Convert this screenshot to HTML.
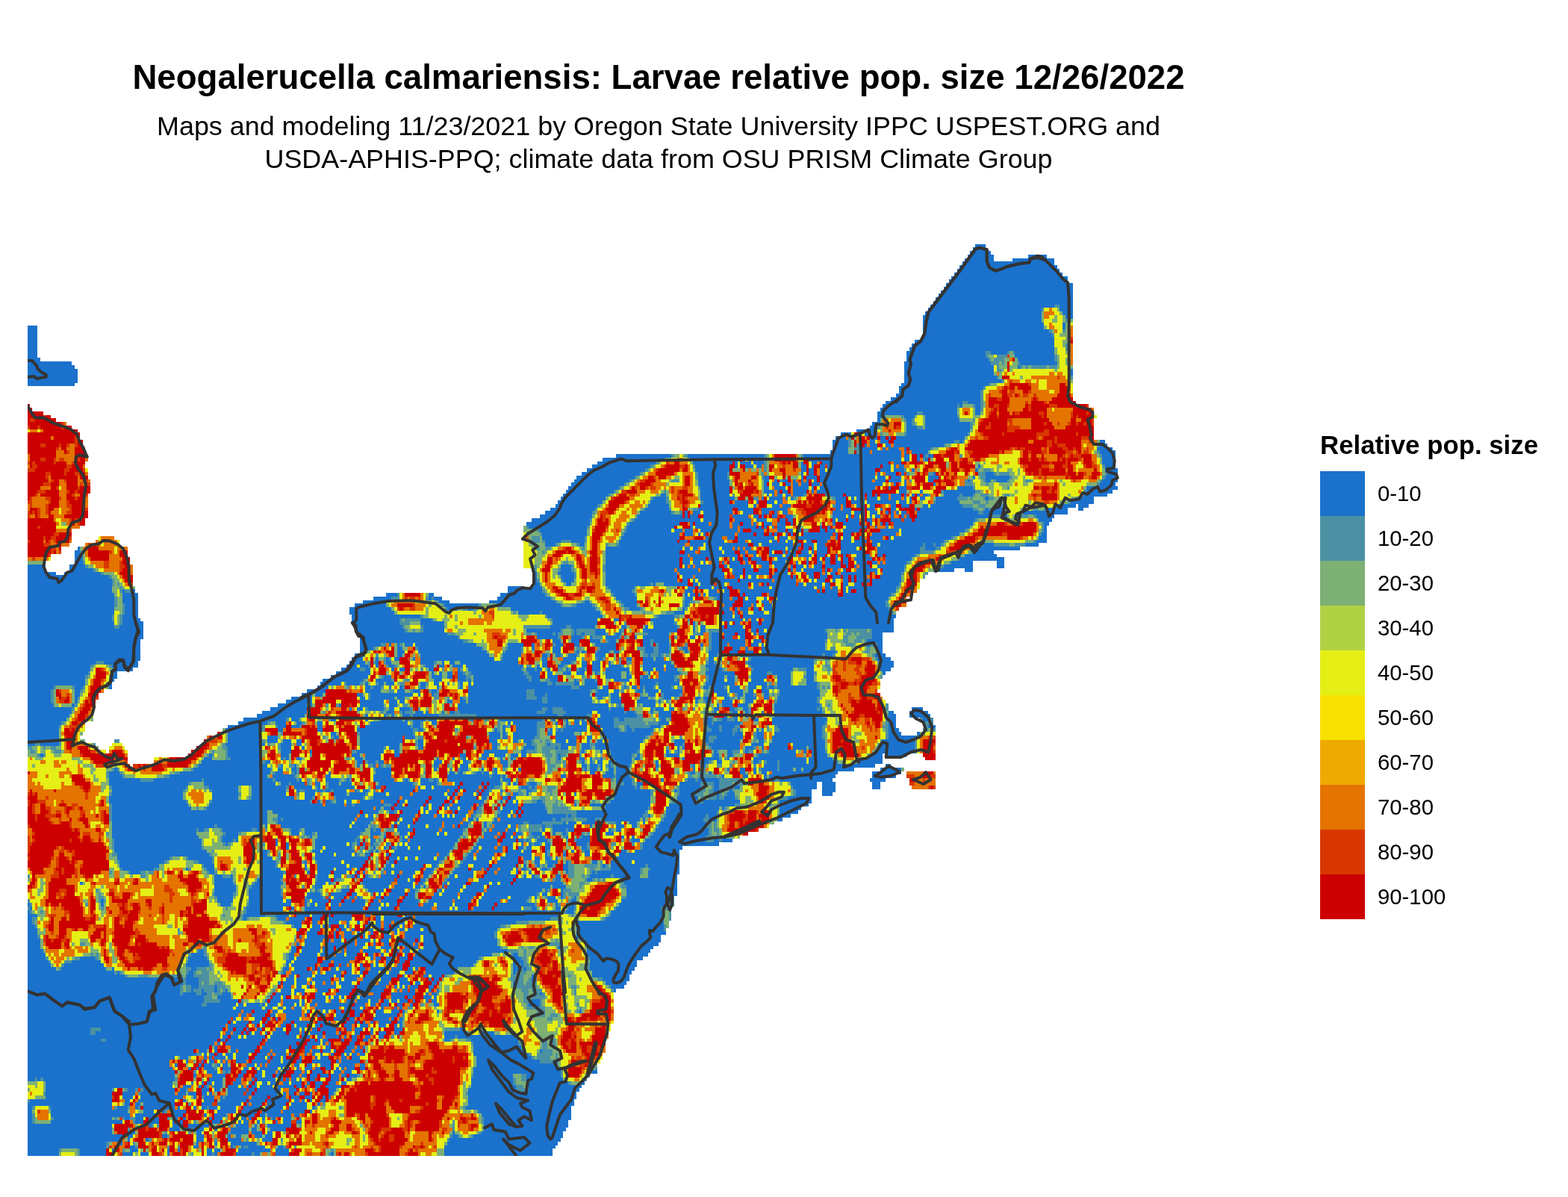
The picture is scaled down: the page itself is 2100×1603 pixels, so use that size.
<!DOCTYPE html>
<html lang="en">
<head>
<meta charset="utf-8">
<title>Neogalerucella calmariensis: Larvae relative pop. size 12/26/2022</title>
<style>
html,body{margin:0;padding:0;background:#fff;}
body{width:2100px;height:1603px;position:relative;overflow:hidden;font-family:"Liberation Sans",Arial,Helvetica,sans-serif;color:#000;}
.map{position:absolute;left:0;top:0;}
.t{position:absolute;white-space:nowrap;line-height:1;}
#title{left:0;width:1764px;text-align:center;top:81px;font-size:45.6px;font-weight:bold;}
#sub1{left:0;width:1764px;text-align:center;top:152px;font-size:35.9px;}
#sub2{left:0;width:1764px;text-align:center;top:196px;font-size:35.9px;}
#lt{left:1768px;top:579px;font-size:34.8px;font-weight:bold;}
.sw{position:absolute;left:1768px;width:60px;height:60px;}
.ll{position:absolute;left:1845px;font-size:29.3px;line-height:60px;height:60px;white-space:nowrap;}
</style>
</head>
<body>
<svg class="map" width="2100" height="1603" viewBox="0 0 2100 1603" shape-rendering="crispEdges">
<path fill="#1a72cc" d="M1306 327h14v4h-14zM1303 331h17v5h-17zM1299 336h28v5h-28zM1296 341h35v5h-35zM1377 341h25v5h-25zM1292 346h39v4h-39zM1356 346h56v4h-56zM1289 350h123v5h-123zM1285 355h131v5h-131zM1282 360h137v5h-137zM1278 365h145v5h-145zM1274 370h156v4h-156zM1271 374h159v5h-159zM1267 379h170v5h-170zM1264 384h173v5h-173zM1260 389h177v4h-177zM1257 393h180v5h-180zM1253 398h184v5h-184zM1250 403h187v5h-187zM1246 408h166v4h-166zM1419 408h18v9h-18zM1243 412h152v5h-152zM1239 417h156v5h-156zM1423 417h14v5h-14zM1427 422h10v5h-10zM1236 422h159v10h-159zM1236 432h162v9h-162zM1423 432h4v9h-4zM1236 441h169v5h-169zM1236 446h173v5h-173zM1236 451h176v4h-176zM1225 455h187v5h-187zM1221 460h191v5h-191zM1218 465h194v5h-194zM1327 470h22v5h-22zM37 436h13v43h-13zM1359 470h53v9h-53zM1214 470h106v9h-106zM1363 479h49v5h-49zM1214 479h110v5h-110zM37 479h17v5h-17zM1211 484h116v5h-116zM1366 484h50v5h-50zM37 484h59v5h-59zM37 489h63v5h-63zM1363 489h3v5h-3zM1211 489h120v14h-120zM1434 494h3v9h-3zM1211 503h124v5h-124zM37 494h67v19h-67zM1211 508h131v5h-131zM1207 513h117v4h-117zM37 513h63v4h-63zM1204 517h113v5h-113zM1204 522h109v5h-109zM1200 527h113v5h-113zM1193 532h120v5h-120zM1296 537h17v4h-17zM1186 537h103v4h-103zM1285 541h4v5h-4zM1182 541h100v5h-100zM1179 546h103v5h-103zM1306 541h7v15h-7zM1175 551h53v5h-53zM1236 551h46v5h-46zM1175 556h7v4h-7zM1239 556h43v4h-43zM1211 556h14v4h-14zM1175 560h4v5h-4zM1239 560h46v5h-46zM1214 560h7v10h-7zM1168 565h11v5h-11zM1239 565h60v10h-60zM1214 570h14v5h-14zM1165 570h10v9h-10zM1214 575h85v4h-85zM1147 575h14v4h-14zM1214 579h82v5h-82zM1126 579h14v5h-14zM1151 579h3v5h-3zM1158 579h17v5h-17zM1165 584h10v5h-10zM1179 584h7v5h-7zM1119 584h14v5h-14zM1190 584h3v5h-3zM1200 584h92v5h-92zM1285 589h4v5h-4zM1165 589h7v5h-7zM1473 589h7v5h-7zM1197 589h81v5h-81zM1179 589h11v5h-11zM1165 594h10v5h-10zM1473 594h10v5h-10zM1197 594h67v5h-67zM1186 594h7v5h-7zM1158 594h3v5h-3zM1115 589h21v14h-21zM1154 599h21v4h-21zM1190 599h14v4h-14zM1469 599h21v4h-21zM1218 599h28v4h-28zM1182 599h4v4h-4zM1211 599h3v9h-3zM1221 603h22v5h-22zM1168 603h39v5h-39zM1473 603h21v5h-21zM1151 603h14v5h-14zM1112 603h24v5h-24zM1243 608h7v5h-7zM921 608h102v5h-102zM1236 608h3v5h-3zM825 608h74v5h-74zM1076 608h131v5h-131zM1211 608h7v10h-7zM1228 608h4v10h-4zM1083 613h124v5h-124zM995 613h3v5h-3zM807 613h82v5h-82zM1239 613h4v5h-4zM1002 613h4v5h-4zM924 613h67v5h-67zM1476 608h18v14h-18zM1009 613h14v9h-14zM928 618h53v4h-53zM1087 618h7v4h-7zM1073 618h3v4h-3zM1197 618h10v4h-10zM1101 618h89v4h-89zM800 618h78v4h-78zM991 618h15v4h-15zM984 618h4v9h-4zM1108 622h71v5h-71zM1310 622h3v5h-3zM1087 622h3v5h-3zM1204 622h7v5h-7zM1197 622h3v5h-3zM793 622h78v5h-78zM1480 622h14v5h-14zM998 622h11v5h-11zM1182 622h11v5h-11zM1013 622h7v5h-7zM1073 622h7v10h-7zM931 622h46v10h-46zM1098 622h7v10h-7zM1221 627h4v5h-4zM1108 627h64v5h-64zM1179 627h14v5h-14zM786 627h78v5h-78zM1480 627h17v5h-17zM1197 627h14v5h-14zM1306 627h4v5h-4zM1083 627h7v10h-7zM779 632h78v5h-78zM1483 632h14v5h-14zM1320 632h11v5h-11zM1250 632h3v5h-3zM1186 632h14v5h-14zM1207 632h4v5h-4zM1175 632h4v5h-4zM935 632h39v10h-39zM1098 632h74v10h-74zM772 637h78v5h-78zM1080 637h14v5h-14zM1320 637h32v5h-32zM1243 637h14v5h-14zM1303 637h3v5h-3zM1480 637h17v5h-17zM1193 637h14v5h-14zM1175 637h11v5h-11zM1073 632h3v14h-3zM1023 637h7v9h-7zM1037 642h4v4h-4zM1172 642h14v4h-14zM1048 642h7v4h-7zM1062 642h4v4h-4zM1098 642h70v4h-70zM1320 642h7v4h-7zM1296 642h3v4h-3zM1243 642h7v4h-7zM1335 642h14v4h-14zM1190 642h17v4h-17zM1080 642h3v4h-3zM1476 642h21v4h-21zM1090 642h4v4h-4zM769 642h74v4h-74zM935 642h42v9h-42zM1211 642h3v9h-3zM1034 646h10v5h-10zM1052 646h7v5h-7zM1101 646h81v5h-81zM1250 646h3v5h-3zM1073 646h10v5h-10zM1023 646h4v5h-4zM1197 646h3v5h-3zM1062 646h7v5h-7zM1087 646h11v5h-11zM1473 646h21v5h-21zM765 646h71v5h-71zM761 651h68v5h-68zM1023 651h7v5h-7zM1037 651h15v5h-15zM1098 651h74v5h-74zM1190 651h3v5h-3zM1282 651h21v5h-21zM1062 651h21v5h-21zM1455 651h42v5h-42zM1204 651h10v10h-10zM1087 651h3v10h-3zM1062 656h18v5h-18zM1048 656h7v5h-7zM1023 656h14v5h-14zM1232 656h4v5h-4zM1094 656h74v5h-74zM1455 656h35v5h-35zM758 656h64v5h-64zM1264 656h42v5h-42zM1041 656h3v5h-3zM938 651h39v14h-39zM1041 661h7v4h-7zM1221 661h4v4h-4zM1112 661h17v4h-17zM1236 661h7v4h-7zM1451 661h32v4h-32zM1133 661h25v4h-25zM1027 661h3v4h-3zM1052 661h7v4h-7zM1034 661h3v4h-3zM1228 661h4v4h-4zM1062 661h14v4h-14zM1172 661h3v4h-3zM1161 661h7v4h-7zM1289 661h14v4h-14zM754 661h61v4h-61zM1264 661h21v4h-21zM885 661h7v4h-7zM1211 661h3v9h-3zM1193 661h14v9h-14zM1179 661h11v9h-11zM1444 665h21v5h-21zM1059 665h3v5h-3zM751 665h60v5h-60zM875 665h17v5h-17zM1232 665h7v5h-7zM1020 665h3v5h-3zM1253 665h29v5h-29zM1140 665h4v5h-4zM1147 665h11v5h-11zM938 665h46v5h-46zM1320 665h4v5h-4zM1030 665h18v5h-18zM1161 665h14v5h-14zM1052 665h3v5h-3zM1119 665h14v10h-14zM1218 665h3v10h-3zM1338 665h4v10h-4zM1041 670h7v5h-7zM1253 670h32v5h-32zM871 670h21v5h-21zM747 670h60v5h-60zM1204 670h10v5h-10zM1434 670h31v5h-31zM1027 670h10v5h-10zM984 670h18v5h-18zM942 670h35v5h-35zM1140 670h18v5h-18zM1013 670h3v5h-3zM1161 670h39v5h-39zM1009 675h4v5h-4zM1165 675h7v5h-7zM868 675h28v5h-28zM1444 675h14v5h-14zM1236 675h7v5h-7zM1416 675h25v5h-25zM1129 675h4v5h-4zM1034 675h10v5h-10zM1147 675h11v5h-11zM938 675h64v5h-64zM1048 675h11v5h-11zM1207 675h11v5h-11zM744 675h56v5h-56zM1246 675h43v5h-43zM1119 675h7v9h-7zM1193 675h7v9h-7zM1020 680h35v4h-35zM864 680h32v4h-32zM1179 680h3v4h-3zM1232 680h71v4h-71zM1154 680h4v4h-4zM1444 680h7v4h-7zM1129 680h11v4h-11zM1161 680h11v4h-11zM1331 680h14v4h-14zM935 680h46v4h-46zM1320 680h4v4h-4zM1402 680h28v4h-28zM737 680h60v4h-60zM1225 680h3v4h-3zM988 680h21v4h-21zM1037 684h4v5h-4zM1020 684h10v5h-10zM1048 684h7v5h-7zM730 684h63v5h-63zM1228 684h82v5h-82zM1144 684h14v5h-14zM1115 684h25v5h-25zM995 684h14v5h-14zM942 684h39v5h-39zM1165 684h10v5h-10zM1207 684h7v5h-7zM1317 684h28v5h-28zM1370 684h60v5h-60zM857 684h42v5h-42zM1200 684h4v5h-4zM928 684h10v5h-10zM1186 684h4v5h-4zM1193 684h4v10h-4zM917 684h4v10h-4zM723 689h70v5h-70zM1359 689h7v5h-7zM1172 689h7v5h-7zM1020 689h3v5h-3zM853 689h61v5h-61zM1144 689h7v5h-7zM1115 689h18v5h-18zM1136 689h4v5h-4zM1388 689h24v5h-24zM924 689h11v5h-11zM1034 689h7v5h-7zM1165 689h3v5h-3zM1009 689h7v5h-7zM1207 689h4v5h-4zM981 689h21v5h-21zM1052 689h10v5h-10zM1228 689h99v5h-99zM1342 689h7v5h-7zM1214 689h4v5h-4zM942 689h35v10h-35zM1136 694h15v5h-15zM1211 694h10v5h-10zM1161 694h7v5h-7zM1122 694h11v5h-11zM1055 694h7v5h-7zM1044 694h8v5h-8zM1013 694h14v5h-14zM712 694h78v5h-78zM984 694h22v5h-22zM1391 694h18v5h-18zM1193 694h14v5h-14zM850 694h88v5h-88zM1225 694h81v5h-81zM1154 689h4v15h-4zM1115 694h4v10h-4zM1009 699h4v5h-4zM1059 699h3v5h-3zM843 699h67v5h-67zM1179 699h3v5h-3zM1398 699h7v5h-7zM1023 699h11v5h-11zM1129 699h22v5h-22zM1165 699h3v5h-3zM1197 699h106v5h-106zM931 699h18v5h-18zM995 699h11v5h-11zM981 699h10v5h-10zM705 699h85v5h-85zM953 699h24v5h-24zM924 699h4v9h-4zM1186 699h4v9h-4zM1023 704h4v4h-4zM708 704h78v4h-78zM1133 704h28v4h-28zM991 704h22v4h-22zM839 704h64v4h-64zM931 704h46v4h-46zM1016 704h4v4h-4zM1108 704h4v4h-4zM1034 704h3v4h-3zM1098 704h3v4h-3zM1197 704h102v4h-102zM1172 704h3v4h-3zM981 704h7v4h-7zM1041 699h11v14h-11zM1398 704h4v9h-4zM1069 708h4v5h-4zM991 708h4v5h-4zM1006 708h17v5h-17zM1129 708h22v5h-22zM1179 708h25v5h-25zM1098 708h7v5h-7zM723 708h63v5h-63zM1055 708h7v5h-7zM1108 708h11v5h-11zM938 708h50v5h-50zM1207 708h85v5h-85zM839 708h60v5h-60zM903 708h11v5h-11zM917 708h11v10h-11zM1154 708h4v10h-4zM953 713h31v5h-31zM1076 713h39v5h-39zM1059 713h3v5h-3zM1037 713h4v5h-4zM1395 713h7v5h-7zM935 713h3v5h-3zM836 713h74v5h-74zM1168 713h32v5h-32zM1030 713h4v5h-4zM1052 713h3v5h-3zM942 713h3v5h-3zM1013 713h10v5h-10zM988 713h21v5h-21zM1207 713h78v5h-78zM726 713h60v5h-60zM1119 713h3v10h-3zM1129 713h11v10h-11zM832 718h78v5h-78zM945 718h4v5h-4zM1044 718h11v5h-11zM974 718h10v5h-10zM953 718h14v5h-14zM988 718h49v5h-49zM1197 718h77v5h-77zM1066 718h46v5h-46zM1165 718h17v5h-17zM1190 718h3v5h-3zM1391 718h11v5h-11zM726 718h57v5h-57zM1151 718h7v5h-7zM1388 723h14v4h-14zM765 723h18v4h-18zM1168 723h96v4h-96zM1080 723h7v4h-7zM924 723h46v4h-46zM1006 723h24v4h-24zM1055 723h7v4h-7zM1066 723h3v4h-3zM1126 723h14v4h-14zM1094 723h14v4h-14zM1034 723h7v4h-7zM1044 723h8v4h-8zM730 723h21v4h-21zM910 723h11v4h-11zM1144 723h17v4h-17zM988 723h10v4h-10zM829 723h78v4h-78zM924 727h18v5h-18zM1009 727h7v5h-7zM776 727h7v5h-7zM829 727h88v5h-88zM1126 727h32v5h-32zM1253 727h7v5h-7zM1076 727h14v5h-14zM1094 727h11v5h-11zM1066 727h7v5h-7zM1373 727h18v5h-18zM1168 727h7v5h-7zM945 727h57v5h-57zM1239 727h11v5h-11zM1179 727h57v5h-57zM1317 727h14v5h-14zM1020 727h42v5h-42zM730 727h14v5h-14zM104 732h3v5h-3zM998 732h8v5h-8zM1310 732h56v5h-56zM945 732h18v5h-18zM1055 732h14v5h-14zM1154 732h4v5h-4zM1239 732h14v5h-14zM984 732h4v5h-4zM928 732h7v5h-7zM967 732h14v5h-14zM1126 732h21v5h-21zM811 732h103v5h-103zM917 732h7v5h-7zM991 732h4v5h-4zM1076 732h7v5h-7zM1030 732h22v5h-22zM1087 732h3v10h-3zM1175 732h57v10h-57zM1094 732h14v10h-14zM811 737h99v5h-99zM100 737h7v5h-7zM1303 737h28v5h-28zM1055 737h4v5h-4zM1073 737h10v5h-10zM991 737h7v5h-7zM1126 737h32v5h-32zM1048 737h4v5h-4zM1030 737h4v5h-4zM917 737h14v5h-14zM1002 737h11v5h-11zM970 737h14v5h-14zM938 737h29v5h-29zM1062 737h4v9h-4zM1009 742h4v4h-4zM1030 742h18v4h-18zM1129 742h4v4h-4zM811 742h110v4h-110zM1186 742h39v4h-39zM1175 742h7v4h-7zM1094 742h11v4h-11zM995 742h3v4h-3zM1052 742h7v4h-7zM1147 742h18v4h-18zM1069 742h18v4h-18zM1292 742h43v4h-43zM924 742h64v4h-64zM1119 742h3v9h-3zM977 746h4v5h-4zM984 746h4v5h-4zM1186 746h35v5h-35zM995 746h7v5h-7zM1006 746h14v5h-14zM1285 746h60v5h-60zM1144 746h24v5h-24zM928 746h17v5h-17zM1094 746h4v5h-4zM949 746h14v5h-14zM1041 746h14v5h-14zM100 742h11v14h-11zM1129 746h7v10h-7zM914 746h10v10h-10zM1105 746h7v10h-7zM967 751h3v5h-3zM1179 751h3v5h-3zM942 751h3v5h-3zM1147 751h14v5h-14zM1066 751h3v5h-3zM1186 751h28v5h-28zM1119 751h7v5h-7zM1013 751h17v5h-17zM1094 751h7v5h-7zM1034 751h18v5h-18zM928 751h10v5h-10zM998 751h4v5h-4zM1274 751h29v5h-29zM1168 751h7v5h-7zM977 751h14v5h-14zM953 751h10v5h-10zM811 746h99v15h-99zM1080 746h3v15h-3zM1335 751h10v10h-10zM1020 756h10v5h-10zM970 756h4v5h-4zM1037 756h18v5h-18zM977 756h29v5h-29zM1264 756h39v5h-39zM924 756h4v5h-4zM1151 756h14v5h-14zM931 756h32v5h-32zM1066 756h10v5h-10zM1175 756h36v5h-36zM1105 756h21v5h-21zM1090 756h11v5h-11zM1133 756h3v5h-3zM1144 756h3v5h-3zM917 756h4v5h-4zM93 756h21v5h-21zM1059 756h3v10h-3zM751 756h14v10h-14zM37 756h24v10h-24zM811 761h92v5h-92zM907 761h28v5h-28zM1129 761h4v5h-4zM712 761h4v5h-4zM1147 761h28v5h-28zM93 761h32v5h-32zM1292 761h11v5h-11zM998 761h11v5h-11zM938 761h29v5h-29zM1016 761h14v5h-14zM1253 761h25v5h-25zM1066 761h7v5h-7zM1182 761h29v5h-29zM1076 761h25v5h-25zM1041 761h14v5h-14zM1115 761h7v5h-7zM1105 761h3v9h-3zM981 761h14v9h-14zM1126 766h39v4h-39zM747 766h22v4h-22zM37 766h38v4h-38zM86 766h49v4h-49zM910 766h60v4h-60zM1037 766h7v4h-7zM998 766h32v4h-32zM1048 766h7v4h-7zM1080 766h10v4h-10zM1112 766h7v4h-7zM1098 766h3v4h-3zM1172 766h3v4h-3zM1182 766h25v4h-25zM914 770h14v5h-14zM751 770h18v5h-18zM1083 770h7v5h-7zM1179 770h28v5h-28zM1098 770h10v5h-10zM1006 770h7v5h-7zM984 770h7v5h-7zM1034 770h25v5h-25zM931 770h39v5h-39zM998 770h4v5h-4zM1062 770h4v5h-4zM1147 770h14v5h-14zM37 770h109v5h-109zM1115 770h11v5h-11zM716 766h3v14h-3zM811 766h96v14h-96zM1140 770h4v10h-4zM1037 775h29v5h-29zM1115 775h4v5h-4zM1168 775h39v5h-39zM1094 775h11v5h-11zM991 775h43v5h-43zM914 775h7v5h-7zM1147 775h18v5h-18zM1087 775h3v5h-3zM754 775h15v5h-15zM928 775h3v5h-3zM935 775h53v5h-53zM1129 770h7v15h-7zM1009 780h7v5h-7zM1069 780h7v5h-7zM875 780h3v5h-3zM1023 780h4v5h-4zM716 780h7v5h-7zM977 780h25v5h-25zM1030 780h36v5h-36zM758 780h7v5h-7zM960 780h10v5h-10zM1168 780h36v5h-36zM1144 780h10v5h-10zM928 780h7v5h-7zM811 780h60v5h-60zM889 780h32v5h-32zM1158 780h3v5h-3zM938 780h18v5h-18zM1080 780h21v5h-21zM1105 780h7v9h-7zM1136 785h64v4h-64zM1115 785h7v4h-7zM1034 785h56v4h-56zM981 785h21v4h-21zM935 785h18v4h-18zM1009 785h21v4h-21zM1094 785h7v4h-7zM815 785h35v4h-35zM680 785h21v4h-21zM956 785h18v4h-18zM921 785h10v4h-10zM712 785h14v4h-14zM37 775h113v19h-113zM1129 785h4v9h-4zM1147 789h53v5h-53zM178 789h3v5h-3zM164 789h3v5h-3zM818 789h28v5h-28zM970 789h7v5h-7zM680 789h46v5h-46zM917 789h11v5h-11zM1105 789h17v5h-17zM949 789h11v5h-11zM1136 789h4v5h-4zM991 789h103v5h-103zM1098 789h3v5h-3zM949 794h28v5h-28zM991 794h4v5h-4zM574 794h7v5h-7zM517 794h15v5h-15zM935 794h3v5h-3zM822 794h28v5h-28zM1129 794h64v5h-64zM924 794h7v5h-7zM1030 794h7v5h-7zM998 794h22v5h-22zM942 794h3v5h-3zM1041 794h81v5h-81zM670 794h60v5h-60zM917 794h4v5h-4zM960 799h17v5h-17zM1023 799h4v5h-4zM574 799h4v5h-4zM1002 799h11v5h-11zM666 799h71v5h-71zM995 799h3v5h-3zM581 799h11v5h-11zM1041 799h149v5h-149zM500 799h24v5h-24zM917 799h11v5h-11zM981 799h7v5h-7zM825 799h28v5h-28zM164 794h21v14h-21zM486 804h31v4h-31zM995 804h18v4h-18zM1020 804h10v4h-10zM967 804h17v4h-17zM783 804h7v4h-7zM1034 804h152v4h-152zM832 804h21v4h-21zM917 804h7v4h-7zM655 804h89v4h-89zM588 804h14v4h-14zM1009 808h4v5h-4zM595 808h46v5h-46zM836 808h17v5h-17zM475 808h42v5h-42zM970 808h11v5h-11zM666 808h85v5h-85zM1037 808h149v5h-149zM995 808h11v5h-11zM1023 808h11v5h-11zM772 808h21v5h-21zM917 808h4v5h-4zM1009 813h7v5h-7zM468 813h56v5h-56zM684 813h113v5h-113zM843 813h14v5h-14zM914 813h3v5h-3zM599 813h10v5h-10zM1023 813h167v5h-167zM967 813h10v5h-10zM991 813h11v5h-11zM627 813h7v5h-7zM37 794h116v29h-116zM167 808h18v15h-18zM984 813h4v10h-4zM726 818h78v5h-78zM995 818h7v5h-7zM970 818h11v5h-11zM694 818h29v5h-29zM1030 818h163v5h-163zM903 818h14v5h-14zM1009 818h14v5h-14zM468 818h60v5h-60zM995 823h205v5h-205zM164 823h21v5h-21zM984 823h7v5h-7zM967 823h14v5h-14zM882 823h21v5h-21zM733 823h74v5h-74zM471 823h92v5h-92zM37 823h113v9h-113zM563 828h15v4h-15zM822 828h7v4h-7zM1023 828h174v4h-174zM1006 828h7v4h-7zM164 828h24v4h-24zM998 828h4v4h-4zM871 828h32v4h-32zM967 828h28v4h-28zM740 828h60v9h-60zM471 828h64v9h-64zM164 832h28v5h-28zM1006 832h10v5h-10zM984 832h7v5h-7zM1020 832h177v5h-177zM563 832h32v5h-32zM974 832h3v5h-3zM875 832h28v5h-28zM37 832h116v10h-116zM967 837h3v5h-3zM737 837h21v5h-21zM1006 837h191v5h-191zM864 837h4v5h-4zM832 837h7v5h-7zM875 837h32v5h-32zM765 837h32v5h-32zM974 837h21v5h-21zM160 837h32v5h-32zM475 837h64v5h-64zM928 832h3v15h-3zM938 837h7v10h-7zM567 837h28v10h-28zM829 842h3v5h-3zM1006 842h7v5h-7zM1168 842h29v5h-29zM861 842h46v5h-46zM1027 842h78v5h-78zM1016 842h7v5h-7zM963 842h35v5h-35zM705 842h46v5h-46zM475 842h67v5h-67zM769 842h3v9h-3zM797 842h14v9h-14zM1009 847h4v4h-4zM719 847h21v4h-21zM970 847h14v4h-14zM868 847h28v4h-28zM988 847h10v4h-10zM938 847h4v4h-4zM744 847h3v4h-3zM1016 847h92v4h-92zM825 847h7v4h-7zM779 847h4v4h-4zM478 847h121v4h-121zM37 842h155v14h-155zM1168 847h14v9h-14zM953 847h14v9h-14zM991 851h7v5h-7zM970 851h11v5h-11zM811 851h18v5h-18zM482 851h131v5h-131zM1023 851h85v5h-85zM924 851h7v5h-7zM861 851h35v5h-35zM790 851h3v5h-3zM765 851h14v5h-14zM850 851h3v5h-3zM719 851h28v5h-28zM790 856h14v5h-14zM740 856h11v5h-11zM482 856h138v5h-138zM875 856h21v5h-21zM953 856h45v5h-45zM1161 856h21v5h-21zM765 856h11v5h-11zM1009 856h11v5h-11zM815 856h10v5h-10zM1027 856h78v10h-78zM861 856h10v10h-10zM953 861h21v5h-21zM744 861h10v5h-10zM769 861h7v5h-7zM1020 861h3v5h-3zM556 861h82v5h-82zM1161 861h4v5h-4zM482 861h28v5h-28zM1006 861h10v5h-10zM521 861h3v5h-3zM938 861h4v5h-4zM797 861h28v5h-28zM542 861h11v5h-11zM532 861h3v5h-3zM977 861h21v5h-21zM680 861h21v5h-21zM712 861h4v10h-4zM560 866h85v5h-85zM680 866h18v5h-18zM1020 866h85v5h-85zM532 866h7v5h-7zM914 866h7v5h-7zM482 866h18v5h-18zM981 866h10v5h-10zM953 866h17v5h-17zM998 866h4v5h-4zM804 866h21v5h-21zM1175 861h7v14h-7zM882 861h14v14h-14zM864 866h11v9h-11zM740 866h11v9h-11zM532 871h10v4h-10zM677 871h21v4h-21zM1020 871h99v4h-99zM560 871h92v4h-92zM977 871h11v4h-11zM949 871h18v4h-18zM772 871h4v4h-4zM779 871h4v4h-4zM800 871h15v4h-15zM482 871h7v4h-7zM998 871h11v4h-11zM822 871h7v4h-7zM917 871h4v4h-4zM563 875h92v5h-92zM1172 875h14v5h-14zM868 875h3v5h-3zM761 875h11v5h-11zM532 875h7v5h-7zM744 875h7v5h-7zM949 875h11v5h-11zM998 875h103v5h-103zM475 875h11v5h-11zM882 875h3v5h-3zM1105 875h10v5h-10zM991 875h4v5h-4zM797 875h14v5h-14zM673 875h25v5h-25zM37 856h151v29h-151zM963 875h4v10h-4zM878 880h11v5h-11zM1006 880h84v5h-84zM528 880h7v5h-7zM861 880h14v5h-14zM517 880h4v5h-4zM839 880h7v5h-7zM1175 880h18v5h-18zM754 880h18v5h-18zM553 880h3v5h-3zM471 880h15v5h-15zM673 880h21v5h-21zM800 880h7v5h-7zM563 880h99v5h-99zM949 880h7v10h-7zM468 885h21v5h-21zM1002 885h88v5h-88zM815 885h3v5h-3zM563 885h18v5h-18zM751 885h14v5h-14zM37 885h91v5h-91zM602 885h7v5h-7zM861 885h38v5h-38zM139 885h46v5h-46zM517 885h7v5h-7zM616 885h78v5h-78zM592 885h3v5h-3zM726 875h7v19h-7zM503 880h4v14h-4zM779 885h7v9h-7zM1179 885h18v9h-18zM464 890h14v4h-14zM1006 890h84v4h-84zM588 890h7v4h-7zM815 890h17v4h-17zM945 890h18v4h-18zM747 890h7v4h-7zM892 890h11v4h-11zM624 890h77v4h-77zM150 890h35v4h-35zM482 890h11v4h-11zM570 890h11v4h-11zM606 890h14v4h-14zM521 890h7v4h-7zM719 890h4v4h-4zM861 890h28v4h-28zM793 885h11v14h-11zM37 890h84v9h-84zM878 894h11v5h-11zM861 894h14v5h-14zM153 894h25v5h-25zM758 894h3v5h-3zM733 894h4v5h-4zM776 894h7v5h-7zM524 894h4v5h-4zM949 894h18v5h-18zM705 894h11v5h-11zM892 894h15v5h-15zM719 894h7v5h-7zM535 894h7v5h-7zM1009 894h53v5h-53zM1179 894h14v5h-14zM627 894h71v5h-71zM613 894h3v5h-3zM574 894h7v5h-7zM811 894h32v5h-32zM457 894h25v5h-25zM489 894h7v5h-7zM631 899h70v5h-70zM153 899h4v5h-4zM868 899h3v5h-3zM772 899h11v5h-11zM588 899h4v5h-4zM578 899h3v5h-3zM450 899h46v5h-46zM708 899h15v5h-15zM882 899h28v5h-28zM733 899h7v5h-7zM37 899h81v5h-81zM839 899h4v5h-4zM754 899h11v5h-11zM797 899h3v5h-3zM1034 899h25v5h-25zM945 899h39v5h-39zM1182 899h4v5h-4zM613 899h7v5h-7zM599 899h7v10h-7zM811 899h21v10h-21zM1006 899h21v10h-21zM861 904h7v5h-7zM839 904h7v5h-7zM514 904h10v5h-10zM578 904h14v5h-14zM634 904h71v5h-71zM733 904h14v5h-14zM443 904h50v5h-50zM882 904h21v5h-21zM150 904h7v5h-7zM1080 894h10v19h-10zM949 904h21v9h-21zM613 904h11v9h-11zM712 904h11v9h-11zM974 904h10v9h-10zM769 909h3v4h-3zM503 909h21v4h-21zM581 909h11v4h-11zM1006 909h17v4h-17zM907 909h3v4h-3zM634 909h74v4h-74zM783 909h14v4h-14zM737 909h10v4h-10zM432 909h54v4h-54zM150 909h3v4h-3zM822 909h21v4h-21zM857 909h46v4h-46zM1041 904h18v14h-18zM37 904h77v14h-77zM627 909h4v9h-4zM1080 913h14v5h-14zM783 913h17v5h-17zM517 913h11v5h-11zM769 913h7v5h-7zM464 913h18v5h-18zM507 913h7v5h-7zM489 913h4v5h-4zM634 913h99v5h-99zM740 913h4v5h-4zM882 913h28v5h-28zM1002 913h25v5h-25zM429 913h28v5h-28zM857 913h21v5h-21zM945 913h39v5h-39zM581 913h7v5h-7zM616 913h4v10h-4zM563 913h7v10h-7zM146 913h4v10h-4zM37 918h35v5h-35zM857 918h4v5h-4zM425 918h15v5h-15zM864 918h11v5h-11zM1020 918h7v5h-7zM942 918h7v5h-7zM846 918h7v5h-7zM1030 918h7v5h-7zM100 918h11v5h-11zM521 918h3v5h-3zM882 918h17v5h-17zM535 918h4v5h-4zM585 918h3v5h-3zM500 918h10v5h-10zM1002 918h11v5h-11zM953 918h17v5h-17zM776 918h24v5h-24zM836 918h3v5h-3zM489 918h7v5h-7zM977 918h14v5h-14zM807 918h8v5h-8zM1041 918h53v5h-53zM627 918h138v5h-138zM532 923h10v5h-10zM977 923h18v5h-18zM1020 923h10v5h-10zM885 923h29v5h-29zM864 923h18v5h-18zM411 923h25v5h-25zM853 923h8v5h-8zM956 923h18v5h-18zM800 923h15v5h-15zM578 923h7v5h-7zM1002 923h7v5h-7zM553 923h10v5h-10zM489 923h21v5h-21zM716 923h74v5h-74zM822 923h7v5h-7zM100 923h7v10h-7zM1044 923h54v10h-54zM478 928h8v5h-8zM797 928h18v5h-18zM868 928h10v5h-10zM988 928h7v5h-7zM560 928h3v5h-3zM496 928h57v5h-57zM716 928h14v5h-14zM960 928h14v5h-14zM578 928h3v5h-3zM422 928h10v5h-10zM889 928h21v5h-21zM998 928h11v5h-11zM733 928h57v5h-57zM404 928h14v5h-14zM627 923h78v14h-78zM818 928h11v9h-11zM1023 928h7v9h-7zM998 933h15v4h-15zM532 933h10v4h-10zM616 933h4v4h-4zM857 933h11v4h-11zM496 933h32v4h-32zM931 933h7v4h-7zM390 933h28v4h-28zM942 933h7v4h-7zM719 933h7v4h-7zM482 933h7v4h-7zM988 933h3v4h-3zM889 933h10v4h-10zM800 933h7v4h-7zM970 933h7v4h-7zM37 923h31v19h-31zM1041 933h53v9h-53zM100 933h4v9h-4zM733 933h60v9h-60zM853 937h25v5h-25zM383 937h35v5h-35zM599 937h7v5h-7zM627 937h99v5h-99zM945 937h4v5h-4zM535 937h7v5h-7zM931 937h4v5h-4zM616 937h8v5h-8zM818 937h14v5h-14zM882 937h3v5h-3zM998 937h11v5h-11zM521 937h11v10h-11zM967 937h14v10h-14zM482 937h32v10h-32zM37 942h35v5h-35zM988 942h14v5h-14zM1037 942h61v5h-61zM372 942h39v5h-39zM613 942h202v5h-202zM96 942h4v5h-4zM829 942h3v5h-3zM454 942h3v5h-3zM861 942h17v5h-17zM960 942h3v5h-3zM415 942h3v5h-3zM478 947h8v5h-8zM977 947h7v5h-7zM493 947h21v5h-21zM878 947h11v5h-11zM896 947h7v5h-7zM956 947h7v5h-7zM468 947h3v5h-3zM1221 947h15v5h-15zM362 947h49v5h-49zM535 947h14v5h-14zM995 947h7v5h-7zM613 947h113v5h-113zM1098 947h3v5h-3zM733 947h7v5h-7zM754 947h61v5h-61zM521 947h7v5h-7zM818 947h18v5h-18zM1037 947h57v5h-57zM871 947h4v9h-4zM37 947h59v9h-59zM517 952h11v4h-11zM1020 952h3v4h-3zM800 952h36v4h-36zM556 952h11v4h-11zM758 952h35v4h-35zM730 952h10v4h-10zM351 952h60v4h-60zM539 952h3v4h-3zM602 952h7v4h-7zM956 952h4v4h-4zM1218 952h25v4h-25zM839 952h11v4h-11zM570 952h4v4h-4zM1190 952h7v4h-7zM592 952h3v4h-3zM616 952h103v4h-103zM882 952h17v9h-17zM1037 952h64v9h-64zM998 952h4v9h-4zM981 952h7v9h-7zM344 956h64v5h-64zM970 956h4v5h-4zM638 956h109v5h-109zM524 956h4v5h-4zM514 956h3v5h-3zM539 956h10v5h-10zM1218 956h28v5h-28zM754 956h32v5h-32zM553 956h35v5h-35zM804 956h49v5h-49zM37 956h56v5h-56zM489 956h4v10h-4zM510 961h29v5h-29zM670 961h56v5h-56zM1034 961h74v5h-74zM984 961h4v5h-4zM443 961h7v5h-7zM967 961h7v5h-7zM779 961h4v5h-4zM631 961h3v5h-3zM553 961h17v5h-17zM740 961h4v5h-4zM37 961h52v5h-52zM574 961h11v5h-11zM1009 961h7v5h-7zM542 961h4v5h-4zM1236 961h10v5h-10zM390 961h11v5h-11zM829 961h7v5h-7zM326 961h57v5h-57zM885 961h7v5h-7zM758 961h3v10h-3zM769 961h7v10h-7zM800 961h22v10h-22zM945 961h8v10h-8zM956 966h35v5h-35zM369 966h14v5h-14zM687 966h32v5h-32zM744 966h3v5h-3zM779 966h7v5h-7zM319 966h39v5h-39zM496 966h50v5h-50zM680 966h4v5h-4zM578 966h7v5h-7zM1034 966h71v5h-71zM37 966h45v5h-45zM882 966h14v5h-14zM397 966h7v5h-7zM1190 956h10v19h-10zM553 966h10v9h-10zM1243 971h10v4h-10zM804 971h18v4h-18zM871 971h14v4h-14zM758 971h28v4h-28zM372 971h11v4h-11zM305 971h46v4h-46zM839 971h4v4h-4zM489 971h60v4h-60zM967 971h17v4h-17zM949 971h14v4h-14zM1041 971h60v4h-60zM390 971h11v4h-11zM425 966h7v14h-7zM691 971h28v9h-28zM372 975h7v5h-7zM1044 975h57v5h-57zM1020 975h3v5h-3zM839 975h7v5h-7zM560 975h7v5h-7zM967 975h14v5h-14zM737 975h3v5h-3zM478 975h75v5h-75zM754 975h32v5h-32zM302 975h49v5h-49zM850 975h25v5h-25zM988 975h3v5h-3zM747 975h4v5h-4zM1013 975h3v5h-3zM1190 975h14v5h-14zM807 975h22v5h-22zM662 975h4v5h-4zM953 975h10v5h-10zM673 971h4v14h-4zM687 980h32v5h-32zM945 980h36v5h-36zM984 980h11v5h-11zM744 980h25v5h-25zM807 980h64v5h-64zM1228 980h4v5h-4zM443 980h7v5h-7zM482 980h71v5h-71zM1190 980h17v5h-17zM733 980h7v5h-7zM1037 980h64v5h-64zM305 980h43v10h-43zM1013 980h10v10h-10zM655 980h15v10h-15zM960 985h35v5h-35zM744 985h28v5h-28zM1190 985h38v5h-38zM447 985h7v5h-7zM1034 985h67v5h-67zM807 985h57v5h-57zM542 985h14v5h-14zM786 985h7v5h-7zM687 985h29v5h-29zM673 985h7v5h-7zM37 971h42v24h-42zM945 985h4v10h-4zM358 985h14v10h-14zM482 985h57v10h-57zM956 990h35v5h-35zM1016 990h7v5h-7zM761 990h11v5h-11zM687 990h7v5h-7zM744 990h14v5h-14zM379 990h11v5h-11zM903 990h14v5h-14zM815 990h46v5h-46zM1034 990h71v5h-71zM655 990h11v5h-11zM305 990h46v5h-46zM1182 990h43v5h-43zM786 990h4v5h-4zM800 990h7v5h-7zM701 990h11v5h-11zM397 990h7v9h-7zM733 995h4v4h-4zM1006 995h17v4h-17zM751 995h21v4h-21zM1179 995h46v4h-46zM482 995h53v4h-53zM903 995h11v4h-11zM351 995h4v4h-4zM54 995h25v4h-25zM37 995h10v4h-10zM302 995h46v4h-46zM949 995h42v4h-42zM705 995h7v4h-7zM1062 995h43v4h-43zM560 990h7v14h-7zM779 995h11v9h-11zM1030 995h25v9h-25zM659 995h7v9h-7zM797 995h60v9h-60zM1062 999h18v5h-18zM744 999h3v5h-3zM1020 999h3v5h-3zM751 999h10v5h-10zM701 999h15v5h-15zM914 999h3v5h-3zM404 999h4v5h-4zM1175 999h50v5h-50zM953 999h38v5h-38zM482 999h32v5h-32zM1083 999h22v5h-22zM998 999h11v5h-11zM521 999h14v5h-14zM376 995h14v14h-14zM907 999h3v10h-3zM648 1004h32v5h-32zM818 1004h35v5h-35zM892 1004h4v5h-4zM1076 1004h4v5h-4zM779 1004h4v5h-4zM956 1004h4v5h-4zM1087 1004h18v5h-18zM478 1004h36v5h-36zM1030 1004h36v5h-36zM1172 1004h53v5h-53zM804 1004h3v5h-3zM998 1004h4v5h-4zM415 1004h3v5h-3zM305 999h43v15h-43zM528 1004h7v10h-7zM698 1004h7v10h-7zM974 1004h7v10h-7zM54 1009h4v5h-4zM956 1009h7v5h-7zM892 1009h18v5h-18zM853 1009h4v5h-4zM818 1009h28v5h-28zM471 1009h11v5h-11zM1016 1009h50v5h-50zM1087 1009h21v5h-21zM645 1009h10v5h-10zM1186 1009h28v5h-28zM376 1009h11v5h-11zM616 1009h8v5h-8zM280 1009h4v5h-4zM684 1009h10v5h-10zM1168 1009h14v5h-14zM662 1009h15v5h-15zM747 1009h4v9h-4zM489 1009h21v9h-21zM309 1014h39v4h-39zM822 1014h24v4h-24zM1158 1014h24v4h-24zM776 1014h7v4h-7zM620 1014h4v4h-4zM670 1014h3v4h-3zM606 1014h3v4h-3zM914 1014h3v4h-3zM942 1014h21v4h-21zM1083 1014h32v4h-32zM475 1014h11v4h-11zM850 1014h7v4h-7zM383 1014h4v4h-4zM974 1014h3v4h-3zM585 1014h3v4h-3zM1009 1014h71v4h-71zM273 1014h11v4h-11zM376 1014h3v4h-3zM684 1014h3v4h-3zM804 1014h3v4h-3zM397 1014h7v4h-7zM645 1014h7v4h-7zM790 1014h3v9h-3zM478 1018h8v5h-8zM620 1018h7v5h-7zM581 1018h11v5h-11zM670 1018h10v5h-10zM1044 1018h36v5h-36zM960 1018h7v5h-7zM355 1018h7v5h-7zM1027 1018h14v5h-14zM507 1018h7v5h-7zM1083 1018h39v5h-39zM779 1018h4v5h-4zM938 1018h11v5h-11zM825 1018h21v5h-21zM493 1018h10v5h-10zM270 1018h78v5h-78zM1009 1018h7v5h-7zM1151 1018h31v5h-31zM800 1018h7v5h-7zM878 1018h4v10h-4zM815 1018h3v10h-3zM1044 1023h89v5h-89zM779 1023h7v5h-7zM266 1023h92v5h-92zM1023 1023h18v5h-18zM938 1023h7v5h-7zM1136 1023h36v5h-36zM478 1023h4v5h-4zM1186 1023h7v5h-7zM500 1023h3v5h-3zM394 1023h3v5h-3zM376 1023h3v5h-3zM581 1023h7v5h-7zM673 1023h7v5h-7zM507 1023h3v5h-3zM616 1023h11v10h-11zM825 1023h18v10h-18zM790 1023h10v10h-10zM804 1023h3v10h-3zM928 1023h3v10h-3zM372 1028h7v5h-7zM153 1028h4v5h-4zM581 1028h4v5h-4zM1020 1028h21v5h-21zM783 1028h3v5h-3zM1044 1028h18v5h-18zM1179 1028h28v5h-28zM1076 1028h68v5h-68zM645 1028h3v5h-3zM390 1028h7v5h-7zM259 1028h103v5h-103zM974 1028h3v5h-3zM815 1028h7v5h-7zM694 1028h4v5h-4zM1066 1028h7v5h-7zM1009 1028h4v9h-4zM503 1028h21v9h-21zM991 1028h7v9h-7zM662 1028h4v9h-4zM1168 1033h39v4h-39zM440 1033h3v4h-3zM924 1033h7v4h-7zM1034 1033h88v4h-88zM648 1033h7v4h-7zM1020 1033h7v4h-7zM949 1033h4v4h-4zM602 1033h7v4h-7zM825 1033h14v4h-14zM146 1033h14v4h-14zM369 1033h10v4h-10zM638 1033h7v4h-7zM790 1033h7v4h-7zM241 1033h121v4h-121zM394 1033h3v4h-3zM811 1033h11v4h-11zM613 1033h7v4h-7zM967 1037h3v5h-3zM436 1037h7v5h-7zM825 1037h18v5h-18zM146 1037h18v5h-18zM365 1037h29v5h-29zM1168 1037h32v5h-32zM673 1037h4v5h-4zM227 1037h131v5h-131zM1030 1037h89v5h-89zM751 1037h7v5h-7zM995 1037h7v5h-7zM1023 1037h4v5h-4zM659 1037h11v5h-11zM938 1037h4v5h-4zM500 1037h24v5h-24zM807 1037h15v5h-15zM599 1037h56v5h-56zM500 1042h28v5h-28zM436 1042h18v5h-18zM673 1042h11v5h-11zM599 1042h71v5h-71zM581 1042h4v5h-4zM885 1042h4v5h-4zM935 1042h28v5h-28zM1023 1042h7v5h-7zM464 1042h4v5h-4zM146 1042h42v5h-42zM563 1042h11v5h-11zM1034 1042h3v5h-3zM273 1042h92v5h-92zM921 1042h10v5h-10zM825 1042h21v5h-21zM401 1042h3v5h-3zM542 1042h4v5h-4zM206 1042h64v5h-64zM1165 1042h21v5h-21zM1044 1042h71v5h-71zM369 1042h28v5h-28zM708 1047h11v5h-11zM620 1047h25v5h-25zM1059 1047h35v5h-35zM507 1047h46v5h-46zM440 1047h14v5h-14zM680 1047h4v5h-4zM146 1047h106v5h-106zM853 1047h8v5h-8zM687 1047h4v5h-4zM376 1047h11v5h-11zM648 1047h4v5h-4zM457 1047h14v5h-14zM609 1047h7v5h-7zM563 1047h22v5h-22zM422 1047h7v5h-7zM655 1047h15v5h-15zM836 1047h10v5h-10zM273 1047h96v5h-96zM390 1047h18v5h-18zM825 1047h4v5h-4zM1168 1047h11v10h-11zM825 1052h25v5h-25zM652 1052h10v5h-10zM616 1052h25v5h-25zM560 1052h3v5h-3zM581 1052h32v5h-32zM503 1052h7v5h-7zM425 1052h4v5h-4zM280 1052h39v5h-39zM440 1052h35v5h-35zM853 1052h4v5h-4zM712 1052h4v5h-4zM645 1052h3v5h-3zM698 1052h10v5h-10zM394 1052h24v5h-24zM150 1052h99v5h-99zM517 1052h39v5h-39zM1062 1052h32v5h-32zM984 1052h7v5h-7zM570 1052h8v5h-8zM956 1047h7v14h-7zM910 1047h28v14h-28zM1101 1047h18v14h-18zM436 1057h7v4h-7zM641 1057h4v4h-4zM624 1057h14v4h-14zM475 1057h3v4h-3zM977 1057h4v4h-4zM648 1057h7v4h-7zM670 1057h3v4h-3zM397 1057h4v4h-4zM560 1057h39v4h-39zM486 1057h7v4h-7zM613 1057h3v4h-3zM602 1057h7v4h-7zM425 1057h7v4h-7zM514 1057h39v4h-39zM903 1057h4v4h-4zM705 1057h7v4h-7zM337 1052h46v14h-46zM447 1057h17v9h-17zM408 1057h14v9h-14zM150 1057h95v9h-95zM1066 1057h21v9h-21zM825 1057h46v9h-46zM620 1061h14v5h-14zM769 1061h3v5h-3zM468 1061h21v5h-21zM599 1061h7v5h-7zM687 1061h7v5h-7zM638 1061h3v5h-3zM645 1061h10v5h-10zM910 1061h21v5h-21zM553 1061h42v5h-42zM974 1061h10v5h-10zM1101 1061h14v5h-14zM500 1061h17v5h-17zM521 1061h28v5h-28zM705 1061h3v5h-3zM609 1061h4v5h-4zM284 1057h35v14h-35zM960 1061h3v10h-3zM337 1066h57v5h-57zM684 1066h7v5h-7zM539 1066h35v5h-35zM616 1066h22v5h-22zM578 1066h21v5h-21zM822 1066h49v5h-49zM606 1066h3v5h-3zM146 1066h99v5h-99zM1055 1066h32v5h-32zM907 1066h28v5h-28zM408 1066h10v5h-10zM970 1066h14v5h-14zM645 1066h7v5h-7zM450 1066h36v5h-36zM673 1066h7v5h-7zM500 1066h35v5h-35zM691 1071h3v5h-3zM436 1071h7v5h-7zM907 1071h24v5h-24zM680 1071h7v5h-7zM602 1071h4v5h-4zM942 1071h49v5h-49zM425 1071h4v5h-4zM1044 1071h43v5h-43zM482 1071h28v5h-28zM670 1071h3v5h-3zM546 1071h24v5h-24zM574 1071h21v5h-21zM719 1071h7v5h-7zM535 1071h7v5h-7zM818 1071h53v5h-53zM613 1071h35v5h-35zM450 1071h11v5h-11zM284 1071h131v5h-131zM146 1071h103v5h-103zM514 1071h18v5h-18zM464 1071h7v9h-7zM769 1076h3v4h-3zM436 1076h25v4h-25zM1044 1076h39v4h-39zM150 1076h102v4h-102zM641 1076h4v4h-4zM701 1076h29v4h-29zM595 1076h7v4h-7zM532 1076h7v4h-7zM524 1076h4v4h-4zM811 1076h60v4h-60zM578 1076h14v4h-14zM790 1076h17v4h-17zM475 1076h39v4h-39zM606 1076h28v4h-28zM546 1076h21v4h-21zM677 1076h17v4h-17zM280 1076h152v4h-152zM896 1076h88v4h-88zM570 1076h4v4h-4zM698 1080h32v5h-32zM967 1080h3v5h-3zM602 1080h11v5h-11zM892 1080h71v5h-71zM503 1080h7v5h-7zM578 1080h10v5h-10zM514 1080h10v5h-10zM638 1080h3v5h-3zM1044 1080h29v5h-29zM567 1080h7v5h-7zM595 1080h4v5h-4zM616 1080h15v5h-15zM150 1080h106v5h-106zM811 1080h57v5h-57zM277 1080h223v5h-223zM528 1080h35v5h-35zM666 1080h4v5h-4zM673 1080h21v5h-21zM634 1085h4v5h-4zM1044 1085h25v5h-25zM567 1085h3v5h-3zM892 1085h68v5h-68zM606 1085h3v5h-3zM687 1085h4v5h-4zM670 1085h14v5h-14zM539 1085h21v5h-21zM486 1085h21v5h-21zM365 1085h117v5h-117zM574 1085h11v5h-11zM694 1085h4v5h-4zM613 1085h14v5h-14zM772 1085h92v5h-92zM521 1085h7v5h-7zM701 1085h32v5h-32zM691 1090h3v5h-3zM602 1090h4v5h-4zM772 1090h89v5h-89zM868 1090h3v5h-3zM493 1090h7v5h-7zM585 1090h7v5h-7zM761 1090h4v5h-4zM535 1090h21v5h-21zM609 1090h15v5h-15zM563 1090h18v5h-18zM595 1090h4v5h-4zM666 1090h14v5h-14zM631 1090h3v5h-3zM482 1090h7v5h-7zM1044 1090h15v5h-15zM372 1090h106v5h-106zM698 1090h60v5h-60zM892 1090h53v5h-53zM684 1090h3v5h-3zM949 1090h11v10h-11zM1041 1095h7v5h-7zM807 1095h50v5h-50zM786 1095h11v5h-11zM372 1095h4v5h-4zM532 1095h3v5h-3zM539 1095h14v5h-14zM662 1095h4v5h-4zM744 1095h7v5h-7zM478 1095h22v5h-22zM638 1095h3v5h-3zM670 1095h70v5h-70zM379 1095h96v5h-96zM889 1095h53v5h-53zM560 1095h60v5h-60zM627 1095h7v5h-7zM150 1085h208v19h-208zM861 1095h3v9h-3zM595 1100h21v4h-21zM659 1100h42v4h-42zM620 1100h7v4h-7zM761 1100h11v4h-11zM475 1100h21v4h-21zM528 1100h4v4h-4zM779 1100h18v4h-18zM556 1100h36v4h-36zM535 1100h18v4h-18zM885 1100h60v4h-60zM825 1100h7v4h-7zM372 1100h99v4h-99zM754 1100h4v4h-4zM708 1100h18v4h-18zM843 1100h10v4h-10zM648 1100h4v9h-4zM616 1104h11v5h-11zM684 1104h7v5h-7zM150 1104h137v5h-137zM376 1104h92v5h-92zM532 1104h14v5h-14zM355 1104h3v5h-3zM882 1104h63v5h-63zM524 1104h4v5h-4zM595 1104h11v5h-11zM846 1104h7v5h-7zM740 1104h29v5h-29zM549 1104h21v5h-21zM291 1104h57v5h-57zM574 1104h18v5h-18zM790 1104h3v5h-3zM662 1104h18v5h-18zM471 1104h22v5h-22zM825 1104h11v5h-11zM609 1104h4v5h-4zM726 1104h4v10h-4zM556 1109h32v5h-32zM592 1109h28v5h-28zM532 1109h21v5h-21zM652 1109h3v5h-3zM503 1109h7v5h-7zM680 1109h11v5h-11zM344 1109h4v5h-4zM815 1109h3v5h-3zM761 1109h8v5h-8zM740 1109h18v5h-18zM266 1109h7v5h-7zM659 1109h18v5h-18zM496 1109h4v5h-4zM298 1109h39v5h-39zM408 1109h81v5h-81zM825 1109h7v5h-7zM878 1109h71v5h-71zM150 1109h113v10h-113zM390 1109h11v10h-11zM588 1114h7v5h-7zM691 1114h7v5h-7zM875 1114h74v5h-74zM599 1114h21v5h-21zM670 1114h3v5h-3zM648 1114h18v5h-18zM556 1114h29v5h-29zM740 1114h4v5h-4zM535 1114h11v5h-11zM302 1114h17v5h-17zM677 1114h10v5h-10zM408 1114h10v5h-10zM425 1114h57v5h-57zM754 1114h4v5h-4zM811 1114h11v5h-11zM712 1114h14v5h-14zM496 1114h14v5h-14zM758 1119h3v4h-3zM687 1119h7v4h-7zM648 1119h14v4h-14zM150 1119h116v4h-116zM553 1119h63v4h-63zM514 1119h3v4h-3zM779 1119h11v4h-11zM539 1119h3v4h-3zM496 1119h4v4h-4zM546 1119h3v4h-3zM832 1119h4v4h-4zM425 1119h53v4h-53zM298 1119h21v4h-21zM723 1119h7v4h-7zM871 1119h74v4h-74zM666 1119h4v4h-4zM716 1119h3v4h-3zM846 1119h4v4h-4zM677 1119h7v4h-7zM415 1119h3v4h-3zM496 1123h7v5h-7zM673 1123h18v5h-18zM316 1123h3v5h-3zM956 1123h7v5h-7zM772 1123h18v5h-18zM719 1123h14v5h-14zM967 1123h14v5h-14zM422 1123h53v5h-53zM694 1123h7v5h-7zM539 1123h7v5h-7zM298 1123h14v5h-14zM705 1123h3v5h-3zM549 1123h64v5h-64zM846 1123h11v5h-11zM864 1123h81v5h-81zM641 1123h25v5h-25zM478 1123h4v10h-4zM369 1123h3v10h-3zM772 1128h14v5h-14zM708 1128h4v5h-4zM468 1128h3v5h-3zM546 1128h63v5h-63zM517 1128h4v5h-4zM670 1128h17v5h-17zM716 1128h7v5h-7zM486 1128h3v5h-3zM422 1128h42v5h-42zM539 1128h3v5h-3zM496 1128h4v5h-4zM638 1128h28v5h-28zM698 1128h3v5h-3zM861 1128h102v5h-102zM302 1128h3v5h-3zM153 1123h117v15h-117zM348 1128h3v10h-3zM383 1128h4v10h-4zM730 1128h7v10h-7zM680 1133h7v5h-7zM532 1133h14v5h-14zM861 1133h53v5h-53zM779 1133h7v5h-7zM524 1133h4v5h-4zM514 1133h3v5h-3zM563 1133h43v5h-43zM422 1133h10v5h-10zM634 1133h7v5h-7zM666 1133h7v5h-7zM645 1133h17v5h-17zM694 1133h7v5h-7zM436 1133h35v5h-35zM500 1133h3v5h-3zM549 1133h11v5h-11zM705 1133h7v5h-7zM348 1138h10v4h-10zM432 1138h43v4h-43zM832 1138h7v4h-7zM680 1138h18v4h-18zM765 1138h4v4h-4zM850 1138h60v4h-60zM503 1138h4v4h-4zM496 1138h4v4h-4zM528 1138h74v4h-74zM631 1138h7v4h-7zM153 1138h124v4h-124zM641 1138h32v4h-32zM701 1138h11v4h-11zM418 1138h11v4h-11zM730 1138h3v9h-3zM783 1138h7v9h-7zM524 1142h61v5h-61zM517 1142h4v5h-4zM475 1142h3v5h-3zM588 1142h11v5h-11zM157 1142h123v5h-123zM829 1142h81v5h-81zM638 1142h24v5h-24zM450 1142h21v5h-21zM351 1142h7v5h-7zM627 1142h7v5h-7zM422 1142h25v5h-25zM754 1142h4v5h-4zM677 1142h35v5h-35zM489 1142h7v5h-7zM521 1147h11v5h-11zM670 1147h24v5h-24zM560 1147h21v5h-21zM744 1147h3v5h-3zM351 1147h14v5h-14zM157 1147h70v5h-70zM535 1147h7v5h-7zM252 1147h32v5h-32zM546 1147h10v5h-10zM825 1147h85v5h-85zM638 1147h21v5h-21zM585 1147h10v5h-10zM624 1147h10v5h-10zM422 1147h71v5h-71zM730 1147h7v5h-7zM701 1147h11v5h-11zM716 1147h7v10h-7zM758 1152h3v5h-3zM160 1152h60v5h-60zM850 1152h60v5h-60zM666 1152h28v5h-28zM818 1152h28v5h-28zM733 1152h14v5h-14zM461 1152h28v5h-28zM532 1152h56v5h-56zM793 1152h7v5h-7zM620 1152h35v5h-35zM266 1152h18v5h-18zM425 1152h32v5h-32zM521 1152h7v5h-7zM351 1152h18v10h-18zM616 1157h11v5h-11zM160 1157h53v5h-53zM659 1157h32v5h-32zM578 1157h7v5h-7zM807 1157h4v5h-4zM273 1157h14v5h-14zM468 1157h18v5h-18zM818 1157h46v5h-46zM634 1157h21v5h-21zM733 1157h7v5h-7zM517 1157h7v5h-7zM425 1157h39v5h-39zM528 1157h39v5h-39zM868 1157h42v5h-42zM719 1157h4v5h-4zM701 1157h4v5h-4zM408 1152h3v14h-3zM754 1157h7v9h-7zM609 1162h18v4h-18zM871 1162h39v4h-39zM164 1162h42v4h-42zM425 1162h22v4h-22zM670 1162h17v4h-17zM514 1162h49v4h-49zM450 1162h21v4h-21zM351 1162h25v4h-25zM478 1162h4v4h-4zM726 1162h7v4h-7zM648 1162h4v4h-4zM631 1162h14v4h-14zM655 1162h11v4h-11zM277 1162h10v4h-10zM249 1162h3v4h-3zM818 1162h39v4h-39zM570 1162h11v4h-11zM698 1162h7v4h-7zM691 1162h3v9h-3zM793 1166h4v5h-4zM800 1166h57v5h-57zM425 1166h18v5h-18zM280 1166h7v5h-7zM528 1166h7v5h-7zM652 1166h10v5h-10zM447 1166h17v5h-17zM708 1166h4v5h-4zM758 1166h3v5h-3zM351 1166h28v5h-28zM475 1166h3v5h-3zM486 1166h3v5h-3zM539 1166h17v5h-17zM174 1166h14v5h-14zM567 1166h11v5h-11zM606 1166h28v5h-28zM666 1166h18v5h-18zM411 1166h4v5h-4zM517 1166h7v5h-7zM868 1166h42v5h-42zM510 1171h22v5h-22zM447 1171h10v5h-10zM868 1171h39v5h-39zM425 1171h15v5h-15zM712 1171h4v5h-4zM648 1171h43v5h-43zM567 1171h7v5h-7zM489 1171h4v5h-4zM471 1171h4v5h-4zM822 1171h35v5h-35zM535 1171h18v5h-18zM478 1171h4v5h-4zM602 1171h7v5h-7zM287 1171h11v5h-11zM790 1171h28v5h-28zM613 1171h21v5h-21zM348 1171h31v5h-31zM309 1171h3v5h-3zM701 1171h4v5h-4zM744 1171h7v10h-7zM425 1176h18v5h-18zM532 1176h14v5h-14zM599 1176h28v5h-28zM563 1176h7v5h-7zM447 1176h3v5h-3zM486 1176h42v5h-42zM832 1176h75v5h-75zM786 1176h7v5h-7zM549 1176h7v5h-7zM641 1176h46v5h-46zM691 1176h35v5h-35zM344 1176h32v5h-32zM287 1176h25v9h-25zM687 1181h67v4h-67zM532 1181h21v4h-21zM602 1181h22v4h-22zM440 1181h3v4h-3zM631 1181h24v4h-24zM560 1181h7v4h-7zM341 1181h38v4h-38zM836 1181h71v4h-71zM595 1181h4v4h-4zM659 1181h7v4h-7zM670 1181h14v4h-14zM107 1181h4v4h-4zM422 1181h14v4h-14zM486 1181h38v4h-38zM528 1185h25v5h-25zM556 1185h7v5h-7zM489 1185h32v5h-32zM567 1185h3v5h-3zM599 1185h21v5h-21zM740 1185h18v5h-18zM422 1185h10v5h-10zM655 1185h82v5h-82zM624 1185h24v5h-24zM337 1185h39v5h-39zM592 1185h3v5h-3zM287 1185h29v10h-29zM493 1190h21v5h-21zM595 1190h21v5h-21zM652 1190h74v5h-74zM524 1190h18v5h-18zM588 1190h4v5h-4zM730 1190h3v5h-3zM422 1190h3v5h-3zM549 1190h7v5h-7zM457 1190h11v5h-11zM620 1190h28v5h-28zM839 1185h68v15h-68zM333 1190h43v10h-43zM592 1195h21v5h-21zM471 1195h7v5h-7zM443 1195h21v5h-21zM648 1195h71v5h-71zM616 1195h22v5h-22zM287 1195h25v5h-25zM411 1195h18v5h-18zM546 1195h10v5h-10zM726 1195h7v5h-7zM521 1195h21v5h-21zM581 1195h7v5h-7zM507 1195h3v5h-3zM751 1190h3v14h-3zM411 1200h21v4h-21zM769 1200h3v4h-3zM440 1200h3v4h-3zM733 1200h11v4h-11zM839 1200h60v4h-60zM503 1200h7v4h-7zM616 1200h18v4h-18zM468 1200h7v4h-7zM447 1200h14v4h-14zM578 1200h35v4h-35zM542 1200h14v4h-14zM478 1200h4v4h-4zM645 1200h35v4h-35zM514 1200h21v4h-21zM684 1200h24v4h-24zM716 1200h3v4h-3zM291 1200h21v9h-21zM333 1200h46v9h-46zM418 1204h22v5h-22zM510 1204h22v5h-22zM680 1204h25v5h-25zM641 1204h29v5h-29zM383 1204h7v5h-7zM832 1204h64v5h-64zM609 1204h22v5h-22zM500 1204h7v5h-7zM475 1204h14v5h-14zM443 1204h14v5h-14zM574 1204h32v5h-32zM539 1204h21v5h-21zM733 1204h14v5h-14zM461 1204h10v5h-10zM765 1204h7v5h-7zM135 1204h4v10h-4zM408 1204h3v10h-3zM585 1209h21v5h-21zM609 1209h18v5h-18zM521 1209h11v5h-11zM425 1209h11v5h-11zM744 1209h3v5h-3zM765 1209h4v5h-4zM567 1209h14v5h-14zM829 1209h63v5h-63zM514 1209h3v5h-3zM415 1209h7v5h-7zM535 1209h25v5h-25zM295 1209h14v5h-14zM641 1209h21v5h-21zM443 1209h11v5h-11zM457 1209h32v5h-32zM666 1209h50v5h-50zM333 1209h57v5h-57zM37 1209h3v5h-3zM496 1209h14v5h-14zM408 1214h28v5h-28zM712 1214h7v5h-7zM493 1214h14v5h-14zM744 1214h7v5h-7zM606 1214h3v5h-3zM761 1214h8v5h-8zM585 1214h17v5h-17zM825 1214h60v5h-60zM662 1214h36v5h-36zM390 1214h4v5h-4zM443 1214h43v5h-43zM535 1214h43v5h-43zM40 1214h3v5h-3zM634 1214h25v5h-25zM613 1214h14v5h-14zM510 1214h18v5h-18zM330 1214h49v10h-49zM758 1219h11v5h-11zM737 1219h14v5h-14zM37 1219h3v5h-3zM387 1219h3v5h-3zM408 1219h325v5h-325zM818 1219h71v9h-71zM447 1224h24v4h-24zM440 1224h3v4h-3zM397 1224h18v4h-18zM369 1224h18v4h-18zM556 1224h191v4h-191zM37 1224h13v4h-13zM418 1224h14v4h-14zM542 1224h11v4h-11zM514 1224h18v4h-18zM489 1224h7v4h-7zM326 1224h29v4h-29zM326 1228h4v5h-4zM811 1228h74v5h-74zM387 1228h21v5h-21zM372 1228h11v5h-11zM514 1228h32v5h-32zM440 1228h31v5h-31zM556 1228h181v5h-181zM418 1228h11v5h-11zM503 1224h7v14h-7zM37 1228h6v10h-6zM493 1233h3v5h-3zM383 1233h21v5h-21zM514 1233h10v5h-10zM418 1233h7v5h-7zM478 1233h4v5h-4zM556 1233h135v5h-135zM440 1233h14v5h-14zM528 1233h14v5h-14zM464 1233h4v10h-4zM440 1238h3v5h-3zM524 1238h11v5h-11zM432 1238h4v5h-4zM539 1238h3v5h-3zM553 1238h117v5h-117zM454 1238h7v5h-7zM500 1238h10v5h-10zM394 1238h10v5h-10zM37 1238h10v5h-10zM514 1238h7v5h-7zM489 1238h7v5h-7zM418 1238h11v5h-11zM772 1233h117v14h-117zM567 1243h99v4h-99zM415 1243h14v4h-14zM489 1243h11v4h-11zM397 1243h4v4h-4zM471 1243h4v4h-4zM546 1243h17v4h-17zM535 1243h7v4h-7zM457 1243h7v4h-7zM450 1243h4v4h-4zM514 1243h18v4h-18zM507 1243h3v4h-3zM542 1247h120v5h-120zM411 1247h14v5h-14zM528 1247h4v5h-4zM496 1247h4v5h-4zM478 1247h4v5h-4zM772 1247h120v5h-120zM461 1247h10v5h-10zM514 1247h7v5h-7zM37 1243h13v14h-13zM447 1247h3v10h-3zM486 1247h3v10h-3zM514 1252h10v5h-10zM411 1252h25v5h-25zM542 1252h21v5h-21zM454 1252h3v5h-3zM772 1252h113v5h-113zM401 1252h3v5h-3zM461 1252h21v5h-21zM493 1252h3v5h-3zM567 1252h95v5h-95zM510 1257h11v5h-11zM440 1257h3v5h-3zM560 1257h3v5h-3zM447 1257h10v5h-10zM539 1257h17v5h-17zM478 1257h18v5h-18zM408 1257h24v5h-24zM783 1257h102v5h-102zM567 1257h99v10h-99zM464 1257h11v10h-11zM500 1257h3v10h-3zM436 1262h25v5h-25zM532 1262h21v5h-21zM408 1262h21v5h-21zM556 1262h4v5h-4zM397 1262h4v5h-4zM478 1262h11v5h-11zM786 1262h96v5h-96zM514 1262h7v5h-7zM37 1257h17v14h-17zM747 1267h7v4h-7zM528 1267h4v4h-4zM567 1267h103v4h-103zM510 1267h14v4h-14zM464 1267h22v4h-22zM493 1267h10v4h-10zM786 1267h89v4h-89zM542 1267h18v4h-18zM450 1267h11v4h-11zM404 1267h25v9h-25zM432 1267h15v9h-15zM390 1267h7v9h-7zM486 1271h24v5h-24zM37 1271h21v5h-21zM464 1271h18v5h-18zM517 1271h4v5h-4zM539 1271h10v5h-10zM786 1271h85v5h-85zM266 1271h7v5h-7zM553 1271h3v5h-3zM560 1271h120v5h-120zM532 1271h3v5h-3zM457 1271h4v5h-4zM429 1276h18v5h-18zM464 1276h14v5h-14zM510 1276h4v5h-4zM493 1276h7v5h-7zM687 1276h7v5h-7zM528 1276h4v5h-4zM450 1276h11v5h-11zM786 1276h82v5h-82zM401 1276h24v5h-24zM542 1276h4v5h-4zM256 1276h17v5h-17zM556 1276h103v5h-103zM387 1276h7v10h-7zM37 1276h24v10h-24zM503 1281h7v5h-7zM107 1281h21v5h-21zM687 1281h11v5h-11zM553 1281h88v5h-88zM496 1281h4v5h-4zM252 1281h25v5h-25zM535 1281h11v5h-11zM790 1281h71v5h-71zM436 1281h39v5h-39zM397 1281h28v5h-28zM517 1281h11v9h-11zM252 1286h28v4h-28zM37 1286h28v4h-28zM687 1286h14v4h-14zM96 1286h39v4h-39zM383 1286h7v4h-7zM432 1286h11v4h-11zM447 1286h21v4h-21zM535 1286h7v4h-7zM394 1286h31v4h-31zM549 1286h89v4h-89zM503 1286h4v9h-4zM790 1286h63v9h-63zM429 1290h11v5h-11zM468 1290h3v5h-3zM532 1290h7v5h-7zM249 1290h31v5h-31zM447 1290h7v5h-7zM86 1290h53v5h-53zM687 1290h4v5h-4zM496 1290h4v5h-4zM549 1290h85v5h-85zM37 1290h31v5h-31zM698 1290h3v5h-3zM383 1290h4v5h-4zM457 1290h7v5h-7zM517 1290h7v5h-7zM390 1290h32v5h-32zM482 1290h4v5h-4zM418 1295h4v5h-4zM687 1295h7v5h-7zM496 1295h25v5h-25zM556 1295h4v5h-4zM82 1295h60v5h-60zM524 1295h15v5h-15zM454 1295h17v5h-17zM443 1295h7v5h-7zM256 1295h7v5h-7zM482 1295h7v5h-7zM150 1295h3v5h-3zM570 1295h43v5h-43zM394 1295h17v5h-17zM790 1295h60v5h-60zM37 1295h38v5h-38zM546 1295h7v5h-7zM379 1295h8v5h-8zM701 1295h4v5h-4zM425 1295h4v10h-4zM464 1300h7v5h-7zM493 1300h14v5h-14zM390 1300h28v5h-28zM252 1300h7v5h-7zM379 1300h4v5h-4zM570 1300h39v5h-39zM687 1300h4v5h-4zM510 1300h7v5h-7zM37 1300h116v5h-116zM157 1300h3v5h-3zM793 1300h53v5h-53zM542 1300h11v5h-11zM482 1300h4v5h-4zM521 1300h14v5h-14zM436 1300h21v5h-21zM489 1305h43v4h-43zM567 1305h7v4h-7zM578 1305h14v4h-14zM37 1305h130v4h-130zM539 1305h3v4h-3zM450 1305h7v4h-7zM238 1305h3v4h-3zM249 1305h10v4h-10zM387 1305h7v4h-7zM461 1305h21v4h-21zM422 1305h25v4h-25zM401 1305h17v4h-17zM793 1305h50v4h-50zM712 1305h4v9h-4zM486 1309h17v5h-17zM510 1309h14v5h-14zM461 1309h17v5h-17zM454 1309h3v5h-3zM383 1309h11v5h-11zM535 1309h11v5h-11zM807 1309h36v5h-36zM574 1309h4v5h-4zM418 1309h25v5h-25zM581 1309h7v5h-7zM37 1309h208v10h-208zM249 1309h17v10h-17zM397 1309h14v10h-14zM447 1314h3v5h-3zM811 1314h28v5h-28zM578 1314h7v5h-7zM436 1314h7v5h-7zM379 1314h15v5h-15zM422 1314h10v5h-10zM372 1314h4v5h-4zM507 1314h14v5h-14zM556 1314h7v5h-7zM535 1314h14v5h-14zM454 1314h17v5h-17zM482 1314h14v5h-14zM415 1314h3v5h-3zM687 1314h4v10h-4zM256 1319h10v5h-10zM478 1319h39v5h-39zM528 1319h4v5h-4zM379 1319h11v5h-11zM574 1319h7v5h-7zM422 1319h28v5h-28zM411 1319h4v5h-4zM535 1319h4v5h-4zM457 1319h18v5h-18zM542 1319h4v5h-4zM549 1319h11v5h-11zM397 1319h7v5h-7zM818 1319h18v5h-18zM287 1319h4v10h-4zM256 1324h3v5h-3zM376 1324h14v5h-14zM425 1324h15v5h-15zM270 1324h3v5h-3zM822 1324h3v5h-3zM454 1324h17v5h-17zM539 1324h7v5h-7zM549 1324h7v5h-7zM478 1324h36v5h-36zM585 1324h3v5h-3zM574 1324h4v5h-4zM532 1324h3v5h-3zM302 1324h3v5h-3zM394 1324h14v5h-14zM37 1319h204v14h-204zM524 1329h32v4h-32zM369 1329h21v4h-21zM723 1329h3v4h-3zM475 1329h7v4h-7zM486 1329h7v4h-7zM578 1329h7v4h-7zM404 1329h4v4h-4zM422 1329h10v4h-10zM450 1329h18v4h-18zM270 1329h7v4h-7zM500 1329h10v4h-10zM570 1329h4v4h-4zM394 1329h3v4h-3zM245 1329h18v4h-18zM298 1329h11v4h-11zM440 1333h3v5h-3zM524 1333h18v5h-18zM581 1333h4v5h-4zM471 1333h7v5h-7zM482 1333h28v5h-28zM447 1333h7v5h-7zM379 1333h4v5h-4zM291 1333h18v5h-18zM567 1333h11v5h-11zM422 1333h14v5h-14zM546 1333h7v5h-7zM365 1333h11v5h-11zM457 1333h4v5h-4zM37 1333h236v10h-236zM295 1338h24v5h-24zM712 1338h11v5h-11zM355 1338h3v5h-3zM464 1338h11v5h-11zM362 1338h14v5h-14zM496 1338h11v5h-11zM524 1338h8v5h-8zM578 1338h7v5h-7zM443 1338h11v5h-11zM535 1338h11v5h-11zM379 1338h22v5h-22zM553 1338h3v5h-3zM570 1338h4v5h-4zM514 1338h7v5h-7zM418 1338h18v5h-18zM478 1338h15v5h-15zM404 1338h4v10h-4zM510 1343h11v5h-11zM277 1343h39v5h-39zM496 1343h7v5h-7zM319 1343h7v5h-7zM532 1343h7v5h-7zM37 1343h233v5h-233zM475 1343h14v5h-14zM415 1343h7v5h-7zM397 1343h4v5h-4zM708 1343h15v5h-15zM358 1343h14v5h-14zM351 1343h4v5h-4zM425 1343h46v5h-46zM379 1343h15v5h-15zM330 1343h18v5h-18zM549 1343h4v5h-4zM581 1343h7v5h-7zM394 1348h10v4h-10zM528 1348h4v4h-4zM372 1348h7v4h-7zM486 1348h3v4h-3zM37 1348h275v4h-275zM510 1348h4v4h-4zM461 1348h7v4h-7zM471 1348h11v4h-11zM355 1348h10v4h-10zM383 1348h7v4h-7zM316 1348h35v4h-35zM535 1348h4v4h-4zM422 1348h32v4h-32zM776 1352h3v5h-3zM37 1352h286v5h-286zM524 1352h11v5h-11zM436 1352h4v5h-4zM379 1352h25v5h-25zM539 1352h3v5h-3zM341 1352h17v5h-17zM450 1352h7v5h-7zM475 1352h11v5h-11zM503 1352h11v5h-11zM422 1352h3v5h-3zM411 1352h4v5h-4zM365 1352h7v5h-7zM461 1352h3v5h-3zM429 1352h3v5h-3zM585 1352h3v5h-3zM326 1352h11v5h-11zM362 1357h7v5h-7zM37 1357h282v5h-282zM383 1357h21v5h-21zM432 1357h4v5h-4zM408 1357h3v5h-3zM503 1357h29v5h-29zM475 1357h7v5h-7zM323 1357h7v5h-7zM450 1357h18v5h-18zM425 1357h4v5h-4zM337 1357h18v5h-18zM369 1362h3v5h-3zM383 1362h18v5h-18zM468 1362h7v5h-7zM358 1362h4v5h-4zM312 1362h4v5h-4zM524 1362h4v5h-4zM37 1362h272v5h-272zM447 1362h17v5h-17zM341 1362h10v5h-10zM500 1362h21v5h-21zM535 1362h4v5h-4zM323 1362h3v5h-3zM337 1367h11v4h-11zM425 1367h11v4h-11zM440 1367h3v4h-3zM355 1367h3v4h-3zM532 1367h7v4h-7zM464 1367h11v4h-11zM486 1367h3v4h-3zM379 1367h11v4h-11zM496 1367h4v4h-4zM478 1367h4v4h-4zM507 1367h17v4h-17zM394 1367h21v4h-21zM37 1367h268v4h-268zM316 1367h17v4h-17zM309 1367h3v4h-3zM528 1371h4v5h-4zM376 1371h7v5h-7zM432 1371h15v5h-15zM37 1371h265v5h-265zM461 1371h10v5h-10zM351 1371h4v5h-4zM482 1371h11v5h-11zM341 1371h3v5h-3zM535 1371h4v5h-4zM390 1371h4v5h-4zM422 1371h7v5h-7zM450 1371h4v5h-4zM397 1371h14v5h-14zM507 1371h10v5h-10zM305 1371h25v5h-25zM316 1376h10v5h-10zM344 1376h7v5h-7zM616 1376h4v5h-4zM464 1376h7v5h-7zM135 1376h163v5h-163zM528 1376h11v5h-11zM475 1376h11v5h-11zM330 1376h3v5h-3zM369 1376h10v5h-10zM429 1376h21v5h-21zM418 1376h7v5h-7zM390 1376h11v5h-11zM305 1376h7v5h-7zM37 1376h84v10h-84zM404 1376h4v10h-4zM496 1376h4v10h-4zM302 1381h7v5h-7zM365 1381h18v5h-18zM326 1381h4v5h-4zM387 1381h14v5h-14zM415 1381h17v5h-17zM528 1381h7v5h-7zM454 1381h3v5h-3zM645 1381h17v5h-17zM341 1381h7v5h-7zM595 1381h32v5h-32zM128 1381h167v5h-167zM475 1381h7v5h-7zM507 1381h10v5h-10zM333 1381h4v5h-4zM436 1381h14v5h-14zM312 1381h11v5h-11zM355 1381h3v5h-3zM330 1386h25v5h-25zM298 1386h7v5h-7zM595 1386h14v5h-14zM436 1386h18v5h-18zM309 1386h10v5h-10zM613 1386h78v5h-78zM507 1386h7v5h-7zM37 1386h258v5h-258zM425 1386h7v5h-7zM489 1386h7v5h-7zM461 1386h3v5h-3zM404 1386h11v5h-11zM362 1386h35v5h-35zM323 1386h3v5h-3zM471 1386h7v9h-7zM358 1391h50v4h-50zM631 1391h63v4h-63zM37 1391h98v4h-98zM295 1391h7v4h-7zM415 1391h7v4h-7zM142 1391h149v4h-149zM457 1391h4v4h-4zM425 1391h4v4h-4zM595 1391h7v4h-7zM432 1391h8v4h-8zM305 1391h46v4h-46zM486 1391h7v4h-7zM411 1395h18v5h-18zM468 1395h7v5h-7zM355 1395h42v5h-42zM302 1395h46v5h-46zM432 1395h4v5h-4zM440 1395h3v5h-3zM37 1395h250v5h-250zM291 1395h4v5h-4zM401 1395h3v5h-3zM634 1395h60v5h-60zM408 1400h10v5h-10zM464 1400h11v5h-11zM436 1400h7v5h-7zM351 1400h36v5h-36zM478 1400h4v5h-4zM486 1400h3v5h-3zM309 1400h35v5h-35zM634 1400h64v5h-64zM390 1400h11v5h-11zM37 1400h243v5h-243zM287 1400h4v10h-4zM447 1405h3v5h-3zM365 1405h18v5h-18zM723 1405h3v5h-3zM408 1405h7v5h-7zM475 1405h11v5h-11zM309 1405h7v5h-7zM461 1405h10v5h-10zM634 1405h67v5h-67zM319 1405h22v5h-22zM418 1405h11v5h-11zM37 1405h222v5h-222zM266 1405h11v5h-11zM348 1405h14v5h-14zM432 1405h11v5h-11zM429 1410h3v4h-3zM302 1410h10v4h-10zM482 1410h7v4h-7zM280 1410h7v4h-7zM418 1410h4v4h-4zM634 1410h74v4h-74zM464 1410h4v4h-4zM408 1410h3v4h-3zM362 1410h3v4h-3zM37 1410h226v4h-226zM369 1410h14v4h-14zM291 1410h7v4h-7zM457 1410h4v4h-4zM387 1410h3v4h-3zM443 1410h4v4h-4zM344 1410h14v4h-14zM471 1410h7v4h-7zM273 1410h4v9h-4zM316 1410h17v9h-17zM429 1414h11v5h-11zM471 1414h11v5h-11zM379 1414h4v5h-4zM638 1414h74v5h-74zM280 1414h4v5h-4zM422 1414h3v5h-3zM457 1414h7v5h-7zM401 1414h3v5h-3zM287 1414h15v5h-15zM358 1414h4v5h-4zM341 1414h14v5h-14zM365 1414h11v5h-11zM241 1414h11v5h-11zM305 1414h7v5h-7zM37 1414h197v5h-197zM337 1419h21v5h-21zM280 1419h7v5h-7zM450 1419h4v5h-4zM270 1419h3v5h-3zM302 1419h3v5h-3zM418 1419h25v5h-25zM379 1419h11v5h-11zM638 1419h85v5h-85zM397 1419h7v5h-7zM295 1419h3v5h-3zM744 1419h3v5h-3zM316 1419h14v5h-14zM249 1419h3v5h-3zM362 1419h14v5h-14zM457 1419h25v5h-25zM37 1419h190v10h-190zM344 1424h4v5h-4zM266 1424h4v5h-4zM394 1424h7v5h-7zM234 1424h4v5h-4zM273 1424h11v5h-11zM298 1424h7v5h-7zM429 1424h14v5h-14zM454 1424h21v5h-21zM291 1424h4v5h-4zM411 1424h7v5h-7zM351 1424h4v5h-4zM638 1424h109v5h-109zM330 1424h11v5h-11zM358 1424h29v5h-29zM482 1424h7v9h-7zM464 1429h11v4h-11zM408 1429h10v4h-10zM436 1429h7v4h-7zM252 1429h4v4h-4zM422 1429h7v4h-7zM326 1429h7v4h-7zM450 1429h4v4h-4zM273 1429h14v4h-14zM298 1429h11v4h-11zM376 1429h3v4h-3zM348 1429h24v4h-24zM397 1429h4v4h-4zM383 1429h4v4h-4zM457 1429h4v4h-4zM341 1429h3v4h-3zM263 1429h3v4h-3zM37 1429h194v4h-194zM634 1429h117v9h-117zM418 1433h14v5h-14zM793 1433h7v5h-7zM344 1433h7v5h-7zM394 1433h10v5h-10zM372 1433h4v5h-4zM355 1433h14v5h-14zM408 1433h3v5h-3zM302 1433h3v5h-3zM277 1433h14v5h-14zM461 1433h10v5h-10zM323 1433h7v5h-7zM447 1433h10v5h-10zM379 1433h4v5h-4zM37 1433h197v10h-197zM404 1438h7v5h-7zM468 1438h10v5h-10zM634 1438h53v5h-53zM429 1438h11v5h-11zM341 1438h10v5h-10zM284 1438h18v5h-18zM319 1438h7v5h-7zM415 1438h10v5h-10zM259 1438h4v5h-4zM355 1438h10v5h-10zM705 1438h46v5h-46zM369 1438h10v5h-10zM390 1438h11v5h-11zM457 1438h7v5h-7zM443 1438h11v10h-11zM316 1443h7v5h-7zM390 1443h7v5h-7zM50 1443h4v5h-4zM344 1443h25v5h-25zM37 1443h10v5h-10zM372 1443h7v5h-7zM464 1443h7v5h-7zM58 1443h176v5h-176zM337 1443h4v5h-4zM415 1443h7v5h-7zM280 1443h18v5h-18zM383 1443h4v5h-4zM401 1443h3v5h-3zM705 1443h49v5h-49zM631 1443h56v10h-56zM362 1448h7v5h-7zM422 1448h10v5h-10zM440 1448h10v5h-10zM270 1448h3v5h-3zM256 1448h3v5h-3zM708 1448h53v5h-53zM379 1448h8v5h-8zM411 1448h4v5h-4zM333 1448h4v5h-4zM277 1448h7v5h-7zM351 1448h7v5h-7zM390 1448h14v5h-14zM457 1448h7v5h-7zM341 1448h3v5h-3zM779 1448h4v5h-4zM312 1448h11v5h-11zM61 1448h170v9h-170zM287 1448h11v9h-11zM266 1453h4v4h-4zM245 1453h11v4h-11zM422 1453h7v4h-7zM631 1453h60v4h-60zM408 1453h3v4h-3zM372 1453h22v4h-22zM330 1453h3v4h-3zM305 1453h14v4h-14zM708 1453h71v4h-71zM273 1453h4v4h-4zM436 1453h21v4h-21zM337 1453h7v4h-7zM397 1453h7v4h-7zM348 1453h17v4h-17zM323 1453h3v4h-3zM270 1457h10v5h-10zM440 1457h10v5h-10zM627 1457h64v5h-64zM333 1457h8v5h-8zM287 1457h8v5h-8zM708 1457h68v5h-68zM241 1457h8v5h-8zM171 1457h10v5h-10zM387 1457h10v5h-10zM422 1457h3v5h-3zM192 1457h42v5h-42zM305 1457h25v5h-25zM344 1457h32v5h-32zM270 1462h7v5h-7zM330 1462h7v5h-7zM305 1462h21v5h-21zM440 1462h7v5h-7zM280 1462h4v5h-4zM188 1462h46v5h-46zM387 1462h7v5h-7zM401 1462h7v5h-7zM341 1462h31v5h-31zM238 1462h11v5h-11zM164 1462h17v5h-17zM379 1462h4v5h-4zM415 1462h3v5h-3zM252 1462h11v5h-11zM61 1457h89v15h-89zM627 1462h145v10h-145zM337 1467h21v5h-21zM408 1467h10v5h-10zM302 1467h31v5h-31zM432 1467h4v5h-4zM362 1467h21v5h-21zM440 1467h3v5h-3zM259 1467h4v5h-4zM295 1467h3v5h-3zM164 1467h14v5h-14zM390 1467h11v5h-11zM188 1467h57v5h-57zM273 1467h14v9h-14zM394 1472h7v4h-7zM404 1472h4v4h-4zM40 1472h110v4h-110zM295 1472h35v4h-35zM245 1472h4v4h-4zM429 1472h7v4h-7zM333 1472h22v4h-22zM185 1472h49v4h-49zM415 1472h3v4h-3zM358 1472h29v4h-29zM167 1472h7v9h-7zM627 1472h142v9h-142zM358 1476h25v5h-25zM337 1476h14v5h-14zM291 1476h32v5h-32zM330 1476h3v5h-3zM390 1476h21v5h-21zM37 1476h113v5h-113zM181 1476h7v5h-7zM425 1476h4v5h-4zM270 1476h14v5h-14zM192 1476h42v10h-42zM355 1481h24v5h-24zM270 1481h7v5h-7zM157 1481h14v5h-14zM624 1481h141v5h-141zM326 1481h22v5h-22zM418 1481h4v5h-4zM238 1481h3v5h-3zM68 1481h82v5h-82zM259 1481h4v5h-4zM181 1481h4v5h-4zM295 1481h21v5h-21zM387 1481h24v5h-24zM280 1481h11v5h-11zM323 1486h21v5h-21zM641 1486h124v5h-124zM379 1486h29v5h-29zM68 1486h103v5h-103zM291 1486h25v5h-25zM217 1486h3v5h-3zM351 1486h25v5h-25zM192 1486h14v5h-14zM415 1486h3v5h-3zM231 1486h18v5h-18zM323 1491h18v5h-18zM287 1491h15v5h-15zM394 1491h7v5h-7zM348 1491h7v5h-7zM181 1491h29v5h-29zM273 1491h4v5h-4zM645 1491h120v5h-120zM68 1491h106v5h-106zM234 1491h11v5h-11zM358 1491h32v5h-32zM648 1496h117v4h-117zM245 1496h4v4h-4zM333 1496h4v4h-4zM167 1496h7v4h-7zM72 1496h78v4h-78zM280 1496h4v4h-4zM287 1496h11v4h-11zM231 1496h7v4h-7zM323 1496h7v4h-7zM351 1496h4v4h-4zM365 1496h4v4h-4zM37 1481h6v24h-6zM199 1496h14v9h-14zM181 1496h11v9h-11zM379 1496h11v9h-11zM68 1500h96v5h-96zM344 1500h4v5h-4zM284 1500h11v5h-11zM231 1500h3v5h-3zM319 1500h4v5h-4zM369 1500h3v5h-3zM326 1500h7v5h-7zM397 1500h7v5h-7zM241 1500h4v5h-4zM648 1500h113v10h-113zM252 1505h28v5h-28zM358 1505h32v5h-32zM231 1505h14v5h-14zM199 1505h4v5h-4zM341 1505h3v5h-3zM316 1505h17v5h-17zM259 1510h14v5h-14zM249 1510h7v5h-7zM227 1510h14v5h-14zM362 1510h21v5h-21zM337 1510h7v5h-7zM648 1510h110v5h-110zM287 1510h4v5h-4zM37 1505h113v14h-113zM309 1510h24v9h-24zM358 1515h7v4h-7zM645 1515h109v4h-109zM337 1515h14v4h-14zM171 1515h10v4h-10zM263 1515h7v4h-7zM606 1515h3v4h-3zM316 1519h7v5h-7zM634 1519h120v5h-120zM606 1519h7v5h-7zM217 1519h7v5h-7zM171 1519h7v5h-7zM341 1519h10v5h-10zM355 1519h10v5h-10zM305 1519h4v5h-4zM263 1519h10v10h-10zM37 1519h127v10h-127zM305 1524h18v5h-18zM351 1524h14v5h-14zM195 1524h4v5h-4zM171 1524h3v5h-3zM602 1524h149v5h-149zM309 1529h35v5h-35zM157 1529h7v5h-7zM599 1529h148v5h-148zM287 1529h4v5h-4zM263 1529h3v5h-3zM37 1529h105v9h-105zM595 1534h149v4h-149zM372 1534h7v4h-7zM333 1534h22v4h-22zM259 1534h7v4h-7zM323 1534h3v4h-3zM174 1534h7v4h-7zM309 1534h3v4h-3zM150 1538h3v5h-3zM238 1538h3v5h-3zM287 1538h8v5h-8zM174 1538h11v5h-11zM319 1538h43v5h-43zM369 1538h18v10h-18zM224 1538h3v10h-3zM107 1538h35v10h-35zM595 1538h145v10h-145zM277 1538h7v10h-7zM37 1538h42v10h-42zM316 1543h21v5h-21zM341 1543h7v5h-7zM164 1543h14v5h-14zM287 1543h4v5h-4zM443 1543h4v5h-4zM188 1543h11v5h-11z"/>
<path fill="#4b91a3" d="M1412 408h7v4h-7zM1395 412h3v5h-3zM1427 427h3v5h-3zM1423 441h4v5h-4zM1405 441h4v5h-4zM1409 446h3v5h-3zM1427 460h3v10h-3zM1356 470h3v5h-3zM1349 470h3v5h-3zM1320 470h7v5h-7zM1320 475h4v4h-4zM1335 475h14v4h-14zM1412 475h4v9h-4zM1324 479h3v5h-3zM1331 479h14v5h-14zM1363 484h3v5h-3zM1327 484h11v5h-11zM1342 484h3v5h-3zM1381 489h21v5h-21zM1405 489h11v5h-11zM1373 489h4v5h-4zM1335 489h3v5h-3zM1366 489h4v5h-4zM1335 494h7v4h-7zM1434 503h3v5h-3zM1335 503h3v5h-3zM1342 508h3v5h-3zM1324 513h3v4h-3zM1317 517h3v5h-3zM1289 537h7v4h-7zM1303 541h3v5h-3zM1282 541h3v5h-3zM1313 522h4v29h-4zM1228 551h8v5h-8zM1207 556h4v4h-4zM1182 556h4v4h-4zM1282 556h3v4h-3zM1211 560h3v5h-3zM1303 560h3v5h-3zM1221 560h4v10h-4zM1299 565h4v10h-4zM1175 570h4v5h-4zM1228 570h8v5h-8zM1296 579h3v5h-3zM1211 579h3v5h-3zM1179 579h3v5h-3zM1289 589h3v5h-3zM1278 589h7v5h-7zM1136 584h4v15h-4zM1264 594h3v5h-3zM1147 594h4v5h-4zM1469 594h4v5h-4zM1144 599h10v4h-10zM1246 599h4v4h-4zM1147 603h4v5h-4zM1469 603h4v5h-4zM917 608h4v5h-4zM1239 608h4v5h-4zM899 608h4v5h-4zM1285 608h4v5h-4zM1073 608h3v5h-3zM1473 608h3v5h-3zM889 613h3v5h-3zM1236 613h3v5h-3zM878 618h4v4h-4zM871 622h4v5h-4zM1476 622h4v5h-4zM928 622h3v5h-3zM1023 608h4v24h-4zM1317 627h10v5h-10zM1211 627h3v5h-3zM864 627h4v5h-4zM1243 632h7v5h-7zM1338 632h14v5h-14zM1214 632h4v5h-4zM1331 632h4v5h-4zM857 632h4v5h-4zM1480 632h3v5h-3zM1310 632h10v5h-10zM974 632h3v10h-3zM931 632h4v10h-4zM1020 632h3v10h-3zM1476 637h4v5h-4zM1313 637h7v5h-7zM850 637h3v5h-3zM1352 637h4v5h-4zM1299 642h4v4h-4zM1473 642h3v4h-3zM1349 642h3v4h-3zM899 642h11v4h-11zM1331 642h4v4h-4zM1317 642h3v4h-3zM1373 642h8v4h-8zM843 642h3v4h-3zM1044 642h4v4h-4zM1292 642h4v4h-4zM1218 642h3v4h-3zM836 646h3v5h-3zM1469 646h4v5h-4zM1292 646h11v5h-11zM1320 646h4v5h-4zM1349 651h3v5h-3zM829 651h3v5h-3zM935 651h3v5h-3zM1303 651h3v5h-3zM822 656h3v5h-3zM1306 656h7v5h-7zM889 656h3v5h-3zM1451 656h4v5h-4zM1260 656h4v5h-4zM815 661h3v4h-3zM981 661h3v4h-3zM1345 661h7v4h-7zM1105 661h7v4h-7zM1285 661h4v4h-4zM1243 661h3v4h-3zM1313 661h11v4h-11zM1303 661h3v4h-3zM1076 661h4v4h-4zM871 665h4v5h-4zM1299 665h4v5h-4zM1009 665h7v5h-7zM1115 665h4v5h-4zM1282 665h14v5h-14zM1441 665h3v5h-3zM1317 665h3v5h-3zM1062 665h4v5h-4zM1324 665h7v5h-7zM892 665h4v10h-4zM1250 670h3v5h-3zM938 670h4v5h-4zM1430 670h4v5h-4zM1303 670h10v5h-10zM1320 670h4v5h-4zM1115 675h4v5h-4zM1289 675h14v5h-14zM1335 675h10v5h-10zM800 675h4v5h-4zM1310 675h10v5h-10zM1412 675h4v5h-4zM1303 680h7v4h-7zM797 680h3v4h-3zM861 680h3v4h-3zM1317 680h3v4h-3zM896 680h3v4h-3zM1398 680h4v4h-4zM1324 680h7v4h-7zM928 680h7v4h-7zM1384 680h7v4h-7zM1310 684h7v5h-7zM899 684h4v5h-4zM910 684h4v5h-4zM793 684h4v5h-4zM1345 684h4v5h-4zM1327 689h15v5h-15zM1384 689h4v5h-4zM1366 689h11v5h-11zM846 694h4v5h-4zM1306 694h4v5h-4zM790 694h3v5h-3zM839 699h4v5h-4zM1069 704h4v4h-4zM705 704h3v4h-3zM786 704h4v4h-4zM1395 699h3v14h-3zM719 708h4v5h-4zM1076 708h7v5h-7zM836 708h3v5h-3zM1292 708h4v5h-4zM723 713h3v5h-3zM1391 713h4v5h-4zM832 713h4v5h-4zM1274 718h4v5h-4zM712 718h11v9h-11zM783 718h3v9h-3zM1384 723h4v4h-4zM726 723h4v4h-4zM1264 723h3v4h-3zM751 723h14v4h-14zM1250 727h3v5h-3zM811 727h4v5h-4zM1359 727h14v5h-14zM1313 727h4v5h-4zM772 727h4v5h-4zM1331 727h21v5h-21zM744 727h3v5h-3zM1260 727h4v5h-4zM1236 727h3v5h-3zM825 727h4v5h-4zM719 732h4v5h-4zM730 732h7v5h-7zM1306 732h4v5h-4zM1253 732h7v5h-7zM1232 732h7v5h-7zM779 732h4v5h-4zM1232 737h18v5h-18zM1299 737h4v5h-4zM107 737h4v5h-4zM726 737h4v5h-4zM1225 742h3v4h-3zM1282 746h3v5h-3zM754 751h7v5h-7zM1214 751h4v5h-4zM111 751h3v5h-3zM1271 751h3v5h-3zM114 756h4v5h-4zM1211 756h3v5h-3zM1260 756h4v5h-4zM765 756h4v10h-4zM807 756h4v10h-4zM716 756h3v10h-3zM1250 761h3v5h-3zM125 761h3v5h-3zM747 761h4v5h-4zM1239 766h4v4h-4zM1207 766h4v4h-4zM135 766h4v4h-4zM769 766h3v9h-3zM146 770h4v5h-4zM1236 770h3v5h-3zM719 775h4v5h-4zM751 775h3v5h-3zM150 775h3v10h-3zM871 780h4v5h-4zM157 780h3v5h-3zM1204 780h3v5h-3zM811 785h4v4h-4zM1200 785h4v4h-4zM160 785h4v9h-4zM167 789h11v5h-11zM726 789h4v5h-4zM846 789h4v5h-4zM1193 794h4v5h-4zM818 794h4v5h-4zM730 794h3v5h-3zM532 794h3v5h-3zM850 794h3v5h-3zM524 799h11v5h-11zM737 799h3v5h-3zM570 799h4v5h-4zM956 799h4v5h-4zM578 799h3v5h-3zM585 804h3v4h-3zM829 804h3v4h-3zM924 804h7v4h-7zM744 804h3v4h-3zM779 804h4v4h-4zM153 799h4v14h-4zM1186 804h4v9h-4zM914 804h3v9h-3zM765 808h7v5h-7zM793 808h4v5h-4zM751 808h3v5h-3zM921 808h3v5h-3zM832 808h4v5h-4zM592 808h3v5h-3zM641 808h4v5h-4zM917 813h4v5h-4zM857 813h4v5h-4zM797 813h3v5h-3zM634 813h4v5h-4zM836 813h7v5h-7zM620 813h7v5h-7zM609 813h4v5h-4zM1190 813h3v5h-3zM595 813h4v5h-4zM164 808h3v15h-3zM723 818h3v5h-3zM1193 818h4v5h-4zM861 818h3v5h-3zM892 818h11v5h-11zM687 818h4v5h-4zM963 813h4v15h-4zM563 823h4v5h-4zM903 823h7v5h-7zM730 823h3v5h-3zM878 823h4v5h-4zM150 823h3v9h-3zM921 828h3v4h-3zM737 828h3v4h-3zM578 828h3v4h-3zM542 828h21v4h-21zM535 828h4v4h-4zM160 823h4v14h-4zM903 832h4v5h-4zM535 832h14v5h-14zM836 832h3v5h-3zM963 837h4v5h-4zM539 837h3v5h-3zM907 837h3v5h-3zM758 837h7v5h-7zM701 837h36v5h-36zM153 837h7v5h-7zM563 837h4v10h-4zM751 842h3v5h-3zM553 842h3v5h-3zM542 842h4v5h-4zM1105 842h3v5h-3zM1129 842h4v5h-4zM1119 842h3v5h-3zM1165 842h3v5h-3zM832 842h4v5h-4zM772 842h25v5h-25zM949 842h14v5h-14zM1136 842h25v5h-25zM765 842h4v9h-4zM747 847h7v4h-7zM861 847h7v4h-7zM811 847h4v4h-4zM1133 847h7v4h-7zM772 847h7v4h-7zM928 847h10v4h-10zM740 847h4v4h-4zM783 847h14v4h-14zM716 847h3v4h-3zM822 847h3v4h-3zM1151 847h17v4h-17zM1144 847h3v4h-3zM599 847h10v4h-10zM705 847h7v4h-7zM903 851h4v5h-4zM829 851h3v5h-3zM613 851h3v5h-3zM1147 851h21v5h-21zM793 851h14v5h-14zM836 851h3v5h-3zM779 851h4v5h-4zM747 851h4v5h-4zM1129 851h7v10h-7zM811 856h4v5h-4zM1105 856h3v5h-3zM620 856h7v5h-7zM1144 856h10v5h-10zM871 856h4v10h-4zM1158 856h3v10h-3zM535 861h4v5h-4zM1165 861h10v5h-10zM510 861h7v5h-7zM878 861h4v5h-4zM917 861h4v5h-4zM740 861h4v5h-4zM1133 861h11v5h-11zM949 847h4v24h-4zM556 866h4v5h-4zM677 866h3v5h-3zM645 866h3v5h-3zM772 866h7v5h-7zM500 866h3v5h-3zM910 866h4v5h-4zM853 866h11v5h-11zM1161 866h4v5h-4zM800 866h4v5h-4zM1112 866h7v5h-7zM896 861h3v14h-3zM698 866h3v9h-3zM875 866h7v9h-7zM921 871h3v4h-3zM815 871h3v4h-3zM797 871h3v4h-3zM769 871h3v4h-3zM861 871h3v4h-3zM1158 871h7v4h-7zM783 871h3v4h-3zM1119 871h3v4h-3zM489 871h4v4h-4zM673 871h4v4h-4zM772 875h4v5h-4zM1115 875h4v5h-4zM486 875h3v5h-3zM503 875h4v5h-4zM733 875h4v5h-4zM1101 875h4v5h-4zM885 875h4v5h-4zM892 875h4v5h-4zM960 875h3v5h-3zM861 875h7v5h-7zM967 875h3v5h-3zM751 875h3v5h-3zM995 875h3v5h-3zM1168 875h4v5h-4zM871 875h11v5h-11zM797 880h3v5h-3zM521 880h3v5h-3zM807 880h4v5h-4zM670 880h3v5h-3zM1090 880h4v5h-4zM1172 880h3v5h-3zM1105 880h7v5h-7zM1002 880h4v5h-4zM779 880h4v5h-4zM514 880h3v10h-3zM829 880h3v10h-3zM765 885h4v5h-4zM839 885h7v5h-7zM1105 885h3v5h-3zM1175 885h4v5h-4zM998 885h4v5h-4zM500 885h3v5h-3zM945 885h4v5h-4zM956 885h4v5h-4zM128 885h11v5h-11zM581 885h4v5h-4zM493 885h3v9h-3zM963 890h4v4h-4zM832 890h4v4h-4zM528 890h4v4h-4zM754 890h4v4h-4zM705 890h7v4h-7zM1105 890h7v4h-7zM146 890h4v4h-4zM1002 890h4v4h-4zM517 890h4v4h-4zM567 890h3v4h-3zM121 890h4v4h-4zM747 894h7v5h-7zM772 894h4v5h-4zM698 894h3v5h-3zM1108 894h4v5h-4zM563 894h4v5h-4zM482 894h7v5h-7zM783 894h3v5h-3zM592 894h3v5h-3zM1069 894h11v5h-11zM761 894h4v5h-4zM967 894h3v5h-3zM945 894h4v5h-4zM616 894h4v5h-4zM716 894h3v5h-3zM1006 894h3v5h-3zM150 894h3v10h-3zM1027 899h7v5h-7zM118 899h3v5h-3zM620 899h4v5h-4zM627 899h4v5h-4zM701 899h7v5h-7zM1090 899h4v5h-4zM910 899h4v5h-4zM800 899h4v5h-4zM624 904h7v5h-7zM705 904h7v5h-7zM510 904h4v5h-4zM857 904h4v5h-4zM114 904h4v5h-4zM1179 904h3v5h-3zM1076 904h4v5h-4zM779 904h4v5h-4zM903 904h4v9h-4zM945 904h4v9h-4zM797 909h3v4h-3zM542 909h7v4h-7zM524 909h4v4h-4zM772 909h4v4h-4zM730 909h7v4h-7zM486 909h3v4h-3zM146 909h4v4h-4zM624 909h3v4h-3zM708 909h4v4h-4zM599 913h3v5h-3zM570 913h4v5h-4zM744 913h25v5h-25zM733 913h7v5h-7zM1030 913h4v5h-4zM503 913h4v5h-4zM461 913h3v5h-3zM482 913h4v5h-4zM878 913h4v5h-4zM836 913h3v5h-3zM535 913h7v5h-7zM613 913h3v10h-3zM1094 913h4v10h-4zM464 918h4v5h-4zM1108 918h4v5h-4zM907 918h7v5h-7zM839 918h4v5h-4zM899 918h4v5h-4zM861 918h3v5h-3zM560 918h3v5h-3zM970 918h4v5h-4zM1101 918h4v5h-4zM875 918h3v5h-3zM510 918h4v5h-4zM1027 918h3v5h-3zM111 918h3v5h-3zM539 918h3v5h-3zM949 918h4v5h-4zM96 918h4v5h-4zM72 918h3v5h-3zM1037 918h4v5h-4zM496 918h4v5h-4zM765 918h11v5h-11zM832 918h4v10h-4zM549 923h4v5h-4zM797 923h3v5h-3zM107 923h4v5h-4zM521 923h7v5h-7zM585 923h3v5h-3zM945 923h4v5h-4zM574 923h4v5h-4zM850 923h3v5h-3zM790 923h3v5h-3zM705 923h11v10h-11zM942 928h7v5h-7zM730 928h3v5h-3zM974 928h3v5h-3zM1041 928h3v5h-3zM910 928h4v5h-4zM984 928h4v5h-4zM1034 928h3v5h-3zM857 928h4v5h-4zM1009 928h4v5h-4zM493 928h3v9h-3zM885 928h4v9h-4zM581 928h7v9h-7zM871 933h4v4h-4zM599 933h3v4h-3zM620 933h4v4h-4zM829 933h3v4h-3zM977 933h7v4h-7zM705 933h14v4h-14zM903 933h4v4h-4zM104 933h3v4h-3zM68 923h4v19h-4zM726 933h7v9h-7zM1094 933h4v9h-4zM949 933h4v9h-4zM892 937h4v5h-4zM1037 937h4v5h-4zM942 937h3v5h-3zM1108 942h4v5h-4zM539 942h7v5h-7zM100 942h4v5h-4zM436 942h4v5h-4zM896 942h3v5h-3zM450 942h4v5h-4zM825 942h4v5h-4zM853 942h4v5h-4zM945 942h4v5h-4zM1098 942h3v5h-3zM1186 942h4v10h-4zM549 947h4v5h-4zM815 947h3v5h-3zM726 947h7v5h-7zM514 947h3v5h-3zM1094 947h4v5h-4zM560 947h3v5h-3zM875 947h3v5h-3zM740 947h14v5h-14zM984 947h4v5h-4zM928 947h3v5h-3zM489 947h4v5h-4zM96 947h4v5h-4zM914 947h3v5h-3zM1002 947h4v9h-4zM432 952h4v4h-4zM719 952h11v4h-11zM535 952h4v4h-4zM542 952h11v4h-11zM609 952h7v4h-7zM977 952h4v4h-4zM953 952h3v4h-3zM510 952h4v4h-4zM836 952h3v4h-3zM740 952h18v4h-18zM850 952h3v4h-3zM942 952h3v4h-3zM1101 952h4v9h-4zM747 956h7v5h-7zM549 956h4v5h-4zM786 956h7v5h-7zM517 956h4v5h-4zM945 956h11v5h-11zM588 956h50v5h-50zM853 956h8v5h-8zM507 961h3v5h-3zM974 961h10v5h-10zM1232 961h4v5h-4zM383 961h4v5h-4zM882 961h3v5h-3zM627 961h4v5h-4zM546 961h7v5h-7zM822 961h7v5h-7zM754 961h4v5h-4zM726 961h4v5h-4zM896 961h3v5h-3zM737 961h3v5h-3zM875 961h3v5h-3zM440 961h3v5h-3zM648 961h7v5h-7zM1246 961h4v5h-4zM960 961h7v5h-7zM836 961h25v5h-25zM1186 956h4v15h-4zM953 961h3v10h-3zM942 961h3v10h-3zM1105 966h3v5h-3zM82 966h4v5h-4zM991 966h4v5h-4zM358 966h4v5h-4zM868 966h14v5h-14zM404 966h4v5h-4zM1236 966h14v5h-14zM822 966h42v5h-42zM719 966h11v9h-11zM563 966h4v9h-4zM549 971h4v4h-4zM1239 971h4v4h-4zM822 971h7v4h-7zM754 971h4v4h-4zM984 971h7v4h-7zM401 971h3v4h-3zM369 971h3v4h-3zM1182 971h8v4h-8zM478 971h4v4h-4zM677 971h7v4h-7zM843 971h28v4h-28zM945 971h4v4h-4zM1037 971h4v4h-4zM79 971h3v4h-3zM666 961h4v19h-4zM963 971h4v9h-4zM351 971h4v9h-4zM1027 971h3v9h-3zM836 971h3v9h-3zM1250 975h3v5h-3zM829 975h3v5h-3zM846 975h4v5h-4zM733 975h4v5h-4zM981 975h7v5h-7zM1037 975h7v5h-7zM744 975h3v5h-3zM609 975h4v5h-4zM553 975h7v5h-7zM751 975h3v5h-3zM1236 975h7v5h-7zM945 975h8v5h-8zM719 975h4v10h-4zM871 980h4v5h-4zM804 980h3v5h-3zM677 980h3v5h-3zM553 980h3v5h-3zM981 980h3v5h-3zM776 980h3v5h-3zM478 980h4v5h-4zM376 980h3v5h-3zM1101 971h4v19h-4zM1186 975h4v15h-4zM716 985h7v5h-7zM432 985h4v5h-4zM443 985h4v5h-4zM910 985h4v5h-4zM624 985h3v5h-3zM949 985h11v5h-11zM560 985h7v5h-7zM864 985h4v5h-4zM1009 980h4v15h-4zM723 990h3v5h-3zM730 990h7v5h-7zM153 990h7v5h-7zM351 990h4v5h-4zM949 990h7v5h-7zM712 990h4v5h-4zM1179 990h3v5h-3zM556 990h4v9h-4zM79 990h3v9h-3zM47 995h7v4h-7zM730 995h3v4h-3zM125 995h3v4h-3zM1175 995h4v4h-4zM790 995h7v4h-7zM358 995h4v4h-4zM298 995h4v4h-4zM712 995h7v4h-7zM737 995h14v4h-14zM945 995h4v4h-4zM666 995h4v4h-4zM348 995h3v4h-3zM914 995h3v4h-3zM372 995h4v9h-4zM58 999h3v5h-3zM514 999h3v5h-3zM37 999h6v5h-6zM726 999h18v5h-18zM747 999h4v5h-4zM298 999h7v5h-7zM634 999h4v5h-4zM892 999h4v5h-4zM1009 999h4v5h-4zM949 999h4v5h-4zM68 999h7v5h-7zM716 999h3v5h-3zM790 999h3v5h-3zM1225 990h3v19h-3zM815 1004h3v5h-3zM1105 1004h3v5h-3zM1002 1004h7v5h-7zM981 1004h10v5h-10zM726 1004h11v5h-11zM705 1004h14v5h-14zM903 1004h4v5h-4zM744 1004h17v5h-17zM1027 1004h3v5h-3zM960 1004h3v5h-3zM471 1004h7v5h-7zM1020 1004h3v5h-3zM40 1004h7v5h-7zM72 1004h10v5h-10zM853 1004h4v5h-4zM995 1004h3v5h-3zM302 1004h3v10h-3zM776 1004h3v10h-3zM284 1004h3v10h-3zM415 1009h3v5h-3zM1013 1009h3v5h-3zM58 1009h3v5h-3zM730 1009h10v5h-10zM981 1009h3v5h-3zM846 1009h4v5h-4zM277 1009h3v5h-3zM50 1009h4v5h-4zM953 1009h3v5h-3zM751 1009h7v5h-7zM744 1009h3v9h-3zM963 1014h4v4h-4zM464 1014h4v4h-4zM379 1014h4v4h-4zM687 1014h4v4h-4zM970 1014h4v4h-4zM641 1014h4v4h-4zM797 1014h7v4h-7zM302 1014h7v4h-7zM818 1014h4v4h-4zM1154 1014h4v4h-4zM616 1014h4v4h-4zM733 1014h4v9h-4zM1016 1018h4v5h-4zM627 1018h4v5h-4zM1147 1018h4v5h-4zM1023 1018h4v5h-4zM981 1018h3v5h-3zM818 1018h7v5h-7zM776 1018h3v5h-3zM351 1018h4v5h-4zM503 1018h4v5h-4zM489 1018h4v5h-4zM793 1018h4v5h-4zM949 1018h4v5h-4zM744 1018h7v5h-7zM754 1018h4v10h-4zM599 1023h3v5h-3zM372 1023h4v5h-4zM387 1023h7v5h-7zM924 1023h4v5h-4zM811 1023h4v5h-4zM1133 1023h3v5h-3zM733 1023h11v5h-11zM517 1023h7v5h-7zM977 1023h4v5h-4zM510 1023h4v5h-4zM818 1023h4v5h-4zM493 1023h7v5h-7zM1009 1023h4v5h-4zM843 1023h3v5h-3zM960 1023h7v5h-7zM800 1023h4v5h-4zM263 1023h3v5h-3zM1041 1018h3v15h-3zM1016 1028h4v5h-4zM733 1028h7v5h-7zM613 1028h3v5h-3zM150 1028h3v5h-3zM157 1028h3v5h-3zM602 1028h4v5h-4zM500 1028h3v5h-3zM878 1028h4v5h-4zM362 1028h3v5h-3zM256 1028h3v5h-3zM942 1028h3v5h-3zM779 1028h4v5h-4zM673 1028h4v5h-4zM397 1028h4v9h-4zM659 1028h3v9h-3zM921 1033h3v4h-3zM160 1033h4v4h-4zM907 1033h3v4h-3zM234 1033h7v4h-7zM839 1033h4v4h-4zM634 1033h4v4h-4zM733 1033h4v4h-4zM645 1033h3v4h-3zM390 1033h4v4h-4zM567 1033h3v4h-3zM935 1033h10v4h-10zM365 1033h4v4h-4zM142 1033h4v9h-4zM655 1037h4v5h-4zM963 1037h4v5h-4zM822 1037h3v5h-3zM942 1037h18v5h-18zM394 1037h3v5h-3zM670 1037h3v5h-3zM921 1037h7v5h-7zM220 1037h7v5h-7zM843 1037h3v5h-3zM164 1037h3v5h-3zM935 1037h3v5h-3zM468 1037h3v10h-3zM270 1042h3v5h-3zM422 1042h3v5h-3zM931 1042h4v5h-4zM1030 1042h4v5h-4zM461 1042h3v5h-3zM963 1042h28v5h-28zM1037 1042h7v5h-7zM574 1042h7v5h-7zM818 1042h4v5h-4zM397 1042h4v5h-4zM917 1042h4v5h-4zM539 1042h3v5h-3zM454 1042h3v5h-3zM546 1042h3v5h-3zM188 1042h18v5h-18zM365 1042h4v5h-4zM691 1042h3v10h-3zM411 1042h4v10h-4zM846 1042h4v10h-4zM585 1042h3v10h-3zM938 1047h18v5h-18zM252 1047h4v5h-4zM553 1047h3v5h-3zM705 1047h3v5h-3zM670 1047h3v5h-3zM829 1047h7v5h-7zM984 1047h11v5h-11zM963 1047h18v5h-18zM387 1047h3v5h-3zM436 1047h4v10h-4zM383 1052h4v5h-4zM249 1052h3v5h-3zM733 1052h11v5h-11zM146 1052h4v5h-4zM662 1052h8v5h-8zM953 1052h3v5h-3zM963 1052h21v5h-21zM273 1052h7v5h-7zM1059 1052h3v5h-3zM708 1052h4v5h-4zM716 1052h3v5h-3zM850 1052h3v5h-3zM422 1052h3v9h-3zM694 1052h4v9h-4zM938 1052h7v9h-7zM655 1057h4v4h-4zM280 1057h4v4h-4zM432 1057h4v4h-4zM974 1057h3v4h-3zM733 1057h7v4h-7zM981 1057h3v4h-3zM443 1057h4v4h-4zM493 1057h3v4h-3zM949 1057h7v4h-7zM712 1057h7v4h-7zM500 1057h3v4h-3zM478 1057h4v4h-4zM401 1057h7v4h-7zM245 1057h4v4h-4zM963 1057h7v4h-7zM907 1052h3v14h-3zM871 1057h4v9h-4zM1062 1057h4v9h-4zM963 1061h4v5h-4zM680 1061h4v5h-4zM931 1061h11v5h-11zM694 1061h7v5h-7zM670 1061h3v5h-3zM970 1061h4v5h-4zM319 1061h4v5h-4zM146 1061h4v5h-4zM737 1061h3v5h-3zM397 1061h4v5h-4zM489 1061h4v5h-4zM949 1061h11v10h-11zM723 1066h7v5h-7zM418 1066h4v5h-4zM486 1066h3v5h-3zM333 1066h4v5h-4zM984 1066h4v5h-4zM1048 1066h7v5h-7zM447 1066h3v5h-3zM963 1066h7v5h-7zM496 1066h4v5h-4zM938 1066h7v5h-7zM815 1066h3v10h-3zM415 1071h3v5h-3zM280 1071h4v5h-4zM249 1071h3v5h-3zM931 1071h11v5h-11zM769 1071h3v5h-3zM726 1071h4v5h-4zM1041 1071h3v5h-3zM443 1071h4v5h-4zM899 1071h8v5h-8zM712 1071h7v5h-7zM744 1071h3v5h-3zM793 1071h4v5h-4zM1027 1076h7v4h-7zM514 1076h10v4h-10zM471 1076h4v4h-4zM984 1076h7v4h-7zM645 1076h3v4h-3zM740 1076h7v4h-7zM751 1076h3v4h-3zM730 1080h3v5h-3zM263 1080h3v5h-3zM807 1080h4v5h-4zM970 1080h4v5h-4zM868 1080h3v5h-3zM641 1080h4v5h-4zM740 1080h21v5h-21zM273 1080h4v5h-4zM638 1085h7v5h-7zM528 1085h4v5h-4zM666 1085h4v5h-4zM740 1085h32v5h-32zM864 1085h4v5h-4zM960 1085h3v10h-3zM889 1090h3v5h-3zM634 1090h4v5h-4zM1041 1090h3v5h-3zM765 1090h7v5h-7zM861 1090h7v5h-7zM945 1090h4v5h-4zM758 1090h3v5h-3zM146 1076h4v24h-4zM797 1095h10v5h-10zM885 1095h4v5h-4zM772 1095h14v5h-14zM751 1095h18v5h-18zM942 1095h7v5h-7zM376 1095h3v5h-3zM740 1095h4v5h-4zM365 1095h7v5h-7zM882 1100h3v4h-3zM627 1100h4v4h-4zM701 1100h7v4h-7zM369 1100h3v4h-3zM726 1100h28v4h-28zM815 1100h10v4h-10zM956 1100h4v9h-4zM945 1100h8v9h-8zM655 1104h4v5h-4zM730 1104h10v5h-10zM287 1104h4v5h-4zM496 1104h7v5h-7zM878 1104h4v5h-4zM708 1104h18v5h-18zM694 1104h4v10h-4zM355 1109h3v5h-3zM620 1109h4v5h-4zM337 1109h7v5h-7zM401 1109h3v5h-3zM645 1109h3v5h-3zM818 1109h4v5h-4zM500 1109h3v5h-3zM517 1109h11v5h-11zM956 1109h7v5h-7zM273 1109h7v5h-7zM295 1109h3v5h-3zM387 1109h3v5h-3zM708 1109h15v5h-15zM263 1109h3v5h-3zM949 1109h4v10h-4zM758 1109h3v10h-3zM871 1114h4v5h-4zM514 1114h3v5h-3zM698 1114h3v5h-3zM418 1114h4v5h-4zM319 1114h4v5h-4zM779 1114h4v5h-4zM142 1114h4v5h-4zM298 1114h4v5h-4zM482 1114h4v5h-4zM786 1114h4v5h-4zM960 1114h3v5h-3zM751 1114h3v5h-3zM708 1114h4v5h-4zM708 1119h8v4h-8zM620 1119h4v4h-4zM411 1119h4v4h-4zM719 1119h4v4h-4zM754 1119h4v4h-4zM776 1119h3v4h-3zM868 1119h3v4h-3zM478 1119h4v4h-4zM945 1119h18v4h-18zM404 1119h4v4h-4zM535 1119h4v9h-4zM295 1119h3v9h-3zM963 1123h4v5h-4zM507 1123h3v5h-3zM769 1123h3v5h-3zM733 1123h4v5h-4zM475 1123h3v5h-3zM945 1123h11v5h-11zM701 1123h4v5h-4zM312 1123h4v5h-4zM843 1123h3v5h-3zM708 1123h4v5h-4zM758 1123h3v5h-3zM723 1128h3v5h-3zM521 1128h3v5h-3zM818 1128h7v5h-7zM846 1128h4v5h-4zM351 1128h4v5h-4zM298 1128h4v5h-4zM532 1128h3v5h-3zM305 1128h4v5h-4zM500 1128h7v5h-7zM712 1128h4v5h-4zM150 1123h3v15h-3zM471 1128h4v10h-4zM786 1128h4v10h-4zM857 1128h4v10h-4zM270 1133h3v5h-3zM606 1133h3v5h-3zM528 1133h4v5h-4zM482 1133h7v5h-7zM517 1133h4v5h-4zM496 1133h4v5h-4zM754 1138h4v4h-4zM493 1138h3v4h-3zM358 1138h4v4h-4zM482 1138h4v4h-4zM284 1138h3v4h-3zM779 1138h4v4h-4zM733 1138h4v9h-4zM599 1142h3v5h-3zM280 1142h4v5h-4zM150 1142h7v5h-7zM478 1142h4v5h-4zM624 1142h3v5h-3zM372 1142h4v10h-4zM620 1147h4v5h-4zM249 1147h3v5h-3zM227 1147h4v5h-4zM737 1147h3v5h-3zM284 1147h3v10h-3zM348 1147h3v10h-3zM588 1152h4v5h-4zM422 1152h3v5h-3zM730 1152h3v5h-3zM259 1152h7v5h-7zM157 1152h3v5h-3zM517 1152h4v5h-4zM701 1152h4v5h-4zM761 1152h4v5h-4zM220 1152h4v5h-4zM404 1152h4v5h-4zM616 1152h4v5h-4zM804 1152h3v10h-3zM369 1152h3v10h-3zM270 1157h3v5h-3zM811 1157h4v5h-4zM613 1157h3v5h-3zM726 1157h4v5h-4zM783 1157h17v5h-17zM585 1157h3v5h-3zM864 1157h4v5h-4zM740 1157h4v5h-4zM716 1157h3v5h-3zM723 1162h3v4h-3zM160 1162h4v4h-4zM252 1162h4v4h-4zM206 1162h7v4h-7zM705 1162h3v4h-3zM790 1162h7v4h-7zM868 1162h3v4h-3zM503 1162h4v4h-4zM733 1162h4v4h-4zM804 1162h14v4h-14zM273 1162h4v4h-4zM857 1162h4v9h-4zM797 1166h3v5h-3zM287 1166h4v5h-4zM379 1166h4v5h-4zM578 1166h3v5h-3zM277 1166h3v5h-3zM146 1166h4v5h-4zM510 1166h4v5h-4zM500 1166h3v5h-3zM199 1166h7v5h-7zM790 1166h3v5h-3zM171 1166h3v5h-3zM761 1157h8v19h-8zM188 1166h7v10h-7zM716 1171h7v5h-7zM394 1171h3v5h-3zM37 1171h3v5h-3zM298 1171h11v5h-11zM493 1171h3v5h-3zM464 1171h7v5h-7zM818 1171h4v5h-4zM786 1171h4v5h-4zM779 1171h4v5h-4zM422 1171h3v10h-3zM450 1176h7v5h-7zM807 1176h4v5h-4zM595 1176h4v5h-4zM783 1176h3v5h-3zM376 1176h3v5h-3zM793 1176h4v5h-4zM800 1176h4v5h-4zM740 1176h4v5h-4zM832 1181h4v4h-4zM443 1181h4v4h-4zM482 1181h4v4h-4zM592 1181h3v4h-3zM312 1181h4v4h-4zM776 1181h7v4h-7zM337 1181h4v4h-4zM464 1185h4v5h-4zM418 1185h4v5h-4zM486 1185h3v5h-3zM776 1185h3v5h-3zM333 1185h4v5h-4zM404 1185h4v5h-4zM832 1185h7v5h-7zM415 1190h3v5h-3zM128 1190h4v5h-4zM556 1190h4v5h-4zM754 1190h11v5h-11zM425 1190h4v5h-4zM733 1190h4v5h-4zM585 1190h3v5h-3zM376 1190h3v10h-3zM761 1195h15v5h-15zM719 1195h4v5h-4zM429 1195h3v5h-3zM132 1195h3v5h-3zM284 1195h3v5h-3zM312 1195h4v5h-4zM496 1195h4v5h-4zM754 1195h4v9h-4zM765 1200h4v4h-4zM432 1200h4v4h-4zM730 1200h3v4h-3zM287 1200h4v4h-4zM899 1200h4v4h-4zM482 1200h4v4h-4zM408 1200h3v4h-3zM132 1200h7v4h-7zM708 1200h4v4h-4zM832 1200h7v4h-7zM139 1204h3v5h-3zM411 1204h4v5h-4zM705 1204h3v5h-3zM132 1204h3v5h-3zM560 1204h3v5h-3zM37 1204h3v5h-3zM896 1204h7v5h-7zM761 1204h4v5h-4zM758 1209h7v5h-7zM330 1209h3v5h-3zM747 1209h4v5h-4zM40 1209h3v5h-3zM892 1209h11v5h-11zM114 1209h4v5h-4zM716 1209h3v5h-3zM769 1209h3v10h-3zM302 1214h3v5h-3zM822 1214h3v5h-3zM885 1214h14v5h-14zM37 1214h3v5h-3zM135 1214h4v5h-4zM701 1214h11v5h-11zM758 1214h3v5h-3zM326 1214h4v10h-4zM733 1219h4v5h-4zM54 1219h4v5h-4zM40 1219h3v5h-3zM754 1219h4v5h-4zM765 1224h4v4h-4zM815 1224h3v4h-3zM355 1224h14v4h-14zM747 1224h4v4h-4zM298 1224h4v4h-4zM896 1219h3v14h-3zM323 1224h3v9h-3zM330 1228h3v5h-3zM43 1228h7v5h-7zM807 1228h4v5h-4zM369 1228h3v5h-3zM885 1228h4v5h-4zM737 1228h14v5h-14zM43 1233h4v5h-4zM691 1233h17v5h-17zM379 1233h4v5h-4zM390 1238h4v5h-4zM670 1238h7v5h-7zM47 1238h3v5h-3zM889 1238h3v9h-3zM238 1243h3v9h-3zM662 1247h4v10h-4zM50 1252h4v5h-4zM394 1257h3v5h-3zM744 1257h3v5h-3zM733 1262h18v5h-18zM107 1262h7v5h-7zM708 1267h8v4h-8zM698 1267h3v4h-3zM670 1267h3v4h-3zM680 1271h14v5h-14zM751 1271h3v5h-3zM263 1271h3v5h-3zM273 1267h4v14h-4zM701 1271h4v10h-4zM252 1276h4v5h-4zM684 1276h3v5h-3zM121 1276h4v5h-4zM128 1276h4v10h-4zM383 1276h4v10h-4zM698 1281h7v5h-7zM641 1281h4v5h-4zM277 1281h3v5h-3zM61 1281h4v5h-4zM786 1281h4v5h-4zM100 1281h7v5h-7zM249 1286h3v4h-3zM65 1286h3v4h-3zM701 1286h4v4h-4zM86 1286h10v4h-10zM691 1290h7v5h-7zM701 1290h7v5h-7zM82 1290h4v5h-4zM280 1290h4v10h-4zM786 1290h4v10h-4zM263 1295h14v5h-14zM694 1295h7v5h-7zM705 1295h7v5h-7zM249 1295h7v5h-7zM79 1295h3v5h-3zM270 1300h10v5h-10zM160 1300h4v5h-4zM691 1300h3v5h-3zM249 1300h3v5h-3zM698 1300h7v5h-7zM259 1300h4v5h-4zM376 1300h3v5h-3zM153 1300h4v5h-4zM259 1305h21v4h-21zM167 1305h4v4h-4zM595 1305h4v4h-4zM185 1305h14v4h-14zM241 1305h4v4h-4zM761 1305h4v4h-4zM220 1305h18v4h-18zM694 1305h7v9h-7zM684 1305h7v9h-7zM266 1309h14v5h-14zM800 1309h7v5h-7zM708 1309h4v5h-4zM716 1309h3v5h-3zM245 1309h4v10h-4zM691 1314h10v5h-10zM266 1314h4v5h-4zM287 1314h11v5h-11zM705 1314h14v5h-14zM273 1314h7v5h-7zM691 1319h28v5h-28zM815 1319h3v5h-3zM291 1319h11v5h-11zM266 1319h21v5h-21zM765 1319h7v5h-7zM249 1319h7v10h-7zM698 1324h10v5h-10zM291 1324h4v5h-4zM259 1324h11v5h-11zM712 1324h14v5h-14zM298 1324h4v5h-4zM818 1324h4v5h-4zM273 1324h14v5h-14zM365 1324h4v5h-4zM241 1319h4v14h-4zM769 1324h3v9h-3zM716 1329h7v4h-7zM287 1329h11v4h-11zM263 1329h7v4h-7zM726 1329h4v4h-4zM585 1329h3v4h-3zM277 1329h7v4h-7zM362 1329h3v4h-3zM701 1329h7v9h-7zM309 1333h3v5h-3zM358 1333h4v5h-4zM712 1333h18v5h-18zM273 1333h11v5h-11zM323 1338h3v5h-3zM701 1338h11v5h-11zM273 1338h22v5h-22zM723 1338h3v10h-3zM772 1343h4v5h-4zM563 1343h4v5h-4zM270 1343h7v5h-7zM705 1343h3v5h-3zM348 1343h3v5h-3zM705 1348h25v4h-25zM546 1348h7v4h-7zM776 1348h3v4h-3zM772 1352h4v5h-4zM719 1352h11v10h-11zM737 1357h10v5h-10zM539 1357h3v10h-3zM733 1362h7v5h-7zM595 1376h21v5h-21zM121 1376h14v5h-14zM121 1381h7v5h-7zM684 1381h3v5h-3zM609 1386h4v5h-4zM524 1386h4v5h-4zM624 1391h7v4h-7zM602 1391h4v4h-4zM730 1391h3v4h-3zM135 1391h7v4h-7zM737 1391h7v4h-7zM631 1395h3v5h-3zM694 1395h4v5h-4zM726 1395h7v10h-7zM740 1395h4v10h-4zM698 1400h3v5h-3zM726 1405h14v5h-14zM719 1410h21v4h-21zM708 1410h4v4h-4zM263 1410h7v4h-7zM744 1410h3v9h-3zM719 1414h18v5h-18zM712 1414h4v5h-4zM723 1419h21v5h-21zM287 1424h4v9h-4zM797 1429h3v4h-3zM298 1433h4v5h-4zM259 1433h4v5h-4zM305 1433h4v5h-4zM790 1433h3v5h-3zM751 1429h3v14h-3zM631 1438h3v5h-3zM478 1438h4v5h-4zM786 1438h4v5h-4zM698 1438h7v10h-7zM54 1443h4v5h-4zM783 1443h3v5h-3zM234 1443h4v5h-4zM47 1443h3v5h-3zM687 1443h4v10h-4zM761 1448h4v5h-4zM705 1448h3v9h-3zM691 1453h10v4h-10zM277 1453h3v4h-3zM284 1453h3v4h-3zM188 1457h4v5h-4zM150 1457h3v5h-3zM691 1457h17v5h-17zM167 1457h4v5h-4zM249 1457h3v5h-3zM181 1457h4v5h-4zM58 1462h3v5h-3zM624 1462h3v5h-3zM185 1462h3v5h-3zM298 1467h4v5h-4zM270 1467h3v5h-3zM37 1472h3v4h-3zM252 1476h4v5h-4zM432 1476h4v5h-4zM277 1481h3v5h-3zM620 1481h4v5h-4zM454 1481h3v5h-3zM422 1481h3v5h-3zM153 1481h4v5h-4zM43 1481h4v5h-4zM65 1481h3v5h-3zM171 1481h3v5h-3zM185 1481h3v5h-3zM220 1486h4v5h-4zM638 1486h3v5h-3zM231 1491h3v5h-3zM302 1491h3v5h-3zM68 1496h4v4h-4zM174 1496h7v4h-7zM224 1496h3v4h-3zM401 1496h3v4h-3zM153 1496h4v4h-4zM164 1496h3v4h-3zM362 1496h3v4h-3zM43 1491h4v14h-4zM645 1496h3v9h-3zM178 1500h3v5h-3zM259 1500h4v5h-4zM351 1500h4v5h-4zM210 1505h3v5h-3zM401 1505h3v5h-3zM305 1505h4v5h-4zM203 1505h3v5h-3zM606 1500h3v15h-3zM256 1510h3v5h-3zM171 1510h3v5h-3zM220 1515h4v4h-4zM252 1515h4v4h-4zM305 1515h4v4h-4zM641 1515h4v4h-4zM613 1519h3v5h-3zM631 1519h3v5h-3zM224 1519h3v5h-3zM602 1519h4v5h-4zM599 1524h3v5h-3zM330 1524h3v5h-3zM199 1524h4v5h-4zM376 1524h3v5h-3zM287 1524h4v5h-4zM178 1529h3v5h-3zM142 1529h4v9h-4zM326 1534h7v4h-7zM379 1534h4v4h-4zM224 1534h3v4h-3zM394 1534h3v4h-3zM181 1534h4v4h-4zM312 1534h4v4h-4zM238 1534h3v4h-3zM164 1538h3v5h-3zM79 1538h3v5h-3zM443 1538h4v5h-4zM104 1538h3v10h-3zM256 1543h3v5h-3zM284 1543h3v5h-3zM440 1543h3v5h-3zM337 1543h4v5h-4z"/>
<path fill="#7db075" d="M1416 412h3v5h-3zM1419 417h4v5h-4zM1412 422h4v5h-4zM1395 417h3v15h-3zM1423 422h4v10h-4zM1409 427h7v5h-7zM1430 427h7v5h-7zM1398 436h4v5h-4zM1427 432h3v14h-3zM1409 441h3v5h-3zM1419 446h11v5h-11zM1427 451h3v4h-3zM1423 455h7v5h-7zM1423 460h4v5h-4zM1430 465h4v5h-4zM1412 465h4v10h-4zM1352 470h4v5h-4zM1427 470h3v5h-3zM1324 475h7v4h-7zM1352 475h7v4h-7zM1359 479h4v5h-4zM1327 479h4v5h-4zM1345 479h7v5h-7zM1427 479h3v10h-3zM1338 484h4v5h-4zM1345 484h4v5h-4zM1356 484h7v5h-7zM1416 475h3v19h-3zM1338 489h11v5h-11zM1377 489h4v5h-4zM1352 489h11v5h-11zM1402 489h3v5h-3zM1370 489h3v5h-3zM1430 489h7v5h-7zM1342 494h3v4h-3zM1352 494h4v4h-4zM1412 494h4v4h-4zM1331 498h4v5h-4zM1430 494h4v14h-4zM1338 498h4v10h-4zM1366 503h4v5h-4zM1434 508h3v5h-3zM1327 513h8v4h-8zM1317 537h3v9h-3zM1289 541h14v5h-14zM1303 546h3v10h-3zM1282 546h3v10h-3zM1313 551h4v5h-4zM1186 556h21v4h-21zM1303 556h10v4h-10zM1225 556h3v4h-3zM1207 560h4v5h-4zM1285 560h18v5h-18zM1225 565h3v5h-3zM1303 565h3v5h-3zM1236 556h3v19h-3zM1179 560h3v19h-3zM1211 565h3v14h-3zM1299 575h4v4h-4zM1200 579h11v5h-11zM1182 579h8v5h-8zM1292 584h4v5h-4zM1144 584h3v5h-3zM1469 589h4v5h-4zM1140 589h4v10h-4zM1267 594h7v5h-7zM1250 599h7v4h-7zM1136 599h8v9h-8zM1465 603h4v5h-4zM1243 603h3v5h-3zM903 608h7v5h-7zM1069 608h4v5h-4zM1469 608h4v5h-4zM914 608h3v5h-3zM921 613h3v5h-3zM1246 613h4v5h-4zM892 613h7v5h-7zM1473 613h3v9h-3zM924 618h4v4h-4zM1317 618h3v4h-3zM882 618h3v4h-3zM1306 618h7v4h-7zM1069 618h4v9h-4zM1267 618h4v9h-4zM1306 622h4v5h-4zM1313 622h4v5h-4zM875 622h3v5h-3zM1335 622h7v5h-7zM981 627h10v5h-10zM1327 627h4v5h-4zM1006 627h7v5h-7zM928 627h3v5h-3zM868 627h3v5h-3zM998 627h4v5h-4zM1349 627h7v5h-7zM1310 627h7v5h-7zM1228 627h4v5h-4zM1027 608h3v29h-3zM1363 627h3v10h-3zM1335 627h3v10h-3zM1016 627h4v10h-4zM1476 627h4v10h-4zM1218 632h7v5h-7zM861 632h3v5h-3zM1352 632h7v5h-7zM1069 632h4v5h-4zM853 637h4v5h-4zM1037 637h4v5h-4zM1296 637h7v5h-7zM1052 637h3v5h-3zM1059 637h10v5h-10zM1356 637h7v5h-7zM903 637h7v5h-7zM1310 637h3v5h-3zM1370 637h3v9h-3zM1327 642h4v4h-4zM1381 642h3v4h-3zM846 642h4v4h-4zM896 642h3v4h-3zM1313 642h4v4h-4zM1352 642h7v4h-7zM1469 642h4v4h-4zM1419 642h4v4h-4zM931 642h4v9h-4zM977 642h4v9h-4zM839 646h4v5h-4zM1338 646h18v5h-18zM1313 646h7v5h-7zM1423 646h4v5h-4zM1370 646h7v5h-7zM1303 646h3v5h-3zM892 646h4v5h-4zM1455 646h14v5h-14zM1324 646h7v10h-7zM981 651h3v5h-3zM1342 651h7v5h-7zM832 651h4v5h-4zM1451 651h4v5h-4zM1327 656h4v5h-4zM1313 656h4v5h-4zM1214 656h4v5h-4zM825 656h4v5h-4zM885 656h4v5h-4zM1359 656h4v5h-4zM1020 642h3v23h-3zM892 656h4v9h-4zM1430 661h4v4h-4zM1448 661h3v4h-3zM818 661h4v4h-4zM1352 661h7v4h-7zM878 661h7v4h-7zM1260 661h4v4h-4zM1324 661h7v4h-7zM1306 661h7v4h-7zM935 656h3v14h-3zM1434 665h7v5h-7zM1112 665h3v5h-3zM1296 665h3v5h-3zM811 665h4v5h-4zM998 665h4v5h-4zM984 665h4v5h-4zM1066 665h3v5h-3zM1250 665h3v5h-3zM1331 665h7v5h-7zM1303 665h14v5h-14zM1342 661h3v14h-3zM1313 670h7v5h-7zM1285 670h18v5h-18zM868 670h3v5h-3zM1377 670h4v5h-4zM1324 670h14v5h-14zM807 670h4v5h-4zM1419 670h11v5h-11zM1232 670h4v5h-4zM896 670h3v10h-3zM1303 675h7v5h-7zM1320 675h15v5h-15zM804 675h3v5h-3zM1398 675h4v5h-4zM1225 675h11v5h-11zM864 675h4v5h-4zM1345 675h4v9h-4zM1381 680h3v4h-3zM1366 680h11v4h-11zM921 680h7v4h-7zM857 680h4v4h-4zM1391 680h7v4h-7zM1310 680h7v4h-7zM1366 684h4v5h-4zM853 684h4v5h-4zM797 684h3v5h-3zM903 684h7v5h-7zM1062 689h4v5h-4zM1112 689h3v5h-3zM1377 689h7v5h-7zM1349 689h3v5h-3zM1356 689h3v5h-3zM793 689h4v5h-4zM850 689h3v5h-3zM1388 694h3v5h-3zM1345 694h14v5h-14zM843 694h3v5h-3zM1310 694h10v5h-10zM1391 699h4v5h-4zM790 699h3v5h-3zM1303 699h3v5h-3zM82 699h7v5h-7zM1098 699h3v5h-3zM701 704h4v4h-4zM1299 704h4v4h-4zM1073 704h3v4h-3zM836 704h3v4h-3zM1391 708h4v5h-4zM1296 708h3v5h-3zM832 708h4v5h-4zM701 708h18v5h-18zM786 708h4v10h-4zM1285 713h7v5h-7zM705 713h18v5h-18zM1388 718h3v5h-3zM829 718h3v5h-3zM708 718h4v5h-4zM1278 718h4v5h-4zM723 718h3v9h-3zM1313 723h18v4h-18zM1373 723h11v4h-11zM825 723h4v4h-4zM1267 723h4v4h-4zM747 727h4v5h-4zM1310 727h3v5h-3zM1264 727h3v5h-3zM765 727h7v5h-7zM708 727h22v5h-22zM815 727h10v5h-10zM1352 727h7v5h-7zM783 727h3v10h-3zM737 732h3v5h-3zM107 732h4v5h-4zM712 732h7v5h-7zM776 732h3v5h-3zM1303 732h3v5h-3zM723 732h7v5h-7zM1296 737h3v5h-3zM1250 737h3v5h-3zM779 737h7v5h-7zM730 737h3v5h-3zM719 737h7v5h-7zM783 742h3v4h-3zM1285 742h7v4h-7zM719 742h11v4h-11zM1228 742h4v4h-4zM111 737h3v14h-3zM1221 746h4v5h-4zM1274 746h8v5h-8zM758 746h3v5h-3zM807 737h4v19h-4zM716 746h10v10h-10zM1264 751h7v5h-7zM751 751h3v5h-3zM761 751h8v5h-8zM1218 751h3v5h-3zM37 751h24v5h-24zM118 756h7v5h-7zM747 756h4v5h-4zM1257 756h3v5h-3zM719 756h4v5h-4zM712 756h4v5h-4zM1243 761h7v5h-7zM128 761h4v5h-4zM769 761h3v5h-3zM1211 761h3v5h-3zM740 761h7v9h-7zM1236 766h3v4h-3zM139 766h14v4h-14zM719 766h4v9h-4zM150 770h7v5h-7zM747 770h4v5h-4zM740 770h4v5h-4zM1207 770h4v10h-4zM769 775h3v5h-3zM153 775h7v5h-7zM807 766h4v19h-4zM160 780h4v5h-4zM765 780h7v5h-7zM723 780h3v5h-3zM878 780h11v5h-11zM754 780h4v5h-4zM153 780h4v5h-4zM150 785h10v4h-10zM892 785h15v4h-15zM857 785h7v4h-7zM164 785h3v4h-3zM178 785h3v4h-3zM726 785h4v4h-4zM1204 785h3v4h-3zM850 785h3v9h-3zM150 789h7v5h-7zM811 789h7v5h-7zM730 789h3v5h-3zM892 789h7v5h-7zM1200 789h4v5h-4zM160 794h4v5h-4zM889 794h3v5h-3zM1197 794h3v5h-3zM570 794h4v5h-4zM153 794h4v5h-4zM896 794h3v5h-3zM733 794h4v5h-4zM914 794h3v10h-3zM949 799h7v5h-7zM740 799h4v5h-4zM822 799h3v5h-3zM783 799h7v5h-7zM1190 799h3v5h-3zM825 804h4v4h-4zM747 804h7v4h-7zM570 804h8v4h-8zM931 804h7v4h-7zM772 804h7v4h-7zM790 804h3v4h-3zM581 804h4v4h-4zM157 799h7v14h-7zM853 808h4v5h-4zM754 808h11v5h-11zM645 808h21v5h-21zM829 808h3v5h-3zM797 808h3v5h-3zM574 808h4v5h-4zM588 808h4v5h-4zM1190 808h3v5h-3zM517 808h4v5h-4zM907 813h7v5h-7zM861 813h3v5h-3zM153 813h11v5h-11zM524 813h4v5h-4zM832 813h4v5h-4zM638 813h3v5h-3zM800 813h4v5h-4zM666 813h18v5h-18zM613 813h7v5h-7zM570 813h4v10h-4zM846 818h15v5h-15zM160 818h4v5h-4zM691 818h3v5h-3zM885 818h7v5h-7zM864 818h11v5h-11zM528 818h4v5h-4zM1197 818h3v5h-3zM634 818h4v5h-4zM804 818h3v5h-3zM684 818h3v5h-3zM836 818h3v5h-3zM641 823h4v5h-4zM807 823h4v5h-4zM875 823h3v5h-3zM694 823h14v5h-14zM910 823h7v5h-7zM567 823h7v5h-7zM595 823h4v5h-4zM609 823h4v9h-4zM539 828h3v4h-3zM592 828h10v4h-10zM698 828h7v4h-7zM733 828h4v4h-4zM581 828h4v4h-4zM157 823h3v14h-3zM963 828h4v9h-4zM871 832h4v5h-4zM737 832h3v5h-3zM921 832h3v5h-3zM938 832h4v5h-4zM549 832h14v5h-14zM822 832h3v5h-3zM595 832h4v10h-4zM609 837h4v5h-4zM839 837h4v5h-4zM861 837h3v5h-3zM797 837h3v5h-3zM542 837h7v5h-7zM931 832h4v15h-4zM945 842h4v5h-4zM546 842h7v5h-7zM1161 842h4v5h-4zM843 842h3v5h-3zM1133 842h3v5h-3zM1108 842h11v5h-11zM556 842h7v5h-7zM613 842h11v5h-11zM1122 842h4v5h-4zM701 842h4v9h-4zM754 842h11v9h-11zM687 842h4v9h-4zM1147 847h4v4h-4zM850 847h11v4h-11zM1129 847h4v4h-4zM1115 847h7v4h-7zM712 847h4v4h-4zM832 847h4v4h-4zM634 847h4v4h-4zM609 847h11v4h-11zM1108 847h4v4h-4zM1140 847h4v4h-4zM896 847h3v4h-3zM839 851h4v5h-4zM1108 851h14v5h-14zM1136 851h11v5h-11zM761 856h4v5h-4zM825 856h4v5h-4zM627 856h7v5h-7zM645 856h3v5h-3zM680 856h14v5h-14zM1112 856h17v5h-17zM751 856h3v5h-3zM1136 856h8v5h-8zM804 856h3v5h-3zM896 856h3v5h-3zM723 856h3v10h-3zM1154 856h4v10h-4zM1115 861h4v5h-4zM1126 861h7v5h-7zM638 861h14v5h-14zM677 861h3v5h-3zM1144 861h3v5h-3zM793 861h4v5h-4zM539 861h3v5h-3zM1105 861h3v10h-3zM779 866h4v5h-4zM648 866h4v5h-4zM938 866h4v5h-4zM539 866h7v5h-7zM769 866h3v5h-3zM832 866h4v5h-4zM1158 866h3v5h-3zM673 866h4v5h-4zM907 866h3v5h-3zM1140 866h4v5h-4zM503 866h4v5h-4zM1165 866h10v9h-10zM945 866h4v9h-4zM829 871h3v4h-3zM730 871h7v4h-7zM1154 871h4v4h-4zM493 871h3v4h-3zM818 871h4v4h-4zM652 871h3v4h-3zM776 871h3v4h-3zM712 871h4v4h-4zM914 871h3v4h-3zM528 861h4v19h-4zM857 871h4v9h-4zM553 875h3v5h-3zM889 875h3v5h-3zM1161 875h7v5h-7zM560 875h3v5h-3zM758 875h3v5h-3zM655 875h7v5h-7zM539 875h3v5h-3zM740 875h4v5h-4zM670 875h3v5h-3zM514 875h3v5h-3zM896 875h3v10h-3zM822 875h3v10h-3zM988 880h3v5h-3zM945 880h4v5h-4zM1094 880h11v5h-11zM500 880h3v5h-3zM549 880h4v5h-4zM875 880h3v5h-3zM740 880h7v5h-7zM507 880h7v5h-7zM1168 880h4v5h-4zM723 880h3v5h-3zM963 885h4v5h-4zM899 885h4v5h-4zM1090 885h4v5h-4zM609 885h7v5h-7zM769 885h3v5h-3zM818 885h4v5h-4zM585 885h7v5h-7zM524 885h11v5h-11zM716 885h7v5h-7zM1108 885h4v5h-4zM974 885h3v5h-3zM489 885h4v5h-4zM744 885h7v5h-7zM563 890h4v4h-4zM839 890h4v4h-4zM532 890h3v4h-3zM125 890h3v4h-3zM142 890h4v4h-4zM716 890h3v4h-3zM1101 890h4v4h-4zM758 890h3v4h-3zM581 890h4v4h-4zM857 890h4v4h-4zM1175 890h4v4h-4zM602 890h4v9h-4zM938 890h7v9h-7zM907 894h7v5h-7zM754 894h4v5h-4zM970 894h4v5h-4zM570 894h4v5h-4zM1112 894h3v5h-3zM146 894h4v5h-4zM1101 894h7v5h-7zM549 894h4v5h-4zM701 894h4v5h-4zM121 894h4v5h-4zM556 894h4v5h-4zM1062 894h7v5h-7zM730 894h3v5h-3zM624 894h3v10h-3zM914 899h7v5h-7zM535 899h4v5h-4zM744 899h10v5h-10zM1179 899h3v5h-3zM517 899h4v5h-4zM935 899h10v5h-10zM793 899h4v5h-4zM843 899h3v5h-3zM1076 899h4v5h-4zM1108 899h4v5h-4zM581 899h4v5h-4zM807 899h4v5h-4zM864 899h4v5h-4zM574 899h4v10h-4zM832 899h7v10h-7zM592 899h7v10h-7zM970 904h4v5h-4zM790 904h3v5h-3zM146 904h4v5h-4zM1037 904h4v5h-4zM1002 904h4v5h-4zM868 904h3v5h-3zM507 904h3v5h-3zM783 904h3v5h-3zM1175 904h4v5h-4zM118 904h3v5h-3zM907 904h3v5h-3zM758 904h7v5h-7zM1090 904h4v9h-4zM984 904h4v9h-4zM631 904h3v9h-3zM811 909h7v4h-7zM574 909h7v4h-7zM1073 909h7v4h-7zM761 909h8v4h-8zM489 909h4v4h-4zM539 909h3v4h-3zM723 909h7v4h-7zM1059 899h3v19h-3zM779 909h4v9h-4zM114 909h4v9h-4zM532 913h3v5h-3zM811 913h4v5h-4zM493 913h3v5h-3zM1037 913h4v5h-4zM1098 913h14v5h-14zM560 913h3v5h-3zM1069 913h11v5h-11zM832 913h4v5h-4zM1027 913h3v5h-3zM942 913h3v5h-3zM486 913h3v5h-3zM514 913h3v5h-3zM606 913h3v5h-3zM142 913h4v10h-4zM461 918h3v5h-3zM1105 918h3v5h-3zM570 918h4v5h-4zM938 918h4v5h-4zM443 918h4v5h-4zM998 918h4v5h-4zM800 918h4v5h-4zM475 918h3v5h-3zM75 918h21v5h-21zM588 918h4v5h-4zM1098 918h3v5h-3zM829 923h3v5h-3zM542 923h7v5h-7zM510 923h11v5h-11zM861 923h3v5h-3zM995 923h7v5h-7zM793 923h4v5h-4zM111 923h3v5h-3zM942 923h3v5h-3zM1041 923h3v5h-3zM1098 923h10v5h-10zM1034 923h3v5h-3zM949 923h4v10h-4zM107 928h4v5h-4zM1030 928h4v5h-4zM790 928h3v5h-3zM1020 928h3v5h-3zM995 928h3v5h-3zM1098 928h7v5h-7zM432 928h4v5h-4zM418 928h4v5h-4zM935 928h3v5h-3zM861 928h7v5h-7zM486 928h3v5h-3zM1037 928h4v9h-4zM429 933h3v4h-3zM542 933h7v4h-7zM938 933h4v4h-4zM853 933h4v4h-4zM797 933h3v4h-3zM868 933h3v4h-3zM991 933h7v4h-7zM875 933h3v4h-3zM984 933h4v4h-4zM807 933h4v4h-4zM528 933h4v4h-4zM907 933h3v4h-3zM882 933h3v4h-3zM1098 933h3v4h-3zM96 923h4v19h-4zM72 923h3v19h-3zM815 928h3v14h-3zM624 933h3v9h-3zM595 933h4v9h-4zM1105 937h10v5h-10zM578 937h7v5h-7zM878 937h4v5h-4zM896 937h3v5h-3zM995 937h3v5h-3zM960 937h3v5h-3zM793 937h4v5h-4zM885 937h4v5h-4zM104 937h3v5h-3zM800 937h4v5h-4zM935 937h7v5h-7zM963 942h4v5h-4zM949 942h7v5h-7zM931 942h4v5h-4zM1105 942h3v5h-3zM532 942h3v5h-3zM1112 942h3v5h-3zM818 942h4v5h-4zM602 942h4v5h-4zM1002 942h4v5h-4zM72 942h7v5h-7zM418 942h4v5h-4zM832 942h4v5h-4zM82 942h14v5h-14zM857 942h4v5h-4zM546 942h3v5h-3zM514 942h3v5h-3zM411 942h4v5h-4zM882 942h3v5h-3zM592 942h3v10h-3zM917 942h4v10h-4zM1034 942h3v10h-3zM570 947h4v5h-4zM1108 947h7v5h-7zM850 947h11v5h-11zM953 947h3v5h-3zM517 947h4v5h-4zM1101 947h4v5h-4zM843 947h3v5h-3zM988 947h7v5h-7zM436 947h4v5h-4zM942 947h7v5h-7zM581 942h4v14h-4zM553 952h3v4h-3zM429 952h3v4h-3zM96 952h4v4h-4zM478 952h4v4h-4zM938 952h4v4h-4zM995 952h3v4h-3zM500 952h3v4h-3zM868 952h3v4h-3zM945 952h8v4h-8zM1186 952h4v4h-4zM489 952h7v4h-7zM507 952h3v4h-3zM1112 952h7v4h-7zM853 952h8v4h-8zM588 952h4v4h-4zM514 952h3v4h-3zM595 952h4v4h-4zM875 952h7v4h-7zM871 956h4v5h-4zM521 956h3v5h-3zM1105 956h3v5h-3zM1112 956h10v5h-10zM535 956h4v5h-4zM408 956h3v5h-3zM1002 956h4v5h-4zM942 956h3v5h-3zM528 956h4v5h-4zM486 956h3v5h-3zM1030 956h7v5h-7zM93 956h3v5h-3zM570 961h4v5h-4zM425 961h7v5h-7zM401 961h3v5h-3zM89 961h4v5h-4zM776 961h3v5h-3zM995 961h7v5h-7zM783 961h3v5h-3zM500 961h7v5h-7zM1119 961h3v5h-3zM861 961h14v5h-14zM121 961h4v5h-4zM892 961h4v5h-4zM539 961h3v5h-3zM956 961h4v5h-4zM1119 966h7v5h-7zM362 966h7v5h-7zM670 966h7v5h-7zM754 966h4v5h-4zM648 966h4v5h-4zM1182 966h4v5h-4zM761 966h4v5h-4zM493 966h3v5h-3zM1009 966h7v5h-7zM408 966h3v5h-3zM549 966h4v5h-4zM475 966h3v5h-3zM631 966h3v5h-3zM447 966h3v5h-3zM86 966h3v5h-3zM394 966h3v5h-3zM740 966h4v5h-4zM422 966h3v5h-3zM864 966h4v5h-4zM1105 971h3v4h-3zM662 971h4v4h-4zM829 971h7v4h-7zM744 971h3v4h-3zM885 971h4v4h-4zM581 971h4v4h-4zM613 975h3v5h-3zM1030 975h4v5h-4zM1182 975h4v5h-4zM298 975h4v5h-4zM567 975h3v5h-3zM875 975h3v5h-3zM659 975h3v5h-3zM832 975h4v5h-4zM1016 975h4v5h-4zM991 975h4v5h-4zM1243 975h7v5h-7zM882 975h3v5h-3zM723 975h7v10h-7zM429 980h3v5h-3zM107 980h4v5h-4zM790 980h3v5h-3zM450 980h4v5h-4zM1144 980h10v5h-10zM652 980h3v5h-3zM609 980h4v5h-4zM769 980h7v5h-7zM1232 980h7v5h-7zM670 971h3v19h-3zM79 975h3v15h-3zM942 980h3v10h-3zM372 980h4v10h-4zM723 985h14v5h-14zM804 985h3v5h-3zM627 985h4v5h-4zM348 985h3v5h-3zM868 985h3v5h-3zM1140 985h7v5h-7zM556 985h4v5h-4zM1228 985h4v5h-4zM302 980h3v15h-3zM899 985h4v10h-4zM436 985h4v10h-4zM737 990h3v5h-3zM1023 990h4v5h-4zM1013 990h3v5h-3zM1030 990h4v5h-4zM790 990h3v5h-3zM861 990h3v5h-3zM797 990h3v5h-3zM726 990h4v5h-4zM694 990h4v5h-4zM376 990h3v5h-3zM716 990h7v5h-7zM1144 990h7v5h-7zM355 990h3v5h-3zM991 990h4v5h-4zM447 990h3v5h-3zM107 990h7v5h-7zM1006 990h3v5h-3zM478 985h4v14h-4zM362 995h7v4h-7zM390 995h4v4h-4zM719 995h11v4h-11zM408 995h3v4h-3zM634 995h4v4h-4zM701 995h4v4h-4zM121 995h4v4h-4zM295 995h3v4h-3zM1105 980h3v24h-3zM776 995h3v9h-3zM61 999h7v5h-7zM1080 999h3v5h-3zM1172 999h3v5h-3zM945 999h4v5h-4zM677 999h3v5h-3zM995 999h3v5h-3zM666 999h4v5h-4zM765 999h7v5h-7zM793 999h4v5h-4zM54 999h4v5h-4zM691 999h3v5h-3zM1016 999h4v5h-4zM43 999h7v5h-7zM291 999h7v5h-7zM75 999h7v5h-7zM128 999h4v5h-4zM556 999h4v5h-4zM698 999h3v5h-3zM535 995h4v14h-4zM910 999h4v10h-4zM719 999h7v10h-7zM54 1004h7v5h-7zM1023 1004h4v5h-4zM37 1004h3v5h-3zM896 1004h3v5h-3zM737 1004h7v5h-7zM287 1004h15v5h-15zM82 1004h4v5h-4zM953 1004h3v5h-3zM47 1004h3v5h-3zM797 1004h7v5h-7zM68 1004h4v5h-4zM783 1004h3v5h-3zM1069 1004h4v5h-4zM761 1004h8v5h-8zM1168 1004h4v5h-4zM280 1004h4v5h-4zM372 1004h4v5h-4zM620 1004h4v5h-4zM687 1004h11v5h-11zM963 1004h11v5h-11zM351 1004h7v5h-7zM963 1009h4v5h-4zM889 1009h3v5h-3zM291 1009h11v5h-11zM970 1009h4v5h-4zM804 1009h3v5h-3zM351 1009h4v5h-4zM72 1009h10v5h-10zM482 1009h4v5h-4zM797 1009h3v5h-3zM1161 1009h7v5h-7zM726 1009h4v5h-4zM273 1009h4v5h-4zM1009 1009h4v5h-4zM984 1009h11v5h-11zM1076 1009h4v5h-4zM1108 1009h4v5h-4zM758 1009h3v5h-3zM850 1009h3v5h-3zM37 1009h13v5h-13zM740 1009h4v5h-4zM857 1009h4v9h-4zM680 1009h4v9h-4zM461 1014h3v4h-3zM666 1014h4v4h-4zM910 1014h4v4h-4zM793 1014h4v4h-4zM1151 1014h3v4h-3zM468 1014h3v4h-3zM581 1014h4v4h-4zM673 1014h4v4h-4zM807 1014h4v4h-4zM47 1014h11v4h-11zM404 1014h4v4h-4zM1115 1014h7v4h-7zM486 1014h3v4h-3zM270 1014h3v4h-3zM284 1014h18v4h-18zM96 1014h11v4h-11zM387 1009h3v14h-3zM846 1014h4v9h-4zM737 1014h7v9h-7zM751 1014h3v9h-3zM730 1014h3v9h-3zM401 1018h3v5h-3zM266 1018h4v5h-4zM953 1018h3v5h-3zM783 1018h3v5h-3zM977 1018h4v5h-4zM875 1018h3v5h-3zM680 1018h7v5h-7zM984 1018h4v5h-4zM1140 1018h7v5h-7zM104 1018h7v5h-7zM772 1018h4v5h-4zM1122 1018h7v5h-7zM1006 1018h3v5h-3zM602 1018h4v10h-4zM475 1018h3v10h-3zM645 1023h3v5h-3zM259 1023h4v5h-4zM945 1023h4v5h-4zM861 1023h3v5h-3zM153 1023h4v5h-4zM397 1023h4v5h-4zM563 1023h7v5h-7zM111 1023h14v5h-14zM680 1023h4v5h-4zM744 1023h7v5h-7zM578 1023h3v5h-3zM362 1023h3v5h-3zM43 1023h4v5h-4zM514 1023h3v5h-3zM882 1023h3v5h-3zM482 1023h4v10h-4zM786 1023h4v10h-4zM1207 1028h4v5h-4zM1073 1028h3v5h-3zM970 1028h4v5h-4zM1062 1028h4v5h-4zM938 1028h4v5h-4zM811 1028h4v5h-4zM627 1028h4v5h-4zM585 1028h3v5h-3zM677 1028h3v5h-3zM408 1028h3v5h-3zM121 1028h7v5h-7zM142 1028h8v5h-8zM641 1028h4v5h-4zM567 1028h3v5h-3zM245 1028h11v5h-11zM843 1028h3v5h-3zM740 1028h7v5h-7zM800 1028h4v5h-4zM903 1028h7v5h-7zM857 1028h4v5h-4zM383 1028h4v5h-4zM822 1023h3v14h-3zM737 1033h3v4h-3zM931 1033h4v4h-4zM754 1033h4v4h-4zM945 1033h4v4h-4zM164 1033h3v4h-3zM953 1033h3v4h-3zM500 1033h3v4h-3zM998 1033h4v4h-4zM609 1033h4v4h-4zM917 1033h4v4h-4zM599 1033h3v4h-3zM1016 1033h4v4h-4zM121 1033h4v4h-4zM227 1033h7v4h-7zM631 1033h3v4h-3zM807 1033h4v4h-4zM620 1033h4v4h-4zM970 1033h7v4h-7zM362 1033h3v4h-3zM903 1033h4v4h-4zM730 1033h3v9h-3zM125 1037h3v5h-3zM677 1037h3v5h-3zM358 1037h4v5h-4zM928 1037h7v5h-7zM960 1037h3v5h-3zM1027 1037h3v5h-3zM397 1037h4v5h-4zM563 1037h7v5h-7zM210 1037h10v5h-10zM167 1037h14v5h-14zM464 1037h4v5h-4zM457 1037h4v10h-4zM142 1042h4v5h-4zM125 1042h7v5h-7zM991 1042h7v5h-7zM708 1042h8v5h-8zM670 1042h3v5h-3zM822 1042h3v5h-3zM415 1042h3v10h-3zM1055 1047h4v5h-4zM981 1047h3v5h-3zM256 1047h17v5h-17zM482 1047h4v5h-4zM677 1047h3v5h-3zM995 1047h7v5h-7zM850 1047h3v5h-3zM1044 1047h4v5h-4zM135 1047h11v5h-11zM588 1047h4v5h-4zM372 1047h4v5h-4zM556 1047h4v5h-4zM454 1047h3v5h-3zM503 1047h4v5h-4zM719 1047h7v5h-7zM818 1047h7v10h-7zM493 1052h3v5h-3zM744 1052h3v5h-3zM945 1052h8v5h-8zM135 1052h7v5h-7zM991 1052h4v5h-4zM857 1052h4v5h-4zM259 1052h14v5h-14zM670 1052h3v5h-3zM903 1052h4v5h-4zM726 1052h7v9h-7zM319 1052h4v9h-4zM899 1057h4v4h-4zM970 1057h4v4h-4zM698 1057h7v4h-7zM249 1057h3v4h-3zM945 1057h4v4h-4zM146 1057h4v4h-4zM684 1057h10v4h-10zM273 1057h4v4h-4zM875 1057h3v4h-3zM984 1057h11v4h-11zM673 1057h4v4h-4zM135 1057h4v4h-4zM383 1057h4v4h-4zM333 1052h4v14h-4zM1059 1057h3v9h-3zM822 1057h3v9h-3zM429 1061h3v5h-3zM754 1061h4v5h-4zM677 1061h3v5h-3zM984 1061h7v5h-7zM701 1061h4v5h-4zM967 1061h3v5h-3zM708 1061h4v5h-4zM464 1061h4v5h-4zM942 1061h7v5h-7zM903 1061h4v5h-4zM740 1057h7v14h-7zM730 1061h7v10h-7zM245 1061h4v10h-4zM899 1066h8v5h-8zM988 1066h3v5h-3zM811 1066h4v5h-4zM493 1066h3v5h-3zM945 1066h4v5h-4zM818 1066h4v5h-4zM652 1066h3v5h-3zM712 1066h11v5h-11zM935 1066h3v5h-3zM998 1066h8v5h-8zM1044 1066h4v5h-4zM397 1066h4v5h-4zM330 1066h3v5h-3zM319 1066h4v5h-4zM142 1066h4v10h-4zM871 1066h7v10h-7zM730 1071h14v5h-14zM429 1071h3v5h-3zM648 1071h4v5h-4zM896 1071h3v5h-3zM790 1071h3v5h-3zM666 1071h4v5h-4zM998 1071h11v5h-11zM701 1071h11v5h-11zM797 1071h7v5h-7zM673 1071h4v5h-4zM747 1071h7v5h-7zM447 1071h3v5h-3zM807 1071h8v5h-8zM772 1071h4v9h-4zM747 1076h4v4h-4zM754 1076h4v4h-4zM991 1076h11v4h-11zM252 1076h4v4h-4zM807 1076h4v4h-4zM730 1076h10v4h-10zM1034 1076h10v4h-10zM670 1076h3v4h-3zM659 1076h7v4h-7zM277 1076h3v4h-3zM963 1080h4v5h-4zM779 1080h4v5h-4zM266 1080h7v5h-7zM1030 1080h4v5h-4zM793 1080h14v5h-14zM761 1080h4v5h-4zM510 1080h4v5h-4zM256 1080h7v5h-7zM659 1080h3v5h-3zM974 1080h3v5h-3zM645 1080h3v10h-3zM733 1080h7v10h-7zM1041 1080h3v10h-3zM889 1085h3v5h-3zM358 1085h7v5h-7zM517 1085h4v5h-4zM507 1085h7v5h-7zM967 1085h7v5h-7zM662 1085h4v10h-4zM358 1090h14v5h-14zM871 1090h4v5h-4zM638 1090h7v5h-7zM885 1090h4v5h-4zM503 1090h4v5h-4zM857 1095h4v5h-4zM659 1095h3v5h-3zM1037 1095h4v5h-4zM358 1095h7v5h-7zM769 1095h3v5h-3zM634 1095h4v5h-4zM500 1095h3v5h-3zM864 1095h4v5h-4zM839 1100h4v4h-4zM358 1100h11v4h-11zM811 1100h4v4h-4zM758 1100h3v4h-3zM496 1100h4v4h-4zM652 1100h7v4h-7zM1030 1100h7v4h-7zM960 1095h3v14h-3zM645 1100h3v9h-3zM853 1100h4v9h-4zM698 1104h7v5h-7zM351 1104h4v5h-4zM493 1104h3v5h-3zM652 1104h3v5h-3zM793 1104h4v5h-4zM627 1104h7v5h-7zM503 1104h4v5h-4zM953 1100h3v14h-3zM648 1109h4v5h-4zM379 1109h8v5h-8zM624 1109h3v5h-3zM489 1109h7v5h-7zM875 1109h3v5h-3zM857 1109h4v5h-4zM723 1109h3v5h-3zM698 1109h10v5h-10zM514 1109h3v5h-3zM822 1109h3v5h-3zM284 1109h11v5h-11zM146 1100h4v19h-4zM963 1109h4v10h-4zM737 1109h3v10h-3zM404 1109h4v10h-4zM645 1114h3v5h-3zM528 1114h7v5h-7zM620 1114h7v5h-7zM510 1114h4v5h-4zM868 1114h3v5h-3zM783 1114h3v5h-3zM263 1114h17v5h-17zM387 1114h3v5h-3zM953 1114h7v5h-7zM486 1114h10v5h-10zM744 1114h7v5h-7zM287 1114h11v5h-11zM422 1114h3v5h-3zM323 1114h7v5h-7zM705 1119h3v4h-3zM418 1119h7v4h-7zM988 1119h3v4h-3zM401 1119h3v4h-3zM493 1119h3v4h-3zM769 1119h3v4h-3zM624 1119h3v4h-3zM408 1119h3v4h-3zM142 1119h8v4h-8zM641 1119h4v4h-4zM751 1119h3v4h-3zM963 1119h21v4h-21zM616 1119h4v4h-4zM507 1119h7v4h-7zM864 1119h4v4h-4zM266 1119h14v4h-14zM291 1119h4v9h-4zM613 1123h3v5h-3zM482 1123h4v5h-4zM861 1123h3v5h-3zM510 1123h4v5h-4zM716 1123h3v5h-3zM284 1123h3v5h-3zM832 1123h4v5h-4zM489 1123h4v5h-4zM638 1123h3v5h-3zM503 1123h4v5h-4zM737 1123h3v10h-3zM270 1123h3v10h-3zM309 1128h3v5h-3zM634 1128h4v5h-4zM284 1128h14v5h-14zM507 1128h3v5h-3zM758 1128h3v5h-3zM475 1128h3v5h-3zM146 1123h4v15h-4zM418 1123h4v15h-4zM609 1128h4v10h-4zM351 1133h4v5h-4zM493 1133h3v5h-3zM818 1133h4v5h-4zM776 1133h3v5h-3zM701 1133h4v5h-4zM273 1133h36v5h-36zM832 1133h4v5h-4zM631 1133h3v5h-3zM758 1133h7v5h-7zM503 1133h4v5h-4zM344 1128h4v14h-4zM839 1138h4v4h-4zM150 1138h3v4h-3zM478 1138h4v4h-4zM277 1138h7v4h-7zM811 1138h4v4h-4zM627 1138h4v4h-4zM602 1138h4v4h-4zM500 1138h3v4h-3zM415 1138h3v4h-3zM507 1138h3v4h-3zM489 1138h4v4h-4zM372 1138h4v4h-4zM482 1142h7v5h-7zM146 1142h4v5h-4zM358 1142h4v5h-4zM348 1142h3v5h-3zM284 1142h7v5h-7zM404 1142h4v5h-4zM620 1142h4v5h-4zM383 1142h4v10h-4zM747 1147h4v5h-4zM369 1147h3v5h-3zM231 1147h10v5h-10zM146 1147h11v5h-11zM418 1147h4v5h-4zM245 1147h4v5h-4zM496 1147h4v5h-4zM595 1147h4v5h-4zM754 1147h4v10h-4zM319 1147h4v10h-4zM790 1152h3v5h-3zM493 1152h3v5h-3zM224 1152h3v5h-3zM592 1152h3v5h-3zM712 1152h4v5h-4zM153 1152h4v5h-4zM344 1152h4v5h-4zM372 1152h4v5h-4zM503 1147h4v15h-4zM705 1152h3v10h-3zM249 1152h10v10h-10zM609 1152h4v10h-4zM800 1152h4v10h-4zM157 1157h3v5h-3zM694 1157h4v5h-4zM723 1157h3v5h-3zM815 1157h3v5h-3zM730 1157h3v5h-3zM514 1157h3v5h-3zM213 1157h7v9h-7zM737 1162h3v4h-3zM146 1162h7v4h-7zM510 1162h4v4h-4zM326 1162h4v4h-4zM797 1162h7v4h-7zM708 1162h4v4h-4zM245 1162h4v4h-4zM489 1162h4v4h-4zM581 1162h4v4h-4zM312 1162h4v4h-4zM270 1162h3v4h-3zM411 1162h4v4h-4zM606 1162h3v4h-3zM287 1162h4v4h-4zM348 1157h3v14h-3zM769 1157h14v14h-14zM786 1162h4v9h-4zM861 1162h7v9h-7zM747 1166h4v5h-4zM270 1166h7v5h-7zM150 1166h3v5h-3zM754 1166h4v5h-4zM298 1166h4v5h-4zM726 1166h4v5h-4zM602 1166h4v5h-4zM701 1166h4v5h-4zM309 1166h7v5h-7zM160 1166h11v5h-11zM217 1166h3v10h-3zM146 1171h7v5h-7zM273 1171h7v5h-7zM769 1171h10v5h-10zM174 1171h4v5h-4zM574 1171h4v5h-4zM160 1171h7v5h-7zM783 1171h3v5h-3zM599 1171h3v5h-3zM857 1171h11v5h-11zM344 1171h4v5h-4zM496 1171h4v5h-4zM503 1171h4v5h-4zM698 1171h3v5h-3zM195 1166h4v15h-4zM312 1171h4v10h-4zM570 1176h4v5h-4zM804 1176h3v5h-3zM37 1176h3v5h-3zM341 1176h3v5h-3zM797 1176h3v5h-3zM326 1176h4v5h-4zM457 1176h4v5h-4zM733 1176h4v5h-4zM54 1176h4v5h-4zM751 1176h3v5h-3zM765 1176h18v5h-18zM475 1176h3v5h-3zM284 1171h3v14h-3zM54 1181h7v4h-7zM754 1181h4v4h-4zM567 1181h3v4h-3zM765 1181h11v4h-11zM111 1181h3v4h-3zM447 1181h3v4h-3zM783 1181h7v4h-7zM379 1181h4v4h-4zM829 1176h3v14h-3zM326 1181h7v9h-7zM779 1185h4v5h-4zM563 1185h4v5h-4zM737 1185h3v5h-3zM570 1185h4v5h-4zM758 1185h18v5h-18zM457 1185h7v5h-7zM54 1185h4v5h-4zM376 1185h7v5h-7zM135 1185h4v5h-4zM429 1190h3v5h-3zM450 1190h7v5h-7zM726 1190h4v5h-4zM132 1190h3v5h-3zM284 1190h3v5h-3zM560 1190h3v5h-3zM418 1190h4v5h-4zM765 1190h18v5h-18zM489 1190h4v5h-4zM50 1190h8v5h-8zM316 1185h3v15h-3zM832 1190h7v10h-7zM330 1190h3v10h-3zM50 1195h4v5h-4zM758 1195h3v5h-3zM436 1195h4v5h-4zM135 1195h4v5h-4zM556 1195h4v9h-4zM747 1200h4v4h-4zM719 1200h4v4h-4zM761 1200h4v4h-4zM726 1200h4v4h-4zM139 1200h3v4h-3zM280 1200h7v4h-7zM312 1200h4v4h-4zM128 1195h4v14h-4zM772 1200h4v9h-4zM570 1204h4v5h-4zM716 1204h3v5h-3zM751 1204h3v5h-3zM708 1204h4v5h-4zM489 1204h4v5h-4zM280 1204h4v5h-4zM111 1204h7v5h-7zM330 1204h3v5h-3zM287 1204h4v5h-4zM291 1209h4v5h-4zM309 1209h3v5h-3zM733 1209h4v5h-4zM825 1209h4v5h-4zM411 1209h4v5h-4zM132 1209h3v10h-3zM139 1209h3v10h-3zM740 1209h4v10h-4zM719 1214h4v5h-4zM298 1214h4v5h-4zM305 1214h11v5h-11zM50 1214h8v5h-8zM730 1214h3v5h-3zM404 1214h4v10h-4zM50 1219h4v5h-4zM58 1219h3v5h-3zM390 1219h4v5h-4zM751 1219h3v5h-3zM815 1219h3v5h-3zM43 1219h4v5h-4zM135 1219h7v5h-7zM323 1219h3v5h-3zM298 1219h11v5h-11zM769 1219h3v9h-3zM50 1224h11v4h-11zM761 1224h4v4h-4zM811 1224h4v4h-4zM295 1224h3v4h-3zM135 1224h4v4h-4zM319 1224h4v4h-4zM302 1224h7v4h-7zM362 1228h7v5h-7zM804 1228h3v5h-3zM132 1228h3v5h-3zM54 1228h4v5h-4zM295 1228h17v5h-17zM751 1228h3v5h-3zM316 1228h7v5h-7zM333 1228h15v5h-15zM772 1228h4v5h-4zM889 1219h7v19h-7zM747 1233h7v5h-7zM302 1233h3v5h-3zM708 1233h22v5h-22zM758 1233h3v5h-3zM47 1233h3v5h-3zM309 1233h3v5h-3zM362 1233h17v5h-17zM677 1238h7v5h-7zM892 1238h4v5h-4zM224 1238h7v5h-7zM362 1243h7v4h-7zM58 1243h3v4h-3zM761 1243h4v4h-4zM50 1243h4v4h-4zM666 1243h4v4h-4zM747 1243h7v4h-7zM751 1247h7v5h-7zM50 1247h11v5h-11zM365 1247h4v5h-4zM241 1247h4v5h-4zM769 1233h3v24h-3zM394 1252h3v5h-3zM747 1257h4v5h-4zM107 1257h11v5h-11zM737 1257h7v5h-7zM772 1257h11v5h-11zM666 1257h4v10h-4zM114 1262h7v5h-7zM96 1262h4v5h-4zM390 1262h4v5h-4zM751 1262h3v5h-3zM54 1257h4v14h-4zM146 1262h4v9h-4zM701 1267h7v4h-7zM716 1267h3v4h-3zM694 1267h4v4h-4zM744 1267h3v4h-3zM673 1267h7v4h-7zM121 1267h4v4h-4zM270 1267h3v4h-3zM754 1267h7v4h-7zM747 1271h4v5h-4zM146 1271h7v5h-7zM58 1271h3v5h-3zM754 1271h4v5h-4zM249 1271h3v5h-3zM705 1271h11v5h-11zM121 1271h11v5h-11zM387 1271h3v5h-3zM783 1262h3v19h-3zM694 1271h7v10h-7zM150 1276h3v5h-3zM659 1276h11v5h-11zM125 1276h3v5h-3zM705 1276h7v5h-7zM673 1276h7v5h-7zM111 1276h10v5h-10zM747 1276h7v5h-7zM277 1276h3v5h-3zM132 1276h3v10h-3zM379 1276h4v10h-4zM645 1281h3v5h-3zM96 1281h4v5h-4zM249 1281h3v5h-3zM89 1281h4v5h-4zM684 1281h3v5h-3zM705 1281h3v9h-3zM150 1281h7v9h-7zM786 1286h4v4h-4zM751 1286h3v4h-3zM280 1286h4v4h-4zM638 1286h3v4h-3zM662 1290h4v5h-4zM634 1290h4v5h-4zM68 1290h4v5h-4zM776 1290h7v5h-7zM708 1290h4v5h-4zM245 1290h4v5h-4zM379 1290h4v5h-4zM284 1290h3v10h-3zM75 1295h4v5h-4zM376 1295h3v5h-3zM751 1295h10v5h-10zM142 1295h8v5h-8zM772 1295h14v5h-14zM613 1295h18v5h-18zM241 1295h8v5h-8zM277 1295h3v5h-3zM684 1290h3v15h-3zM786 1300h7v5h-7zM291 1300h4v5h-4zM164 1300h3v5h-3zM694 1300h4v5h-4zM705 1300h11v5h-11zM238 1300h11v5h-11zM754 1300h15v5h-15zM609 1300h4v5h-4zM280 1300h7v5h-7zM620 1300h11v5h-11zM372 1300h4v5h-4zM263 1300h7v5h-7zM790 1305h3v4h-3zM716 1305h3v4h-3zM701 1305h11v4h-11zM765 1305h7v4h-7zM245 1305h4v4h-4zM599 1305h7v4h-7zM295 1305h3v4h-3zM280 1305h11v4h-11zM199 1305h21v4h-21zM171 1305h14v4h-14zM754 1305h7v4h-7zM691 1305h3v9h-3zM790 1309h10v5h-10zM280 1309h15v5h-15zM613 1309h7v5h-7zM701 1309h7v5h-7zM592 1309h3v5h-3zM776 1309h3v5h-3zM680 1309h4v5h-4zM761 1309h11v10h-11zM609 1314h7v5h-7zM701 1314h4v5h-4zM807 1314h4v5h-4zM298 1314h4v5h-4zM280 1314h7v5h-7zM270 1314h3v5h-3zM754 1314h4v5h-4zM684 1314h3v10h-3zM365 1319h7v5h-7zM719 1319h4v5h-4zM761 1319h4v5h-4zM811 1319h4v5h-4zM772 1319h4v5h-4zM302 1319h7v5h-7zM588 1314h4v15h-4zM245 1319h4v10h-4zM595 1319h7v10h-7zM708 1324h4v5h-4zM295 1324h3v5h-3zM305 1324h4v5h-4zM362 1324h3v5h-3zM687 1324h11v5h-11zM765 1324h4v9h-4zM309 1329h3v4h-3zM358 1329h4v4h-4zM284 1329h3v4h-3zM687 1329h14v4h-14zM708 1329h8v4h-8zM769 1333h17v5h-17zM684 1333h3v5h-3zM691 1333h10v5h-10zM284 1333h7v5h-7zM708 1333h4v5h-4zM758 1333h3v5h-3zM355 1333h3v5h-3zM730 1333h3v5h-3zM326 1338h7v5h-7zM694 1338h7v5h-7zM351 1338h4v5h-4zM341 1338h7v5h-7zM769 1338h7v5h-7zM783 1338h7v5h-7zM726 1338h4v10h-4zM574 1343h7v5h-7zM698 1343h7v5h-7zM769 1343h3v5h-3zM783 1343h3v5h-3zM567 1343h3v5h-3zM758 1343h3v9h-3zM701 1348h4v4h-4zM779 1348h7v4h-7zM730 1348h10v4h-10zM772 1348h4v4h-4zM581 1348h4v4h-4zM779 1352h4v5h-4zM730 1352h14v5h-14zM769 1352h3v5h-3zM542 1352h4v5h-4zM588 1352h4v5h-4zM758 1352h7v5h-7zM705 1352h14v10h-14zM747 1357h4v5h-4zM585 1357h3v5h-3zM730 1357h7v5h-7zM687 1362h7v5h-7zM740 1362h14v5h-14zM712 1362h21v5h-21zM716 1367h24v4h-24zM747 1367h7v4h-7zM588 1367h4v4h-4zM687 1367h4v4h-4zM539 1367h3v9h-3zM747 1371h4v5h-4zM716 1371h17v5h-17zM588 1371h7v5h-7zM641 1376h7v5h-7zM684 1376h3v5h-3zM744 1376h3v5h-3zM719 1376h14v5h-14zM592 1376h3v10h-3zM627 1381h4v5h-4zM641 1381h4v5h-4zM719 1381h28v5h-28zM662 1381h8v5h-8zM677 1381h7v5h-7zM687 1381h4v5h-4zM719 1386h25v5h-25zM691 1386h3v5h-3zM535 1386h4v9h-4zM507 1391h3v4h-3zM694 1391h4v4h-4zM613 1391h11v4h-11zM592 1391h3v4h-3zM606 1391h3v4h-3zM723 1391h7v4h-7zM733 1391h4v4h-4zM496 1395h4v5h-4zM744 1391h3v14h-3zM723 1395h3v10h-3zM733 1395h7v10h-7zM284 1400h3v5h-3zM631 1400h3v10h-3zM489 1400h4v10h-4zM701 1405h4v5h-4zM719 1405h4v5h-4zM740 1405h11v5h-11zM305 1405h4v5h-4zM277 1405h3v5h-3zM740 1410h4v4h-4zM238 1414h3v5h-3zM737 1414h7v5h-7zM716 1414h3v5h-3zM252 1414h4v5h-4zM259 1419h4v5h-4zM489 1419h4v5h-4zM747 1410h4v19h-4zM634 1414h4v15h-4zM797 1424h3v5h-3zM284 1424h3v5h-3zM305 1424h4v5h-4zM249 1424h3v5h-3zM793 1429h4v4h-4zM631 1429h3v9h-3zM238 1433h3v5h-3zM783 1438h3v5h-3zM482 1438h4v5h-4zM234 1438h4v5h-4zM687 1438h11v5h-11zM471 1443h7v5h-7zM779 1443h4v5h-4zM270 1443h3v5h-3zM754 1443h4v5h-4zM259 1443h4v5h-4zM691 1443h7v5h-7zM37 1448h13v5h-13zM231 1448h7v5h-7zM691 1448h14v5h-14zM765 1448h14v5h-14zM298 1443h4v14h-4zM620 1448h4v9h-4zM627 1453h4v4h-4zM701 1453h4v4h-4zM234 1453h4v4h-4zM47 1453h3v4h-3zM58 1448h3v14h-3zM164 1457h3v5h-3zM450 1457h4v5h-4zM620 1457h7v5h-7zM37 1457h3v5h-3zM295 1457h3v5h-3zM302 1457h3v10h-3zM447 1462h3v5h-3zM620 1462h4v5h-4zM287 1462h4v5h-4zM249 1462h3v5h-3zM47 1467h14v5h-14zM256 1467h3v5h-3zM620 1467h7v5h-7zM624 1472h3v4h-3zM291 1472h4v4h-4zM249 1472h3v4h-3zM188 1476h4v5h-4zM164 1476h3v5h-3zM620 1476h7v5h-7zM616 1481h4v5h-4zM429 1481h7v5h-7zM457 1481h4v5h-4zM620 1486h11v5h-11zM185 1486h7v5h-7zM634 1486h4v5h-4zM43 1486h4v5h-4zM65 1486h3v5h-3zM171 1486h3v5h-3zM355 1491h3v5h-3zM454 1491h7v5h-7zM390 1496h4v4h-4zM150 1496h3v4h-3zM532 1496h3v4h-3zM157 1496h3v4h-3zM47 1496h3v4h-3zM302 1496h3v4h-3zM227 1496h4v4h-4zM641 1491h4v14h-4zM298 1500h4v5h-4zM273 1500h4v5h-4zM47 1500h21v5h-21zM263 1500h3v5h-3zM482 1505h4v5h-4zM602 1505h4v5h-4zM181 1505h4v5h-4zM284 1505h7v5h-7zM337 1505h4v5h-4zM397 1505h4v5h-4zM355 1505h3v5h-3zM312 1505h4v5h-4zM645 1505h3v10h-3zM344 1505h4v10h-4zM358 1510h4v5h-4zM486 1510h3v5h-3zM241 1510h8v5h-8zM333 1510h4v5h-4zM150 1510h3v9h-3zM217 1515h3v4h-3zM609 1515h7v4h-7zM602 1515h4v4h-4zM638 1515h3v4h-3zM181 1515h4v4h-4zM259 1515h4v4h-4zM379 1515h4v4h-4zM284 1515h3v9h-3zM627 1519h4v5h-4zM302 1519h3v5h-3zM312 1519h4v5h-4zM616 1519h4v5h-4zM323 1519h10v5h-10zM351 1519h4v5h-4zM486 1519h3v10h-3zM326 1524h4v5h-4zM464 1524h7v5h-7zM167 1524h4v5h-4zM344 1524h4v10h-4zM146 1529h4v5h-4zM464 1529h4v5h-4zM181 1529h4v5h-4zM376 1529h3v5h-3zM259 1529h4v5h-4zM595 1529h4v5h-4zM369 1534h3v4h-3zM287 1534h4v4h-4zM319 1534h4v4h-4zM266 1538h4v5h-4zM436 1538h7v5h-7zM188 1538h4v5h-4zM82 1538h22v5h-22zM167 1538h7v5h-7zM195 1538h4v5h-4zM295 1538h3v5h-3zM447 1538h3v10h-3zM585 1538h10v10h-10zM252 1543h4v5h-4zM100 1543h4v5h-4zM436 1543h4v5h-4zM358 1543h4v5h-4zM348 1543h3v5h-3zM181 1543h4v5h-4zM79 1543h3v5h-3z"/>
<path fill="#e5ee15" d="M1398 412h7v5h-7zM1409 412h7v5h-7zM1412 417h7v5h-7zM1405 422h7v5h-7zM1416 422h7v10h-7zM1398 427h11v5h-11zM1430 432h7v4h-7zM1398 432h7v4h-7zM1409 432h14v4h-14zM1402 436h3v5h-3zM1430 436h4v5h-4zM1412 436h11v5h-11zM1416 441h7v5h-7zM1412 446h7v5h-7zM1412 451h15v4h-15zM1412 455h11v10h-11zM1430 460h4v5h-4zM1416 465h11v10h-11zM1430 470h4v5h-4zM1331 475h4v4h-4zM1419 475h15v4h-15zM1430 479h4v10h-4zM1419 479h8v10h-8zM1352 484h4v5h-4zM1419 489h11v5h-11zM1331 489h4v9h-4zM1416 494h14v4h-14zM1356 494h56v4h-56zM1345 494h4v4h-4zM1342 498h3v5h-3zM1359 498h46v5h-46zM1423 498h7v5h-7zM1349 498h7v5h-7zM1412 498h4v5h-4zM1352 503h14v5h-14zM1427 503h3v5h-3zM1370 503h11v5h-11zM1366 508h7v5h-7zM1430 508h4v5h-4zM1345 508h4v5h-4zM1381 508h7v5h-7zM1335 513h10v4h-10zM1430 513h7v4h-7zM1391 508h11v14h-11zM1320 517h15v5h-15zM1434 517h3v10h-3zM1405 522h7v5h-7zM1317 522h7v5h-7zM1317 527h3v10h-3zM1409 546h3v5h-3zM1299 546h4v10h-4zM1317 546h3v10h-3zM1285 546h4v10h-4zM1313 556h7v4h-7zM1465 556h4v4h-4zM1228 556h8v4h-8zM1285 556h18v4h-18zM1225 560h11v5h-11zM1190 560h3v5h-3zM1306 560h4v10h-4zM1228 565h8v5h-8zM1303 570h7v5h-7zM1207 565h4v14h-4zM1303 575h3v4h-3zM37 575h3v4h-3zM50 575h4v4h-4zM1175 575h4v4h-4zM1299 579h7v5h-7zM1197 579h3v5h-3zM1154 579h4v5h-4zM1140 579h4v5h-4zM1296 584h3v5h-3zM1292 589h4v5h-4zM1172 589h3v5h-3zM1451 594h4v5h-4zM1151 594h3v5h-3zM1274 594h8v5h-8zM1182 594h4v5h-4zM1465 594h4v9h-4zM1257 599h10v4h-10zM1175 599h4v4h-4zM1285 594h7v14h-7zM1246 603h11v5h-11zM1356 603h10v5h-10zM1462 603h3v5h-3zM1289 608h3v5h-3zM910 608h4v5h-4zM1030 608h4v5h-4zM1338 608h28v5h-28zM1218 608h3v10h-3zM1320 613h15v5h-15zM914 613h7v5h-7zM998 613h4v5h-4zM1069 613h7v5h-7zM899 613h8v5h-8zM1264 613h7v5h-7zM1250 613h3v5h-3zM1338 613h25v5h-25zM1207 613h4v5h-4zM1469 613h4v9h-4zM921 618h3v4h-3zM885 618h7v4h-7zM1313 618h4v4h-4zM1320 618h7v4h-7zM1303 618h3v4h-3zM1352 618h11v4h-11zM1338 618h7v4h-7zM1444 618h4v4h-4zM1006 618h3v4h-3zM1239 618h4v4h-4zM988 618h3v9h-3zM1083 618h4v9h-4zM878 622h7v5h-7zM1037 622h4v5h-4zM1317 622h18v5h-18zM1342 622h24v5h-24zM1009 622h4v5h-4zM1218 622h7v5h-7zM1441 622h10v5h-10zM1473 622h3v10h-3zM1193 622h4v10h-4zM924 622h4v10h-4zM1232 622h4v10h-4zM1331 627h4v5h-4zM1338 627h11v5h-11zM1441 627h3v5h-3zM1214 627h4v5h-4zM1366 627h4v5h-4zM114 627h4v5h-4zM1253 627h4v5h-4zM1356 627h7v5h-7zM871 627h4v5h-4zM1105 627h3v5h-3zM1299 632h4v5h-4zM1179 632h3v5h-3zM1076 632h4v5h-4zM1359 632h4v5h-4zM864 632h4v5h-4zM1282 632h10v5h-10zM1030 632h7v5h-7zM1366 632h7v5h-7zM907 632h7v5h-7zM1473 637h3v5h-3zM1306 637h4v5h-4zM1172 637h3v5h-3zM899 637h4v5h-4zM1186 637h4v5h-4zM1373 637h11v5h-11zM977 637h4v5h-4zM1041 637h7v5h-7zM1069 637h4v5h-4zM1260 637h4v5h-4zM1218 637h3v5h-3zM857 637h4v5h-4zM1363 637h7v5h-7zM910 637h4v9h-4zM1239 637h4v9h-4zM1448 642h10v4h-10zM1416 642h3v4h-3zM885 642h11v4h-11zM1303 642h10v4h-10zM1384 642h11v4h-11zM1087 642h3v4h-3zM1402 642h10v4h-10zM850 642h3v4h-3zM1359 642h11v4h-11zM1423 642h11v4h-11zM928 632h3v19h-3zM1207 637h4v14h-4zM1221 642h4v9h-4zM1282 642h3v9h-3zM981 646h3v5h-3zM1182 646h4v5h-4zM1356 646h3v5h-3zM1377 646h7v5h-7zM1331 646h7v5h-7zM995 646h3v5h-3zM1044 646h4v5h-4zM896 646h18v5h-18zM843 646h7v5h-7zM1363 646h7v5h-7zM1427 646h28v5h-28zM1419 646h4v5h-4zM1306 646h7v5h-7zM1190 646h3v5h-3zM1016 637h4v19h-4zM1030 642h4v14h-4zM1179 651h3v5h-3zM1278 651h4v5h-4zM1352 651h32v5h-32zM1094 651h4v5h-4zM1052 651h3v5h-3zM885 651h4v5h-4zM1267 651h7v5h-7zM892 651h4v5h-4zM836 651h7v5h-7zM79 651h3v5h-3zM1250 651h3v5h-3zM1083 651h4v5h-4zM1232 651h4v5h-4zM1331 651h11v5h-11zM1306 651h18v5h-18zM1419 651h29v5h-29zM928 651h7v10h-7zM1221 656h11v5h-11zM981 656h7v5h-7zM1448 656h3v5h-3zM1324 656h3v5h-3zM864 656h7v5h-7zM1338 656h21v5h-21zM1236 656h14v5h-14zM1419 656h25v5h-25zM1200 656h4v5h-4zM1317 656h3v5h-3zM1363 656h18v5h-18zM882 656h3v5h-3zM829 656h3v5h-3zM1331 656h4v9h-4zM857 661h21v4h-21zM1030 661h4v4h-4zM1338 661h4v4h-4zM1257 661h3v4h-3zM984 661h7v4h-7zM977 661h4v4h-4zM1359 661h18v4h-18zM1218 661h3v4h-3zM1419 661h11v4h-11zM1434 661h14v4h-14zM1048 661h4v4h-4zM822 661h3v4h-3zM931 661h4v4h-4zM1023 661h4v4h-4zM896 661h3v9h-3zM1419 665h15v5h-15zM1073 665h7v5h-7zM1101 665h11v5h-11zM1144 665h3v5h-3zM1027 665h3v5h-3zM1228 665h4v5h-4zM850 665h21v5h-21zM1175 665h4v5h-4zM815 665h3v5h-3zM1239 665h7v5h-7zM1136 665h4v5h-4zM1055 665h4v5h-4zM1214 665h4v10h-4zM1345 665h14v10h-14zM1363 665h14v10h-14zM1381 670h3v5h-3zM811 670h4v5h-4zM1037 670h4v5h-4zM1416 670h3v5h-3zM1009 670h4v5h-4zM1200 670h4v5h-4zM1236 670h7v5h-7zM843 670h7v5h-7zM857 670h4v5h-4zM931 670h7v5h-7zM864 670h4v5h-4zM1055 670h11v5h-11zM1158 670h3v5h-3zM899 670h4v10h-4zM1349 675h49v5h-49zM1002 675h7v5h-7zM807 675h4v5h-4zM861 675h3v5h-3zM1186 675h4v5h-4zM1112 675h3v5h-3zM1144 675h3v5h-3zM1161 675h4v5h-4zM1243 675h3v5h-3zM836 675h7v5h-7zM1402 675h10v5h-10zM924 675h11v5h-11zM1027 675h7v5h-7zM800 680h7v4h-7zM899 680h11v4h-11zM853 680h4v4h-4zM1377 680h4v4h-4zM843 680h3v4h-3zM1200 680h4v4h-4zM1059 680h7v4h-7zM829 680h10v4h-10zM79 680h3v9h-3zM1175 680h4v9h-4zM1349 680h17v9h-17zM1062 684h4v5h-4zM938 684h4v5h-4zM1204 684h3v5h-3zM825 684h7v5h-7zM1044 684h4v5h-4zM839 684h7v5h-7zM1140 684h4v5h-4zM991 684h4v5h-4zM1161 684h4v10h-4zM1108 684h4v10h-4zM818 689h11v5h-11zM1151 689h3v5h-3zM1168 689h4v5h-4zM1352 689h4v5h-4zM843 689h7v5h-7zM1133 689h3v5h-3zM1006 689h3v5h-3zM797 689h3v5h-3zM1066 689h3v10h-3zM1119 694h3v5h-3zM818 694h7v5h-7zM75 694h7v5h-7zM938 694h4v5h-4zM1384 694h4v5h-4zM1098 694h3v5h-3zM1359 694h18v5h-18zM1027 694h7v5h-7zM1320 694h25v5h-25zM839 694h4v5h-4zM1009 694h4v5h-4zM793 694h4v10h-4zM1306 699h4v5h-4zM818 699h4v5h-4zM1094 699h4v5h-4zM832 699h7v5h-7zM1168 699h4v5h-4zM79 699h3v5h-3zM1066 699h10v5h-10zM1016 699h4v5h-4zM1105 699h3v5h-3zM1076 704h11v4h-11zM1391 704h4v4h-4zM1052 704h10v4h-10zM832 704h4v4h-4zM1030 704h4v4h-4zM1190 704h3v4h-3zM815 704h7v4h-7zM928 704h3v4h-3zM75 704h18v4h-18zM907 704h7v4h-7zM1129 704h4v4h-4zM1303 704h7v4h-7zM1299 708h4v5h-4zM1119 708h3v5h-3zM935 708h3v5h-3zM1062 708h4v5h-4zM1126 708h3v5h-3zM899 708h4v5h-4zM815 708h3v5h-3zM790 704h3v14h-3zM1204 708h3v10h-3zM1048 713h4v5h-4zM1066 713h7v5h-7zM938 713h4v5h-4zM811 713h11v5h-11zM1292 713h4v5h-4zM1388 713h3v5h-3zM1158 713h3v5h-3zM701 713h4v5h-4zM931 713h4v5h-4zM829 713h3v5h-3zM1384 718h4v5h-4zM1126 718h3v5h-3zM825 718h4v5h-4zM1282 718h3v5h-3zM1055 718h4v5h-4zM1193 718h4v5h-4zM807 718h4v5h-4zM1037 718h4v5h-4zM132 718h3v5h-3zM1377 718h4v5h-4zM1140 718h4v9h-4zM1062 723h4v4h-4zM1030 723h4v4h-4zM970 723h4v4h-4zM1002 723h4v4h-4zM701 723h11v4h-11zM807 723h8v4h-8zM1052 723h3v4h-3zM1331 723h42v4h-42zM1076 723h4v4h-4zM132 723h7v4h-7zM1310 723h3v4h-3zM1271 723h7v4h-7zM822 723h3v4h-3zM157 723h3v9h-3zM1267 727h4v5h-4zM1175 727h4v5h-4zM751 727h14v5h-14zM135 727h4v5h-4zM942 727h3v5h-3zM1016 727h4v5h-4zM1306 727h4v5h-4zM701 727h7v5h-7zM786 718h4v19h-4zM804 727h7v10h-7zM1090 727h4v10h-4zM1299 732h4v5h-4zM701 732h11v5h-11zM1052 732h3v5h-3zM1260 732h7v5h-7zM1009 732h4v5h-4zM740 732h7v5h-7zM769 732h7v5h-7zM924 732h4v5h-4zM938 732h7v5h-7zM914 732h3v5h-3zM963 732h4v5h-4zM1158 732h3v5h-3zM1147 732h4v5h-4zM153 732h4v10h-4zM1122 737h4v5h-4zM733 737h7v5h-7zM1253 737h14v5h-14zM776 737h3v5h-3zM967 737h3v5h-3zM1059 737h3v5h-3zM1292 737h4v5h-4zM1034 737h3v5h-3zM1083 737h4v5h-4zM701 737h18v9h-18zM1168 737h4v9h-4zM1232 742h11v4h-11zM1087 742h3v4h-3zM1048 742h4v4h-4zM1274 742h11v4h-11zM730 742h3v4h-3zM786 742h4v4h-4zM1108 742h4v4h-4zM1140 742h7v4h-7zM754 742h11v4h-11zM1013 742h3v4h-3zM981 746h3v5h-3zM1073 746h3v5h-3zM726 746h7v5h-7zM1264 746h10v5h-10zM1122 746h4v5h-4zM65 746h3v5h-3zM1037 746h4v5h-4zM114 746h4v5h-4zM751 746h7v5h-7zM1083 746h4v5h-4zM1225 746h3v5h-3zM1062 746h7v5h-7zM1098 746h3v5h-3zM761 746h8v5h-8zM963 746h4v5h-4zM783 746h3v10h-3zM701 746h15v10h-15zM938 751h4v5h-4zM1221 751h4v5h-4zM114 751h7v5h-7zM1052 751h3v5h-3zM1144 751h3v5h-3zM1069 751h4v5h-4zM945 751h4v5h-4zM1260 751h4v5h-4zM924 751h4v5h-4zM747 751h4v5h-4zM769 751h3v10h-3zM1246 756h11v5h-11zM125 756h3v5h-3zM701 756h11v5h-11zM1168 756h7v5h-7zM1087 756h3v5h-3zM740 756h7v5h-7zM1076 756h4v5h-4zM1034 756h3v5h-3zM723 756h3v5h-3zM1006 756h3v5h-3zM1214 756h7v5h-7zM914 756h3v5h-3zM974 756h3v5h-3zM1013 756h3v5h-3zM1073 761h3v5h-3zM1140 761h4v5h-4zM1214 761h4v5h-4zM1126 761h3v5h-3zM719 761h4v5h-4zM132 761h7v5h-7zM977 761h4v5h-4zM1239 761h4v5h-4zM1175 761h4v9h-4zM153 766h4v4h-4zM970 766h4v4h-4zM1066 766h7v4h-7zM1108 766h4v4h-4zM1055 766h4v4h-4zM772 761h4v14h-4zM737 761h3v14h-3zM1232 766h4v9h-4zM910 770h4v5h-4zM1002 770h4v5h-4zM744 770h3v5h-3zM157 770h3v5h-3zM1023 770h4v5h-4zM1080 770h3v5h-3zM1069 770h4v5h-4zM1013 770h3v5h-3zM991 770h4v5h-4zM1211 766h3v14h-3zM723 766h3v14h-3zM1073 775h3v5h-3zM737 775h14v5h-14zM772 775h7v5h-7zM786 775h4v5h-4zM924 775h4v5h-4zM1090 775h4v5h-4zM1112 775h3v5h-3zM160 775h4v5h-4zM931 775h4v5h-4zM1083 775h4v5h-4zM804 742h3v43h-3zM1119 775h7v10h-7zM164 780h3v5h-3zM726 780h4v5h-4zM935 780h3v5h-3zM744 780h10v5h-10zM1136 780h8v5h-8zM772 780h4v5h-4zM970 780h4v5h-4zM1076 780h4v5h-4zM1101 780h4v5h-4zM1207 780h4v5h-4zM1006 780h3v9h-3zM1228 780h4v9h-4zM864 785h11v4h-11zM167 785h11v4h-11zM804 785h7v4h-7zM882 785h10v4h-10zM1122 785h4v4h-4zM730 785h3v4h-3zM1030 785h4v4h-4zM953 785h3v4h-3zM1090 785h4v4h-4zM754 785h18v4h-18zM917 785h4v4h-4zM853 785h4v4h-4zM1133 785h3v9h-3zM907 789h3v5h-3zM942 789h7v5h-7zM1204 789h3v5h-3zM733 789h4v5h-4zM861 789h10v5h-10zM758 789h14v5h-14zM807 789h4v5h-4zM899 789h4v5h-4zM967 789h3v5h-3zM157 789h3v10h-3zM921 794h3v5h-3zM892 794h4v5h-4zM1200 794h4v5h-4zM737 794h7v5h-7zM783 794h7v5h-7zM875 794h7v5h-7zM899 794h8v5h-8zM811 794h7v5h-7zM945 794h4v5h-4zM853 794h11v10h-11zM535 794h4v10h-4zM567 794h3v10h-3zM1027 799h3v5h-3zM790 799h7v5h-7zM744 799h10v5h-10zM818 799h4v5h-4zM871 799h11v5h-11zM998 799h4v5h-4zM885 799h29v5h-29zM928 799h3v5h-3zM779 799h4v5h-4zM1013 799h10v5h-10zM1193 799h7v5h-7zM1037 799h4v5h-4zM818 804h7v4h-7zM578 804h3v4h-3zM878 804h4v4h-4zM517 804h11v4h-11zM938 804h4v4h-4zM1016 804h4v4h-4zM1190 804h3v4h-3zM754 804h18v4h-18zM871 804h4v4h-4zM889 804h25v4h-25zM556 804h14v4h-14zM793 804h7v4h-7zM861 804h3v4h-3zM956 804h4v9h-4zM570 808h4v5h-4zM910 808h4v5h-4zM800 808h4v5h-4zM924 808h4v5h-4zM885 808h11v5h-11zM1034 808h3v5h-3zM1013 808h7v5h-7zM871 808h7v5h-7zM825 808h4v5h-4zM521 808h3v5h-3zM931 808h4v5h-4zM578 808h10v5h-10zM921 813h3v5h-3zM662 813h4v5h-4zM648 813h7v5h-7zM864 813h7v5h-7zM804 813h3v5h-3zM574 813h21v5h-21zM641 813h4v5h-4zM1020 813h3v5h-3zM899 813h8v5h-8zM567 813h3v5h-3zM1193 813h4v5h-4zM875 813h21v5h-21zM528 813h4v5h-4zM662 818h22v5h-22zM153 818h7v5h-7zM832 818h4v5h-4zM1002 818h7v5h-7zM875 818h10v5h-10zM574 818h60v5h-60zM532 818h38v5h-38zM917 818h7v5h-7zM807 818h4v5h-4zM839 818h7v5h-7zM638 818h7v5h-7zM1023 818h7v5h-7zM864 823h11v5h-11zM981 823h3v5h-3zM708 823h22v5h-22zM574 823h21v5h-21zM606 823h3v5h-3zM811 823h4v5h-4zM613 823h28v5h-28zM645 823h3v5h-3zM599 823h3v5h-3zM662 823h32v5h-32zM995 828h3v4h-3zM818 828h4v4h-4zM602 828h7v4h-7zM910 828h4v4h-4zM613 828h14v4h-14zM800 828h4v4h-4zM585 828h7v4h-7zM662 828h36v4h-36zM705 828h28v4h-28zM903 828h4v4h-4zM1013 828h3v4h-3zM153 823h4v14h-4zM960 823h3v14h-3zM620 832h7v5h-7zM648 832h4v5h-4zM599 832h17v5h-17zM659 832h78v5h-78zM832 832h4v5h-4zM868 832h3v5h-3zM942 832h3v5h-3zM825 832h4v5h-4zM907 832h7v5h-7zM977 832h4v5h-4zM967 832h3v5h-3zM613 837h88v5h-88zM868 837h7v5h-7zM804 837h7v5h-7zM995 837h3v5h-3zM549 837h14v5h-14zM945 837h18v5h-18zM599 837h10v5h-10zM829 837h3v5h-3zM935 837h3v10h-3zM924 837h4v10h-4zM606 842h7v5h-7zM624 842h24v5h-24zM691 842h10v5h-10zM684 842h3v5h-3zM1126 842h3v5h-3zM595 842h4v5h-4zM673 842h4v5h-4zM825 842h4v5h-4zM811 842h4v5h-4zM839 842h4v5h-4zM857 842h4v5h-4zM1023 842h4v5h-4zM818 842h4v9h-4zM680 847h7v4h-7zM1006 847h3v4h-3zM691 847h7v4h-7zM1112 847h3v4h-3zM638 847h14v4h-14zM921 847h7v4h-7zM620 847h14v4h-14zM903 847h4v4h-4zM1122 847h7v9h-7zM921 851h3v5h-3zM938 851h4v5h-4zM786 851h4v5h-4zM988 851h3v5h-3zM680 851h18v5h-18zM853 851h8v5h-8zM616 851h36v5h-36zM701 851h4v5h-4zM807 851h4v5h-4zM931 851h4v5h-4zM1013 851h3v5h-3zM726 856h4v5h-4zM648 856h4v5h-4zM694 856h4v5h-4zM1108 856h4v5h-4zM924 856h7v5h-7zM1006 856h3v5h-3zM758 856h3v5h-3zM634 856h11v5h-11zM903 856h4v5h-4zM737 856h3v5h-3zM677 856h3v5h-3zM1108 861h7v5h-7zM673 861h4v5h-4zM1147 861h7v5h-7zM790 861h3v5h-3zM1016 861h4v5h-4zM553 861h3v5h-3zM1119 861h7v5h-7zM1023 861h4v5h-4zM652 861h3v10h-3zM836 861h3v10h-3zM850 861h3v10h-3zM1154 866h4v5h-4zM507 866h3v5h-3zM783 866h3v5h-3zM708 866h4v5h-4zM1144 866h7v5h-7zM1108 866h4v5h-4zM942 866h3v5h-3zM723 866h3v5h-3zM1119 866h21v5h-21zM521 866h3v5h-3zM899 866h4v9h-4zM701 866h4v9h-4zM751 866h3v9h-3zM737 866h3v9h-3zM556 871h4v4h-4zM1133 871h21v4h-21zM1122 871h4v4h-4zM542 871h4v4h-4zM670 871h3v4h-3zM655 871h7v4h-7zM496 871h4v4h-4zM832 871h4v4h-4zM938 871h7v4h-7zM1016 871h4v4h-4zM754 875h4v5h-4zM938 875h4v5h-4zM988 875h3v5h-3zM811 875h4v5h-4zM917 875h7v5h-7zM666 875h4v5h-4zM500 875h3v5h-3zM970 875h4v5h-4zM489 875h7v5h-7zM945 875h4v5h-4zM843 875h3v5h-3zM507 875h7v5h-7zM776 875h7v5h-7zM1133 875h3v5h-3zM1154 875h7v5h-7zM1119 875h7v5h-7zM829 875h3v5h-3zM793 875h4v10h-4zM998 880h4v5h-4zM493 880h3v5h-3zM772 880h7v5h-7zM694 880h4v5h-4zM662 880h8v5h-8zM967 880h3v5h-3zM524 880h4v5h-4zM935 880h3v5h-3zM892 880h4v5h-4zM486 880h3v5h-3zM956 880h4v5h-4zM1112 880h7v5h-7zM815 880h7v5h-7zM991 880h4v5h-4zM1172 885h3v5h-3zM776 885h3v5h-3zM928 885h10v5h-10zM1094 885h4v5h-4zM960 885h3v5h-3zM1101 885h4v5h-4zM942 885h3v5h-3zM595 885h7v5h-7zM790 885h3v5h-3zM822 885h3v5h-3zM549 885h7v5h-7zM1112 885h3v9h-3zM723 885h3v9h-3zM478 890h4v4h-4zM998 890h4v4h-4zM1090 890h4v4h-4zM535 890h4v4h-4zM811 890h4v4h-4zM772 890h7v4h-7zM500 890h3v4h-3zM836 890h3v4h-3zM128 890h14v4h-14zM701 890h4v4h-4zM761 890h4v4h-4zM967 890h3v4h-3zM931 890h7v4h-7zM712 890h4v4h-4zM1098 890h3v4h-3zM889 890h3v4h-3zM560 890h3v9h-3zM843 890h3v9h-3zM620 890h4v9h-4zM1090 894h11v5h-11zM125 894h3v5h-3zM917 894h7v5h-7zM142 894h4v5h-4zM532 894h3v5h-3zM726 894h4v5h-4zM928 894h10v5h-10zM567 894h3v5h-3zM599 894h3v5h-3zM875 894h3v5h-3zM857 894h4v5h-4zM588 894h4v5h-4zM503 894h4v5h-4zM553 894h3v5h-3zM737 894h3v5h-3zM804 885h3v19h-3zM1175 894h4v10h-4zM496 894h4v10h-4zM521 894h3v10h-3zM765 899h7v5h-7zM585 899h3v5h-3zM1002 899h4v5h-4zM121 899h7v5h-7zM1112 899h3v5h-3zM549 899h4v5h-4zM146 899h4v5h-4zM783 899h3v5h-3zM1094 899h14v5h-14zM740 899h4v5h-4zM871 899h4v5h-4zM1062 899h14v10h-14zM730 899h3v10h-3zM846 904h4v5h-4zM769 904h10v5h-10zM1172 904h3v5h-3zM493 904h3v5h-3zM793 904h4v5h-4zM875 904h3v5h-3zM804 904h7v5h-7zM1108 904h4v5h-4zM121 904h4v5h-4zM546 904h3v5h-3zM1094 904h7v5h-7zM503 904h4v5h-4zM914 904h3v5h-3zM754 904h4v9h-4zM142 904h4v9h-4zM935 904h3v9h-3zM1094 909h18v4h-18zM1037 909h4v4h-4zM560 909h10v4h-10zM592 909h10v4h-10zM818 909h4v4h-4zM500 909h3v4h-3zM970 909h4v4h-4zM1002 909h4v4h-4zM549 909h4v4h-4zM532 909h7v4h-7zM942 909h3v4h-3zM843 909h7v4h-7zM1175 909h4v4h-4zM1023 909h4v4h-4zM1062 909h11v4h-11zM118 909h3v9h-3zM807 909h4v9h-4zM574 913h7v5h-7zM846 913h4v5h-4zM938 913h4v5h-4zM988 913h3v5h-3zM620 913h7v5h-7zM602 913h4v5h-4zM910 913h4v5h-4zM776 913h3v5h-3zM457 913h4v5h-4zM609 913h4v5h-4zM528 913h4v5h-4zM496 913h7v5h-7zM631 913h3v5h-3zM588 913h4v5h-4zM1062 913h7v5h-7zM595 913h4v5h-4zM839 913h4v5h-4zM995 913h7v5h-7zM1112 913h3v10h-3zM139 913h3v10h-3zM514 918h7v5h-7zM556 918h4v5h-4zM478 918h4v5h-4zM440 918h3v5h-3zM804 918h3v5h-3zM574 918h11v5h-11zM903 918h4v5h-4zM532 918h3v5h-3zM878 918h4v5h-4zM1013 918h7v5h-7zM843 918h3v5h-3zM620 918h4v5h-4zM524 918h4v5h-4zM599 918h14v5h-14zM447 918h3v5h-3zM1175 918h4v5h-4zM471 918h4v5h-4zM991 918h4v5h-4zM829 918h3v5h-3zM114 918h4v10h-4zM486 918h3v10h-3zM974 918h3v10h-3zM1108 923h7v5h-7zM1030 923h4v5h-4zM613 923h7v5h-7zM93 923h3v5h-3zM1037 923h4v5h-4zM836 923h3v5h-3zM1009 923h4v5h-4zM528 923h4v5h-4zM843 923h7v5h-7zM882 923h3v5h-3zM815 923h7v5h-7zM938 923h4v10h-4zM931 923h4v10h-4zM553 928h7v5h-7zM624 928h3v5h-3zM977 928h4v5h-4zM616 928h4v5h-4zM111 928h7v5h-7zM956 928h4v5h-4zM563 928h4v5h-4zM1105 928h10v5h-10zM829 928h3v5h-3zM878 928h4v9h-4zM489 928h4v9h-4zM478 933h4v4h-4zM846 933h4v4h-4zM811 933h4v4h-4zM899 933h4v4h-4zM960 933h10v4h-10zM602 933h4v4h-4zM560 933h3v4h-3zM1101 933h18v4h-18zM549 933h4v4h-4zM793 933h4v4h-4zM107 933h7v4h-7zM1034 933h3v4h-3zM578 933h3v4h-3zM1013 933h3v4h-3zM418 933h4v9h-4zM981 937h3v5h-3zM107 937h4v5h-4zM585 937h3v5h-3zM532 937h3v5h-3zM542 937h4v5h-4zM1098 937h7v5h-7zM592 937h3v5h-3zM1009 937h4v5h-4zM804 937h7v5h-7zM450 937h7v5h-7zM514 937h3v5h-3zM797 937h3v5h-3zM991 937h4v5h-4zM1023 937h4v5h-4zM889 937h3v5h-3zM1182 937h4v10h-4zM928 937h3v10h-3zM1115 937h7v10h-7zM850 937h3v10h-3zM956 937h4v10h-4zM921 942h3v5h-3zM478 942h4v5h-4zM535 942h4v5h-4zM899 942h4v5h-4zM878 942h4v5h-4zM585 942h7v5h-7zM517 942h4v5h-4zM609 942h4v5h-4zM885 942h4v5h-4zM935 942h10v5h-10zM1101 942h4v5h-4zM104 942h3v5h-3zM892 942h4v5h-4zM79 942h3v5h-3zM815 942h3v5h-3zM1006 942h3v5h-3zM822 942h3v5h-3zM914 942h3v5h-3zM440 942h3v10h-3zM938 947h4v5h-4zM861 947h10v5h-10zM903 947h4v5h-4zM528 947h7v5h-7zM889 947h7v5h-7zM475 947h3v5h-3zM432 947h4v5h-4zM1016 947h7v5h-7zM563 947h7v5h-7zM949 947h4v5h-4zM588 947h4v5h-4zM486 947h3v5h-3zM1115 947h11v5h-11zM100 947h4v5h-4zM931 947h4v5h-4zM1105 947h3v5h-3zM578 942h3v14h-3zM1105 952h7v4h-7zM585 952h3v4h-3zM793 952h7v4h-7zM960 952h3v4h-3zM1009 952h11v4h-11zM1119 952h10v4h-10zM567 952h3v4h-3zM935 952h3v4h-3zM924 952h7v4h-7zM1034 952h3v4h-3zM496 952h4v4h-4zM503 952h4v4h-4zM482 952h7v4h-7zM938 956h4v5h-4zM921 956h7v5h-7zM493 956h3v5h-3zM532 956h3v5h-3zM510 956h4v5h-4zM1009 956h4v5h-4zM875 956h3v5h-3zM500 956h7v5h-7zM995 956h3v5h-3zM800 956h4v5h-4zM1108 956h4v5h-4zM121 956h4v5h-4zM96 956h4v5h-4zM1023 956h7v5h-7zM974 956h3v5h-3zM443 956h7v5h-7zM988 952h3v14h-3zM1122 956h4v10h-4zM1182 956h4v10h-4zM662 961h4v5h-4zM118 961h3v5h-3zM1030 961h4v5h-4zM93 961h3v5h-3zM585 961h3v5h-3zM450 961h4v5h-4zM878 961h4v5h-4zM493 961h7v5h-7zM744 961h3v5h-3zM733 961h4v5h-4zM404 961h7v5h-7zM1016 961h7v5h-7zM387 961h3v5h-3zM1133 961h3v5h-3zM486 961h3v5h-3zM422 961h3v5h-3zM761 961h8v5h-8zM797 961h3v5h-3zM1108 961h11v10h-11zM478 966h4v5h-4zM896 966h3v5h-3zM390 966h4v5h-4zM677 966h3v5h-3zM574 966h4v5h-4zM89 966h4v5h-4zM776 966h3v5h-3zM652 966h3v5h-3zM684 966h3v5h-3zM440 966h7v5h-7zM432 966h4v5h-4zM1126 966h10v5h-10zM489 966h4v5h-4zM546 966h3v5h-3zM471 966h4v5h-4zM931 966h4v5h-4zM567 966h3v9h-3zM609 971h7v4h-7zM1112 971h10v4h-10zM111 971h3v4h-3zM1151 971h3v4h-3zM928 971h7v4h-7zM1140 971h7v4h-7zM447 971h3v4h-3zM355 971h14v4h-14zM1030 971h7v4h-7zM747 971h4v4h-4zM1013 971h3v4h-3zM889 971h3v4h-3zM82 971h4v9h-4zM475 971h3v9h-3zM942 971h3v9h-3zM570 975h4v5h-4zM447 975h7v5h-7zM804 975h3v5h-3zM1179 975h3v5h-3zM878 975h4v5h-4zM677 975h7v5h-7zM885 975h4v5h-4zM1009 975h4v5h-4zM1140 975h14v5h-14zM935 975h3v5h-3zM107 975h7v5h-7zM652 975h7v5h-7zM995 975h7v5h-7zM1023 975h4v5h-4zM1105 975h3v5h-3zM786 971h4v14h-4zM740 971h4v14h-4zM1034 975h3v10h-3zM556 980h4v5h-4zM1154 980h4v5h-4zM348 980h10v5h-10zM882 980h7v5h-7zM425 980h4v5h-4zM457 980h4v5h-4zM432 980h4v5h-4zM995 980h3v5h-3zM680 980h7v5h-7zM1239 980h14v5h-14zM935 980h7v5h-7zM1140 980h4v5h-4zM606 980h3v5h-3zM563 980h4v5h-4zM779 980h4v5h-4zM928 975h3v15h-3zM440 980h3v10h-3zM1179 980h7v10h-7zM1108 980h4v10h-4zM383 985h4v5h-4zM938 985h4v5h-4zM783 985h3v5h-3zM793 985h4v5h-4zM376 985h3v5h-3zM800 985h4v5h-4zM397 985h4v5h-4zM1147 985h14v5h-14zM581 985h4v5h-4zM1006 985h3v5h-3zM351 985h7v5h-7zM914 985h3v5h-3zM461 985h3v5h-3zM429 985h3v5h-3zM903 985h7v5h-7zM896 980h3v15h-3zM1027 980h3v15h-3zM104 980h3v15h-3zM298 980h4v15h-4zM684 985h3v10h-3zM698 990h3v5h-3zM807 990h4v5h-4zM666 990h4v5h-4zM408 990h3v5h-3zM461 990h7v5h-7zM779 990h7v5h-7zM673 990h7v5h-7zM432 990h4v5h-4zM942 990h3v5h-3zM758 990h3v5h-3zM1175 990h4v5h-4zM372 990h4v5h-4zM542 990h7v5h-7zM740 990h4v5h-4zM864 990h4v5h-4zM1140 990h4v5h-4zM553 990h3v5h-3zM1158 990h3v5h-3zM390 990h7v5h-7zM567 990h3v9h-3zM150 995h14v4h-14zM1172 995h3v4h-3zM114 995h7v4h-7zM928 995h3v4h-3zM1059 995h3v4h-3zM998 995h8v4h-8zM670 995h3v4h-3zM1144 995h7v4h-7zM613 995h3v4h-3zM355 995h3v4h-3zM404 995h4v4h-4zM1023 995h7v4h-7zM291 995h4v4h-4zM82 985h4v19h-4zM857 995h7v9h-7zM680 995h7v9h-7zM478 999h4v5h-4zM351 999h4v5h-4zM401 999h3v5h-3zM146 999h7v5h-7zM903 999h4v5h-4zM390 999h4v5h-4zM408 999h3v5h-3zM694 999h4v5h-4zM928 999h10v5h-10zM121 999h7v5h-7zM517 999h4v5h-4zM761 999h4v5h-4zM284 999h7v5h-7zM164 999h3v5h-3zM362 999h3v5h-3zM549 999h7v5h-7zM670 999h7v5h-7zM1228 990h4v19h-4zM1108 995h4v14h-4zM369 995h3v14h-3zM50 999h4v10h-4zM1161 999h4v10h-4zM889 999h3v10h-3zM61 1004h7v5h-7zM167 1004h4v5h-4zM769 1004h3v5h-3zM899 1004h4v5h-4zM634 1004h4v5h-4zM135 1004h7v5h-7zM786 1004h4v5h-4zM807 1004h8v5h-8zM1009 1004h4v5h-4zM524 1004h4v5h-4zM857 1004h4v5h-4zM514 1004h3v5h-3zM914 1004h3v5h-3zM277 1004h3v5h-3zM1066 1004h3v5h-3zM931 1004h4v5h-4zM991 1004h4v5h-4zM348 1004h3v10h-3zM793 1004h4v10h-4zM910 1009h7v5h-7zM677 1009h3v5h-3zM61 1009h11v5h-11zM694 1009h4v5h-4zM1112 1009h10v5h-10zM401 1009h7v5h-7zM641 1009h4v5h-4zM712 1009h14v5h-14zM800 1009h4v5h-4zM945 1009h8v5h-8zM655 1009h7v5h-7zM1154 1009h7v5h-7zM411 1009h4v5h-4zM82 1009h14v5h-14zM287 1009h4v5h-4zM461 1009h3v5h-3zM779 1009h4v5h-4zM429 1009h3v5h-3zM705 1009h3v5h-3zM510 1009h4v9h-4zM355 1009h3v9h-3zM815 1009h3v9h-3zM595 1009h4v9h-4zM662 1014h4v4h-4zM754 1014h4v4h-4zM107 1014h4v4h-4zM43 1014h4v4h-4zM429 1014h7v4h-7zM861 1014h3v4h-3zM266 1014h4v4h-4zM634 1014h4v4h-4zM726 1014h4v4h-4zM624 1014h3v4h-3zM892 1014h7v4h-7zM37 1014h3v4h-3zM609 1014h4v4h-4zM977 1014h4v4h-4zM408 1014h7v4h-7zM967 1014h3v4h-3zM217 1014h7v4h-7zM1144 1014h7v4h-7zM58 1014h38v4h-38zM875 1014h7v4h-7zM206 1014h7v4h-7zM372 1014h4v4h-4zM1122 1014h7v4h-7zM1006 1014h3v4h-3zM471 1014h4v4h-4zM1080 1014h3v9h-3zM786 1014h4v9h-4zM348 1018h3v5h-3zM383 1018h4v5h-4zM1129 1018h11v5h-11zM37 1018h17v5h-17zM61 1018h11v5h-11zM468 1018h3v5h-3zM153 1018h7v5h-7zM592 1018h3v5h-3zM807 1018h8v5h-8zM404 1018h7v5h-7zM616 1018h4v5h-4zM376 1018h3v5h-3zM111 1018h10v5h-10zM79 1018h3v5h-3zM850 1018h3v5h-3zM89 1018h15v5h-15zM263 1018h3v5h-3zM631 1018h3v5h-3zM560 1018h7v5h-7zM956 1018h4v5h-4zM578 1018h3v5h-3zM362 1018h3v5h-3zM606 1018h3v5h-3zM882 1018h3v5h-3zM394 1018h7v5h-7zM645 1018h3v5h-3zM521 1018h3v5h-3zM797 1018h3v5h-3zM443 1018h4v10h-4zM899 1018h4v10h-4zM1020 1018h3v10h-3zM967 1018h10v10h-10zM150 1023h3v5h-3zM662 1023h4v5h-4zM379 1023h8v5h-8zM846 1023h4v5h-4zM107 1023h4v5h-4zM37 1023h6v5h-6zM47 1023h25v5h-25zM627 1023h4v5h-4zM125 1023h3v5h-3zM401 1023h3v5h-3zM358 1023h4v5h-4zM157 1023h7v5h-7zM408 1023h3v5h-3zM772 1023h7v5h-7zM365 1023h4v5h-4zM82 1023h22v5h-22zM751 1023h3v5h-3zM995 1023h3v5h-3zM256 1023h3v5h-3zM984 1023h4v5h-4zM949 1023h11v5h-11zM613 1023h3v5h-3zM489 1023h4v5h-4zM1006 1023h3v5h-3zM807 1023h4v10h-4zM730 1023h3v10h-3zM931 1023h4v10h-4zM440 1028h3v5h-3zM365 1028h7v5h-7zM234 1028h11v5h-11zM861 1028h3v5h-3zM666 1028h4v5h-4zM128 1028h14v5h-14zM691 1028h3v5h-3zM160 1028h7v5h-7zM949 1028h7v5h-7zM599 1028h3v5h-3zM680 1028h7v5h-7zM631 1028h10v5h-10zM224 1028h7v5h-7zM93 1028h11v5h-11zM648 1028h4v5h-4zM546 1028h3v5h-3zM578 1028h3v5h-3zM37 1028h52v5h-52zM606 1028h3v5h-3zM882 1028h3v5h-3zM379 1028h4v5h-4zM871 1028h4v5h-4zM963 1028h4v5h-4zM429 1028h3v5h-3zM1013 1023h3v14h-3zM910 1028h4v9h-4zM111 1028h10v9h-10zM387 1028h3v9h-3zM563 1028h4v9h-4zM167 1033h11v4h-11zM125 1033h17v4h-17zM217 1033h10v4h-10zM181 1033h7v4h-7zM804 1033h3v4h-3zM96 1033h8v4h-8zM50 1033h29v4h-29zM666 1033h11v4h-11zM769 1033h3v4h-3zM786 1033h4v4h-4zM624 1033h7v4h-7zM967 1033h3v4h-3zM751 1033h3v4h-3zM1027 1033h3v4h-3zM843 1033h3v4h-3zM524 1033h4v4h-4zM758 1033h3v4h-3zM436 1033h4v4h-4zM422 1033h3v4h-3zM871 1033h11v4h-11zM1006 1033h3v4h-3zM655 1033h4v4h-4zM687 1033h4v4h-4zM779 1033h4v4h-4zM578 1033h7v4h-7zM50 1037h11v5h-11zM733 1037h7v5h-7zM401 1037h3v5h-3zM65 1037h14v5h-14zM903 1037h4v5h-4zM970 1037h11v5h-11zM181 1037h29v5h-29zM726 1037h4v5h-4zM542 1037h4v5h-4zM882 1037h7v5h-7zM1002 1037h4v5h-4zM114 1037h11v5h-11zM128 1037h14v5h-14zM917 1037h4v5h-4zM1009 1037h4v5h-4zM875 1037h3v5h-3zM411 1037h7v5h-7zM471 1037h7v5h-7zM578 1037h10v5h-10zM443 1037h14v5h-14zM461 1037h3v5h-3zM86 1037h7v5h-7zM496 1028h4v19h-4zM1020 1037h3v10h-3zM754 1042h4v5h-4zM786 1042h7v5h-7zM998 1042h4v5h-4zM132 1042h10v5h-10zM418 1042h4v5h-4zM549 1042h4v5h-4zM716 1042h14v5h-14zM532 1042h7v5h-7zM432 1042h4v5h-4zM43 1042h53v5h-53zM121 1042h4v5h-4zM850 1042h3v5h-3zM404 1042h4v5h-4zM588 1042h4v5h-4zM475 1042h7v5h-7zM914 1042h3v5h-3zM687 1042h4v5h-4zM705 1042h3v5h-3zM560 1042h3v10h-3zM733 1047h14v5h-14zM125 1047h10v5h-10zM1030 1047h4v5h-4zM429 1047h7v5h-7zM726 1047h4v5h-4zM684 1047h3v5h-3zM783 1047h10v5h-10zM885 1047h4v5h-4zM751 1047h3v5h-3zM1048 1047h7v5h-7zM47 1047h3v5h-3zM86 1047h10v5h-10zM54 1047h28v5h-28zM907 1047h3v5h-3zM606 1047h3v5h-3zM471 1047h4v5h-4zM369 1047h3v5h-3zM1037 1047h7v5h-7zM807 1047h8v10h-8zM489 1047h4v10h-4zM673 1047h4v10h-4zM786 1052h7v5h-7zM995 1052h11v5h-11zM142 1052h4v5h-4zM1037 1052h22v5h-22zM418 1052h4v5h-4zM868 1052h10v5h-10zM475 1052h3v5h-3zM252 1052h7v5h-7zM680 1052h14v5h-14zM892 1052h4v5h-4zM563 1052h7v5h-7zM58 1052h24v5h-24zM578 1052h3v5h-3zM429 1052h3v5h-3zM659 1057h11v4h-11zM139 1057h7v4h-7zM1037 1057h18v4h-18zM1002 1057h7v4h-7zM719 1057h4v4h-4zM482 1057h4v4h-4zM507 1057h3v4h-3zM616 1057h4v4h-4zM995 1057h3v4h-3zM263 1057h3v4h-3zM252 1057h4v4h-4zM496 1057h4v4h-4zM394 1057h3v4h-3zM270 1057h3v4h-3zM464 1057h4v4h-4zM277 1057h3v4h-3zM323 1052h10v14h-10zM662 1061h4v5h-4zM1034 1061h25v5h-25zM383 1061h4v5h-4zM991 1061h18v5h-18zM249 1061h3v5h-3zM899 1061h4v5h-4zM634 1061h4v5h-4zM726 1061h4v5h-4zM493 1061h7v5h-7zM517 1061h4v5h-4zM875 1061h3v5h-3zM751 1061h3v5h-3zM712 1061h7v5h-7zM132 1061h14v5h-14zM673 1061h4v5h-4zM765 1061h4v5h-4zM772 1061h4v5h-4zM422 1061h3v5h-3zM595 1061h4v5h-4zM655 1061h4v5h-4zM432 1061h8v5h-8zM273 1061h11v10h-11zM401 1061h7v10h-7zM1006 1066h7v5h-7zM249 1066h7v5h-7zM892 1066h7v5h-7zM641 1066h4v5h-4zM599 1066h3v5h-3zM793 1066h4v5h-4zM128 1066h7v5h-7zM323 1066h7v5h-7zM489 1066h4v5h-4zM659 1066h7v5h-7zM769 1066h7v5h-7zM691 1066h21v5h-21zM436 1066h4v5h-4zM747 1066h4v5h-4zM429 1066h3v5h-3zM737 1066h3v5h-3zM1037 1066h7v5h-7zM754 1066h4v10h-4zM991 1066h7v10h-7zM804 1071h3v5h-3zM273 1071h7v5h-7zM542 1071h4v5h-4zM694 1071h4v5h-4zM609 1071h4v5h-4zM252 1071h7v5h-7zM1009 1071h4v5h-4zM655 1071h7v5h-7zM471 1071h7v5h-7zM128 1071h4v5h-4zM1027 1071h14v5h-14zM461 1071h3v5h-3zM687 1071h4v5h-4zM72 1071h3v9h-3zM892 1071h4v9h-4zM266 1076h11v4h-11zM142 1076h4v4h-4zM1002 1076h11v4h-11zM539 1076h3v4h-3zM256 1076h7v4h-7zM758 1076h7v4h-7zM655 1076h4v4h-4zM871 1076h4v4h-4zM1023 1076h4v4h-4zM574 1076h4v9h-4zM977 1080h25v5h-25zM592 1080h3v5h-3zM765 1080h14v5h-14zM783 1080h10v5h-10zM599 1080h3v5h-3zM1027 1080h3v5h-3zM670 1080h3v5h-3zM613 1080h3v5h-3zM889 1080h3v5h-3zM128 1080h4v10h-4zM563 1080h4v10h-4zM570 1085h4v5h-4zM532 1085h3v5h-3zM684 1085h3v5h-3zM868 1085h7v5h-7zM588 1085h7v5h-7zM121 1085h4v5h-4zM514 1085h3v5h-3zM974 1085h3v5h-3zM963 1085h4v5h-4zM1034 1080h7v15h-7zM645 1090h7v5h-7zM500 1090h3v5h-3zM592 1090h3v5h-3zM517 1090h4v5h-4zM599 1090h3v5h-3zM875 1090h3v5h-3zM489 1090h4v5h-4zM655 1090h7v5h-7zM680 1090h4v5h-4zM606 1090h3v5h-3zM624 1090h3v10h-3zM641 1095h18v5h-18zM871 1095h14v5h-14zM1034 1095h3v5h-3zM535 1095h4v5h-4zM963 1090h7v14h-7zM532 1100h3v4h-3zM121 1100h14v4h-14zM772 1100h7v4h-7zM878 1100h4v4h-4zM524 1100h4v4h-4zM631 1100h3v4h-3zM857 1100h4v4h-4zM832 1100h4v4h-4zM864 1100h4v4h-4zM503 1100h4v4h-4zM471 1100h4v4h-4zM570 1104h4v5h-4zM769 1104h3v5h-3zM468 1104h3v5h-3zM121 1104h7v5h-7zM875 1104h3v5h-3zM1027 1104h3v5h-3zM839 1104h7v5h-7zM815 1104h3v5h-3zM680 1104h4v5h-4zM546 1104h3v5h-3zM135 1104h4v5h-4zM822 1104h3v5h-3zM963 1104h4v5h-4zM779 1104h4v5h-4zM705 1104h3v5h-3zM358 1104h4v10h-4zM730 1109h7v5h-7zM811 1109h4v5h-4zM142 1109h4v5h-4zM691 1109h3v5h-3zM528 1109h4v5h-4zM280 1109h4v5h-4zM850 1109h7v5h-7zM871 1109h4v5h-4zM832 1109h4v10h-4zM790 1109h3v10h-3zM822 1114h7v5h-7zM379 1114h8v5h-8zM401 1114h3v5h-3zM807 1114h4v5h-4zM585 1114h3v5h-3zM726 1114h4v5h-4zM330 1114h18v5h-18zM967 1114h10v5h-10zM853 1114h4v5h-4zM280 1114h7v5h-7zM355 1114h3v5h-3zM546 1114h3v5h-3zM595 1114h4v5h-4zM701 1114h4v9h-4zM761 1114h4v9h-4zM365 1119h7v4h-7zM627 1119h4v4h-4zM482 1119h4v4h-4zM542 1119h4v4h-4zM807 1119h15v4h-15zM694 1119h4v4h-4zM684 1119h3v4h-3zM836 1119h3v4h-3zM843 1119h3v4h-3zM984 1119h4v4h-4zM850 1119h3v4h-3zM280 1119h11v4h-11zM394 1119h3v4h-3zM139 1114h3v14h-3zM319 1119h4v9h-4zM754 1123h4v5h-4zM383 1123h4v5h-4zM401 1123h3v5h-3zM493 1123h3v5h-3zM344 1123h7v5h-7zM517 1123h4v5h-4zM857 1123h4v5h-4zM712 1123h4v5h-4zM287 1123h4v5h-4zM273 1123h11v10h-11zM535 1128h4v5h-4zM142 1128h4v5h-4zM726 1128h4v5h-4zM542 1128h4v5h-4zM694 1128h4v5h-4zM825 1128h4v5h-4zM528 1128h4v5h-4zM850 1128h3v5h-3zM312 1128h11v5h-11zM372 1128h4v5h-4zM464 1128h4v5h-4zM832 1128h4v5h-4zM514 1128h3v5h-3zM705 1128h3v5h-3zM355 1128h3v10h-3zM687 1128h4v10h-4zM309 1133h17v5h-17zM510 1133h4v5h-4zM560 1133h3v5h-3zM397 1133h7v5h-7zM641 1133h4v5h-4zM475 1133h3v5h-3zM432 1133h4v5h-4zM411 1133h7v5h-7zM387 1133h3v5h-3zM712 1133h11v5h-11zM765 1133h4v5h-4zM546 1133h3v5h-3zM822 1133h3v5h-3zM369 1133h3v5h-3zM829 1133h3v5h-3zM737 1133h7v9h-7zM846 1138h4v4h-4zM698 1138h3v4h-3zM521 1138h7v4h-7zM719 1138h4v4h-4zM341 1138h3v4h-3zM769 1138h3v4h-3zM401 1138h7v4h-7zM146 1138h4v4h-4zM761 1138h4v4h-4zM287 1138h39v4h-39zM804 1138h7v4h-7zM486 1138h3v4h-3zM411 1138h4v4h-4zM815 1138h7v4h-7zM429 1138h3v4h-3zM376 1138h3v9h-3zM790 1138h3v9h-3zM401 1142h3v5h-3zM807 1142h4v5h-4zM418 1142h4v5h-4zM602 1142h4v5h-4zM291 1142h35v5h-35zM825 1142h4v5h-4zM500 1142h7v5h-7zM447 1142h3v5h-3zM673 1142h4v5h-4zM362 1142h3v5h-3zM514 1142h3v5h-3zM471 1142h4v5h-4zM779 1142h4v5h-4zM726 1142h4v10h-4zM344 1142h4v10h-4zM712 1142h4v10h-4zM740 1142h4v10h-4zM556 1147h4v5h-4zM602 1147h7v5h-7zM309 1147h10v5h-10zM634 1147h4v5h-4zM666 1147h4v5h-4zM532 1147h3v5h-3zM542 1147h4v5h-4zM365 1147h4v5h-4zM241 1147h4v5h-4zM659 1147h3v5h-3zM581 1147h4v5h-4zM404 1147h4v5h-4zM776 1147h7v5h-7zM822 1147h3v5h-3zM500 1147h3v10h-3zM323 1147h3v10h-3zM846 1152h4v5h-4zM383 1152h4v5h-4zM341 1152h3v5h-3zM146 1152h7v5h-7zM807 1152h4v5h-4zM418 1152h4v5h-4zM457 1152h4v5h-4zM312 1152h7v5h-7zM227 1152h22v5h-22zM723 1152h7v5h-7zM655 1152h4v5h-4zM613 1152h3v5h-3zM287 1147h4v15h-4zM259 1157h11v5h-11zM698 1157h3v5h-3zM146 1157h11v5h-11zM507 1157h3v5h-3zM309 1157h21v5h-21zM570 1157h8v5h-8zM524 1157h4v5h-4zM337 1157h11v5h-11zM588 1157h7v5h-7zM220 1157h29v5h-29zM404 1157h4v5h-4zM372 1157h4v5h-4zM464 1157h4v5h-4zM411 1157h4v5h-4zM627 1157h7v5h-7zM309 1162h3v4h-3zM719 1162h4v4h-4zM493 1162h3v4h-3zM316 1162h10v4h-10zM153 1162h7v4h-7zM330 1162h18v4h-18zM475 1162h3v4h-3zM256 1162h14v4h-14zM447 1162h3v4h-3zM376 1162h7v4h-7zM220 1162h4v4h-4zM227 1162h4v4h-4zM687 1162h4v4h-4zM783 1162h3v9h-3zM730 1166h7v5h-7zM698 1166h3v5h-3zM316 1166h17v5h-17zM234 1166h4v5h-4zM408 1166h3v5h-3zM341 1166h7v5h-7zM37 1166h3v5h-3zM245 1166h7v5h-7zM493 1166h7v5h-7zM524 1166h4v5h-4zM556 1166h7v5h-7zM684 1166h7v5h-7zM291 1166h7v5h-7zM503 1166h7v5h-7zM581 1166h4v5h-4zM712 1166h4v5h-4zM464 1166h4v5h-4zM422 1166h3v5h-3zM471 1166h4v5h-4zM302 1166h7v5h-7zM705 1166h3v5h-3zM634 1166h4v10h-4zM213 1166h4v10h-4zM723 1166h3v10h-3zM125 1171h3v5h-3zM585 1171h3v5h-3zM482 1171h4v5h-4zM326 1171h4v5h-4zM40 1171h3v5h-3zM500 1171h3v5h-3zM694 1171h4v5h-4zM457 1171h4v5h-4zM705 1171h7v5h-7zM733 1171h4v5h-4zM609 1171h4v5h-4zM440 1171h7v5h-7zM397 1171h4v5h-4zM132 1171h7v5h-7zM178 1171h10v5h-10zM220 1171h4v5h-4zM280 1171h4v5h-4zM167 1171h7v5h-7zM379 1171h4v5h-4zM553 1171h3v5h-3zM266 1171h7v5h-7zM199 1171h4v10h-4zM316 1171h3v10h-3zM634 1176h7v5h-7zM811 1176h18v5h-18zM277 1176h7v5h-7zM146 1176h7v5h-7zM125 1176h7v5h-7zM323 1176h3v5h-3zM330 1176h11v5h-11zM160 1176h7v5h-7zM188 1176h7v5h-7zM107 1176h7v5h-7zM217 1176h7v5h-7zM546 1176h3v5h-3zM461 1176h10v5h-10zM730 1176h3v5h-3zM58 1176h3v5h-3zM418 1176h4v9h-4zM570 1181h4v4h-4zM454 1181h14v4h-14zM316 1181h10v4h-10zM114 1181h7v4h-7zM666 1181h4v4h-4zM37 1181h3v4h-3zM333 1181h4v4h-4zM761 1181h4v4h-4zM599 1181h3v4h-3zM104 1181h3v4h-3zM171 1181h3v4h-3zM404 1181h4v4h-4zM436 1181h4v4h-4zM280 1181h4v4h-4zM790 1181h10v4h-10zM655 1181h4v4h-4zM50 1176h4v14h-4zM825 1181h4v9h-4zM553 1181h3v9h-3zM167 1185h4v5h-4zM401 1185h3v5h-3zM478 1185h8v5h-8zM468 1185h3v5h-3zM273 1185h4v5h-4zM104 1185h17v5h-17zM415 1185h3v5h-3zM128 1185h7v5h-7zM280 1185h7v5h-7zM620 1185h4v5h-4zM319 1185h7v5h-7zM203 1185h3v5h-3zM450 1185h7v5h-7zM648 1185h4v5h-4zM432 1185h15v5h-15zM139 1185h3v5h-3zM521 1185h3v5h-3zM157 1185h3v10h-3zM783 1185h7v10h-7zM58 1185h3v10h-3zM440 1190h3v5h-3zM574 1190h4v5h-4zM542 1190h4v5h-4zM592 1190h3v5h-3zM238 1190h11v5h-11zM616 1190h4v5h-4zM104 1190h14v5h-14zM563 1190h7v5h-7zM447 1190h3v5h-3zM135 1190h11v5h-11zM486 1190h3v5h-3zM514 1190h3v5h-3zM411 1190h4v5h-4zM475 1190h7v5h-7zM379 1190h4v5h-4zM747 1190h4v5h-4zM829 1190h3v5h-3zM125 1190h3v10h-3zM432 1190h4v10h-4zM188 1190h18v10h-18zM280 1190h4v10h-4zM319 1190h11v10h-11zM43 1190h7v10h-7zM493 1195h3v5h-3zM478 1195h8v5h-8zM776 1195h10v5h-10zM510 1195h4v5h-4zM408 1195h3v5h-3zM241 1195h11v5h-11zM181 1195h4v5h-4zM111 1195h3v5h-3zM733 1195h4v5h-4zM100 1195h7v5h-7zM723 1195h3v5h-3zM588 1195h4v5h-4zM503 1195h4v5h-4zM139 1195h3v5h-3zM645 1195h3v5h-3zM54 1195h7v5h-7zM37 1195h3v9h-3zM266 1195h7v9h-7zM316 1200h17v4h-17zM443 1200h4v4h-4zM47 1200h11v4h-11zM744 1200h3v4h-3zM641 1200h4v4h-4zM486 1200h10v4h-10zM680 1200h4v4h-4zM111 1200h7v4h-7zM383 1200h7v4h-7zM178 1200h7v4h-7zM829 1200h3v4h-3zM613 1200h3v4h-3zM712 1200h4v9h-4zM754 1204h4v5h-4zM719 1204h4v5h-4zM825 1204h7v5h-7zM284 1204h3v5h-3zM776 1204h3v5h-3zM40 1204h14v5h-14zM415 1204h3v5h-3zM673 1204h4v5h-4zM730 1204h3v5h-3zM563 1204h4v5h-4zM379 1204h4v5h-4zM277 1204h3v5h-3zM747 1204h4v5h-4zM142 1200h4v14h-4zM312 1204h18v10h-18zM638 1204h3v10h-3zM277 1209h14v5h-14zM440 1209h3v5h-3zM390 1209h4v5h-4zM50 1209h4v5h-4zM510 1209h4v5h-4zM111 1209h3v5h-3zM517 1209h4v5h-4zM489 1209h4v5h-4zM581 1209h4v5h-4zM422 1209h3v5h-3zM822 1209h3v5h-3zM606 1209h3v5h-3zM43 1209h4v10h-4zM128 1209h4v10h-4zM698 1214h3v5h-3zM733 1214h7v5h-7zM316 1214h10v5h-10zM818 1214h4v5h-4zM602 1214h4v5h-4zM58 1214h3v5h-3zM609 1214h4v5h-4zM507 1214h3v5h-3zM397 1214h4v5h-4zM751 1214h7v5h-7zM723 1214h3v5h-3zM379 1214h4v5h-4zM772 1209h4v15h-4zM65 1214h3v10h-3zM811 1214h4v10h-4zM114 1214h4v10h-4zM277 1214h21v10h-21zM309 1219h14v5h-14zM128 1219h7v5h-7zM383 1219h4v5h-4zM47 1219h3v5h-3zM210 1224h3v4h-3zM309 1224h10v4h-10zM132 1224h3v4h-3zM751 1224h10v4h-10zM415 1224h3v4h-3zM804 1224h7v4h-7zM387 1224h3v4h-3zM539 1224h3v4h-3zM280 1224h15v4h-15zM139 1224h3v4h-3zM510 1224h4v9h-4zM227 1224h7v9h-7zM58 1228h7v5h-7zM206 1228h4v5h-4zM50 1228h4v5h-4zM348 1228h14v5h-14zM776 1228h28v5h-28zM245 1228h4v5h-4zM312 1228h4v5h-4zM188 1228h4v5h-4zM436 1228h4v5h-4zM238 1228h3v5h-3zM135 1228h4v5h-4zM291 1228h4v5h-4zM754 1228h18v5h-18zM471 1228h4v5h-4zM496 1233h7v5h-7zM454 1233h3v5h-3zM542 1233h4v5h-4zM295 1233h7v5h-7zM754 1233h4v5h-4zM185 1233h7v5h-7zM305 1233h4v5h-4zM128 1233h11v5h-11zM553 1233h3v5h-3zM224 1233h10v5h-10zM432 1233h8v5h-8zM730 1233h17v5h-17zM312 1233h50v5h-50zM54 1233h4v5h-4zM761 1233h4v5h-4zM468 1233h10v5h-10zM146 1228h4v15h-4zM238 1233h7v10h-7zM482 1233h4v10h-4zM206 1238h18v5h-18zM341 1238h3v5h-3zM535 1238h4v5h-4zM684 1238h21v5h-21zM231 1238h3v5h-3zM50 1238h8v5h-8zM415 1238h3v5h-3zM404 1238h7v5h-7zM351 1238h39v5h-39zM496 1238h4v5h-4zM744 1238h25v5h-25zM461 1238h3v5h-3zM471 1238h4v5h-4zM298 1238h32v5h-32zM429 1238h3v5h-3zM369 1243h14v4h-14zM440 1243h3v4h-3zM54 1243h4v4h-4zM358 1243h4v4h-4zM284 1243h28v4h-28zM542 1243h4v4h-4zM500 1243h3v4h-3zM241 1243h4v4h-4zM765 1243h4v4h-4zM464 1243h4v4h-4zM754 1243h7v4h-7zM411 1243h4v4h-4zM563 1243h4v4h-4zM670 1243h14v4h-14zM390 1243h7v4h-7zM210 1243h28v9h-28zM532 1243h3v9h-3zM758 1247h11v5h-11zM482 1247h4v5h-4zM666 1247h4v5h-4zM475 1247h3v5h-3zM507 1247h3v5h-3zM302 1247h10v5h-10zM436 1247h4v5h-4zM362 1247h3v5h-3zM369 1247h28v5h-28zM284 1247h11v5h-11zM747 1247h4v5h-4zM521 1247h3v5h-3zM96 1247h22v10h-22zM489 1247h4v10h-4zM740 1252h29v5h-29zM54 1252h4v5h-4zM528 1252h7v5h-7zM408 1252h3v5h-3zM241 1252h8v5h-8zM666 1252h7v5h-7zM227 1252h4v5h-4zM362 1252h32v5h-32zM146 1252h4v10h-4zM563 1252h4v10h-4zM118 1257h3v5h-3zM358 1257h4v5h-4zM365 1257h29v5h-29zM457 1257h4v5h-4zM733 1257h4v5h-4zM751 1257h21v5h-21zM670 1257h3v5h-3zM96 1257h11v5h-11zM496 1257h4v5h-4zM178 1257h3v5h-3zM503 1257h4v5h-4zM521 1257h3v5h-3zM305 1252h7v15h-7zM277 1262h7v5h-7zM93 1262h3v5h-3zM125 1262h7v5h-7zM365 1262h22v5h-22zM100 1262h7v5h-7zM489 1262h4v5h-4zM404 1262h4v5h-4zM776 1262h7v5h-7zM754 1262h7v5h-7zM429 1262h3v5h-3zM698 1262h35v5h-35zM670 1262h7v5h-7zM227 1257h7v14h-7zM316 1262h17v9h-17zM142 1262h4v9h-4zM150 1267h3v4h-3zM125 1267h10v4h-10zM249 1267h3v4h-3zM309 1267h3v4h-3zM719 1267h4v4h-4zM365 1267h18v4h-18zM532 1267h3v4h-3zM733 1267h11v4h-11zM111 1267h3v4h-3zM761 1267h4v4h-4zM680 1267h14v4h-14zM503 1267h7v4h-7zM387 1267h3v4h-3zM96 1267h4v4h-4zM563 1267h4v4h-4zM277 1267h3v4h-3zM486 1267h7v4h-7zM58 1267h3v4h-3zM118 1267h3v9h-3zM556 1271h4v5h-4zM259 1271h4v5h-4zM401 1271h3v5h-3zM132 1271h3v5h-3zM450 1271h4v5h-4zM510 1271h4v5h-4zM716 1271h3v5h-3zM365 1271h22v5h-22zM549 1271h4v5h-4zM316 1271h7v5h-7zM758 1271h3v5h-3zM252 1271h4v5h-4zM79 1271h7v5h-7zM330 1271h3v5h-3zM277 1271h10v5h-10zM429 1271h3v5h-3zM100 1271h4v5h-4zM521 1271h3v5h-3zM779 1267h4v14h-4zM514 1276h7v5h-7zM249 1276h3v5h-3zM61 1276h4v5h-4zM744 1276h3v5h-3zM425 1276h4v5h-4zM146 1276h4v5h-4zM670 1276h3v5h-3zM79 1276h3v5h-3zM539 1276h3v5h-3zM712 1276h4v5h-4zM280 1276h4v5h-4zM486 1276h3v5h-3zM680 1276h4v5h-4zM754 1276h7v5h-7zM100 1276h11v5h-11zM461 1276h3v5h-3zM68 1276h4v5h-4zM365 1276h14v10h-14zM65 1281h3v5h-3zM93 1281h3v5h-3zM489 1281h7v5h-7zM677 1281h7v5h-7zM783 1281h3v5h-3zM72 1281h3v5h-3zM280 1281h7v5h-7zM648 1281h18v5h-18zM747 1281h7v5h-7zM86 1281h3v5h-3zM394 1281h3v5h-3zM758 1281h7v5h-7zM708 1281h4v9h-4zM245 1281h4v9h-4zM135 1281h4v9h-4zM369 1286h14v4h-14zM662 1286h4v4h-4zM157 1286h3v4h-3zM82 1286h4v4h-4zM493 1286h3v4h-3zM390 1286h4v4h-4zM772 1286h14v4h-14zM284 1286h3v4h-3zM641 1286h4v4h-4zM680 1286h7v4h-7zM486 1286h3v4h-3zM747 1286h4v4h-4zM68 1286h4v4h-4zM754 1286h11v4h-11zM500 1286h3v9h-3zM478 1290h4v5h-4zM150 1290h7v5h-7zM666 1290h4v5h-4zM241 1290h4v5h-4zM783 1290h3v5h-3zM659 1290h3v5h-3zM72 1290h3v5h-3zM524 1290h4v5h-4zM507 1290h7v5h-7zM79 1290h3v5h-3zM387 1290h3v5h-3zM369 1290h10v5h-10zM287 1290h4v5h-4zM139 1290h3v5h-3zM751 1290h25v5h-25zM638 1290h7v5h-7zM712 1290h4v10h-4zM369 1295h7v5h-7zM390 1295h4v5h-4zM450 1295h4v5h-4zM761 1295h11v5h-11zM153 1295h11v5h-11zM238 1295h3v5h-3zM287 1295h11v5h-11zM553 1295h3v5h-3zM662 1295h11v5h-11zM471 1290h4v15h-4zM631 1295h17v10h-17zM478 1300h4v5h-4zM769 1300h17v5h-17zM613 1300h7v5h-7zM666 1300h11v5h-11zM234 1300h4v5h-4zM716 1300h3v5h-3zM652 1300h3v5h-3zM517 1300h4v5h-4zM507 1300h3v5h-3zM432 1300h4v5h-4zM295 1300h10v5h-10zM535 1300h7v5h-7zM203 1300h7v5h-7zM422 1300h3v5h-3zM227 1300h4v5h-4zM167 1300h25v5h-25zM287 1300h4v5h-4zM680 1290h4v19h-4zM751 1300h3v9h-3zM369 1305h7v4h-7zM482 1305h4v4h-4zM574 1305h4v4h-4zM418 1305h4v4h-4zM542 1305h4v4h-4zM447 1305h3v4h-3zM772 1305h18v4h-18zM298 1305h7v4h-7zM291 1305h4v4h-4zM606 1305h21v4h-21zM620 1309h7v5h-7zM365 1309h11v5h-11zM309 1309h7v5h-7zM560 1309h3v5h-3zM457 1309h4v5h-4zM609 1309h4v5h-4zM673 1309h7v5h-7zM295 1309h10v5h-10zM319 1309h7v5h-7zM503 1309h7v5h-7zM595 1309h7v5h-7zM546 1309h3v5h-3zM754 1309h7v5h-7zM772 1309h4v5h-4zM411 1309h4v5h-4zM779 1309h11v5h-11zM379 1309h4v5h-4zM418 1314h4v5h-4zM450 1314h4v5h-4zM500 1314h3v5h-3zM800 1314h7v5h-7zM758 1314h3v5h-3zM666 1314h18v5h-18zM563 1314h4v5h-4zM719 1314h4v5h-4zM772 1314h21v5h-21zM471 1314h7v5h-7zM553 1314h3v5h-3zM592 1314h17v5h-17zM302 1314h28v5h-28zM362 1314h10v5h-10zM394 1305h3v19h-3zM532 1314h3v10h-3zM807 1319h4v5h-4zM326 1319h4v5h-4zM309 1319h14v5h-14zM776 1319h10v5h-10zM404 1319h7v5h-7zM337 1319h4v5h-4zM673 1319h11v5h-11zM539 1319h3v5h-3zM723 1319h3v5h-3zM450 1319h7v5h-7zM754 1319h7v5h-7zM362 1319h3v5h-3zM627 1319h4v10h-4zM602 1319h4v10h-4zM592 1319h3v10h-3zM570 1324h4v5h-4zM443 1324h4v5h-4zM772 1324h14v5h-14zM358 1324h4v5h-4zM726 1324h4v5h-4zM408 1324h14v5h-14zM309 1324h21v5h-21zM524 1324h4v5h-4zM372 1324h4v5h-4zM811 1324h7v5h-7zM680 1324h7v9h-7zM754 1324h11v9h-11zM348 1329h3v4h-3zM316 1329h10v4h-10zM772 1329h21v4h-21zM567 1329h3v4h-3zM432 1329h4v4h-4zM588 1329h7v4h-7zM397 1329h4v4h-4zM355 1329h3v4h-3zM730 1329h3v4h-3zM390 1324h4v14h-4zM818 1329h4v9h-4zM478 1333h4v5h-4zM754 1333h4v5h-4zM786 1333h7v5h-7zM443 1333h4v5h-4zM733 1333h4v5h-4zM376 1333h3v5h-3zM312 1333h11v5h-11zM344 1333h11v5h-11zM454 1333h3v5h-3zM578 1333h3v5h-3zM761 1333h8v5h-8zM461 1333h3v5h-3zM687 1333h4v5h-4zM585 1333h3v10h-3zM436 1333h4v10h-4zM348 1338h3v5h-3zM532 1338h3v5h-3zM408 1338h3v5h-3zM457 1338h4v5h-4zM754 1338h15v5h-15zM691 1338h3v5h-3zM567 1338h3v5h-3zM333 1338h8v5h-8zM730 1338h3v5h-3zM521 1338h3v5h-3zM401 1333h3v15h-3zM592 1333h3v15h-3zM627 1338h4v10h-4zM493 1338h3v10h-3zM776 1338h7v10h-7zM326 1343h4v5h-4zM316 1343h3v5h-3zM818 1343h4v5h-4zM524 1343h4v5h-4zM355 1343h3v5h-3zM730 1343h10v5h-10zM394 1343h3v5h-3zM372 1343h4v5h-4zM687 1343h11v5h-11zM761 1343h8v5h-8zM754 1343h4v9h-4zM786 1343h4v9h-4zM411 1343h4v9h-4zM624 1348h3v4h-3zM740 1348h4v4h-4zM578 1348h3v4h-3zM687 1348h14v4h-14zM351 1348h4v4h-4zM365 1348h7v4h-7zM761 1348h11v4h-11zM457 1348h4v4h-4zM585 1348h10v4h-10zM379 1348h4v4h-4zM563 1348h7v4h-7zM553 1348h3v4h-3zM507 1348h3v4h-3zM312 1348h4v4h-4zM482 1348h4v4h-4zM404 1348h4v4h-4zM440 1352h3v5h-3zM418 1352h4v5h-4zM408 1352h3v5h-3zM744 1352h3v5h-3zM432 1352h4v5h-4zM372 1352h7v5h-7zM581 1352h4v5h-4zM765 1352h4v5h-4zM496 1352h4v5h-4zM514 1352h10v5h-10zM546 1352h7v5h-7zM687 1352h18v10h-18zM588 1357h4v5h-4zM556 1357h4v5h-4zM500 1357h3v5h-3zM415 1357h7v5h-7zM769 1357h7v5h-7zM602 1357h18v5h-18zM447 1357h3v5h-3zM369 1357h3v5h-3zM578 1357h7v5h-7zM751 1357h7v5h-7zM542 1357h4v10h-4zM333 1362h8v5h-8zM422 1362h3v5h-3zM581 1362h11v5h-11zM613 1362h7v5h-7zM694 1362h18v5h-18zM401 1362h3v5h-3zM316 1362h7v5h-7zM754 1367h4v4h-4zM811 1367h4v4h-4zM450 1367h4v4h-4zM624 1367h3v4h-3zM818 1367h4v4h-4zM592 1367h7v4h-7zM740 1367h7v4h-7zM800 1367h4v4h-4zM312 1367h4v4h-4zM691 1367h25v4h-25zM348 1367h3v9h-3zM478 1371h4v5h-4zM733 1371h14v5h-14zM684 1371h24v5h-24zM585 1371h3v5h-3zM418 1371h4v5h-4zM532 1371h3v5h-3zM333 1371h4v5h-4zM641 1371h4v5h-4zM517 1371h4v5h-4zM595 1371h14v5h-14zM751 1371h7v5h-7zM712 1371h4v5h-4zM496 1371h4v5h-4zM394 1371h3v5h-3zM454 1371h3v5h-3zM503 1371h4v5h-4zM783 1371h7v5h-7zM369 1371h3v5h-3zM613 1371h3v5h-3zM815 1371h3v10h-3zM567 1371h7v10h-7zM634 1376h7v5h-7zM401 1376h3v5h-3zM493 1376h3v5h-3zM620 1376h7v5h-7zM510 1376h4v5h-4zM542 1376h4v5h-4zM408 1376h3v5h-3zM716 1376h3v5h-3zM733 1376h11v5h-11zM648 1376h14v5h-14zM500 1376h7v5h-7zM581 1376h11v5h-11zM687 1376h18v5h-18zM486 1376h3v5h-3zM680 1376h4v5h-4zM355 1376h7v5h-7zM379 1376h4v5h-4zM779 1376h4v5h-4zM747 1376h4v10h-4zM570 1381h4v5h-4zM712 1381h7v5h-7zM691 1381h14v5h-14zM362 1381h3v5h-3zM500 1381h3v5h-3zM553 1381h7v5h-7zM337 1381h4v5h-4zM411 1381h4v5h-4zM779 1381h14v5h-14zM351 1381h4v5h-4zM631 1381h10v5h-10zM471 1381h4v5h-4zM670 1381h7v5h-7zM295 1381h3v10h-3zM358 1386h4v5h-4zM744 1386h3v5h-3zM422 1386h3v5h-3zM549 1386h14v5h-14zM694 1386h7v5h-7zM319 1386h4v5h-4zM592 1386h3v5h-3zM779 1386h11v5h-11zM397 1386h4v5h-4zM503 1386h4v5h-4zM528 1386h4v5h-4zM570 1386h15v5h-15zM708 1386h11v5h-11zM326 1386h4v5h-4zM574 1391h7v4h-7zM588 1391h4v4h-4zM521 1391h14v4h-14zM514 1391h3v4h-3zM546 1391h17v4h-17zM609 1391h4v4h-4zM539 1391h3v4h-3zM712 1391h11v4h-11zM783 1391h3v4h-3zM500 1391h3v9h-3zM698 1391h3v9h-3zM429 1391h3v9h-3zM705 1395h11v5h-11zM595 1395h11v5h-11zM553 1395h10v5h-10zM507 1395h7v5h-7zM295 1395h3v5h-3zM517 1395h4v5h-4zM528 1395h11v5h-11zM613 1395h18v5h-18zM432 1400h4v5h-4zM425 1400h4v5h-4zM747 1400h4v5h-4zM701 1400h22v5h-22zM546 1395h3v15h-3zM627 1400h4v10h-4zM493 1400h3v10h-3zM751 1405h3v5h-3zM705 1405h14v5h-14zM284 1405h3v5h-3zM383 1405h4v5h-4zM443 1405h4v5h-4zM712 1410h7v4h-7zM270 1410h3v4h-3zM468 1410h3v4h-3zM333 1410h4v4h-4zM489 1410h4v4h-4zM461 1410h3v4h-3zM277 1410h3v4h-3zM751 1410h10v4h-10zM432 1410h8v4h-8zM631 1410h3v4h-3zM298 1410h4v4h-4zM422 1410h7v4h-7zM312 1410h4v9h-4zM804 1414h3v5h-3zM482 1414h11v5h-11zM234 1414h4v5h-4zM425 1414h4v5h-4zM751 1414h14v5h-14zM355 1414h3v5h-3zM256 1414h7v5h-7zM302 1414h3v5h-3zM627 1414h7v5h-7zM376 1414h3v10h-3zM245 1419h4v5h-4zM291 1419h4v5h-4zM797 1419h7v5h-7zM277 1419h3v5h-3zM751 1419h10v10h-10zM631 1419h3v10h-3zM418 1424h4v5h-4zM316 1424h3v5h-3zM556 1424h7v5h-7zM401 1424h7v5h-7zM447 1424h7v5h-7zM231 1424h3v5h-3zM295 1424h3v5h-3zM425 1424h4v5h-4zM387 1424h3v5h-3zM341 1424h3v5h-3zM493 1424h3v5h-3zM252 1424h7v5h-7zM793 1424h4v5h-4zM234 1429h4v4h-4zM394 1429h3v4h-3zM372 1429h4v4h-4zM454 1429h3v4h-3zM786 1429h7v4h-7zM333 1429h4v4h-4zM404 1429h4v4h-4zM627 1429h4v4h-4zM379 1429h4v4h-4zM323 1429h3v4h-3zM447 1429h3v4h-3zM344 1429h4v4h-4zM291 1429h4v9h-4zM486 1433h3v5h-3zM376 1433h3v5h-3zM273 1433h4v5h-4zM411 1433h4v5h-4zM783 1433h7v5h-7zM443 1433h4v5h-4zM263 1433h3v5h-3zM471 1433h7v5h-7zM624 1433h7v5h-7zM754 1429h4v14h-4zM351 1433h4v10h-4zM500 1438h3v5h-3zM779 1438h4v5h-4zM620 1438h4v10h-4zM627 1438h4v10h-4zM776 1443h3v5h-3zM273 1443h4v5h-4zM397 1443h4v5h-4zM429 1443h7v5h-7zM549 1443h7v5h-7zM461 1443h3v5h-3zM369 1443h3v5h-3zM478 1443h8v5h-8zM758 1443h11v5h-11zM404 1443h4v5h-4zM358 1448h4v5h-4zM454 1448h3v5h-3zM330 1448h3v5h-3zM249 1448h7v5h-7zM284 1448h3v5h-3zM387 1448h3v5h-3zM624 1448h7v5h-7zM344 1448h7v5h-7zM464 1448h11v5h-11zM266 1448h4v5h-4zM50 1448h8v9h-8zM37 1453h10v4h-10zM624 1453h3v4h-3zM319 1453h4v4h-4zM365 1453h4v4h-4zM231 1453h3v4h-3zM344 1453h4v4h-4zM259 1448h4v14h-4zM40 1457h18v5h-18zM454 1457h3v5h-3zM376 1457h3v5h-3zM153 1457h4v5h-4zM284 1457h3v5h-3zM415 1457h3v5h-3zM401 1457h3v5h-3zM450 1462h4v5h-4zM372 1462h7v5h-7zM37 1462h3v5h-3zM277 1462h3v5h-3zM43 1462h15v5h-15zM616 1453h4v19h-4zM37 1467h10v5h-10zM178 1467h3v5h-3zM249 1467h7v5h-7zM422 1467h3v5h-3zM447 1467h3v5h-3zM185 1467h3v5h-3zM160 1467h4v5h-4zM418 1472h4v4h-4zM234 1472h4v4h-4zM454 1472h3v4h-3zM270 1472h3v4h-3zM408 1472h3v4h-3zM252 1472h11v4h-11zM390 1472h4v4h-4zM174 1472h4v4h-4zM616 1472h8v4h-8zM616 1476h4v5h-4zM245 1476h4v5h-4zM259 1476h4v5h-4zM323 1476h3v5h-3zM387 1476h3v5h-3zM150 1476h7v5h-7zM160 1476h4v5h-4zM450 1476h11v5h-11zM436 1476h7v5h-7zM411 1476h7v10h-7zM256 1481h3v5h-3zM436 1481h18v5h-18zM291 1481h4v5h-4zM351 1481h4v5h-4zM425 1481h4v5h-4zM241 1481h4v5h-4zM379 1481h4v5h-4zM47 1481h18v5h-18zM266 1481h4v5h-4zM316 1481h3v10h-3zM418 1486h4v5h-4zM425 1486h15v5h-15zM616 1486h4v5h-4zM181 1486h4v5h-4zM273 1486h4v5h-4zM287 1486h4v5h-4zM263 1486h3v5h-3zM450 1486h11v5h-11zM631 1486h3v5h-3zM206 1486h4v5h-4zM602 1486h11v5h-11zM47 1486h3v10h-3zM521 1491h18v5h-18zM450 1491h4v5h-4zM178 1491h3v5h-3zM429 1491h11v5h-11zM638 1491h3v5h-3zM411 1491h4v5h-4zM277 1491h3v5h-3zM312 1491h4v5h-4zM319 1491h4v9h-4zM65 1491h3v9h-3zM535 1496h4v4h-4zM344 1496h7v4h-7zM454 1496h7v4h-7zM192 1496h3v4h-3zM273 1496h4v4h-4zM471 1496h7v4h-7zM355 1496h3v4h-3zM524 1496h8v4h-8zM606 1496h3v4h-3zM429 1496h3v4h-3zM298 1496h4v4h-4zM376 1496h3v9h-3zM348 1500h3v5h-3zM341 1500h3v5h-3zM316 1500h3v5h-3zM602 1500h4v5h-4zM592 1500h3v5h-3zM323 1500h3v5h-3zM164 1500h3v5h-3zM256 1500h3v5h-3zM355 1500h10v5h-10zM524 1500h15v5h-15zM305 1500h4v5h-4zM475 1500h7v5h-7zM277 1500h3v5h-3zM227 1500h4v10h-4zM150 1505h3v5h-3zM478 1505h4v5h-4zM440 1505h3v5h-3zM185 1505h3v5h-3zM206 1505h4v5h-4zM524 1505h11v5h-11zM295 1505h3v5h-3zM302 1505h3v5h-3zM404 1496h4v19h-4zM609 1500h4v15h-4zM641 1505h4v10h-4zM425 1510h11v5h-11zM284 1510h3v5h-3zM291 1510h4v5h-4zM273 1510h7v5h-7zM482 1510h4v5h-4zM355 1510h3v9h-3zM280 1515h4v4h-4zM224 1515h3v4h-3zM234 1515h4v4h-4zM270 1515h3v4h-3zM616 1515h4v4h-4zM376 1515h3v4h-3zM627 1515h11v4h-11zM401 1515h10v4h-10zM287 1515h4v4h-4zM249 1515h3v4h-3zM549 1515h7v4h-7zM422 1515h14v4h-14zM454 1515h7v4h-7zM482 1515h7v4h-7zM365 1515h4v9h-4zM178 1519h3v5h-3zM620 1519h7v5h-7zM450 1519h21v5h-21zM595 1519h7v5h-7zM390 1519h4v5h-4zM585 1519h3v5h-3zM376 1519h7v5h-7zM259 1519h4v10h-4zM489 1519h4v10h-4zM422 1519h7v10h-7zM549 1519h4v10h-4zM482 1519h4v10h-4zM404 1519h4v10h-4zM348 1524h3v5h-3zM394 1524h3v5h-3zM585 1524h14v5h-14zM379 1524h8v5h-8zM440 1524h24v5h-24zM273 1524h4v5h-4zM333 1524h4v5h-4zM341 1524h3v5h-3zM471 1524h4v5h-4zM206 1524h4v5h-4zM372 1524h4v10h-4zM174 1524h4v10h-4zM224 1529h3v5h-3zM447 1529h17v5h-17zM284 1529h3v5h-3zM195 1529h4v5h-4zM351 1529h4v5h-4zM305 1529h4v5h-4zM379 1529h4v5h-4zM482 1529h11v5h-11zM415 1529h3v5h-3zM468 1529h7v5h-7zM234 1529h4v9h-4zM291 1529h4v9h-4zM585 1529h10v9h-10zM390 1534h4v4h-4zM482 1534h4v4h-4zM574 1534h4v4h-4zM397 1534h25v4h-25zM256 1534h3v4h-3zM443 1534h28v4h-28zM355 1534h7v4h-7zM210 1534h3v9h-3zM316 1538h3v5h-3zM284 1538h3v5h-3zM365 1538h4v5h-4zM387 1538h3v5h-3zM146 1538h4v5h-4zM418 1538h11v5h-11zM256 1538h7v5h-7zM404 1538h4v5h-4zM273 1534h4v14h-4zM220 1538h4v10h-4zM185 1538h3v10h-3zM178 1543h3v5h-3zM259 1543h11v5h-11zM82 1543h18v5h-18zM153 1543h4v5h-4zM199 1543h4v5h-4zM401 1543h7v5h-7zM249 1543h3v5h-3zM563 1543h7v5h-7zM471 1543h4v5h-4zM578 1543h7v5h-7z"/>
<path fill="#e47300" d="M1405 412h4v5h-4zM1398 417h14v5h-14zM1398 422h7v5h-7zM1405 432h4v4h-4zM1434 436h3v5h-3zM1405 436h7v5h-7zM1412 441h4v5h-4zM1430 441h7v10h-7zM1430 451h4v9h-4zM1352 479h4v5h-4zM1434 460h3v29h-3zM1335 498h3v5h-3zM1345 498h4v5h-4zM1416 498h7v5h-7zM1405 498h7v5h-7zM1356 498h3v5h-3zM1419 503h8v5h-8zM1381 503h35v5h-35zM1388 508h3v5h-3zM1373 508h8v5h-8zM1402 508h28v5h-28zM1356 508h10v5h-10zM1349 508h3v5h-3zM1345 513h7v4h-7zM1427 513h3v4h-3zM1381 513h10v9h-10zM1402 513h17v9h-17zM1335 517h7v5h-7zM1359 517h4v5h-4zM1430 517h4v10h-4zM1324 522h14v5h-14zM1381 522h24v5h-24zM1412 522h7v5h-7zM1359 522h11v5h-11zM1349 522h3v5h-3zM1377 527h7v5h-7zM1356 527h3v5h-3zM1434 527h3v5h-3zM1366 527h4v5h-4zM1388 527h28v5h-28zM1327 527h15v5h-15zM1391 532h18v5h-18zM1352 532h29v5h-29zM1402 537h3v4h-3zM1377 537h4v4h-4zM1320 527h4v19h-4zM1352 537h21v9h-21zM1349 546h21v5h-21zM1402 546h7v5h-7zM1320 546h7v5h-7zM1412 546h25v5h-25zM1289 546h10v5h-10zM1462 546h3v5h-3zM1335 551h3v5h-3zM1352 551h4v5h-4zM1296 551h3v5h-3zM1289 551h3v5h-3zM1402 551h32v9h-32zM1320 551h4v9h-4zM1182 560h8v5h-8zM1193 560h14v5h-14zM1310 560h3v5h-3zM1441 560h7v5h-7zM1405 560h29v5h-29zM1356 560h25v10h-25zM1419 565h11v5h-11zM1349 565h3v5h-3zM1182 565h15v5h-15zM86 565h3v5h-3zM1409 565h7v5h-7zM1190 570h7v5h-7zM1182 570h4v5h-4zM1366 570h15v5h-15zM1412 570h15v5h-15zM1182 575h8v4h-8zM1306 575h4v4h-4zM1193 575h14v4h-14zM40 575h10v4h-10zM54 575h4v4h-4zM1190 579h7v5h-7zM1306 579h7v5h-7zM1175 579h4v5h-4zM1310 584h7v5h-7zM1158 584h3v5h-3zM68 584h4v5h-4zM1299 584h7v5h-7zM1391 584h4v5h-4zM1133 584h3v5h-3zM1147 584h4v10h-4zM1448 589h10v5h-10zM1296 589h3v5h-3zM1377 589h7v5h-7zM1175 589h4v5h-4zM1465 589h4v5h-4zM1161 589h4v10h-4zM93 594h7v5h-7zM1292 594h4v5h-4zM1448 594h3v5h-3zM1193 594h4v5h-4zM1455 594h10v5h-10zM1282 594h3v9h-3zM1395 599h3v4h-3zM1179 599h3v4h-3zM1204 599h7v4h-7zM1448 599h7v4h-7zM1186 599h4v4h-4zM79 599h3v4h-3zM1458 599h7v4h-7zM1356 599h3v4h-3zM89 599h11v4h-11zM1267 599h4v4h-4zM1402 599h3v9h-3zM93 603h7v5h-7zM1292 603h4v5h-4zM1218 603h3v5h-3zM1458 603h4v5h-4zM1448 603h3v5h-3zM1345 603h11v5h-11zM1257 603h10v5h-10zM75 603h11v5h-11zM1437 603h4v5h-4zM1165 603h3v5h-3zM1366 603h4v10h-4zM1207 603h4v10h-4zM1324 608h14v5h-14zM1388 608h7v5h-7zM1034 608h3v5h-3zM75 608h25v5h-25zM1292 608h7v5h-7zM1377 608h4v5h-4zM1398 608h18v5h-18zM1427 608h3v5h-3zM1278 608h7v10h-7zM37 608h3v10h-3zM1462 608h7v10h-7zM1066 608h3v10h-3zM114 608h4v10h-4zM1335 613h3v5h-3zM1402 613h14v5h-14zM1232 613h4v5h-4zM1030 613h7v5h-7zM1296 613h7v5h-7zM1006 613h3v5h-3zM907 613h7v5h-7zM86 613h14v5h-14zM75 613h4v5h-4zM1313 613h7v5h-7zM1363 613h3v9h-3zM1448 613h3v9h-3zM1030 618h14v4h-14zM1327 618h11v4h-11zM1434 618h10v4h-10zM910 618h11v4h-11zM1345 618h7v4h-7zM89 618h7v4h-7zM1094 618h4v4h-4zM1214 618h4v4h-4zM1193 618h4v4h-4zM1059 618h3v4h-3zM1465 618h4v4h-4zM896 618h7v4h-7zM1271 618h3v9h-3zM1282 618h3v9h-3zM1236 618h3v9h-3zM111 622h3v5h-3zM1228 622h4v5h-4zM1200 622h4v5h-4zM1211 622h7v5h-7zM37 622h3v5h-3zM1250 622h7v5h-7zM1366 622h4v5h-4zM1405 622h7v5h-7zM1041 622h7v5h-7zM885 622h4v5h-4zM921 622h3v10h-3zM1052 622h10v10h-10zM1020 622h3v10h-3zM1469 622h4v10h-4zM1437 622h4v10h-4zM1218 627h3v5h-3zM1299 627h7v5h-7zM1267 627h7v5h-7zM1034 627h10v5h-10zM1370 627h3v5h-3zM1013 627h3v5h-3zM991 627h4v5h-4zM1444 627h21v5h-21zM910 627h4v5h-4zM1002 627h4v5h-4zM1066 627h7v5h-7zM875 627h3v5h-3zM1285 627h4v5h-4zM1243 627h10v5h-10zM1427 627h3v5h-3zM1257 627h3v10h-3zM1225 627h3v10h-3zM1094 627h4v10h-4zM1271 632h7v5h-7zM1232 632h4v5h-4zM914 632h14v5h-14zM1023 632h4v5h-4zM1455 632h7v5h-7zM1441 632h3v5h-3zM1473 632h3v5h-3zM1182 632h4v5h-4zM1172 632h3v5h-3zM903 632h4v5h-4zM1264 632h3v5h-3zM1052 632h17v5h-17zM991 632h22v5h-22zM868 632h10v5h-10zM1037 632h11v5h-11zM1296 632h3v5h-3zM114 632h4v5h-4zM1303 632h3v5h-3zM1395 637h3v5h-3zM1271 637h3v5h-3zM1384 637h7v5h-7zM861 637h7v5h-7zM1451 637h7v5h-7zM1013 637h3v5h-3zM1402 637h25v5h-25zM1282 637h14v5h-14zM991 637h15v5h-15zM878 637h4v5h-4zM892 637h7v5h-7zM1469 637h4v5h-4zM104 637h3v5h-3zM1211 637h3v5h-3zM981 637h3v9h-3zM65 637h3v9h-3zM1076 642h4v4h-4zM1168 642h4v4h-4zM1412 642h4v4h-4zM104 642h7v4h-7zM1395 642h7v4h-7zM1006 642h10v4h-10zM1034 642h3v4h-3zM1066 642h3v4h-3zM118 642h3v4h-3zM79 642h7v4h-7zM878 642h7v4h-7zM1434 642h3v4h-3zM1458 642h11v4h-11zM1214 642h4v4h-4zM853 642h4v4h-4zM988 642h14v4h-14zM1441 642h7v4h-7zM924 637h4v14h-4zM914 637h3v14h-3zM1285 642h7v9h-7zM1278 642h4v9h-4zM850 646h3v5h-3zM111 646h3v5h-3zM1214 646h7v5h-7zM1232 646h4v5h-4zM1098 646h3v5h-3zM1359 646h4v5h-4zM1009 646h7v5h-7zM875 646h17v5h-17zM1225 646h3v5h-3zM998 646h4v5h-4zM1186 646h4v5h-4zM1260 646h7v5h-7zM1204 646h3v5h-3zM1384 646h28v5h-28zM1069 646h4v5h-4zM1193 646h4v5h-4zM1253 646h4v5h-4zM104 646h3v5h-3zM79 646h10v5h-10zM984 651h4v5h-4zM82 651h7v5h-7zM54 651h14v5h-14zM1034 651h3v5h-3zM889 651h3v5h-3zM1013 651h3v5h-3zM878 651h7v5h-7zM903 651h11v5h-11zM1274 651h4v5h-4zM1172 651h3v5h-3zM1448 651h3v5h-3zM868 651h3v5h-3zM1246 651h4v5h-4zM853 651h4v5h-4zM843 651h3v5h-3zM995 651h3v5h-3zM896 651h3v10h-3zM921 651h7v10h-7zM1218 656h3v5h-3zM853 656h11v5h-11zM1444 656h4v5h-4zM1016 656h4v5h-4zM871 656h11v5h-11zM1320 656h4v5h-4zM1090 656h4v5h-4zM1381 656h14v5h-14zM903 656h4v5h-4zM1083 656h4v5h-4zM1059 642h3v23h-3zM1335 656h3v9h-3zM79 656h10v9h-10zM1037 656h4v9h-4zM100 661h7v4h-7zM850 661h7v4h-7zM1232 661h4v4h-4zM839 661h4v4h-4zM1006 661h14v4h-14zM1246 661h7v4h-7zM1080 661h3v4h-3zM50 661h4v4h-4zM928 661h3v4h-3zM825 661h4v4h-4zM1377 661h4v4h-4zM1087 661h3v4h-3zM1416 646h3v24h-3zM1190 661h3v9h-3zM899 661h8v9h-8zM1388 665h7v5h-7zM843 665h7v5h-7zM82 665h7v5h-7zM1048 665h4v5h-4zM1016 665h4v5h-4zM43 665h18v5h-18zM921 665h14v5h-14zM1207 665h4v5h-4zM1377 665h7v5h-7zM1069 665h4v5h-4zM1359 665h4v10h-4zM1246 665h4v10h-4zM1384 670h14v5h-14zM1048 670h7v5h-7zM924 670h7v5h-7zM1405 670h11v5h-11zM1221 670h4v5h-4zM850 670h7v5h-7zM1112 670h7v5h-7zM1228 670h4v5h-4zM1066 670h3v5h-3zM839 670h4v5h-4zM903 670h7v5h-7zM981 670h3v5h-3zM1073 670h3v5h-3zM1080 670h3v5h-3zM861 670h3v5h-3zM43 670h22v5h-22zM1101 670h4v5h-4zM114 665h4v15h-4zM79 670h10v10h-10zM1044 675h4v5h-4zM1140 675h4v5h-4zM1190 675h3v5h-3zM43 675h18v5h-18zM921 675h3v5h-3zM1013 675h3v5h-3zM843 675h18v5h-18zM903 675h11v5h-11zM829 675h7v5h-7zM811 675h4v5h-4zM1059 675h3v5h-3zM1126 675h3v9h-3zM37 675h3v9h-3zM1108 680h4v4h-4zM1066 680h3v4h-3zM72 680h7v4h-7zM1055 680h4v4h-4zM839 680h4v4h-4zM807 680h4v4h-4zM82 680h11v4h-11zM1172 680h3v4h-3zM910 680h4v4h-4zM825 680h4v4h-4zM1182 675h4v14h-4zM846 680h7v9h-7zM54 680h7v9h-7zM832 684h7v5h-7zM1112 684h3v5h-3zM1055 684h7v5h-7zM82 684h7v5h-7zM924 684h4v5h-4zM822 684h3v5h-3zM1016 684h4v5h-4zM68 684h11v5h-11zM1105 684h3v5h-3zM1197 684h3v5h-3zM981 684h3v5h-3zM988 684h3v5h-3zM1041 684h3v5h-3zM1225 684h3v5h-3zM1066 684h7v5h-7zM800 684h4v10h-4zM1179 689h3v5h-3zM1027 689h3v5h-3zM72 689h14v5h-14zM1190 689h3v5h-3zM811 689h7v5h-7zM1094 689h14v5h-14zM829 689h14v5h-14zM1002 689h4v5h-4zM54 689h11v5h-11zM40 689h7v5h-7zM1197 689h7v5h-7zM1211 689h3v5h-3zM1069 689h7v10h-7zM825 694h14v5h-14zM1168 694h4v5h-4zM1108 694h4v5h-4zM82 694h11v5h-11zM1101 694h4v5h-4zM1377 694h7v5h-7zM72 694h3v5h-3zM981 694h3v5h-3zM1151 694h3v5h-3zM1090 694h8v5h-8zM1006 694h3v10h-3zM797 694h3v10h-3zM815 694h3v10h-3zM1175 694h4v10h-4zM1034 694h7v10h-7zM1108 699h7v5h-7zM949 699h4v5h-4zM1359 699h7v5h-7zM89 699h4v5h-4zM1158 699h3v5h-3zM100 699h4v5h-4zM921 699h3v5h-3zM1013 699h3v5h-3zM75 699h4v5h-4zM1310 699h25v5h-25zM1349 699h7v5h-7zM1076 699h11v5h-11zM977 699h4v9h-4zM822 699h10v9h-10zM1317 704h3v4h-3zM1062 704h4v4h-4zM1310 704h3v4h-3zM1175 704h11v4h-11zM793 704h4v4h-4zM1165 704h7v4h-7zM1193 704h4v4h-4zM1115 704h4v4h-4zM93 704h14v4h-14zM1388 699h3v14h-3zM988 704h3v9h-3zM1122 708h4v5h-4zM914 708h3v5h-3zM1066 708h3v5h-3zM811 708h4v5h-4zM829 708h3v5h-3zM1023 708h4v5h-4zM1161 708h4v5h-4zM1303 708h7v5h-7zM1030 708h11v5h-11zM75 708h14v5h-14zM818 708h7v5h-7zM928 708h3v10h-3zM910 713h4v5h-4zM984 713h4v5h-4zM1296 713h7v5h-7zM1384 713h4v5h-4zM1144 713h3v5h-3zM1200 713h4v5h-4zM1165 713h3v5h-3zM807 713h4v5h-4zM822 713h7v5h-7zM949 713h4v10h-4zM1112 718h7v5h-7zM811 718h14v5h-14zM917 718h11v5h-11zM1370 718h7v5h-7zM1182 718h4v5h-4zM942 718h3v5h-3zM967 718h7v5h-7zM1059 718h7v5h-7zM1158 718h3v5h-3zM701 718h7v5h-7zM135 718h18v5h-18zM1285 718h7v5h-7zM1310 718h39v5h-39zM1381 718h3v5h-3zM804 718h3v9h-3zM128 723h4v4h-4zM1108 723h4v4h-4zM815 723h7v4h-7zM58 723h3v4h-3zM68 723h4v4h-4zM1165 723h3v4h-3zM1306 723h4v4h-4zM93 723h3v4h-3zM974 723h7v4h-7zM1278 723h4v4h-4zM998 723h4v4h-4zM1119 723h3v4h-3zM139 723h18v9h-18zM121 727h4v5h-4zM1062 727h4v5h-4zM82 727h11v5h-11zM917 727h7v5h-7zM114 727h4v5h-4zM68 727h7v5h-7zM1299 727h7v5h-7zM1271 727h7v5h-7zM132 727h3v5h-3zM790 718h3v19h-3zM800 727h4v10h-4zM1292 732h7v5h-7zM111 732h3v5h-3zM1112 732h3v5h-3zM747 732h7v5h-7zM765 732h4v5h-4zM1006 732h3v5h-3zM981 732h3v5h-3zM1267 732h4v5h-4zM988 732h3v5h-3zM157 732h14v5h-14zM132 732h21v5h-21zM1020 732h3v5h-3zM935 732h3v5h-3zM995 732h3v5h-3zM75 732h4v10h-4zM1172 732h3v10h-3zM740 737h4v5h-4zM772 737h4v5h-4zM1112 737h7v5h-7zM931 737h4v5h-4zM150 737h3v5h-3zM157 737h3v5h-3zM1285 737h7v5h-7zM786 737h4v5h-4zM800 737h7v5h-7zM1278 737h4v5h-4zM998 737h4v5h-4zM1016 737h4v9h-4zM1165 737h3v9h-3zM114 737h4v9h-4zM1260 742h14v4h-14zM800 742h4v4h-4zM1002 742h7v4h-7zM1243 742h14v4h-14zM146 742h14v4h-14zM733 742h7v4h-7zM1066 742h3v4h-3zM765 742h7v4h-7zM991 742h4v4h-4zM921 742h3v4h-3zM779 742h4v9h-4zM1027 742h3v9h-3zM1179 746h3v5h-3zM1076 746h4v5h-4zM1260 746h4v5h-4zM740 746h4v5h-4zM1140 746h4v5h-4zM924 746h4v5h-4zM37 746h6v5h-6zM1034 746h3v5h-3zM974 746h3v5h-3zM747 746h4v5h-4zM1228 746h15v5h-15zM118 746h3v5h-3zM1246 746h7v5h-7zM1172 746h3v5h-3zM47 746h18v5h-18zM769 746h3v5h-3zM146 746h18v5h-18zM1069 746h4v5h-4zM967 746h3v5h-3zM786 746h4v10h-4zM740 751h7v5h-7zM970 751h4v5h-4zM949 751h4v5h-4zM1250 751h10v5h-10zM1175 751h4v5h-4zM726 751h7v5h-7zM1182 751h4v5h-4zM1225 751h3v5h-3zM1002 751h4v5h-4zM1062 751h4v5h-4zM121 751h18v5h-18zM1101 751h4v5h-4zM995 751h3v5h-3zM1087 751h3v5h-3zM146 751h14v10h-14zM800 756h4v5h-4zM128 756h11v5h-11zM1239 756h7v5h-7zM1221 756h4v5h-4zM772 756h4v5h-4zM1016 756h4v5h-4zM1055 756h4v5h-4zM1147 756h4v5h-4zM921 756h3v5h-3zM1030 756h4v5h-4zM783 756h7v5h-7zM737 756h3v5h-3zM1083 756h4v5h-4zM726 756h4v5h-4zM928 756h3v5h-3zM1144 761h3v5h-3zM1218 761h3v5h-3zM1112 761h3v5h-3zM1236 761h3v5h-3zM903 761h4v5h-4zM139 761h21v5h-21zM723 761h3v5h-3zM935 761h3v5h-3zM174 756h4v14h-4zM786 761h4v9h-4zM1062 761h4v9h-4zM1034 761h3v9h-3zM1122 761h4v9h-4zM1179 766h3v4h-3zM157 766h3v4h-3zM1044 766h4v4h-4zM977 766h4v4h-4zM1101 766h4v4h-4zM907 766h3v4h-3zM776 761h3v14h-3zM1168 766h4v9h-4zM1214 766h4v9h-4zM800 770h4v5h-4zM970 770h4v5h-4zM1016 770h7v5h-7zM928 770h3v5h-3zM160 770h4v5h-4zM1161 770h4v5h-4zM786 770h11v5h-11zM1027 770h3v5h-3zM1228 766h4v14h-4zM733 766h4v14h-4zM726 766h4v14h-4zM1066 775h7v5h-7zM1034 775h3v5h-3zM1126 775h3v5h-3zM779 775h4v5h-4zM790 775h14v5h-14zM907 775h3v5h-3zM164 775h3v5h-3zM167 780h4v5h-4zM786 780h7v5h-7zM1016 780h4v5h-4zM776 780h3v5h-3zM974 780h3v5h-3zM730 780h14v5h-14zM1211 780h3v5h-3zM797 780h7v9h-7zM910 785h4v4h-4zM1225 785h3v4h-3zM1002 785h4v4h-4zM875 785h7v4h-7zM733 785h7v4h-7zM1112 785h3v4h-3zM747 785h7v4h-7zM1101 785h4v4h-4zM1207 785h4v9h-4zM772 785h4v9h-4zM910 789h7v5h-7zM871 789h11v5h-11zM1122 789h4v5h-4zM988 789h3v5h-3zM853 789h8v5h-8zM928 789h3v5h-3zM797 789h10v5h-10zM960 789h7v5h-7zM779 789h7v5h-7zM889 789h3v5h-3zM737 789h3v5h-3zM1221 789h7v5h-7zM935 789h3v5h-3zM754 789h4v5h-4zM938 794h4v5h-4zM1214 794h7v5h-7zM744 794h3v5h-3zM790 794h21v5h-21zM1204 794h3v5h-3zM779 794h4v5h-4zM864 794h11v5h-11zM1027 794h3v5h-3zM882 794h7v5h-7zM539 794h3v10h-3zM563 794h4v10h-4zM556 799h4v5h-4zM942 799h7v5h-7zM1200 799h4v5h-4zM769 799h10v5h-10zM977 799h4v5h-4zM797 799h3v5h-3zM815 799h3v5h-3zM1211 799h3v5h-3zM754 799h4v5h-4zM546 799h3v5h-3zM528 804h28v4h-28zM800 804h7v4h-7zM1030 804h4v4h-4zM885 804h4v4h-4zM953 804h3v4h-3zM868 799h3v14h-3zM1193 804h4v9h-4zM878 808h4v5h-4zM1006 808h3v5h-3zM857 808h4v5h-4zM524 808h8v5h-8zM967 808h3v5h-3zM556 808h14v5h-14zM1207 808h7v5h-7zM804 808h7v5h-7zM935 808h18v5h-18zM818 808h7v5h-7zM1002 813h4v5h-4zM924 813h7v5h-7zM896 813h3v5h-3zM988 813h3v5h-3zM655 813h7v5h-7zM825 813h7v5h-7zM871 813h4v5h-4zM977 813h4v5h-4zM645 813h3v5h-3zM556 813h11v5h-11zM807 813h4v5h-4zM1197 813h3v5h-3zM818 813h4v5h-4zM542 813h7v5h-7zM811 818h14v5h-14zM645 818h10v5h-10zM829 818h3v5h-3zM991 818h4v5h-4zM981 818h3v5h-3zM815 823h14v5h-14zM924 823h4v5h-4zM846 823h18v5h-18zM648 823h11v5h-11zM602 823h4v5h-4zM928 828h10v4h-10zM1002 828h4v4h-4zM836 828h3v4h-3zM627 828h35v4h-35zM1020 828h3v4h-3zM917 828h4v4h-4zM907 828h3v4h-3zM956 823h4v14h-4zM616 832h4v5h-4zM864 832h4v5h-4zM998 832h4v5h-4zM991 832h4v5h-4zM652 832h7v5h-7zM627 832h21v5h-21zM910 837h4v5h-4zM800 837h4v5h-4zM825 837h4v5h-4zM843 837h10v5h-10zM921 837h3v5h-3zM846 842h4v5h-4zM648 842h25v5h-25zM1002 842h4v5h-4zM822 842h3v5h-3zM677 842h7v5h-7zM599 842h7v5h-7zM917 842h7v5h-7zM853 842h4v5h-4zM815 842h3v9h-3zM917 847h4v4h-4zM839 847h7v4h-7zM899 847h4v4h-4zM967 847h3v4h-3zM1013 847h3v4h-3zM670 847h10v4h-10zM942 847h7v9h-7zM698 847h3v9h-3zM652 847h7v9h-7zM716 851h3v5h-3zM896 851h3v5h-3zM1009 851h4v5h-4zM761 851h4v5h-4zM677 851h3v5h-3zM751 851h3v5h-3zM783 851h3v5h-3zM907 851h3v5h-3zM938 856h4v5h-4zM850 856h3v5h-3zM836 856h3v5h-3zM719 856h4v5h-4zM673 856h4v5h-4zM917 856h4v5h-4zM652 856h14v5h-14zM1023 856h4v5h-4zM807 856h4v5h-4zM945 856h4v5h-4zM998 856h4v10h-4zM716 861h3v5h-3zM942 861h7v5h-7zM832 861h4v5h-4zM914 861h3v5h-3zM974 861h3v5h-3zM839 861h4v5h-4zM524 861h4v5h-4zM655 861h11v5h-11zM776 861h3v5h-3zM853 861h4v5h-4zM935 861h3v5h-3zM517 861h4v10h-4zM991 866h7v5h-7zM829 866h3v5h-3zM921 866h3v5h-3zM705 866h3v5h-3zM655 866h18v5h-18zM716 866h7v5h-7zM1002 866h7v5h-7zM903 866h4v5h-4zM546 866h7v5h-7zM797 866h3v5h-3zM510 866h4v5h-4zM1151 866h3v5h-3zM726 861h4v14h-4zM761 871h8v4h-8zM510 871h7v4h-7zM705 871h7v4h-7zM910 871h4v4h-4zM662 871h8v4h-8zM553 871h3v4h-3zM1126 871h7v9h-7zM942 875h3v5h-3zM549 875h4v5h-4zM723 875h3v5h-3zM496 875h4v5h-4zM556 875h4v5h-4zM832 875h4v5h-4zM914 875h3v5h-3zM839 875h4v5h-4zM783 875h3v5h-3zM981 875h3v5h-3zM662 875h4v5h-4zM698 875h7v5h-7zM712 875h4v5h-4zM790 875h3v5h-3zM517 875h4v5h-4zM1136 875h18v5h-18zM935 875h3v5h-3zM970 880h4v5h-4zM489 880h4v5h-4zM747 880h7v5h-7zM938 880h7v5h-7zM783 880h10v5h-10zM1119 880h7v5h-7zM889 880h3v5h-3zM716 880h7v5h-7zM1165 880h3v5h-3zM960 880h3v5h-3zM836 880h3v5h-3zM733 880h4v5h-4zM917 880h4v5h-4zM701 880h4v5h-4zM981 880h7v5h-7zM556 880h7v10h-7zM811 880h4v10h-4zM1133 880h3v10h-3zM1168 885h4v5h-4zM967 885h7v5h-7zM857 885h4v5h-4zM740 885h4v5h-4zM772 885h4v5h-4zM1098 885h3v5h-3zM1115 885h4v5h-4zM938 885h4v5h-4zM1154 885h7v5h-7zM701 885h7v5h-7zM510 885h4v5h-4zM694 885h4v5h-4zM825 885h4v5h-4zM1122 885h7v9h-7zM970 890h4v4h-4zM553 890h7v4h-7zM539 890h3v4h-3zM514 890h3v4h-3zM903 890h4v4h-4zM977 890h7v4h-7zM1094 890h4v4h-4zM744 890h3v4h-3zM1154 890h4v4h-4zM1133 890h14v4h-14zM928 890h3v4h-3zM595 890h4v9h-4zM1133 894h11v5h-11zM139 894h3v5h-3zM1151 894h7v5h-7zM1119 894h10v5h-10zM924 894h4v5h-4zM914 894h3v5h-3zM807 894h4v5h-4zM889 894h3v5h-3zM606 894h7v5h-7zM974 894h14v5h-14zM500 894h3v5h-3zM1002 894h4v5h-4zM517 894h4v5h-4zM846 880h4v24h-4zM1172 890h3v14h-3zM539 899h3v5h-3zM723 899h3v5h-3zM606 899h3v5h-3zM1122 899h25v5h-25zM503 899h4v5h-4zM861 899h3v5h-3zM142 899h4v5h-4zM1154 899h4v5h-4zM553 899h3v5h-3zM928 899h7v10h-7zM524 899h4v10h-4zM878 899h4v10h-4zM532 904h3v5h-3zM765 904h4v5h-4zM549 904h4v5h-4zM938 904h7v5h-7zM1034 904h3v5h-3zM1126 904h25v5h-25zM125 904h3v5h-3zM1101 904h7v5h-7zM797 904h3v5h-3zM542 904h4v5h-4zM917 904h4v5h-4zM1112 904h3v9h-3zM910 904h4v9h-4zM570 904h4v9h-4zM1133 909h11v4h-11zM139 909h3v4h-3zM938 909h4v4h-4zM1030 909h4v4h-4zM988 909h3v4h-3zM493 909h3v4h-3zM602 909h4v4h-4zM776 909h3v4h-3zM609 909h4v4h-4zM995 909h3v4h-3zM121 909h4v9h-4zM850 909h3v9h-3zM984 913h4v5h-4zM924 913h4v5h-4zM822 913h3v5h-3zM1034 913h3v5h-3zM829 913h3v5h-3zM1115 913h4v5h-4zM1175 913h4v5h-4zM542 913h7v5h-7zM135 913h4v5h-4zM935 913h3v5h-3zM468 918h3v5h-3zM624 918h3v5h-3zM931 918h7v5h-7zM1136 918h15v5h-15zM1165 918h10v5h-10zM528 918h4v5h-4zM595 918h4v5h-4zM450 918h11v5h-11zM825 918h4v5h-4zM549 918h7v5h-7zM853 918h4v5h-4zM482 918h4v5h-4zM995 918h3v5h-3zM914 918h3v10h-3zM118 918h3v10h-3zM588 923h4v5h-4zM464 923h4v5h-4zM471 923h11v5h-11zM563 923h4v5h-4zM839 923h4v5h-4zM1126 923h25v5h-25zM135 923h4v5h-4zM82 923h11v5h-11zM602 923h11v5h-11zM1161 923h11v5h-11zM935 923h3v5h-3zM843 928h7v5h-7zM82 928h7v5h-7zM599 928h3v5h-3zM1140 928h11v5h-11zM1122 928h14v5h-14zM1115 928h4v5h-4zM981 928h3v5h-3zM620 928h4v5h-4zM1013 928h7v5h-7zM1161 928h7v5h-7zM917 928h4v5h-4zM574 928h4v5h-4zM613 928h3v9h-3zM1144 933h7v4h-7zM1016 933h7v4h-7zM850 933h3v4h-3zM1119 933h17v4h-17zM956 933h4v4h-4zM563 933h4v4h-4zM1030 933h4v4h-4zM422 933h7v4h-7zM928 933h3v4h-3zM114 933h4v4h-4zM588 933h7v4h-7zM93 928h3v14h-3zM1179 933h3v9h-3zM75 933h4v9h-4zM111 937h3v5h-3zM1027 937h3v5h-3zM606 937h10v5h-10zM546 937h3v5h-3zM1122 937h14v5h-14zM1034 937h3v5h-3zM963 937h4v5h-4zM921 937h3v5h-3zM988 937h3v5h-3zM811 937h4v5h-4zM903 937h4v5h-4zM1168 937h7v5h-7zM517 937h4v5h-4zM560 937h3v10h-3zM549 942h4v5h-4zM924 942h4v5h-4zM432 942h4v5h-4zM107 942h4v5h-4zM1122 942h4v5h-4zM125 942h3v5h-3zM1172 942h3v5h-3zM1020 942h3v5h-3zM1129 942h11v5h-11zM121 947h4v5h-4zM447 947h10v5h-10zM1126 947h3v5h-3zM1133 947h11v5h-11zM464 947h4v5h-4zM471 947h4v5h-4zM963 947h4v5h-4zM429 947h3v5h-3zM921 947h3v5h-3zM1013 947h3v5h-3zM846 947h4v5h-4zM585 947h3v5h-3zM609 947h4v5h-4zM104 947h3v5h-3zM935 947h3v5h-3zM907 947h3v9h-3zM1182 947h4v9h-4zM574 947h4v9h-4zM1136 952h4v4h-4zM100 952h7v4h-7zM599 952h3v4h-3zM528 952h7v4h-7zM974 952h3v4h-3zM443 952h7v4h-7zM931 952h4v4h-4zM1023 952h4v4h-4zM436 952h4v4h-4zM914 952h7v4h-7zM118 952h7v4h-7zM411 952h4v4h-4zM1129 952h4v4h-4zM1126 956h10v5h-10zM425 956h11v5h-11zM440 956h3v5h-3zM977 956h4v5h-4zM507 956h3v5h-3zM496 956h4v5h-4zM100 956h4v5h-4zM118 956h3v5h-3zM450 956h4v5h-4zM928 956h10v5h-10zM868 956h3v5h-3zM878 956h4v5h-4zM1020 956h3v5h-3zM917 956h4v5h-4zM793 956h4v5h-4zM482 956h4v5h-4zM1136 961h4v5h-4zM1151 961h7v5h-7zM475 961h7v5h-7zM96 961h4v5h-4zM1023 961h4v5h-4zM921 961h21v5h-21zM602 961h7v5h-7zM1126 961h7v5h-7zM613 961h7v5h-7zM655 961h4v5h-4zM432 961h8v5h-8zM645 961h3v5h-3zM991 961h4v5h-4zM1002 961h4v5h-4zM114 961h4v5h-4zM588 961h7v5h-7zM1165 961h3v10h-3zM924 966h7v5h-7zM111 966h3v5h-3zM765 966h4v5h-4zM1136 966h8v5h-8zM730 966h3v5h-3zM1147 966h11v5h-11zM411 966h7v5h-7zM662 966h4v5h-4zM486 966h3v5h-3zM383 966h4v5h-4zM995 966h11v5h-11zM93 966h3v5h-3zM627 966h4v5h-4zM585 966h3v5h-3zM461 966h3v5h-3zM797 966h3v5h-3zM737 966h3v5h-3zM786 966h4v5h-4zM641 966h7v5h-7zM1179 966h3v9h-3zM935 966h7v9h-7zM1016 966h4v9h-4zM570 966h4v9h-4zM457 971h4v4h-4zM104 971h7v4h-7zM641 971h4v4h-4zM730 971h10v4h-10zM652 971h7v4h-7zM422 971h3v4h-3zM924 971h4v4h-4zM1108 971h4v4h-4zM1147 971h4v4h-4zM1023 971h4v4h-4zM432 971h4v4h-4zM578 971h3v4h-3zM1154 971h7v4h-7zM86 971h7v4h-7zM450 971h4v4h-4zM1129 971h11v4h-11zM751 971h3v4h-3zM998 971h8v4h-8zM1168 971h4v9h-4zM616 971h4v9h-4zM687 971h4v9h-4zM1108 975h11v5h-11zM379 975h4v5h-4zM1175 975h4v5h-4zM938 975h4v5h-4zM921 975h7v5h-7zM1154 975h11v5h-11zM1002 975h4v5h-4zM390 975h18v5h-18zM581 975h7v5h-7zM104 975h3v5h-3zM931 975h4v10h-4zM560 980h3v5h-3zM295 980h3v5h-3zM404 980h4v5h-4zM730 980h3v5h-3zM875 980h7v5h-7zM1006 980h3v5h-3zM613 980h3v5h-3zM783 980h3v5h-3zM436 980h4v5h-4zM1158 980h21v5h-21zM82 980h4v5h-4zM461 980h3v5h-3zM358 980h4v5h-4zM574 980h7v5h-7zM793 980h11v5h-11zM1136 975h4v15h-4zM1112 980h3v10h-3zM1023 980h4v10h-4zM1030 980h4v10h-4zM917 980h11v10h-11zM631 985h3v5h-3zM1232 985h11v5h-11zM387 985h7v5h-7zM379 985h4v5h-4zM779 985h4v5h-4zM454 985h7v5h-7zM1175 985h4v5h-4zM578 985h3v5h-3zM401 985h3v5h-3zM277 985h3v5h-3zM797 985h3v5h-3zM882 985h7v5h-7zM652 985h3v5h-3zM1246 985h4v5h-4zM1161 985h11v5h-11zM871 985h7v5h-7zM567 985h3v5h-3zM284 985h7v5h-7zM935 985h3v5h-3zM995 985h3v5h-3zM100 980h4v15h-4zM680 985h4v10h-4zM924 990h7v5h-7zM291 990h7v5h-7zM1108 990h7v5h-7zM549 990h4v5h-4zM935 990h7v5h-7zM1151 990h7v5h-7zM429 990h3v5h-3zM624 990h7v5h-7zM670 990h3v5h-3zM1161 990h14v5h-14zM811 990h4v5h-4zM634 990h4v5h-4zM570 990h4v5h-4zM1002 990h4v5h-4zM868 990h3v5h-3zM917 990h4v5h-4zM885 990h4v5h-4zM411 990h4v9h-4zM687 995h14v4h-14zM892 995h4v4h-4zM100 995h14v4h-14zM280 995h11v4h-11zM447 995h3v4h-3zM991 995h7v4h-7zM864 995h4v4h-4zM648 995h4v4h-4zM394 995h3v4h-3zM878 995h4v4h-4zM673 995h7v4h-7zM935 995h10v4h-10zM1151 995h21v4h-21zM464 995h7v4h-7zM86 990h3v14h-3zM655 995h4v9h-4zM348 999h3v5h-3zM468 999h3v5h-3zM539 999h10v5h-10zM365 999h4v5h-4zM280 999h4v5h-4zM638 999h3v5h-3zM938 999h7v5h-7zM411 999h7v5h-7zM687 999h4v5h-4zM1158 999h3v5h-3zM1250 999h3v5h-3zM1023 999h4v5h-4zM1013 999h3v5h-3zM118 999h3v5h-3zM896 999h3v5h-3zM96 999h8v5h-8zM1165 999h7v5h-7zM991 999h4v5h-4zM1144 999h10v5h-10zM567 999h3v5h-3zM153 999h11v5h-11zM1059 999h3v5h-3zM772 990h4v19h-4zM1232 990h4v19h-4zM1112 995h3v14h-3zM645 999h3v10h-3zM273 1004h4v5h-4zM1147 1004h14v5h-14zM631 1004h3v5h-3zM404 1004h4v5h-4zM560 1004h7v5h-7zM1016 1004h4v5h-4zM921 1004h3v5h-3zM1073 1004h3v5h-3zM1165 1004h3v5h-3zM1080 1004h3v5h-3zM517 1004h7v5h-7zM86 1004h7v5h-7zM146 1004h4v5h-4zM358 1004h4v5h-4zM411 1004h4v5h-4zM128 1004h7v5h-7zM164 1004h3v5h-3zM935 1004h3v5h-3zM680 1004h7v5h-7zM96 1004h11v10h-11zM790 1004h3v10h-3zM585 1004h3v10h-3zM861 1004h3v10h-3zM875 1004h3v10h-3zM468 1009h3v5h-3zM139 1009h3v5h-3zM599 1009h3v5h-3zM270 1009h3v5h-3zM1066 1009h10v5h-10zM807 1009h4v5h-4zM432 1009h4v5h-4zM486 1009h3v5h-3zM167 1009h4v5h-4zM1122 1009h4v5h-4zM631 1009h7v5h-7zM1083 1009h4v5h-4zM369 1009h7v5h-7zM1151 1009h3v5h-3zM708 1009h4v5h-4zM995 1009h3v9h-3zM213 1014h4v4h-4zM1129 1014h15v4h-15zM263 1014h3v4h-3zM631 1014h3v4h-3zM691 1014h3v4h-3zM772 1014h4v4h-4zM638 1014h3v4h-3zM521 1014h3v4h-3zM613 1014h3v4h-3zM889 1014h3v4h-3zM783 1014h3v4h-3zM981 1014h3v4h-3zM394 1014h3v4h-3zM351 1014h4v4h-4zM811 1014h4v4h-4zM369 1014h3v4h-3zM899 1014h4v4h-4zM358 1014h4v4h-4zM224 1014h3v4h-3zM40 1014h3v4h-3zM602 1014h4v4h-4zM153 1014h7v4h-7zM652 1014h3v4h-3zM659 1014h3v4h-3zM588 1014h7v4h-7zM111 1014h10v4h-10zM988 1014h3v9h-3zM121 1018h4v5h-4zM758 1018h3v5h-3zM365 1018h4v5h-4zM447 1018h3v5h-3zM256 1018h7v5h-7zM160 1018h7v5h-7zM82 1018h7v5h-7zM372 1018h4v5h-4zM464 1018h4v5h-4zM514 1018h3v5h-3zM379 1018h4v5h-4zM72 1018h7v5h-7zM54 1018h7v5h-7zM896 1018h3v5h-3zM995 1018h11v5h-11zM861 1018h3v5h-3zM206 1018h7v5h-7zM634 1018h4v5h-4zM910 1018h4v5h-4zM217 1018h7v5h-7zM567 1018h3v5h-3zM662 1018h8v5h-8zM853 1018h4v5h-4zM390 1018h4v5h-4zM471 1018h4v10h-4zM648 1018h4v10h-4zM726 1018h4v10h-4zM988 1023h7v5h-7zM631 1023h3v5h-3zM857 1023h4v5h-4zM404 1023h4v5h-4zM588 1023h4v5h-4zM546 1023h3v5h-3zM638 1023h3v5h-3zM606 1023h3v5h-3zM1016 1023h4v5h-4zM252 1023h4v5h-4zM981 1023h3v5h-3zM524 1023h4v5h-4zM199 1023h4v5h-4zM903 1023h11v5h-11zM503 1023h4v5h-4zM369 1023h3v5h-3zM139 1023h11v5h-11zM666 1023h7v5h-7zM694 1023h4v5h-4zM998 1023h4v5h-4zM72 1023h10v5h-10zM659 1023h3v5h-3zM553 1023h3v5h-3zM875 1023h3v5h-3zM104 1023h3v5h-3zM164 1023h3v5h-3zM935 1023h3v5h-3zM185 1028h7v5h-7zM977 1028h4v5h-4zM220 1028h4v5h-4zM464 1028h4v5h-4zM924 1028h4v5h-4zM89 1028h4v5h-4zM475 1028h7v5h-7zM1006 1028h3v5h-3zM751 1028h7v5h-7zM231 1028h3v5h-3zM846 1028h4v5h-4zM167 1028h4v5h-4zM670 1028h3v5h-3zM988 1028h3v5h-3zM195 1028h8v5h-8zM652 1028h3v5h-3zM411 1028h4v5h-4zM549 1028h7v5h-7zM853 1028h4v5h-4zM967 1028h3v5h-3zM945 1028h4v5h-4zM539 1028h3v9h-3zM104 1028h7v9h-7zM443 1028h4v9h-4zM868 1028h3v9h-3zM772 1033h7v4h-7zM475 1033h3v4h-3zM857 1033h4v4h-4zM178 1033h3v4h-3zM914 1033h3v4h-3zM454 1033h14v4h-14zM963 1033h4v4h-4zM188 1033h29v4h-29zM1250 1033h3v4h-3zM740 1033h11v4h-11zM783 1033h3v4h-3zM379 1033h8v4h-8zM1030 1033h4v4h-4zM40 1033h10v4h-10zM585 1033h3v4h-3zM797 1033h3v4h-3zM726 1033h4v4h-4zM694 1033h4v4h-4zM1002 1033h4v4h-4zM684 1033h3v4h-3zM1214 1033h22v4h-22zM79 1033h17v4h-17zM418 1033h4v4h-4zM61 1037h4v5h-4zM758 1037h3v5h-3zM111 1037h3v5h-3zM907 1037h10v5h-10zM723 1037h3v5h-3zM708 1037h8v5h-8zM37 1037h13v5h-13zM740 1037h4v5h-4zM362 1037h3v5h-3zM846 1037h7v5h-7zM1016 1037h4v5h-4zM1006 1037h3v5h-3zM535 1037h7v5h-7zM747 1037h4v5h-4zM871 1037h4v5h-4zM418 1037h7v5h-7zM432 1037h4v5h-4zM79 1037h7v5h-7zM524 1037h4v5h-4zM804 1037h3v5h-3zM790 1037h3v5h-3zM93 1037h3v5h-3zM899 1037h4v5h-4zM991 1037h4v5h-4zM478 1037h4v5h-4zM1225 1037h7v5h-7zM408 1037h3v10h-3zM1239 1042h14v5h-14zM737 1042h7v5h-7zM779 1042h7v5h-7zM857 1042h4v5h-4zM556 1042h4v5h-4zM37 1042h6v5h-6zM807 1042h4v5h-4zM889 1042h3v5h-3zM528 1042h4v5h-4zM1228 1042h8v5h-8zM595 1042h4v5h-4zM114 1042h7v5h-7zM899 1042h15v5h-15zM425 1042h4v5h-4zM751 1042h3v5h-3zM882 1042h3v10h-3zM486 1042h3v10h-3zM701 1042h4v10h-4zM121 1047h4v5h-4zM1023 1047h7v5h-7zM730 1047h3v5h-3zM1034 1047h3v5h-3zM779 1047h4v5h-4zM96 1047h4v5h-4zM37 1047h10v5h-10zM1009 1047h7v5h-7zM50 1047h4v5h-4zM82 1047h4v5h-4zM1225 1047h28v5h-28zM478 1047h4v5h-4zM493 1047h7v5h-7zM592 1047h14v5h-14zM418 1047h4v5h-4zM747 1047h4v10h-4zM861 1052h7v5h-7zM779 1052h7v5h-7zM641 1052h4v5h-4zM496 1052h4v5h-4zM1221 1052h22v5h-22zM1006 1052h10v5h-10zM719 1052h7v5h-7zM82 1052h25v5h-25zM677 1052h3v5h-3zM800 1052h7v5h-7zM37 1052h21v5h-21zM885 1052h4v5h-4zM390 1052h4v5h-4zM896 1052h7v5h-7zM556 1052h4v9h-4zM1030 1052h7v9h-7zM121 1052h14v9h-14zM256 1057h7v4h-7zM723 1057h3v4h-3zM468 1057h7v4h-7zM599 1057h3v4h-3zM680 1057h4v4h-4zM772 1057h4v4h-4zM779 1057h4v4h-4zM1055 1057h4v4h-4zM75 1057h36v4h-36zM807 1057h4v4h-4zM37 1057h3v4h-3zM896 1057h3v4h-3zM503 1057h4v4h-4zM1009 1057h7v4h-7zM266 1057h4v4h-4zM43 1057h29v4h-29zM998 1057h4v4h-4zM440 1061h3v5h-3zM252 1061h21v5h-21zM549 1061h4v5h-4zM719 1061h7v5h-7zM50 1061h64v5h-64zM1030 1061h4v5h-4zM118 1061h14v5h-14zM613 1061h7v5h-7zM818 1061h4v5h-4zM684 1061h3v5h-3zM776 1061h3v5h-3zM1009 1061h4v5h-4zM793 1061h4v5h-4zM659 1061h3v5h-3zM394 1061h3v10h-3zM425 1061h4v10h-4zM666 1061h4v10h-4zM440 1066h7v5h-7zM1030 1066h7v5h-7zM135 1066h7v5h-7zM118 1066h10v5h-10zM432 1066h4v5h-4zM65 1066h49v5h-49zM50 1066h11v5h-11zM535 1066h4v5h-4zM797 1066h3v5h-3zM776 1066h10v5h-10zM256 1066h17v5h-17zM609 1066h4v5h-4zM1013 1066h3v10h-3zM75 1071h7v5h-7zM259 1071h14v5h-14zM86 1071h42v5h-42zM698 1071h3v5h-3zM510 1071h4v5h-4zM132 1071h3v5h-3zM478 1071h4v5h-4zM652 1071h3v5h-3zM776 1071h3v5h-3zM139 1071h3v9h-3zM61 1071h11v9h-11zM263 1076h3v4h-3zM765 1076h4v4h-4zM638 1076h3v4h-3zM779 1076h4v4h-4zM1013 1076h10v4h-10zM432 1076h4v4h-4zM75 1076h4v4h-4zM461 1076h3v4h-3zM602 1076h4v4h-4zM694 1076h4v4h-4zM786 1076h4v4h-4zM89 1076h7v4h-7zM104 1076h28v4h-28zM875 1076h3v4h-3zM631 1080h3v5h-3zM68 1080h18v5h-18zM100 1080h4v5h-4zM871 1080h4v5h-4zM1002 1080h25v5h-25zM500 1080h3v5h-3zM132 1080h14v5h-14zM111 1080h17v5h-17zM47 1076h7v14h-7zM1016 1085h7v5h-7zM627 1085h7v5h-7zM125 1085h3v5h-3zM595 1085h4v5h-4zM82 1085h4v5h-4zM114 1085h7v5h-7zM142 1085h4v5h-4zM998 1085h4v5h-4zM659 1085h3v5h-3zM68 1085h7v5h-7zM132 1085h3v10h-3zM93 1085h14v10h-14zM581 1090h4v5h-4zM82 1090h7v5h-7zM556 1090h4v5h-4zM514 1090h3v5h-3zM687 1090h4v5h-4zM878 1090h7v5h-7zM114 1090h14v5h-14zM627 1090h4v5h-4zM478 1090h4v5h-4zM652 1090h3v5h-3zM1030 1085h4v15h-4zM970 1090h4v10h-4zM1013 1090h3v10h-3zM620 1095h4v5h-4zM868 1095h3v5h-3zM118 1095h17v5h-17zM96 1095h8v5h-8zM82 1095h11v5h-11zM503 1095h4v5h-4zM68 1095h11v5h-11zM475 1095h3v5h-3zM553 1095h3v5h-3zM666 1095h4v5h-4zM1027 1100h3v4h-3zM616 1100h4v4h-4zM72 1100h7v4h-7zM118 1100h3v4h-3zM96 1100h15v4h-15zM970 1100h7v4h-7zM135 1100h4v4h-4zM500 1100h3v4h-3zM875 1100h3v4h-3zM984 1100h4v9h-4zM507 1100h3v9h-3zM592 1100h3v9h-3zM691 1104h3v5h-3zM96 1104h18v5h-18zM139 1104h7v5h-7zM606 1104h3v5h-3zM871 1104h4v5h-4zM521 1104h3v5h-3zM1023 1104h4v5h-4zM783 1104h7v5h-7zM818 1104h4v5h-4zM369 1104h7v5h-7zM857 1104h7v5h-7zM659 1104h3v5h-3zM128 1104h7v5h-7zM967 1104h7v10h-7zM107 1109h21v5h-21zM588 1109h4v5h-4zM362 1109h3v5h-3zM135 1109h7v5h-7zM655 1109h4v5h-4zM677 1109h3v5h-3zM510 1109h4v5h-4zM376 1109h3v5h-3zM836 1104h3v15h-3zM37 1109h6v10h-6zM351 1109h4v10h-4zM977 1114h18v5h-18zM850 1114h3v5h-3zM857 1114h4v5h-4zM362 1114h7v5h-7zM705 1114h3v5h-3zM524 1114h4v5h-4zM666 1114h4v5h-4zM107 1114h4v9h-4zM121 1114h11v9h-11zM397 1119h4v4h-4zM737 1119h7v4h-7zM730 1119h3v4h-3zM822 1119h3v4h-3zM698 1119h3v4h-3zM662 1119h4v4h-4zM323 1119h14v4h-14zM528 1119h4v4h-4zM383 1119h4v4h-4zM645 1119h3v4h-3zM486 1119h7v4h-7zM634 1119h4v4h-4zM341 1119h7v4h-7zM853 1119h4v4h-4zM500 1119h7v4h-7zM390 1119h4v4h-4zM135 1119h4v9h-4zM40 1119h3v9h-3zM532 1123h3v5h-3zM415 1123h3v5h-3zM404 1123h4v5h-4zM372 1123h4v5h-4zM546 1123h3v5h-3zM330 1123h3v5h-3zM818 1123h7v5h-7zM521 1123h7v5h-7zM627 1123h4v5h-4zM142 1123h4v5h-4zM125 1123h7v5h-7zM836 1123h3v5h-3zM323 1123h3v10h-3zM387 1128h3v5h-3zM139 1128h3v5h-3zM761 1128h4v5h-4zM691 1128h3v5h-3zM829 1128h3v5h-3zM397 1128h7v5h-7zM493 1128h3v5h-3zM510 1128h4v5h-4zM701 1128h4v5h-4zM853 1128h4v5h-4zM666 1128h4v5h-4zM341 1123h3v15h-3zM815 1128h3v10h-3zM79 1133h3v5h-3zM507 1133h3v5h-3zM372 1133h4v5h-4zM850 1133h7v5h-7zM772 1133h4v5h-4zM662 1133h4v5h-4zM790 1133h10v5h-10zM754 1133h4v5h-4zM627 1133h4v5h-4zM142 1133h4v5h-4zM404 1133h7v5h-7zM673 1133h4v9h-4zM800 1138h4v4h-4zM475 1138h3v4h-3zM723 1138h3v4h-3zM86 1138h3v4h-3zM362 1138h3v4h-3zM620 1138h7v4h-7zM638 1138h3v4h-3zM510 1138h7v4h-7zM383 1138h4v4h-4zM408 1138h3v4h-3zM793 1138h4v4h-4zM843 1138h3v4h-3zM72 1138h7v9h-7zM369 1138h3v9h-3zM776 1138h3v9h-3zM86 1142h10v5h-10zM507 1142h3v5h-3zM815 1142h3v5h-3zM822 1142h3v5h-3zM606 1142h3v5h-3zM761 1142h8v5h-8zM670 1142h3v5h-3zM585 1142h3v5h-3zM634 1142h4v5h-4zM744 1142h3v5h-3zM716 1142h10v5h-10zM387 1142h3v10h-3zM804 1142h3v10h-3zM341 1142h3v10h-3zM142 1142h4v10h-4zM751 1142h3v10h-3zM723 1147h3v5h-3zM758 1147h7v5h-7zM514 1147h3v5h-3zM698 1147h3v5h-3zM783 1147h10v5h-10zM291 1147h18v5h-18zM93 1147h3v5h-3zM326 1147h4v5h-4zM408 1147h3v5h-3zM818 1147h4v5h-4zM72 1147h3v5h-3zM662 1142h4v15h-4zM337 1152h4v5h-4zM104 1152h7v5h-7zM765 1152h4v5h-4zM507 1152h3v5h-3zM815 1152h3v5h-3zM387 1152h7v5h-7zM747 1152h4v5h-4zM595 1152h7v5h-7zM298 1152h14v5h-14zM786 1152h4v5h-4zM776 1152h3v5h-3zM411 1152h4v5h-4zM708 1152h4v5h-4zM606 1152h3v10h-3zM68 1152h7v10h-7zM100 1157h7v5h-7zM379 1157h8v5h-8zM712 1157h4v5h-4zM493 1157h3v5h-3zM330 1157h7v5h-7zM291 1152h4v14h-4zM305 1157h4v9h-4zM422 1157h3v9h-3zM500 1157h3v9h-3zM471 1162h4v4h-4zM231 1162h14v4h-14zM58 1162h14v4h-14zM595 1162h11v4h-11zM37 1162h3v4h-3zM585 1162h3v4h-3zM645 1162h3v4h-3zM224 1162h3v4h-3zM694 1162h4v4h-4zM567 1162h3v4h-3zM666 1162h4v4h-4zM104 1162h3v9h-3zM489 1166h4v5h-4zM220 1166h4v5h-4zM638 1166h10v5h-10zM333 1166h8v5h-8zM514 1166h3v5h-3zM252 1166h4v5h-4zM662 1166h4v5h-4zM238 1166h3v5h-3zM135 1166h11v5h-11zM535 1166h4v5h-4zM266 1166h4v5h-4zM737 1166h3v5h-3zM40 1166h3v5h-3zM206 1166h4v5h-4zM482 1166h4v5h-4zM61 1166h11v5h-11zM588 1166h7v5h-7zM153 1166h7v10h-7zM751 1166h3v10h-3zM758 1171h3v5h-3zM224 1171h14v5h-14zM263 1171h3v5h-3zM104 1171h7v5h-7zM47 1171h21v5h-21zM128 1171h4v5h-4zM507 1171h3v5h-3zM740 1171h4v5h-4zM556 1171h4v5h-4zM203 1171h7v5h-7zM139 1171h7v5h-7zM319 1171h7v5h-7zM563 1171h4v5h-4zM96 1171h4v5h-4zM578 1171h3v5h-3zM330 1171h14v5h-14zM461 1171h3v5h-3zM245 1171h7v5h-7zM411 1171h4v5h-4zM592 1171h7v5h-7zM397 1176h4v5h-4zM627 1176h7v5h-7zM89 1176h18v5h-18zM761 1176h4v5h-4zM203 1176h14v5h-14zM379 1176h4v5h-4zM167 1176h11v5h-11zM754 1176h4v5h-4zM61 1176h7v5h-7zM224 1176h17v5h-17zM266 1176h11v5h-11zM319 1176h4v5h-4zM185 1176h3v5h-3zM118 1176h7v5h-7zM737 1176h3v5h-3zM40 1176h3v5h-3zM726 1176h4v5h-4zM478 1176h4v5h-4zM592 1176h3v5h-3zM132 1176h14v5h-14zM581 1176h7v5h-7zM758 1181h3v4h-3zM270 1181h10v4h-10zM468 1181h7v4h-7zM160 1181h11v4h-11zM89 1181h15v4h-15zM401 1181h3v4h-3zM174 1181h4v4h-4zM585 1181h3v4h-3zM524 1181h8v4h-8zM185 1181h60v4h-60zM128 1181h25v4h-25zM800 1181h11v4h-11zM47 1181h3v9h-3zM822 1181h3v9h-3zM408 1181h3v9h-3zM397 1185h4v5h-4zM160 1185h7v5h-7zM588 1185h4v5h-4zM270 1185h3v5h-3zM227 1185h25v5h-25zM171 1185h32v5h-32zM524 1185h4v5h-4zM383 1185h4v5h-4zM277 1185h3v5h-3zM790 1185h7v5h-7zM142 1185h15v5h-15zM121 1185h7v5h-7zM100 1185h4v10h-4zM206 1185h14v10h-14zM383 1190h7v5h-7zM270 1190h10v5h-10zM546 1190h3v5h-3zM436 1190h4v5h-4zM648 1190h4v5h-4zM578 1190h3v5h-3zM231 1190h7v5h-7zM790 1190h3v5h-3zM249 1190h3v5h-3zM443 1190h4v5h-4zM118 1190h7v5h-7zM570 1190h4v5h-4zM153 1190h4v5h-4zM160 1190h28v5h-28zM482 1190h4v5h-4zM61 1181h4v19h-4zM737 1190h3v10h-3zM40 1190h3v10h-3zM273 1195h4v5h-4zM263 1195h3v5h-3zM178 1195h3v5h-3zM829 1195h3v5h-3zM613 1195h3v5h-3zM252 1195h4v5h-4zM234 1195h7v5h-7zM206 1195h21v5h-21zM185 1195h3v5h-3zM82 1195h4v5h-4zM114 1195h7v5h-7zM486 1195h7v5h-7zM142 1195h4v5h-4zM570 1195h11v5h-11zM786 1195h4v5h-4zM517 1195h4v5h-4zM153 1195h11v5h-11zM379 1195h4v9h-4zM475 1200h3v4h-3zM723 1200h3v4h-3zM496 1200h4v4h-4zM464 1200h4v4h-4zM259 1200h7v4h-7zM160 1200h4v4h-4zM75 1200h4v4h-4zM58 1200h7v4h-7zM125 1200h3v4h-3zM535 1200h4v4h-4zM174 1200h4v4h-4zM185 1200h42v4h-42zM776 1200h10v4h-10zM634 1200h4v4h-4zM273 1200h7v4h-7zM825 1200h4v4h-4zM40 1200h7v4h-7zM107 1195h4v14h-4zM758 1200h3v9h-3zM231 1200h25v9h-25zM146 1200h4v9h-4zM263 1204h3v5h-3zM631 1204h3v5h-3zM507 1204h3v5h-3zM822 1204h3v5h-3zM606 1204h3v5h-3zM779 1204h4v5h-4zM670 1204h3v5h-3zM493 1204h3v5h-3zM677 1204h3v5h-3zM171 1204h24v5h-24zM203 1204h24v5h-24zM567 1204h3v5h-3zM54 1204h7v10h-7zM220 1209h36v5h-36zM79 1209h3v5h-3zM171 1209h3v5h-3zM203 1209h14v5h-14zM454 1209h3v5h-3zM730 1209h3v5h-3zM751 1209h7v5h-7zM563 1209h4v5h-4zM65 1209h3v5h-3zM811 1209h11v5h-11zM719 1209h4v5h-4zM737 1209h3v5h-3zM776 1209h3v5h-3zM146 1209h11v5h-11zM394 1209h7v5h-7zM188 1209h7v5h-7zM47 1209h3v10h-3zM203 1214h10v5h-10zM532 1214h3v5h-3zM75 1214h7v5h-7zM188 1214h11v5h-11zM220 1214h29v5h-29zM631 1214h3v5h-3zM815 1214h3v5h-3zM171 1214h7v5h-7zM146 1214h14v5h-14zM807 1214h4v5h-4zM68 1214h4v5h-4zM436 1214h4v5h-4zM394 1214h3v5h-3zM486 1214h3v5h-3zM401 1214h3v5h-3zM578 1214h7v5h-7zM118 1200h3v24h-3zM111 1214h3v10h-3zM256 1214h3v10h-3zM68 1219h18v5h-18zM220 1219h21v5h-21zM273 1219h4v5h-4zM379 1219h4v5h-4zM397 1219h7v5h-7zM125 1219h3v5h-3zM776 1219h3v5h-3zM150 1219h10v5h-10zM142 1219h4v5h-4zM188 1219h25v5h-25zM804 1219h7v5h-7zM61 1214h4v14h-4zM800 1224h4v4h-4zM213 1224h4v4h-4zM203 1224h7v4h-7zM263 1224h7v4h-7zM111 1224h10v4h-10zM234 1224h7v4h-7zM75 1224h11v4h-11zM277 1224h3v4h-3zM142 1224h15v4h-15zM553 1224h3v4h-3zM772 1224h14v4h-14zM496 1224h7v4h-7zM185 1224h14v4h-14zM390 1224h4v4h-4zM128 1224h4v9h-4zM89 1224h4v9h-4zM220 1224h7v9h-7zM192 1228h14v5h-14zM280 1228h11v5h-11zM546 1228h10v5h-10zM496 1228h4v5h-4zM65 1228h3v5h-3zM383 1228h4v5h-4zM249 1228h3v5h-3zM185 1228h3v5h-3zM210 1228h7v5h-7zM408 1228h3v5h-3zM241 1228h4v5h-4zM72 1228h10v5h-10zM164 1228h3v5h-3zM486 1224h3v14h-3zM139 1228h7v10h-7zM524 1233h4v5h-4zM245 1233h7v5h-7zM291 1233h4v5h-4zM181 1233h4v5h-4zM425 1233h4v5h-4zM58 1233h7v5h-7zM457 1233h7v5h-7zM765 1233h4v5h-4zM415 1233h3v5h-3zM160 1233h7v5h-7zM50 1233h4v5h-4zM220 1233h4v5h-4zM192 1233h25v5h-25zM150 1228h3v15h-3zM234 1228h4v15h-4zM510 1233h4v10h-4zM121 1238h4v5h-4zM295 1238h3v5h-3zM549 1238h4v5h-4zM344 1238h7v5h-7zM178 1238h28v5h-28zM58 1238h3v5h-3zM436 1238h4v5h-4zM716 1238h7v5h-7zM726 1238h18v5h-18zM705 1238h7v5h-7zM142 1238h4v5h-4zM542 1238h4v5h-4zM330 1238h11v5h-11zM468 1238h3v9h-3zM61 1243h4v4h-4zM185 1243h25v4h-25zM383 1243h7v4h-7zM104 1243h7v4h-7zM344 1243h14v4h-14zM447 1243h3v4h-3zM178 1243h3v4h-3zM118 1243h10v4h-10zM503 1243h4v4h-4zM142 1243h11v4h-11zM432 1243h8v4h-8zM737 1243h3v4h-3zM684 1243h10v4h-10zM744 1243h3v4h-3zM312 1243h21v4h-21zM72 1233h7v19h-7zM280 1243h4v9h-4zM245 1247h4v5h-4zM344 1247h7v5h-7zM295 1247h7v5h-7zM698 1247h3v5h-3zM471 1247h4v5h-4zM535 1247h7v5h-7zM454 1247h7v5h-7zM188 1247h22v5h-22zM432 1247h4v5h-4zM524 1247h4v5h-4zM61 1247h7v5h-7zM737 1247h10v5h-10zM493 1247h3v5h-3zM118 1247h7v5h-7zM358 1247h4v5h-4zM726 1247h4v5h-4zM670 1247h7v5h-7zM408 1247h3v5h-3zM142 1247h8v5h-8zM312 1247h25v5h-25zM89 1243h7v14h-7zM135 1247h4v10h-4zM457 1252h4v5h-4zM539 1252h3v5h-3zM312 1252h29v5h-29zM507 1252h3v5h-3zM178 1252h3v5h-3zM195 1252h32v5h-32zM231 1252h10v5h-10zM355 1252h7v5h-7zM726 1252h14v5h-14zM150 1252h3v5h-3zM65 1252h10v5h-10zM118 1252h3v5h-3zM698 1252h7v5h-7zM249 1252h3v5h-3zM404 1252h4v10h-4zM142 1252h4v10h-4zM284 1252h21v10h-21zM199 1257h28v5h-28zM397 1257h4v5h-4zM673 1257h4v5h-4zM362 1257h3v5h-3zM730 1257h3v5h-3zM323 1257h14v5h-14zM234 1257h18v5h-18zM443 1257h4v5h-4zM93 1257h3v5h-3zM174 1257h4v5h-4zM266 1257h4v5h-4zM312 1257h7v5h-7zM701 1257h4v5h-4zM128 1257h7v5h-7zM348 1257h10v5h-10zM475 1257h3v10h-3zM432 1257h4v10h-4zM121 1262h4v5h-4zM355 1262h10v5h-10zM387 1262h3v5h-3zM252 1262h7v5h-7zM496 1262h4v5h-4zM333 1262h8v5h-8zM761 1262h15v5h-15zM210 1262h17v5h-17zM691 1262h7v5h-7zM270 1262h7v5h-7zM174 1262h7v5h-7zM58 1262h3v5h-3zM150 1262h3v5h-3zM394 1262h3v5h-3zM401 1262h3v5h-3zM234 1262h11v5h-11zM677 1262h3v5h-3zM524 1262h8v5h-8zM510 1262h4v5h-4zM132 1262h3v5h-3zM284 1262h3v5h-3zM553 1262h3v5h-3zM291 1262h14v5h-14zM560 1262h3v9h-3zM312 1262h4v9h-4zM82 1262h4v9h-4zM61 1267h4v4h-4zM723 1267h10v4h-10zM539 1267h3v4h-3zM100 1267h11v4h-11zM135 1267h7v4h-7zM429 1267h3v4h-3zM252 1267h4v4h-4zM358 1267h7v4h-7zM259 1267h11v4h-11zM524 1267h4v4h-4zM383 1267h4v4h-4zM93 1267h3v4h-3zM234 1267h15v4h-15zM765 1267h14v4h-14zM298 1267h11v4h-11zM114 1267h4v4h-4zM280 1267h7v4h-7zM333 1267h11v4h-11zM309 1271h7v5h-7zM104 1271h14v5h-14zM355 1271h10v5h-10zM761 1271h4v5h-4zM333 1271h15v5h-15zM454 1271h3v5h-3zM514 1271h3v5h-3zM287 1271h4v5h-4zM719 1271h7v5h-7zM302 1271h3v5h-3zM167 1271h4v5h-4zM86 1271h14v5h-14zM323 1271h7v5h-7zM535 1271h4v5h-4zM769 1271h10v5h-10zM231 1271h18v5h-18zM461 1271h3v5h-3zM737 1271h3v5h-3zM744 1271h3v5h-3zM61 1271h18v5h-18zM482 1271h4v5h-4zM256 1271h3v5h-3zM153 1267h4v14h-4zM135 1271h4v10h-4zM142 1271h4v10h-4zM761 1276h18v5h-18zM716 1276h3v5h-3zM447 1276h3v5h-3zM507 1276h3v5h-3zM72 1276h7v5h-7zM167 1276h11v5h-11zM82 1276h18v5h-18zM65 1276h3v5h-3zM319 1276h29v5h-29zM227 1276h4v5h-4zM234 1276h15v5h-15zM284 1276h14v5h-14zM553 1276h3v5h-3zM394 1276h7v5h-7zM362 1276h3v10h-3zM500 1276h3v10h-3zM740 1281h7v5h-7zM673 1281h4v5h-4zM171 1281h7v5h-7zM68 1281h4v5h-4zM75 1281h11v5h-11zM528 1281h4v5h-4zM754 1281h4v5h-4zM432 1281h4v5h-4zM157 1281h3v5h-3zM765 1281h18v5h-18zM287 1281h4v9h-4zM712 1281h4v9h-4zM146 1281h4v9h-4zM224 1281h21v9h-21zM666 1281h4v9h-4zM655 1286h7v4h-7zM139 1286h3v4h-3zM468 1286h7v4h-7zM496 1286h4v4h-4zM160 1286h4v4h-4zM443 1286h4v4h-4zM174 1286h4v4h-4zM677 1286h3v4h-3zM72 1286h10v4h-10zM765 1286h7v4h-7zM482 1286h4v4h-4zM365 1286h4v9h-4zM514 1286h3v9h-3zM645 1286h3v9h-3zM291 1290h7v5h-7zM464 1290h4v5h-4zM227 1290h14v5h-14zM528 1290h4v5h-4zM157 1290h10v5h-10zM670 1290h3v5h-3zM75 1290h4v5h-4zM655 1290h4v5h-4zM210 1290h7v5h-7zM737 1290h3v5h-3zM425 1290h4v5h-4zM142 1290h8v5h-8zM716 1290h3v10h-3zM747 1290h4v10h-4zM440 1295h3v5h-3zM560 1295h3v5h-3zM224 1295h14v5h-14zM387 1295h3v5h-3zM164 1295h7v5h-7zM415 1295h3v5h-3zM521 1295h3v5h-3zM344 1295h4v5h-4zM174 1295h11v5h-11zM493 1295h3v5h-3zM206 1295h11v5h-11zM673 1295h7v5h-7zM648 1295h14v5h-14zM298 1295h4v5h-4zM330 1290h7v15h-7zM475 1295h3v10h-3zM730 1295h3v10h-3zM429 1295h3v10h-3zM351 1295h4v10h-4zM383 1300h7v5h-7zM305 1300h4v5h-4zM457 1300h4v5h-4zM556 1300h4v5h-4zM192 1300h11v5h-11zM210 1300h17v5h-17zM231 1300h3v5h-3zM648 1300h4v5h-4zM655 1300h11v5h-11zM677 1300h3v5h-3zM567 1300h3v5h-3zM418 1300h4v5h-4zM362 1300h3v9h-3zM645 1305h14v4h-14zM627 1305h7v4h-7zM638 1305h3v4h-3zM383 1305h4v4h-4zM666 1305h14v4h-14zM305 1305h21v4h-21zM341 1305h7v4h-7zM549 1305h7v4h-7zM719 1305h4v9h-4zM305 1309h4v5h-4zM549 1309h4v5h-4zM415 1309h3v5h-3zM478 1309h8v5h-8zM447 1309h7v5h-7zM326 1309h7v5h-7zM602 1309h7v5h-7zM670 1309h3v5h-3zM351 1309h4v5h-4zM655 1309h4v5h-4zM627 1309h4v5h-4zM316 1309h3v5h-3zM376 1309h3v5h-3zM747 1309h7v10h-7zM443 1314h4v5h-4zM330 1314h11v5h-11zM411 1314h4v5h-4zM503 1314h4v5h-4zM616 1314h15v5h-15zM521 1314h3v5h-3zM793 1314h7v5h-7zM723 1314h3v5h-3zM348 1314h10v5h-10zM496 1314h4v5h-4zM432 1314h4v5h-4zM546 1319h3v5h-3zM330 1319h3v5h-3zM524 1319h4v5h-4zM670 1319h3v5h-3zM341 1319h3v5h-3zM585 1319h3v5h-3zM358 1319h4v5h-4zM786 1319h11v5h-11zM726 1319h4v5h-4zM376 1319h3v5h-3zM517 1319h4v5h-4zM751 1319h3v5h-3zM418 1319h4v5h-4zM390 1319h4v5h-4zM631 1319h3v10h-3zM606 1319h21v10h-21zM581 1324h4v5h-4zM355 1324h3v5h-3zM447 1324h3v5h-3zM333 1324h15v5h-15zM556 1324h4v5h-4zM422 1324h3v5h-3zM730 1324h7v5h-7zM786 1324h14v5h-14zM528 1324h4v5h-4zM535 1324h4v5h-4zM369 1324h3v5h-3zM673 1324h7v5h-7zM627 1329h7v4h-7zM815 1329h3v4h-3zM312 1329h4v4h-4zM443 1329h7v4h-7zM670 1329h10v4h-10zM620 1329h4v4h-4zM351 1329h4v4h-4zM733 1329h7v4h-7zM330 1329h14v4h-14zM401 1329h3v4h-3zM595 1329h4v4h-4zM493 1329h7v4h-7zM411 1329h4v4h-4zM482 1329h4v4h-4zM574 1329h4v4h-4zM793 1329h11v9h-11zM680 1333h4v5h-4zM627 1333h11v5h-11zM517 1333h7v5h-7zM737 1333h3v5h-3zM408 1333h3v5h-3zM326 1333h15v5h-15zM666 1333h11v5h-11zM394 1333h7v5h-7zM440 1338h3v5h-3zM475 1338h3v5h-3zM415 1338h3v5h-3zM507 1338h3v5h-3zM454 1338h3v5h-3zM563 1338h4v5h-4zM659 1338h11v5h-11zM631 1338h7v5h-7zM733 1338h7v5h-7zM461 1338h3v5h-3zM818 1338h4v5h-4zM684 1338h7v5h-7zM588 1333h4v15h-4zM751 1333h3v15h-3zM595 1338h4v10h-4zM376 1338h3v10h-3zM489 1343h4v5h-4zM641 1343h4v5h-4zM740 1343h4v5h-4zM620 1343h7v5h-7zM422 1343h3v5h-3zM542 1343h7v5h-7zM503 1343h4v5h-4zM570 1343h4v5h-4zM790 1338h3v14h-3zM560 1343h3v9h-3zM408 1343h3v9h-3zM620 1348h4v4h-4zM500 1348h3v4h-3zM454 1348h3v4h-3zM532 1348h3v4h-3zM539 1348h7v4h-7zM744 1348h3v4h-3zM415 1348h7v4h-7zM627 1348h4v4h-4zM666 1348h4v4h-4zM641 1348h7v4h-7zM570 1348h8v4h-8zM514 1348h10v4h-10zM390 1348h4v4h-4zM818 1348h4v4h-4zM684 1343h3v14h-3zM323 1352h3v5h-3zM362 1352h3v5h-3zM747 1352h11v5h-11zM624 1352h7v5h-7zM443 1352h4v5h-4zM783 1352h7v5h-7zM609 1352h7v5h-7zM638 1352h7v5h-7zM574 1352h7v5h-7zM425 1352h4v5h-4zM556 1352h14v5h-14zM404 1352h4v10h-4zM804 1352h3v10h-3zM592 1352h3v10h-3zM620 1357h7v5h-7zM486 1357h3v5h-3zM776 1357h3v5h-3zM535 1357h4v5h-4zM319 1357h4v5h-4zM372 1357h11v5h-11zM758 1357h11v5h-11zM553 1357h3v5h-3zM436 1357h4v5h-4zM574 1357h4v5h-4zM680 1357h7v5h-7zM546 1357h3v5h-3zM330 1357h3v5h-3zM818 1357h4v10h-4zM578 1362h3v5h-3zM532 1362h3v5h-3zM549 1362h11v5h-11zM807 1362h8v5h-8zM404 1362h11v5h-11zM475 1362h3v5h-3zM521 1362h3v5h-3zM677 1362h3v5h-3zM620 1362h14v5h-14zM592 1362h7v5h-7zM376 1362h7v5h-7zM769 1362h3v5h-3zM482 1362h4v5h-4zM606 1362h7v5h-7zM326 1362h7v5h-7zM754 1362h4v5h-4zM362 1362h3v5h-3zM684 1362h3v9h-3zM613 1367h11v4h-11zM365 1367h4v4h-4zM673 1367h4v4h-4zM641 1367h4v4h-4zM567 1367h21v4h-21zM815 1367h3v4h-3zM443 1367h7v4h-7zM599 1367h7v4h-7zM436 1367h4v4h-4zM503 1367h4v4h-4zM627 1367h4v4h-4zM542 1367h4v4h-4zM489 1367h7v4h-7zM549 1367h7v4h-7zM418 1367h4v4h-4zM804 1367h7v4h-7zM372 1367h7v4h-7zM779 1367h21v4h-21zM800 1371h4v5h-4zM337 1371h4v5h-4zM758 1371h3v5h-3zM447 1371h3v5h-3zM772 1371h11v5h-11zM372 1371h4v5h-4zM680 1371h4v5h-4zM634 1371h7v5h-7zM616 1371h4v5h-4zM624 1371h7v5h-7zM542 1371h25v5h-25zM493 1371h3v5h-3zM645 1371h3v5h-3zM790 1371h7v5h-7zM652 1371h3v5h-3zM609 1371h4v5h-4zM574 1371h11v5h-11zM708 1371h4v5h-4zM471 1371h4v10h-4zM302 1371h3v10h-3zM705 1376h11v5h-11zM365 1376h4v5h-4zM457 1376h4v5h-4zM627 1376h7v5h-7zM411 1376h7v5h-7zM751 1376h7v5h-7zM546 1376h21v5h-21zM783 1376h14v5h-14zM341 1376h3v5h-3zM662 1376h11v5h-11zM677 1376h3v5h-3zM769 1376h3v5h-3zM574 1376h7v5h-7zM776 1376h3v5h-3zM524 1381h4v5h-4zM574 1381h18v5h-18zM793 1381h4v5h-4zM309 1381h3v5h-3zM705 1381h7v5h-7zM401 1381h3v5h-3zM542 1381h11v5h-11zM751 1381h3v5h-3zM450 1381h4v5h-4zM298 1381h4v5h-4zM560 1381h10v5h-10zM464 1381h7v5h-7zM811 1371h4v20h-4zM772 1381h7v10h-7zM486 1386h3v5h-3zM539 1386h10v5h-10zM790 1386h3v5h-3zM585 1386h7v5h-7zM457 1386h4v5h-4zM563 1386h7v5h-7zM415 1386h3v5h-3zM701 1386h7v5h-7zM521 1386h3v5h-3zM496 1386h4v5h-4zM432 1386h4v5h-4zM464 1386h4v5h-4zM786 1391h7v4h-7zM563 1391h11v4h-11zM701 1391h11v4h-11zM581 1391h7v4h-7zM779 1391h4v4h-4zM355 1391h3v4h-3zM510 1391h4v4h-4zM542 1391h4v4h-4zM747 1386h4v14h-4zM493 1391h3v9h-3zM539 1395h7v5h-7zM287 1395h4v5h-4zM447 1395h10v5h-10zM521 1395h7v5h-7zM549 1395h4v5h-4zM563 1395h7v5h-7zM701 1395h4v5h-4zM482 1395h7v5h-7zM436 1395h4v5h-4zM588 1395h7v5h-7zM606 1395h7v5h-7zM716 1395h7v5h-7zM772 1391h4v14h-4zM348 1400h3v5h-3zM422 1400h3v5h-3zM588 1400h18v5h-18zM528 1400h18v5h-18zM613 1400h7v5h-7zM496 1400h11v5h-11zM429 1400h3v5h-3zM475 1400h3v5h-3zM302 1400h7v5h-7zM549 1400h25v5h-25zM751 1400h3v5h-3zM624 1400h3v10h-3zM807 1400h4v10h-4zM754 1405h4v5h-4zM772 1405h7v5h-7zM570 1405h4v5h-4zM549 1405h11v5h-11zM471 1405h4v5h-4zM263 1405h3v5h-3zM415 1405h3v5h-3zM316 1405h3v5h-3zM542 1405h4v5h-4zM362 1405h3v5h-3zM761 1410h18v4h-18zM478 1410h4v4h-4zM440 1410h3v4h-3zM804 1410h3v4h-3zM401 1410h7v4h-7zM383 1410h4v4h-4zM365 1410h4v4h-4zM411 1410h4v4h-4zM627 1410h4v4h-4zM546 1410h10v4h-10zM358 1410h4v4h-4zM570 1410h8v4h-8zM390 1410h4v9h-4zM800 1414h4v5h-4zM447 1414h3v5h-3zM404 1414h4v5h-4zM496 1414h4v5h-4zM464 1414h4v5h-4zM779 1414h4v5h-4zM266 1414h7v5h-7zM563 1414h15v5h-15zM790 1414h3v5h-3zM277 1414h3v5h-3zM769 1414h3v5h-3zM418 1414h4v5h-4zM454 1414h3v10h-3zM542 1414h4v10h-4zM305 1419h4v5h-4zM507 1419h7v5h-7zM556 1419h11v5h-11zM252 1419h7v5h-7zM234 1419h4v5h-4zM298 1419h4v5h-4zM790 1419h7v5h-7zM330 1419h3v5h-3zM227 1419h4v10h-4zM627 1419h4v10h-4zM761 1419h4v10h-4zM348 1424h3v5h-3zM422 1424h3v5h-3zM475 1424h7v5h-7zM323 1424h7v5h-7zM790 1424h3v5h-3zM772 1424h4v5h-4zM489 1424h4v5h-4zM510 1424h18v5h-18zM563 1424h4v5h-4zM355 1424h3v5h-3zM549 1424h7v5h-7zM496 1424h4v5h-4zM532 1424h14v9h-14zM390 1424h4v9h-4zM624 1429h3v4h-3zM245 1429h7v4h-7zM493 1429h7v4h-7zM319 1429h4v4h-4zM401 1429h3v4h-3zM231 1429h3v4h-3zM514 1429h14v4h-14zM461 1429h3v4h-3zM556 1429h11v4h-11zM783 1429h3v4h-3zM418 1429h4v4h-4zM270 1429h3v9h-3zM517 1433h11v5h-11zM295 1433h3v5h-3zM241 1433h4v5h-4zM457 1433h4v5h-4zM779 1433h4v5h-4zM369 1433h3v5h-3zM404 1433h4v5h-4zM482 1433h4v5h-4zM496 1433h7v5h-7zM616 1433h8v5h-8zM436 1433h4v5h-4zM316 1433h3v5h-3zM758 1429h3v14h-3zM535 1433h11v10h-11zM489 1433h4v10h-4zM263 1438h7v5h-7zM333 1438h4v5h-4zM776 1438h3v5h-3zM309 1438h3v5h-3zM503 1438h4v5h-4zM401 1438h3v5h-3zM549 1438h7v5h-7zM521 1438h3v5h-3zM496 1438h4v5h-4zM238 1438h3v5h-3zM273 1438h11v5h-11zM454 1438h3v10h-3zM624 1438h3v10h-3zM556 1443h4v5h-4zM486 1443h3v5h-3zM517 1443h11v5h-11zM539 1443h10v5h-10zM387 1443h3v5h-3zM769 1443h7v5h-7zM323 1443h3v5h-3zM500 1443h7v5h-7zM330 1443h7v5h-7zM616 1438h4v15h-4zM408 1443h3v10h-3zM323 1448h7v5h-7zM553 1448h7v5h-7zM369 1448h10v5h-10zM563 1448h4v5h-4zM493 1448h3v5h-3zM450 1448h4v5h-4zM468 1453h3v4h-3zM241 1453h4v4h-4zM263 1453h3v4h-3zM369 1453h3v4h-3zM280 1453h4v4h-4zM326 1453h4v4h-4zM256 1453h3v4h-3zM411 1453h4v9h-4zM613 1453h3v9h-3zM379 1457h8v5h-8zM461 1457h7v5h-7zM404 1457h4v5h-4zM252 1457h7v5h-7zM238 1457h3v5h-3zM418 1457h4v10h-4zM284 1462h3v5h-3zM556 1462h7v5h-7zM181 1462h4v5h-4zM425 1462h4v5h-4zM397 1462h4v5h-4zM461 1462h3v5h-3zM40 1462h3v5h-3zM234 1462h4v5h-4zM295 1462h7v5h-7zM383 1462h4v10h-4zM556 1467h4v5h-4zM245 1467h4v5h-4zM333 1467h4v5h-4zM585 1467h7v5h-7zM443 1467h4v5h-4zM263 1467h3v5h-3zM457 1467h4v5h-4zM613 1467h3v5h-3zM287 1467h8v5h-8zM496 1467h4v9h-4zM238 1472h3v4h-3zM181 1472h4v4h-4zM401 1472h3v4h-3zM609 1472h7v4h-7zM457 1472h7v4h-7zM160 1472h7v4h-7zM440 1472h7v4h-7zM588 1472h4v4h-4zM422 1476h3v5h-3zM606 1476h3v5h-3zM157 1476h3v5h-3zM333 1476h4v5h-4zM517 1476h4v5h-4zM443 1476h7v5h-7zM355 1476h3v5h-3zM429 1476h3v5h-3zM178 1476h3v5h-3zM585 1476h7v10h-7zM245 1481h4v5h-4zM549 1481h14v5h-14zM517 1481h7v5h-7zM319 1481h4v5h-4zM263 1481h3v5h-3zM602 1481h7v5h-7zM150 1481h3v5h-3zM234 1481h4v5h-4zM613 1476h3v15h-3zM174 1481h7v10h-7zM422 1486h3v5h-3zM517 1486h11v5h-11zM376 1486h3v5h-3zM213 1486h4v5h-4zM54 1486h11v5h-11zM224 1486h7v5h-7zM277 1486h3v5h-3zM549 1486h7v5h-7zM599 1486h3v5h-3zM461 1476h3v20h-3zM440 1486h10v10h-10zM489 1491h4v5h-4zM401 1491h3v5h-3zM475 1491h3v5h-3zM415 1491h3v5h-3zM174 1491h4v5h-4zM620 1491h11v5h-11zM280 1491h4v5h-4zM390 1491h4v5h-4zM595 1491h21v5h-21zM634 1491h4v5h-4zM50 1491h15v9h-15zM539 1491h7v9h-7zM425 1491h4v9h-4zM305 1491h4v9h-4zM249 1491h3v9h-3zM270 1496h3v4h-3zM330 1496h3v4h-3zM638 1496h3v4h-3zM432 1496h11v4h-11zM238 1496h3v4h-3zM394 1496h3v4h-3zM461 1496h10v4h-10zM609 1496h7v4h-7zM369 1496h3v4h-3zM408 1496h10v4h-10zM450 1496h4v4h-4zM602 1496h4v4h-4zM592 1496h7v4h-7zM489 1496h7v9h-7zM553 1500h7v5h-7zM539 1500h3v5h-3zM415 1500h3v5h-3zM372 1500h4v5h-4zM627 1500h14v5h-14zM595 1500h7v5h-7zM252 1500h4v5h-4zM266 1500h7v5h-7zM302 1500h3v5h-3zM174 1500h4v5h-4zM425 1500h18v5h-18zM482 1500h4v5h-4zM457 1500h18v5h-18zM521 1496h3v14h-3zM333 1500h4v10h-4zM471 1505h7v5h-7zM188 1505h4v5h-4zM616 1505h11v5h-11zM280 1505h4v5h-4zM178 1505h3v5h-3zM411 1505h7v5h-7zM535 1505h7v5h-7zM486 1505h3v5h-3zM291 1505h4v5h-4zM443 1505h4v5h-4zM309 1505h3v5h-3zM493 1505h3v5h-3zM592 1505h10v5h-10zM422 1505h18v5h-18zM553 1505h3v5h-3zM454 1505h10v10h-10zM348 1510h3v5h-3zM613 1510h14v5h-14zM475 1510h7v5h-7zM181 1510h4v5h-4zM295 1510h3v5h-3zM305 1510h4v5h-4zM408 1510h17v5h-17zM599 1510h7v5h-7zM549 1510h7v5h-7zM174 1510h4v5h-4zM634 1510h7v5h-7zM224 1510h3v5h-3zM588 1510h4v5h-4zM436 1510h7v5h-7zM210 1510h3v5h-3zM489 1510h4v9h-4zM581 1515h11v4h-11zM620 1515h7v4h-7zM333 1515h4v4h-4zM447 1515h7v4h-7zM411 1515h4v4h-4zM461 1515h10v4h-10zM556 1515h18v4h-18zM595 1515h7v4h-7zM418 1515h4v4h-4zM510 1515h4v4h-4zM542 1515h4v4h-4zM256 1515h3v4h-3zM153 1515h4v4h-4zM167 1519h4v5h-4zM471 1519h11v5h-11zM181 1519h4v5h-4zM287 1519h4v5h-4zM429 1519h7v5h-7zM273 1519h4v5h-4zM227 1519h4v5h-4zM387 1519h3v5h-3zM309 1519h3v5h-3zM397 1519h4v5h-4zM507 1519h3v5h-3zM578 1519h7v5h-7zM440 1519h10v5h-10zM588 1519h7v5h-7zM542 1519h7v5h-7zM337 1519h4v10h-4zM408 1519h14v10h-14zM553 1519h21v10h-21zM387 1524h7v5h-7zM284 1524h3v5h-3zM291 1524h4v5h-4zM241 1524h4v5h-4zM581 1524h4v5h-4zM203 1524h3v5h-3zM323 1524h3v5h-3zM493 1524h3v5h-3zM210 1524h7v5h-7zM224 1524h3v5h-3zM429 1524h11v5h-11zM192 1524h3v5h-3zM546 1524h3v5h-3zM475 1524h7v10h-7zM164 1524h3v10h-3zM348 1529h3v5h-3zM493 1529h7v5h-7zM383 1529h4v5h-4zM273 1529h7v5h-7zM227 1529h4v5h-4zM542 1529h21v5h-21zM404 1529h11v5h-11zM150 1529h7v5h-7zM418 1529h14v5h-14zM567 1529h18v5h-18zM358 1529h4v5h-4zM440 1529h7v5h-7zM206 1529h7v5h-7zM238 1529h3v5h-3zM266 1529h4v9h-4zM440 1534h3v4h-3zM305 1534h4v4h-4zM365 1534h4v4h-4zM160 1534h7v4h-7zM471 1534h4v4h-4zM486 1534h10v4h-10zM150 1534h3v4h-3zM539 1534h14v4h-14zM578 1534h3v4h-3zM422 1534h14v4h-14zM277 1534h3v4h-3zM316 1534h3v4h-3zM478 1534h4v4h-4zM570 1534h4v4h-4zM500 1534h7v4h-7zM213 1534h11v4h-11zM199 1529h4v14h-4zM252 1534h4v9h-4zM298 1534h4v9h-4zM535 1538h11v5h-11zM213 1538h4v5h-4zM450 1538h39v5h-39zM503 1538h4v5h-4zM263 1538h3v5h-3zM429 1538h3v5h-3zM160 1538h4v5h-4zM408 1538h10v5h-10zM553 1538h3v5h-3zM234 1538h4v5h-4zM560 1538h25v5h-25zM362 1538h3v10h-3zM468 1543h3v5h-3zM560 1543h3v5h-3zM291 1543h4v5h-4zM157 1543h3v5h-3zM351 1543h7v5h-7zM227 1543h4v5h-4zM457 1543h4v5h-4zM535 1543h7v5h-7zM217 1543h3v5h-3zM418 1543h11v5h-11zM570 1543h8v5h-8zM475 1543h14v5h-14zM408 1543h3v5h-3z"/>
<path fill="#d93700" d="M1434 451h3v4h-3zM1349 475h3v4h-3zM1416 503h3v5h-3zM1352 508h4v5h-4zM1377 513h4v4h-4zM1349 517h3v5h-3zM1342 517h3v5h-3zM1338 522h4v5h-4zM1352 522h7v5h-7zM1377 522h4v5h-4zM1370 527h7v5h-7zM1384 527h4v5h-4zM1363 527h3v5h-3zM1324 527h3v5h-3zM1349 527h7v5h-7zM1335 532h7v5h-7zM1388 532h3v5h-3zM1381 532h3v5h-3zM1398 537h4v4h-4zM1373 537h4v4h-4zM1405 541h11v5h-11zM1331 541h7v5h-7zM1349 541h3v5h-3zM1455 541h3v5h-3zM1377 541h4v10h-4zM1458 546h4v5h-4zM1327 546h4v5h-4zM1335 546h3v5h-3zM1324 551h3v5h-3zM1391 551h7v5h-7zM1359 551h7v5h-7zM1455 551h3v5h-3zM1434 551h3v9h-3zM58 556h3v4h-3zM1441 556h3v4h-3zM1395 556h3v4h-3zM1335 556h3v4h-3zM1349 560h7v5h-7zM40 560h7v5h-7zM1313 560h4v5h-4zM1462 556h3v14h-3zM1430 565h4v5h-4zM1398 565h4v5h-4zM1352 565h4v5h-4zM1324 565h3v5h-3zM1310 565h3v5h-3zM1416 565h3v5h-3zM1441 565h3v5h-3zM1451 565h4v5h-4zM82 565h4v10h-4zM50 570h4v5h-4zM1349 570h17v5h-17zM1186 570h4v5h-4zM1200 570h7v5h-7zM37 570h3v5h-3zM1320 570h7v5h-7zM1398 575h7v4h-7zM1349 575h10v4h-10zM1342 579h3v5h-3zM1313 579h4v5h-4zM1388 579h17v5h-17zM1441 579h3v5h-3zM1388 584h3v5h-3zM1306 584h4v5h-4zM1317 584h7v5h-7zM1395 584h3v5h-3zM1448 584h10v5h-10zM1412 584h4v10h-4zM1458 589h7v5h-7zM100 584h4v15h-4zM1402 589h7v10h-7zM54 594h7v5h-7zM1416 594h11v5h-11zM89 594h4v5h-4zM79 594h3v5h-3zM1366 599h7v4h-7zM1398 599h4v4h-4zM1352 599h4v4h-4zM1437 599h4v4h-4zM1423 599h7v4h-7zM1359 599h4v4h-4zM1455 599h3v4h-3zM75 599h4v4h-4zM1271 599h3v4h-3zM1338 603h4v5h-4zM1395 603h7v5h-7zM1427 603h10v5h-10zM1377 603h4v5h-4zM1441 603h3v5h-3zM1451 603h7v5h-7zM1296 603h7v5h-7zM89 603h4v5h-4zM1214 603h4v5h-4zM1278 603h4v5h-4zM1430 608h4v5h-4zM1260 608h4v5h-4zM1437 608h11v5h-11zM1423 608h4v5h-4zM1398 613h4v5h-4zM1303 613h3v5h-3zM1285 613h4v5h-4zM1377 613h4v5h-4zM79 613h7v5h-7zM54 613h7v5h-7zM1444 613h4v5h-4zM1391 613h4v5h-4zM1419 613h4v5h-4zM104 613h3v5h-3zM72 613h3v9h-3zM1427 613h3v9h-3zM1405 618h4v4h-4zM1296 618h7v4h-7zM1044 618h4v4h-4zM1462 618h3v4h-3zM96 618h4v4h-4zM892 618h4v4h-4zM43 618h4v4h-4zM1052 618h3v4h-3zM37 618h3v4h-3zM1395 622h10v5h-10zM43 622h7v5h-7zM1423 622h7v5h-7zM910 622h7v5h-7zM1048 622h4v5h-4zM1370 622h7v5h-7zM1462 622h7v5h-7zM889 622h3v5h-3zM1451 622h4v5h-4zM89 622h7v5h-7zM1105 622h3v5h-3zM111 627h3v5h-3zM878 627h4v5h-4zM86 627h7v5h-7zM1405 627h7v5h-7zM1289 627h3v5h-3zM37 627h10v5h-10zM1062 627h4v5h-4zM1204 632h3v5h-3zM100 632h7v5h-7zM1211 632h3v5h-3zM1373 632h4v5h-4zM1427 632h3v5h-3zM86 632h3v5h-3zM1013 632h3v5h-3zM1451 632h4v5h-4zM1239 632h4v5h-4zM1381 632h3v5h-3zM61 632h7v5h-7zM1391 627h4v15h-4zM1398 637h4v5h-4zM1221 637h4v5h-4zM61 637h4v5h-4zM875 637h3v5h-3zM1458 637h4v5h-4zM1267 637h4v5h-4zM1278 637h4v5h-4zM1430 637h4v5h-4zM1214 637h4v5h-4zM1069 642h4v4h-4zM114 642h4v4h-4zM68 642h4v4h-4zM1260 642h4v4h-4zM86 642h3v4h-3zM1274 642h4v4h-4zM857 642h7v4h-7zM1437 642h4v4h-4zM988 646h3v5h-3zM853 646h4v5h-4zM58 646h10v5h-10zM114 646h7v5h-7zM871 646h4v5h-4zM1002 646h4v5h-4zM107 646h4v5h-4zM1405 651h4v5h-4zM864 651h4v5h-4zM871 651h7v5h-7zM75 651h4v5h-4zM850 651h3v5h-3zM1391 651h4v5h-4zM914 651h7v5h-7zM1182 651h4v5h-4zM1214 651h7v5h-7zM104 651h3v5h-3zM899 651h4v10h-4zM907 656h3v5h-3zM832 656h7v5h-7zM988 656h7v5h-7zM1412 656h4v5h-4zM100 656h4v5h-4zM1009 656h4v5h-4zM1402 656h7v5h-7zM50 656h11v5h-11zM89 656h4v5h-4zM114 661h4v4h-4zM1388 661h7v4h-7zM47 661h3v4h-3zM843 661h7v4h-7zM96 661h4v4h-4zM907 661h7v4h-7zM1381 661h3v4h-3zM1214 661h4v4h-4zM40 665h3v5h-3zM79 665h3v5h-3zM100 665h4v5h-4zM917 665h4v5h-4zM1384 665h4v5h-4zM1158 665h3v5h-3zM818 665h4v5h-4zM61 665h7v5h-7zM910 665h4v10h-4zM1087 670h3v5h-3zM1243 670h3v5h-3zM1098 670h3v5h-3zM1002 670h4v5h-4zM37 670h6v5h-6zM1398 670h7v5h-7zM921 670h3v5h-3zM836 670h3v5h-3zM89 670h4v5h-4zM65 670h3v5h-3zM40 675h3v5h-3zM1179 675h3v5h-3zM1080 675h7v5h-7zM1108 675h4v5h-4zM111 675h3v5h-3zM917 675h4v5h-4zM1101 675h4v5h-4zM89 675h7v5h-7zM114 680h4v4h-4zM1115 680h4v4h-4zM1016 680h4v4h-4zM93 680h3v4h-3zM1069 680h7v4h-7zM61 675h4v14h-4zM1098 684h3v5h-3zM804 684h11v5h-11zM43 684h4v5h-4zM89 684h7v5h-7zM1073 684h7v5h-7zM1214 684h4v5h-4zM1030 684h4v5h-4zM50 680h4v14h-4zM37 684h3v10h-3zM977 689h4v5h-4zM1048 689h4v5h-4zM1140 689h4v5h-4zM1076 689h4v5h-4zM1041 689h3v5h-3zM1090 689h4v5h-4zM1182 689h4v5h-4zM807 689h4v10h-4zM100 694h7v5h-7zM1207 694h4v5h-4zM93 694h3v10h-3zM1193 699h4v5h-4zM1366 699h4v5h-4zM104 699h3v5h-3zM1345 699h4v5h-4zM811 704h4v4h-4zM50 704h4v4h-4zM1037 704h4v4h-4zM1320 704h4v4h-4zM793 708h4v5h-4zM825 708h4v5h-4zM931 708h4v5h-4zM89 708h7v5h-7zM72 713h7v5h-7zM1115 713h4v5h-4zM1342 713h7v5h-7zM1151 713h3v5h-3zM93 718h3v5h-3zM1366 718h4v5h-4zM58 718h3v5h-3zM68 718h7v5h-7zM928 718h3v5h-3zM1306 718h4v5h-4zM72 723h3v4h-3zM800 723h4v4h-4zM1041 723h3v4h-3zM65 723h3v4h-3zM37 723h3v4h-3zM58 727h10v5h-10zM1158 727h3v5h-3zM128 727h4v5h-4zM1119 727h3v5h-3zM118 727h3v5h-3zM1105 727h3v5h-3zM75 727h4v5h-4zM1069 732h4v5h-4zM114 732h4v5h-4zM68 732h7v5h-7zM1013 732h3v5h-3zM754 732h4v5h-4zM1119 737h3v5h-3zM79 737h3v5h-3zM68 737h4v5h-4zM758 737h3v5h-3zM1282 737h3v5h-3zM1267 737h11v5h-11zM769 737h3v5h-3zM1090 737h4v5h-4zM146 737h4v5h-4zM935 737h3v5h-3zM1052 737h3v5h-3zM1122 742h4v4h-4zM751 742h3v4h-3zM1257 742h3v4h-3zM790 742h3v4h-3zM65 742h3v4h-3zM776 742h3v4h-3zM1136 742h4v4h-4zM1243 746h3v5h-3zM43 746h4v5h-4zM1182 746h4v5h-4zM744 746h3v5h-3zM800 746h4v10h-4zM772 751h4v5h-4zM1228 751h4v5h-4zM160 751h4v5h-4zM963 751h4v5h-4zM779 751h4v5h-4zM1246 751h4v5h-4zM139 751h7v10h-7zM160 756h7v5h-7zM160 761h4v5h-4zM1101 761h4v5h-4zM800 761h4v9h-4zM790 766h7v4h-7zM1076 766h4v4h-4zM977 770h7v5h-7zM783 775h3v5h-3zM1066 780h3v5h-3zM793 780h4v5h-4zM779 780h7v5h-7zM174 780h4v5h-4zM1161 780h4v5h-4zM956 780h4v5h-4zM783 785h3v4h-3zM1211 785h3v4h-3zM776 785h3v4h-3zM793 789h4v5h-4zM1218 789h3v5h-3zM740 789h4v5h-4zM1094 789h4v5h-4zM882 789h3v5h-3zM747 794h4v5h-4zM761 794h8v5h-8zM765 799h4v5h-4zM811 799h4v5h-4zM549 799h7v5h-7zM864 799h4v5h-4zM542 799h4v5h-4zM560 799h3v5h-3zM800 799h4v5h-4zM853 804h4v4h-4zM807 804h4v4h-4zM815 804h3v4h-3zM875 804h3v4h-3zM1020 808h3v5h-3zM553 808h3v5h-3zM953 808h3v5h-3zM928 808h3v5h-3zM811 808h7v10h-7zM549 813h7v5h-7zM539 813h3v5h-3zM1200 813h4v5h-4zM532 813h3v5h-3zM931 813h4v10h-4zM655 818h7v5h-7zM924 818h4v5h-4zM945 823h4v5h-4zM832 823h11v5h-11zM659 823h3v5h-3zM935 823h3v5h-3zM832 828h4v4h-4zM659 847h11v4h-11zM981 851h7v5h-7zM666 851h11v5h-11zM659 851h3v5h-3zM832 851h4v5h-4zM730 856h3v5h-3zM843 861h3v5h-3zM719 861h4v5h-4zM903 861h4v5h-4zM737 861h3v5h-3zM829 861h3v5h-3zM910 861h4v5h-4zM754 861h4v5h-4zM733 866h4v5h-4zM1016 866h4v5h-4zM839 866h4v5h-4zM924 871h4v4h-4zM503 871h4v4h-4zM935 871h3v4h-3zM984 875h4v5h-4zM786 875h4v5h-4zM1136 880h4v5h-4zM825 880h4v5h-4zM832 880h4v5h-4zM546 880h3v5h-3zM1154 880h11v5h-11zM977 885h4v5h-4zM1119 885h3v5h-3zM1136 885h11v5h-11zM924 885h4v5h-4zM786 885h4v5h-4zM549 890h4v4h-4zM1115 890h7v4h-7zM507 890h3v4h-3zM984 890h4v4h-4zM1158 890h3v4h-3zM1147 890h7v4h-7zM1129 885h4v14h-4zM988 894h3v5h-3zM1144 894h7v5h-7zM1115 894h4v5h-4zM528 894h4v5h-4zM135 894h4v5h-4zM1115 899h7v5h-7zM875 899h3v5h-3zM1158 899h3v5h-3zM1147 899h7v5h-7zM570 899h4v5h-4zM609 899h4v10h-4zM1151 904h3v5h-3zM871 904h4v5h-4zM786 904h4v5h-4zM1027 904h3v9h-3zM1172 909h3v4h-3zM1115 909h4v4h-4zM1144 909h10v4h-10zM1126 909h7v4h-7zM135 909h4v4h-4zM1168 913h7v5h-7zM1119 913h7v5h-7zM825 913h4v5h-4zM1136 913h8v5h-8zM1147 913h4v5h-4zM1161 918h4v5h-4zM1133 918h3v5h-3zM822 918h3v5h-3zM1122 918h4v10h-4zM1172 923h3v5h-3zM482 923h4v5h-4zM79 923h3v5h-3zM468 923h3v5h-3zM853 928h4v5h-4zM914 928h3v5h-3zM1136 928h4v5h-4zM1168 928h4v5h-4zM1158 928h3v5h-3zM89 928h4v5h-4zM606 928h3v9h-3zM1161 933h11v4h-11zM1151 933h3v4h-3zM1136 933h8v4h-8zM128 933h4v4h-4zM82 933h7v4h-7zM553 933h7v4h-7zM118 933h3v9h-3zM953 933h3v9h-3zM1013 937h7v5h-7zM1136 937h4v5h-4zM917 937h4v5h-4zM899 937h4v5h-4zM79 937h7v5h-7zM588 937h4v5h-4zM1147 937h4v5h-4zM478 937h4v5h-4zM111 942h3v5h-3zM606 942h3v5h-3zM981 942h3v5h-3zM468 942h3v5h-3zM1172 947h3v5h-3zM1129 947h4v5h-4zM967 947h3v5h-3zM924 947h4v5h-4zM443 947h4v5h-4zM553 947h3v5h-3zM107 947h4v5h-4zM910 947h4v9h-4zM864 952h4v4h-4zM899 952h4v4h-4zM1140 952h4v4h-4zM1175 952h4v4h-4zM970 952h4v4h-4zM114 956h4v5h-4zM454 956h3v5h-3zM1151 956h7v5h-7zM1013 956h3v5h-3zM797 956h3v5h-3zM482 961h4v5h-4zM100 961h4v5h-4zM1158 961h7v5h-7zM411 961h4v5h-4zM793 961h4v5h-4zM1147 961h4v5h-4zM634 961h4v10h-4zM104 966h7v5h-7zM1006 966h3v5h-3zM899 966h4v5h-4zM1168 966h4v5h-4zM747 966h4v5h-4zM1158 966h3v5h-3zM1144 966h3v5h-3zM418 966h4v5h-4zM921 966h3v5h-3zM464 966h7v5h-7zM93 971h11v4h-11zM995 971h3v4h-3zM648 971h4v4h-4zM415 971h3v4h-3zM892 971h4v4h-4zM1122 971h7v4h-7zM1161 971h7v4h-7zM1172 975h3v5h-3zM574 975h4v5h-4zM100 975h4v5h-4zM606 975h3v5h-3zM1165 975h3v5h-3zM93 975h3v5h-3zM408 975h3v10h-3zM539 985h3v5h-3zM772 985h4v5h-4zM1243 985h3v5h-3zM1250 985h3v5h-3zM609 985h4v5h-4zM464 985h4v5h-4zM740 985h4v5h-4zM931 985h4v5h-4zM86 985h3v5h-3zM394 985h3v5h-3zM450 990h4v5h-4zM1126 990h3v5h-3zM878 990h4v5h-4zM595 990h4v5h-4zM793 990h4v5h-4zM277 990h14v5h-14zM425 990h4v9h-4zM1250 995h3v4h-3zM1140 995h4v4h-4zM1055 995h4v4h-4zM358 999h4v5h-4zM648 999h4v5h-4zM475 999h3v5h-3zM1122 999h7v5h-7zM277 999h3v5h-3zM1027 999h3v5h-3zM1154 999h4v5h-4zM949 1004h4v5h-4zM542 1004h4v5h-4zM1250 1004h3v5h-3zM917 1004h4v5h-4zM468 1004h3v5h-3zM121 1004h7v5h-7zM259 1004h4v5h-4zM1144 1004h3v5h-3zM93 1004h3v5h-3zM1080 1009h3v5h-3zM457 1009h4v5h-4zM967 1009h3v5h-3zM786 1009h4v5h-4zM811 1009h4v5h-4zM613 1009h3v5h-3zM107 1009h4v5h-4zM701 1014h4v4h-4zM723 1014h3v4h-3zM160 1014h4v4h-4zM677 1014h3v4h-3zM560 1014h3v4h-3zM938 1014h4v4h-4zM864 1014h4v9h-4zM857 1018h4v5h-4zM574 1018h4v5h-4zM450 1018h4v5h-4zM517 1018h4v5h-4zM150 1018h3v5h-3zM599 1018h3v5h-3zM524 1018h4v5h-4zM892 1018h4v5h-4zM369 1018h3v5h-3zM871 1018h4v5h-4zM167 1018h4v5h-4zM935 1018h3v5h-3zM213 1018h4v5h-4zM641 1023h4v5h-4zM684 1023h3v5h-3zM171 1023h3v5h-3zM188 1023h4v5h-4zM128 1023h11v5h-11zM217 1023h7v5h-7zM195 1023h4v5h-4zM178 1023h7v5h-7zM758 1023h3v10h-3zM772 1028h4v5h-4zM726 1028h4v5h-4zM181 1028h4v5h-4zM192 1028h3v5h-3zM853 1033h4v4h-4zM1236 1033h7v4h-7zM882 1033h3v4h-3zM846 1033h4v4h-4zM560 1033h3v9h-3zM691 1037h3v5h-3zM574 1037h4v5h-4zM772 1037h4v5h-4zM1232 1037h4v5h-4zM1246 1037h7v5h-7zM680 1037h4v5h-4zM878 1037h4v5h-4zM705 1037h3v5h-3zM1214 1037h11v5h-11zM744 1037h3v10h-3zM811 1042h7v5h-7zM694 1042h7v5h-7zM1225 1042h3v5h-3zM1236 1042h3v5h-3zM553 1042h3v5h-3zM429 1042h3v5h-3zM896 1042h3v5h-3zM408 1047h3v5h-3zM698 1047h3v5h-3zM475 1047h3v5h-3zM1218 1047h7v5h-7zM754 1047h4v5h-4zM1243 1052h3v5h-3zM1250 1052h3v5h-3zM432 1052h4v5h-4zM889 1052h3v5h-3zM510 1052h4v5h-4zM107 1052h4v5h-4zM783 1057h3v4h-3zM111 1057h3v4h-3zM118 1057h3v4h-3zM638 1057h3v4h-3zM885 1057h4v4h-4zM818 1057h4v4h-4zM1027 1057h3v9h-3zM43 1061h4v5h-4zM896 1061h3v5h-3zM37 1061h3v5h-3zM114 1061h4v10h-4zM61 1066h4v5h-4zM670 1066h3v5h-3zM432 1071h4v5h-4zM422 1071h3v5h-3zM1023 1071h4v5h-4zM50 1071h11v5h-11zM82 1071h4v5h-4zM662 1071h4v5h-4zM37 1071h3v9h-3zM783 1076h3v4h-3zM96 1076h8v4h-8zM132 1076h3v4h-3zM96 1080h4v5h-4zM104 1080h3v5h-3zM61 1080h7v5h-7zM43 1076h4v14h-4zM86 1080h3v10h-3zM995 1085h3v5h-3zM648 1085h4v5h-4zM75 1085h7v5h-7zM875 1085h3v5h-3zM107 1085h7v5h-7zM599 1085h7v5h-7zM1013 1085h3v5h-3zM977 1085h7v5h-7zM885 1085h4v5h-4zM65 1085h3v5h-3zM998 1090h4v5h-4zM61 1090h14v5h-14zM107 1090h4v5h-4zM89 1090h4v5h-4zM135 1085h4v15h-4zM47 1090h3v10h-3zM974 1090h3v10h-3zM995 1095h7v5h-7zM104 1095h3v5h-3zM514 1095h3v5h-3zM1016 1095h4v5h-4zM65 1095h3v5h-3zM79 1095h3v9h-3zM641 1100h4v4h-4zM995 1100h3v4h-3zM68 1100h4v4h-4zM868 1100h7v4h-7zM807 1100h4v4h-4zM1013 1100h3v4h-3zM521 1100h3v4h-3zM634 1100h4v4h-4zM93 1100h3v9h-3zM118 1104h3v5h-3zM974 1104h3v5h-3zM37 1104h3v5h-3zM988 1100h3v14h-3zM96 1109h4v5h-4zM839 1109h4v5h-4zM1013 1109h3v5h-3zM104 1109h3v5h-3zM549 1114h4v5h-4zM111 1114h10v5h-10zM132 1114h7v5h-7zM627 1114h4v5h-4zM769 1114h3v5h-3zM376 1114h3v5h-3zM43 1114h4v5h-4zM687 1114h4v5h-4zM829 1114h3v5h-3zM772 1119h4v4h-4zM337 1119h4v4h-4zM638 1119h3v4h-3zM104 1119h3v4h-3zM132 1119h3v4h-3zM790 1119h3v9h-3zM351 1119h4v9h-4zM37 1119h3v9h-3zM616 1123h4v5h-4zM839 1123h4v5h-4zM43 1123h4v5h-4zM93 1123h3v5h-3zM121 1123h4v5h-4zM107 1123h4v5h-4zM326 1123h4v10h-4zM489 1128h4v5h-4zM415 1128h3v5h-3zM404 1128h4v5h-4zM37 1128h6v5h-6zM723 1133h3v5h-3zM75 1133h4v5h-4zM800 1133h4v5h-4zM811 1133h4v5h-4zM82 1133h4v5h-4zM478 1133h4v5h-4zM37 1133h3v9h-3zM79 1138h7v4h-7zM337 1138h4v4h-4zM89 1138h4v4h-4zM397 1138h4v4h-4zM96 1138h4v9h-4zM811 1142h4v5h-4zM737 1142h3v5h-3zM609 1147h4v5h-4zM507 1147h3v5h-3zM68 1147h4v5h-4zM815 1147h3v5h-3zM337 1147h4v5h-4zM89 1147h4v5h-4zM37 1147h3v5h-3zM100 1152h4v5h-4zM779 1152h7v5h-7zM295 1152h3v5h-3zM326 1152h4v5h-4zM394 1152h3v5h-3zM93 1152h3v5h-3zM75 1147h4v15h-4zM65 1157h3v5h-3zM302 1157h3v5h-3zM107 1157h4v5h-4zM72 1162h3v4h-3zM592 1162h3v4h-3zM404 1162h4v4h-4zM383 1162h4v4h-4zM82 1162h4v9h-4zM256 1166h3v5h-3zM231 1166h3v5h-3zM72 1166h7v5h-7zM58 1166h3v5h-3zM100 1162h4v14h-4zM210 1166h3v10h-3zM68 1171h11v5h-11zM111 1171h3v5h-3zM390 1171h4v5h-4zM638 1171h7v5h-7zM114 1176h4v5h-4zM153 1176h4v5h-4zM47 1176h3v5h-3zM528 1176h4v5h-4zM387 1176h3v5h-3zM178 1176h3v5h-3zM556 1181h4v4h-4zM475 1181h3v4h-3zM245 1181h4v4h-4zM811 1181h4v4h-4zM121 1181h4v4h-4zM447 1185h3v5h-3zM220 1185h7v5h-7zM574 1185h4v5h-4zM43 1185h4v5h-4zM595 1185h4v5h-4zM79 1190h10v5h-10zM825 1190h4v5h-4zM263 1190h7v5h-7zM220 1190h11v5h-11zM146 1190h7v5h-7zM37 1190h3v5h-3zM174 1195h4v5h-4zM75 1195h7v5h-7zM227 1195h7v5h-7zM747 1195h4v5h-4zM86 1195h3v5h-3zM259 1195h4v5h-4zM440 1195h3v5h-3zM121 1195h4v5h-4zM256 1200h3v4h-3zM500 1200h3v4h-3zM567 1200h3v4h-3zM436 1200h4v4h-4zM79 1200h7v4h-7zM104 1200h3v4h-3zM153 1200h7v4h-7zM227 1200h4v9h-4zM266 1204h4v5h-4zM256 1204h7v5h-7zM471 1204h4v5h-4zM818 1204h4v5h-4zM404 1204h4v10h-4zM174 1209h4v5h-4zM256 1209h3v5h-3zM157 1209h7v5h-7zM217 1209h3v5h-3zM195 1209h4v5h-4zM185 1209h3v5h-3zM560 1209h3v5h-3zM634 1209h4v5h-4zM107 1209h4v5h-4zM167 1209h4v10h-4zM72 1214h3v5h-3zM726 1214h4v5h-4zM786 1214h4v5h-4zM199 1214h4v5h-4zM383 1214h4v5h-4zM142 1214h4v5h-4zM82 1214h4v5h-4zM804 1214h3v5h-3zM213 1214h4v10h-4zM185 1219h3v5h-3zM86 1219h7v5h-7zM160 1219h4v5h-4zM800 1219h4v5h-4zM245 1219h7v5h-7zM171 1219h3v5h-3zM157 1224h14v4h-14zM245 1224h4v4h-4zM86 1224h3v4h-3zM199 1224h4v4h-4zM65 1224h10v4h-10zM121 1224h4v4h-4zM489 1228h4v5h-4zM160 1228h4v5h-4zM114 1228h7v5h-7zM167 1228h4v5h-4zM217 1224h3v14h-3zM549 1233h4v5h-4zM404 1233h4v5h-4zM178 1233h3v5h-3zM65 1233h3v5h-3zM164 1238h3v5h-3zM61 1238h4v5h-4zM245 1238h7v5h-7zM723 1238h3v5h-3zM118 1238h3v5h-3zM712 1238h4v5h-4zM287 1238h4v5h-4zM125 1238h14v5h-14zM181 1243h4v4h-4zM733 1243h4v4h-4zM96 1243h4v4h-4zM740 1243h4v4h-4zM694 1243h7v4h-7zM355 1247h3v5h-3zM701 1247h4v5h-4zM68 1247h4v5h-4zM150 1247h3v5h-3zM443 1247h4v5h-4zM730 1247h7v5h-7zM694 1247h4v5h-4zM181 1247h7v5h-7zM677 1247h7v5h-7zM174 1252h4v5h-4zM181 1252h4v5h-4zM524 1252h4v5h-4zM75 1252h4v5h-4zM344 1252h11v5h-11zM677 1252h3v5h-3zM86 1252h3v5h-3zM503 1252h4v5h-4zM280 1252h4v10h-4zM58 1252h3v10h-3zM705 1252h3v10h-3zM68 1257h4v5h-4zM528 1257h4v5h-4zM337 1257h4v5h-4zM344 1257h4v5h-4zM82 1257h7v5h-7zM195 1257h4v5h-4zM401 1257h3v5h-3zM139 1262h3v5h-3zM266 1262h4v5h-4zM171 1262h3v5h-3zM341 1262h10v5h-10zM287 1262h4v5h-4zM503 1262h4v5h-4zM185 1262h3v5h-3zM687 1262h4v5h-4zM355 1267h3v4h-3zM256 1267h3v4h-3zM461 1267h3v4h-3zM344 1267h4v4h-4zM220 1267h4v4h-4zM86 1267h3v4h-3zM213 1267h4v4h-4zM765 1271h4v5h-4zM171 1271h3v5h-3zM227 1271h4v5h-4zM298 1271h4v5h-4zM305 1271h4v5h-4zM733 1271h4v10h-4zM740 1271h4v10h-4zM164 1276h3v5h-3zM181 1276h4v5h-4zM231 1276h3v5h-3zM719 1276h4v5h-4zM298 1276h7v5h-7zM348 1276h3v5h-3zM358 1281h4v5h-4zM716 1281h3v5h-3zM475 1281h3v5h-3zM670 1281h3v5h-3zM330 1281h7v5h-7zM178 1281h10v5h-10zM167 1281h4v5h-4zM341 1281h3v5h-3zM291 1281h11v9h-11zM737 1281h3v9h-3zM489 1286h4v4h-4zM171 1286h3v4h-3zM507 1286h3v4h-3zM716 1286h7v4h-7zM330 1286h3v4h-3zM178 1286h3v4h-3zM532 1286h3v4h-3zM673 1290h4v5h-4zM733 1290h4v5h-4zM719 1290h7v5h-7zM337 1290h11v5h-11zM454 1290h3v5h-3zM224 1290h3v5h-3zM733 1295h7v5h-7zM489 1295h4v5h-4zM365 1295h4v5h-4zM203 1295h3v5h-3zM188 1295h4v5h-4zM723 1295h7v5h-7zM302 1295h3v5h-3zM217 1295h7v5h-7zM337 1295h7v5h-7zM355 1295h7v10h-7zM344 1300h7v5h-7zM726 1300h4v5h-4zM312 1300h4v5h-4zM337 1300h4v5h-4zM641 1305h4v4h-4zM659 1305h3v4h-3zM326 1305h7v4h-7zM740 1305h4v4h-4zM563 1305h4v4h-4zM348 1305h10v4h-10zM634 1305h4v4h-4zM355 1309h3v5h-3zM563 1309h7v5h-7zM723 1309h3v5h-3zM362 1309h3v5h-3zM341 1309h3v5h-3zM348 1309h3v5h-3zM662 1314h4v5h-4zM666 1319h4v5h-4zM344 1319h4v5h-4zM797 1319h3v5h-3zM730 1319h7v5h-7zM744 1319h3v5h-3zM804 1319h3v5h-3zM751 1324h3v5h-3zM807 1324h4v5h-4zM546 1324h3v5h-3zM737 1324h3v5h-3zM616 1329h4v4h-4zM521 1329h3v4h-3zM440 1329h3v4h-3zM634 1329h4v4h-4zM624 1333h3v5h-3zM659 1333h7v5h-7zM595 1333h4v5h-4zM553 1333h3v5h-3zM804 1333h3v5h-3zM549 1338h4v5h-4zM574 1338h4v5h-4zM620 1338h4v5h-4zM638 1338h3v5h-3zM793 1338h11v5h-11zM670 1338h7v5h-7zM631 1343h3v5h-3zM662 1343h8v5h-8zM744 1343h3v5h-3zM747 1348h4v4h-4zM524 1348h4v4h-4zM662 1348h4v4h-4zM648 1348h4v4h-4zM468 1348h3v4h-3zM638 1348h3v4h-3zM489 1348h4v4h-4zM595 1348h4v9h-4zM666 1352h4v5h-4zM616 1352h8v5h-8zM493 1352h3v5h-3zM645 1352h3v5h-3zM818 1352h4v5h-4zM602 1352h4v5h-4zM655 1352h4v10h-4zM673 1357h7v5h-7zM627 1357h4v5h-4zM333 1357h4v5h-4zM807 1357h4v5h-4zM422 1357h3v5h-3zM440 1357h3v5h-3zM560 1357h3v5h-3zM634 1357h7v5h-7zM309 1362h3v5h-3zM765 1362h4v5h-4zM574 1362h4v5h-4zM486 1362h3v5h-3zM786 1362h4v5h-4zM800 1362h7v5h-7zM634 1362h4v9h-4zM546 1362h3v9h-3zM454 1367h3v4h-3zM680 1367h4v4h-4zM563 1367h4v4h-4zM648 1367h7v4h-7zM776 1367h3v4h-3zM769 1367h3v9h-3zM648 1371h4v5h-4zM631 1371h3v5h-3zM797 1371h3v5h-3zM804 1371h3v5h-3zM772 1376h4v5h-4zM450 1376h4v5h-4zM673 1376h4v5h-4zM758 1376h3v5h-3zM765 1381h7v5h-7zM348 1381h3v5h-3zM765 1386h4v5h-4zM478 1386h4v5h-4zM751 1386h3v5h-3zM517 1391h4v4h-4zM761 1391h4v4h-4zM769 1391h3v4h-3zM468 1391h3v4h-3zM776 1391h3v4h-3zM585 1395h3v5h-3zM758 1395h7v5h-7zM570 1395h4v5h-4zM514 1395h3v5h-3zM351 1395h4v5h-4zM776 1400h3v5h-3zM761 1400h4v5h-4zM418 1400h4v5h-4zM482 1400h4v5h-4zM514 1400h7v5h-7zM620 1400h4v5h-4zM450 1400h4v5h-4zM800 1400h4v5h-4zM291 1400h4v5h-4zM786 1400h7v10h-7zM567 1405h3v5h-3zM574 1405h4v5h-4zM404 1405h4v5h-4zM560 1405h3v5h-3zM514 1405h3v5h-3zM613 1405h11v5h-11zM800 1405h7v5h-7zM592 1405h3v5h-3zM415 1410h3v4h-3zM563 1410h7v4h-7zM779 1410h4v4h-4zM542 1410h4v4h-4zM790 1410h3v4h-3zM578 1410h3v9h-3zM765 1414h4v5h-4zM783 1414h3v5h-3zM450 1414h4v5h-4zM620 1414h4v5h-4zM793 1414h7v5h-7zM553 1414h3v5h-3zM772 1414h7v5h-7zM284 1414h3v5h-3zM539 1414h3v10h-3zM514 1414h3v10h-3zM606 1414h3v10h-3zM287 1419h4v5h-4zM567 1419h3v5h-3zM772 1419h14v5h-14zM546 1419h7v5h-7zM266 1419h4v5h-4zM312 1419h4v5h-4zM358 1419h4v5h-4zM524 1419h4v5h-4zM486 1419h3v5h-3zM769 1424h3v5h-3zM776 1424h7v5h-7zM786 1424h4v5h-4zM528 1424h4v9h-4zM779 1429h4v4h-4zM616 1429h8v4h-8zM510 1429h4v4h-4zM578 1429h3v4h-3zM503 1433h4v5h-4zM578 1433h7v5h-7zM546 1424h3v19h-3zM524 1438h4v5h-4zM570 1438h4v5h-4zM379 1443h4v5h-4zM507 1443h3v5h-3zM574 1443h7v5h-7zM312 1443h4v5h-4zM238 1443h3v5h-3zM489 1443h11v5h-11zM422 1443h3v5h-3zM514 1443h3v5h-3zM309 1448h3v5h-3zM478 1448h4v5h-4zM560 1448h3v5h-3zM578 1448h3v5h-3zM471 1453h4v4h-4zM556 1453h7v4h-7zM185 1457h3v5h-3zM475 1457h3v5h-3zM330 1457h3v5h-3zM560 1457h3v5h-3zM613 1462h3v5h-3zM326 1462h4v5h-4zM609 1467h4v5h-4zM150 1467h3v5h-3zM560 1467h3v5h-3zM592 1467h3v5h-3zM500 1467h3v9h-3zM517 1472h4v4h-4zM585 1472h3v4h-3zM606 1472h3v4h-3zM535 1472h4v4h-4zM284 1476h7v5h-7zM496 1476h7v5h-7zM256 1476h3v5h-3zM570 1476h4v5h-4zM514 1476h3v5h-3zM609 1481h4v5h-4zM563 1481h4v5h-4zM496 1481h4v5h-4zM383 1481h4v5h-4zM50 1486h4v5h-4zM348 1486h3v5h-3zM556 1486h7v5h-7zM517 1491h4v5h-4zM210 1491h3v5h-3zM404 1491h4v5h-4zM270 1491h3v5h-3zM546 1491h3v5h-3zM616 1491h4v5h-4zM478 1491h4v9h-4zM358 1496h4v4h-4zM316 1496h3v4h-3zM624 1496h7v4h-7zM443 1496h4v4h-4zM160 1496h4v4h-4zM613 1500h7v5h-7zM624 1500h3v5h-3zM390 1500h7v5h-7zM496 1500h4v5h-4zM560 1500h3v5h-3zM549 1500h4v10h-4zM542 1500h4v10h-4zM588 1500h4v10h-4zM408 1505h3v5h-3zM489 1505h4v5h-4zM638 1505h3v5h-3zM351 1505h4v5h-4zM418 1505h4v5h-4zM613 1505h3v5h-3zM627 1505h4v10h-4zM195 1505h4v10h-4zM401 1510h3v5h-3zM493 1510h3v5h-3zM471 1510h4v5h-4zM510 1510h14v5h-14zM592 1510h7v5h-7zM539 1510h7v5h-7zM507 1515h3v4h-3zM478 1515h4v4h-4zM578 1515h3v4h-3zM227 1515h4v4h-4zM546 1515h3v4h-3zM514 1515h3v4h-3zM383 1515h4v4h-4zM436 1515h4v9h-4zM213 1515h4v9h-4zM493 1519h3v5h-3zM280 1519h4v5h-4zM510 1519h4v5h-4zM394 1519h3v5h-3zM521 1519h7v10h-7zM217 1524h3v5h-3zM507 1524h3v5h-3zM496 1524h4v5h-4zM178 1524h3v5h-3zM578 1524h3v5h-3zM563 1529h4v5h-4zM432 1529h4v5h-4zM167 1529h4v5h-4zM500 1529h3v5h-3zM362 1529h3v9h-3zM157 1534h3v4h-3zM581 1534h4v4h-4zM203 1534h3v4h-3zM475 1534h3v4h-3zM567 1534h3v4h-3zM436 1534h4v4h-4zM535 1534h4v4h-4zM496 1534h4v4h-4zM383 1534h4v4h-4zM146 1534h4v4h-4zM556 1534h7v4h-7zM507 1534h3v9h-3zM390 1538h4v5h-4zM556 1538h4v5h-4zM546 1538h3v5h-3zM500 1538h3v5h-3zM241 1538h4v10h-4zM432 1538h4v10h-4zM160 1543h4v5h-4zM150 1543h3v5h-3zM312 1543h4v5h-4zM450 1543h4v5h-4zM542 1543h4v5h-4zM213 1543h4v5h-4zM489 1543h4v5h-4zM411 1543h7v5h-7zM365 1543h4v5h-4z"/>
<path fill="#cc0000" d="M1434 455h3v5h-3zM1356 479h3v5h-3zM1349 484h3v14h-3zM1342 503h10v5h-10zM1419 513h8v4h-8zM1352 513h25v4h-25zM1345 517h4v5h-4zM1352 517h7v5h-7zM1363 517h18v5h-18zM1419 517h11v10h-11zM1370 522h7v5h-7zM1342 522h7v10h-7zM1359 527h4v5h-4zM1416 527h18v5h-18zM1384 532h4v5h-4zM1342 532h10v5h-10zM1324 532h11v5h-11zM1409 532h28v5h-28zM1381 537h17v4h-17zM1324 537h28v4h-28zM1405 537h36v4h-36zM1373 541h4v5h-4zM1416 541h39v5h-39zM1381 541h24v5h-24zM37 541h3v5h-3zM1324 541h7v5h-7zM1338 541h11v10h-11zM1331 546h4v5h-4zM1381 546h21v5h-21zM37 546h6v5h-6zM1437 546h21v5h-21zM1370 546h7v5h-7zM1458 551h7v5h-7zM1356 551h3v5h-3zM1366 551h25v5h-25zM1327 551h8v5h-8zM1338 551h14v5h-14zM1437 551h18v5h-18zM1292 551h4v5h-4zM37 551h21v9h-21zM1398 551h4v9h-4zM1444 556h18v4h-18zM1437 556h4v4h-4zM1324 556h11v4h-11zM1338 556h57v4h-57zM61 556h7v4h-7zM1317 560h32v5h-32zM1448 560h14v5h-14zM1381 560h24v5h-24zM37 560h3v5h-3zM47 560h28v5h-28zM1434 560h7v10h-7zM1381 565h17v5h-17zM1197 565h10v5h-10zM1313 565h11v5h-11zM1455 565h7v5h-7zM1402 565h7v5h-7zM1444 565h7v5h-7zM37 565h45v5h-45zM1327 565h22v10h-22zM1427 570h38v5h-38zM86 570h10v5h-10zM40 570h10v5h-10zM54 570h28v5h-28zM1381 570h31v5h-31zM1197 570h3v5h-3zM1310 570h10v5h-10zM1190 575h3v4h-3zM1359 575h39v4h-39zM58 575h46v4h-46zM1405 575h60v4h-60zM1310 575h39v4h-39zM1161 575h4v4h-4zM1405 579h36v5h-36zM1444 579h21v5h-21zM1317 579h25v5h-25zM1144 579h7v5h-7zM1345 579h43v5h-43zM37 579h70v5h-70zM1458 584h7v5h-7zM1151 584h7v5h-7zM1324 584h64v5h-64zM1193 584h7v5h-7zM72 584h28v5h-28zM1161 584h4v5h-4zM104 584h3v5h-3zM1175 584h4v5h-4zM37 584h31v5h-31zM1398 584h14v5h-14zM1186 584h4v5h-4zM1140 584h4v5h-4zM1416 584h32v10h-32zM37 589h63v5h-63zM1299 589h78v5h-78zM1151 589h10v5h-10zM1384 589h18v5h-18zM1190 589h7v5h-7zM1409 589h3v5h-3zM1144 589h3v10h-3zM104 589h7v10h-7zM61 594h18v5h-18zM37 594h17v5h-17zM1296 594h106v5h-106zM1409 594h7v5h-7zM1175 594h7v5h-7zM1427 594h21v5h-21zM1154 594h4v5h-4zM82 594h7v9h-7zM1405 599h18v4h-18zM1441 599h7v4h-7zM1373 599h22v4h-22zM1292 599h60v4h-60zM1274 599h8v4h-8zM1363 599h3v4h-3zM1214 599h4v4h-4zM1430 599h7v4h-7zM37 599h38v9h-38zM1381 603h14v5h-14zM1444 603h4v5h-4zM1144 603h3v5h-3zM1282 603h3v5h-3zM1342 603h3v5h-3zM1303 603h35v5h-35zM1267 603h11v5h-11zM86 603h3v5h-3zM1405 603h22v5h-22zM100 599h14v14h-14zM1370 603h7v10h-7zM1416 608h7v5h-7zM40 608h35v5h-35zM1434 608h3v5h-3zM1381 608h7v5h-7zM1264 608h14v5h-14zM1299 608h25v5h-25zM1448 608h14v5h-14zM1232 608h4v5h-4zM1250 608h10v5h-10zM1037 608h29v10h-29zM1221 608h7v10h-7zM1395 608h3v10h-3zM40 613h14v5h-14zM1306 613h7v5h-7zM100 613h4v5h-4zM991 613h4v5h-4zM1381 613h10v5h-10zM1271 613h7v5h-7zM1423 613h4v5h-4zM1430 613h14v5h-14zM1289 613h7v5h-7zM1416 613h3v5h-3zM61 613h11v5h-11zM1366 613h11v5h-11zM1253 613h11v5h-11zM1243 613h3v5h-3zM107 613h7v5h-7zM1451 613h11v9h-11zM1076 613h7v9h-7zM1430 618h4v4h-4zM1207 618h7v4h-7zM75 618h14v4h-14zM1048 618h4v4h-4zM1098 618h3v4h-3zM1190 618h3v4h-3zM1055 618h4v4h-4zM903 618h7v4h-7zM981 618h3v4h-3zM1366 618h39v4h-39zM47 618h25v4h-25zM1218 618h18v4h-18zM1243 618h24v4h-24zM1285 618h11v4h-11zM1409 618h18v4h-18zM100 618h14v4h-14zM1062 618h7v9h-7zM1274 618h8v9h-8zM40 618h3v9h-3zM917 622h4v5h-4zM991 622h7v5h-7zM50 622h39v5h-39zM1030 622h7v5h-7zM1239 622h11v5h-11zM1455 622h7v5h-7zM1225 622h3v5h-3zM96 622h15v5h-15zM1285 622h21v5h-21zM977 622h7v5h-7zM1257 622h10v5h-10zM1377 622h18v5h-18zM892 622h18v5h-18zM1090 622h8v5h-8zM1179 622h3v5h-3zM1412 622h11v5h-11zM1430 622h7v10h-7zM93 627h18v5h-18zM1044 627h8v5h-8zM47 627h39v5h-39zM1412 627h15v5h-15zM914 627h7v5h-7zM882 627h28v5h-28zM1274 627h11v5h-11zM1030 627h4v5h-4zM1172 627h7v5h-7zM1373 627h18v5h-18zM1260 627h7v5h-7zM977 627h4v5h-4zM1395 627h10v5h-10zM1465 627h4v5h-4zM995 627h3v5h-3zM1236 627h7v5h-7zM1292 627h7v5h-7zM1080 622h3v15h-3zM1090 627h4v10h-4zM1384 632h7v5h-7zM68 632h18v5h-18zM1200 632h4v5h-4zM1292 632h4v5h-4zM1228 632h4v5h-4zM1395 632h32v5h-32zM1267 632h4v5h-4zM1306 632h4v5h-4zM977 632h14v5h-14zM1462 632h11v5h-11zM1278 632h4v5h-4zM878 632h25v5h-25zM1444 632h7v5h-7zM1236 632h3v5h-3zM1377 632h4v5h-4zM1253 632h4v5h-4zM89 632h11v5h-11zM107 632h7v5h-7zM1430 632h11v5h-11zM1260 632h4v5h-4zM1048 632h4v10h-4zM37 632h24v10h-24zM1434 637h17v5h-17zM882 637h10v5h-10zM1030 637h7v5h-7zM1190 637h3v5h-3zM107 637h11v5h-11zM68 637h36v5h-36zM1462 637h7v5h-7zM1264 637h3v5h-3zM1274 637h4v5h-4zM1006 637h7v5h-7zM1257 637h3v5h-3zM984 637h7v5h-7zM868 637h7v5h-7zM1427 637h3v5h-3zM1076 637h4v5h-4zM1055 637h4v9h-4zM1094 637h4v9h-4zM1225 637h14v9h-14zM72 642h7v4h-7zM1250 642h10v4h-10zM111 642h3v4h-3zM864 642h14v4h-14zM37 642h28v4h-28zM1041 642h3v4h-3zM1186 642h4v4h-4zM1002 642h4v4h-4zM1264 642h10v4h-10zM917 637h7v14h-7zM1083 642h4v9h-4zM984 642h4v9h-4zM1412 646h4v5h-4zM1048 646h4v5h-4zM1006 646h3v5h-3zM1200 646h4v5h-4zM68 646h11v5h-11zM1228 646h4v5h-4zM1267 646h11v5h-11zM991 646h4v5h-4zM857 646h14v5h-14zM1257 646h3v5h-3zM37 646h21v5h-21zM1027 646h3v5h-3zM1236 646h14v5h-14zM89 642h15v14h-15zM1384 651h7v5h-7zM1221 651h11v5h-11zM68 651h7v5h-7zM988 651h7v5h-7zM1175 651h4v5h-4zM1090 651h4v5h-4zM37 651h17v5h-17zM857 651h7v5h-7zM1253 651h14v5h-14zM1409 651h7v5h-7zM1186 651h4v5h-4zM1236 651h10v5h-10zM846 651h4v5h-4zM1193 651h11v5h-11zM998 651h15v5h-15zM107 651h14v5h-14zM1395 651h10v5h-10zM1055 651h4v10h-4zM977 651h4v10h-4zM1395 656h7v5h-7zM1250 656h10v5h-10zM995 656h14v5h-14zM37 656h13v5h-13zM1409 656h3v5h-3zM1080 656h3v5h-3zM61 656h18v5h-18zM910 656h11v5h-11zM1168 656h32v5h-32zM104 656h17v5h-17zM1013 656h3v5h-3zM93 656h7v5h-7zM839 656h14v5h-14zM1044 656h4v5h-4zM1129 661h4v4h-4zM1384 661h4v4h-4zM1158 661h3v4h-3zM914 661h14v4h-14zM1207 661h4v4h-4zM1083 661h4v4h-4zM1175 661h4v4h-4zM1225 661h3v4h-3zM829 661h10v4h-10zM54 661h25v4h-25zM37 661h10v4h-10zM991 661h15v4h-15zM89 661h7v4h-7zM1090 661h15v4h-15zM1253 661h4v4h-4zM107 661h7v4h-7zM1168 661h4v4h-4zM1395 661h21v9h-21zM907 665h3v5h-3zM914 665h3v5h-3zM822 665h21v5h-21zM1023 665h4v5h-4zM1133 665h3v5h-3zM1002 665h7v5h-7zM1080 665h21v5h-21zM1221 665h7v5h-7zM37 665h3v5h-3zM988 665h10v5h-10zM104 665h10v5h-10zM89 665h11v5h-11zM68 665h11v10h-11zM815 670h21v5h-21zM1006 670h3v5h-3zM1083 670h4v5h-4zM914 670h7v5h-7zM1225 670h3v5h-3zM1105 670h7v5h-7zM93 670h21v5h-21zM977 670h4v5h-4zM1069 670h4v5h-4zM1090 670h8v5h-8zM1076 670h4v5h-4zM1016 670h11v10h-11zM1133 670h7v10h-7zM1087 675h14v5h-14zM65 675h14v5h-14zM1218 675h7v5h-7zM815 675h14v5h-14zM914 675h3v5h-3zM1105 675h3v5h-3zM96 675h15v5h-15zM1062 675h18v5h-18zM1172 675h7v5h-7zM935 675h3v5h-3zM1200 675h7v5h-7zM1204 680h21v4h-21zM811 680h14v4h-14zM1228 680h4v4h-4zM914 680h7v4h-7zM1186 680h7v4h-7zM981 680h7v4h-7zM1076 680h32v4h-32zM1112 680h3v4h-3zM40 680h10v4h-10zM1140 680h14v4h-14zM65 680h7v4h-7zM96 680h18v4h-18zM1009 680h7v9h-7zM1080 684h18v5h-18zM1218 684h7v5h-7zM1190 684h3v5h-3zM815 684h7v5h-7zM96 684h22v5h-22zM65 684h3v5h-3zM1101 684h4v5h-4zM40 684h3v5h-3zM984 684h4v5h-4zM1179 684h3v5h-3zM1034 684h3v5h-3zM47 684h3v10h-3zM914 684h3v10h-3zM921 684h3v10h-3zM804 689h3v5h-3zM935 689h7v5h-7zM1016 689h4v5h-4zM1023 689h4v5h-4zM1080 689h10v5h-10zM1030 689h4v5h-4zM1186 689h4v5h-4zM86 689h32v5h-32zM1204 689h3v5h-3zM65 689h7v5h-7zM1218 689h10v5h-10zM1044 689h4v5h-4zM1158 675h3v24h-3zM1112 694h3v5h-3zM811 694h4v5h-4zM1179 694h14v5h-14zM977 694h4v5h-4zM37 694h35v5h-35zM1105 694h3v5h-3zM1221 694h4v5h-4zM1076 694h14v5h-14zM1041 694h3v5h-3zM1133 694h3v5h-3zM800 694h7v5h-7zM1052 694h3v5h-3zM1172 694h3v10h-3zM96 694h4v10h-4zM107 694h7v10h-7zM1062 694h4v10h-4zM1087 699h7v5h-7zM1190 699h3v5h-3zM800 699h15v5h-15zM37 699h38v5h-38zM991 699h4v5h-4zM1182 699h4v5h-4zM1356 699h3v5h-3zM1370 699h18v5h-18zM910 699h11v5h-11zM928 699h3v5h-3zM1335 699h10v5h-10zM1101 699h4v5h-4zM1151 699h3v5h-3zM1052 699h7v5h-7zM1020 699h3v9h-3zM1119 699h10v9h-10zM1161 699h4v9h-4zM1112 704h3v4h-3zM1087 704h11v4h-11zM1066 704h3v4h-3zM903 704h4v4h-4zM1324 704h64v4h-64zM1101 704h7v4h-7zM37 704h13v4h-13zM1013 704h3v4h-3zM1313 704h4v4h-4zM914 704h10v4h-10zM54 704h21v4h-21zM1027 704h3v9h-3zM797 704h14v9h-14zM995 708h11v5h-11zM1165 708h14v5h-14zM1158 708h3v5h-3zM37 708h38v5h-38zM1105 708h3v5h-3zM1151 708h3v5h-3zM1310 708h78v5h-78zM1083 708h15v5h-15zM1052 708h3v5h-3zM1073 708h3v10h-3zM793 713h14v5h-14zM1349 713h35v5h-35zM1055 713h4v5h-4zM37 713h35v5h-35zM1009 713h4v5h-4zM1041 713h7v5h-7zM1147 713h4v5h-4zM79 713h17v5h-17zM945 713h4v5h-4zM1023 713h7v5h-7zM1122 713h7v5h-7zM1140 713h4v5h-4zM1062 713h4v5h-4zM1303 713h39v5h-39zM1034 713h3v5h-3zM914 713h3v5h-3zM931 718h11v5h-11zM1349 718h17v5h-17zM1041 718h3v5h-3zM1292 718h14v5h-14zM984 718h4v5h-4zM910 718h7v5h-7zM61 718h7v5h-7zM1144 718h7v5h-7zM1186 718h4v5h-4zM37 718h21v5h-21zM793 718h11v5h-11zM1161 713h4v14h-4zM75 718h18v9h-18zM1282 723h24v4h-24zM1087 723h7v4h-7zM907 723h3v4h-3zM1112 723h7v4h-7zM40 723h18v4h-18zM981 723h7v4h-7zM1069 723h7v4h-7zM921 723h3v4h-3zM61 723h4v4h-4zM1122 718h4v14h-4zM125 727h3v5h-3zM1278 727h21v5h-21zM1161 727h7v5h-7zM1108 727h11v5h-11zM1002 727h7v5h-7zM37 727h21v5h-21zM793 723h7v14h-7zM1073 727h3v10h-3zM79 727h3v10h-3zM1023 732h7v5h-7zM1271 732h21v5h-21zM1016 732h4v5h-4zM1115 732h11v5h-11zM1083 732h4v5h-4zM118 732h14v5h-14zM758 732h7v5h-7zM1161 732h11v5h-11zM1151 732h3v5h-3zM1108 732h4v10h-4zM37 732h31v10h-31zM790 737h10v5h-10zM761 737h8v5h-8zM910 737h7v5h-7zM1066 737h7v5h-7zM1158 737h7v5h-7zM984 737h7v5h-7zM1037 737h11v5h-11zM744 737h14v5h-14zM72 737h3v5h-3zM1013 737h3v5h-3zM1020 737h10v5h-10zM160 737h11v9h-11zM118 737h28v9h-28zM1182 742h4v4h-4zM988 742h3v4h-3zM1172 742h3v4h-3zM793 742h7v4h-7zM740 742h11v4h-11zM1105 742h3v4h-3zM37 742h28v4h-28zM1059 742h3v4h-3zM1133 742h3v4h-3zM772 742h4v4h-4zM998 742h4v4h-4zM1090 742h4v4h-4zM1020 742h7v9h-7zM1087 746h7v5h-7zM988 746h7v5h-7zM1136 746h4v5h-4zM1175 746h4v5h-4zM1253 746h7v5h-7zM772 746h7v5h-7zM970 746h4v5h-4zM1002 746h4v5h-4zM121 746h25v5h-25zM1101 746h4v5h-4zM945 746h4v5h-4zM1168 746h4v5h-4zM1126 742h3v14h-3zM1112 742h7v14h-7zM1055 746h7v10h-7zM1030 746h4v10h-4zM733 746h7v10h-7zM164 746h10v10h-10zM974 751h3v5h-3zM991 751h4v5h-4zM1083 751h4v5h-4zM1090 751h4v5h-4zM1073 751h7v5h-7zM1161 751h7v5h-7zM1006 751h7v5h-7zM776 751h3v5h-3zM1232 751h14v5h-14zM910 746h4v15h-4zM1136 751h8v10h-8zM963 756h7v5h-7zM776 756h7v5h-7zM167 756h7v5h-7zM730 756h7v5h-7zM1165 756h3v5h-3zM1126 756h7v5h-7zM1062 756h4v5h-4zM1225 756h14v5h-14zM1009 756h4v5h-4zM1101 756h4v5h-4zM790 746h10v20h-10zM967 761h10v5h-10zM1055 761h4v5h-4zM164 761h10v5h-10zM726 761h11v5h-11zM1009 761h7v5h-7zM1133 761h7v5h-7zM1037 761h4v5h-4zM1179 761h3v5h-3zM1221 761h15v5h-15zM1108 761h4v5h-4zM160 766h14v4h-14zM1119 766h3v4h-3zM1073 766h3v4h-3zM779 761h7v14h-7zM995 761h3v14h-3zM1030 761h4v14h-4zM974 766h3v9h-3zM797 766h3v9h-3zM1059 766h3v9h-3zM1090 766h8v9h-8zM1218 766h10v9h-10zM1108 770h7v5h-7zM1126 770h3v5h-3zM1066 770h3v5h-3zM1073 770h7v5h-7zM907 770h3v5h-3zM1172 770h7v5h-7zM164 770h14v5h-14zM730 766h3v14h-3zM1144 770h3v10h-3zM1136 770h4v10h-4zM1105 775h7v5h-7zM988 775h3v5h-3zM167 775h11v5h-11zM921 775h3v5h-3zM910 775h4v5h-4zM1076 775h7v5h-7zM1165 766h3v19h-3zM1214 775h14v10h-14zM171 780h3v5h-3zM921 780h7v5h-7zM1027 780h3v5h-3zM1112 780h7v5h-7zM1002 780h4v5h-4zM1154 780h4v5h-4zM1020 780h3v5h-3zM779 785h4v4h-4zM907 785h3v4h-3zM786 785h11v4h-11zM1214 785h11v4h-11zM974 785h7v4h-7zM740 785h7v4h-7zM914 785h3v4h-3zM1126 780h3v14h-3zM885 789h4v5h-4zM903 789h4v5h-4zM1211 789h7v5h-7zM1101 789h4v5h-4zM744 789h10v5h-10zM776 789h3v5h-3zM938 789h4v5h-4zM786 789h7v5h-7zM1140 789h7v5h-7zM977 789h11v5h-11zM931 785h4v14h-4zM751 794h10v5h-10zM907 794h7v5h-7zM769 794h10v5h-10zM1207 794h7v5h-7zM1037 794h4v5h-4zM995 794h3v5h-3zM1020 794h7v5h-7zM1122 794h7v5h-7zM542 794h21v5h-21zM977 794h14v5h-14zM931 799h11v5h-11zM804 799h7v5h-7zM758 799h7v5h-7zM1204 799h7v5h-7zM988 799h7v5h-7zM1030 799h7v5h-7zM811 804h4v4h-4zM857 804h4v4h-4zM942 804h11v4h-11zM984 804h11v4h-11zM1013 804h3v4h-3zM864 804h4v4h-4zM1197 804h17v4h-17zM882 799h3v14h-3zM960 804h7v9h-7zM861 808h7v5h-7zM1197 808h10v5h-10zM896 808h14v5h-14zM532 808h21v5h-21zM981 808h14v5h-14zM535 813h4v5h-4zM981 813h3v5h-3zM1006 813h3v5h-3zM822 813h3v5h-3zM1016 813h4v5h-4zM935 813h28v10h-28zM928 818h3v5h-3zM988 818h3v5h-3zM825 818h4v5h-4zM967 818h3v5h-3zM949 823h7v5h-7zM917 823h7v5h-7zM991 823h4v5h-4zM843 823h3v5h-3zM928 823h7v5h-7zM938 823h7v5h-7zM839 828h32v4h-32zM938 828h18v4h-18zM804 828h14v4h-14zM914 828h3v4h-3zM829 823h3v14h-3zM924 828h4v9h-4zM1016 828h4v9h-4zM945 832h11v5h-11zM839 832h25v5h-25zM981 832h3v5h-3zM935 832h3v5h-3zM995 832h3v5h-3zM1002 832h4v5h-4zM800 832h22v5h-22zM914 832h7v10h-7zM970 832h4v10h-4zM853 837h8v5h-8zM998 837h8v5h-8zM811 837h14v5h-14zM850 842h3v5h-3zM1013 842h3v5h-3zM998 842h4v5h-4zM907 842h10v9h-10zM836 842h3v9h-3zM998 847h8v4h-8zM984 847h4v4h-4zM846 847h4v4h-4zM843 851h7v5h-7zM910 851h11v5h-11zM967 851h3v5h-3zM998 851h11v5h-11zM935 851h3v5h-3zM705 851h11v5h-11zM662 851h4v5h-4zM754 851h7v5h-7zM1016 851h7v5h-7zM942 856h3v5h-3zM853 856h8v5h-8zM733 856h4v5h-4zM776 856h14v5h-14zM829 856h7v5h-7zM907 856h10v5h-10zM931 856h7v5h-7zM921 856h3v5h-3zM754 856h4v5h-4zM698 856h21v5h-21zM839 856h11v5h-11zM1020 856h3v5h-3zM899 851h4v15h-4zM666 856h7v10h-7zM1002 856h4v10h-4zM857 861h4v5h-4zM875 861h3v5h-3zM907 861h3v5h-3zM730 861h7v5h-7zM779 861h11v5h-11zM846 861h4v5h-4zM701 861h11v5h-11zM921 861h14v5h-14zM758 861h11v5h-11zM825 861h4v10h-4zM843 866h7v5h-7zM754 866h15v5h-15zM524 866h4v5h-4zM514 866h3v5h-3zM730 866h3v5h-3zM553 866h3v5h-3zM970 866h11v5h-11zM924 866h14v5h-14zM1009 866h7v9h-7zM786 866h11v9h-11zM967 871h10v4h-10zM507 871h3v4h-3zM903 871h7v4h-7zM546 871h7v4h-7zM754 871h7v4h-7zM500 871h3v4h-3zM517 871h11v4h-11zM988 871h10v4h-10zM836 871h21v4h-21zM716 871h10v4h-10zM928 871h7v4h-7zM825 875h4v5h-4zM716 875h7v5h-7zM924 875h11v5h-11zM542 875h7v5h-7zM815 875h7v5h-7zM521 875h7v5h-7zM846 875h11v5h-11zM899 875h15v5h-15zM705 875h7v5h-7zM836 875h3v5h-3zM974 875h7v10h-7zM737 875h3v10h-3zM899 880h18v5h-18zM1126 880h7v5h-7zM535 880h11v5h-11zM921 880h14v5h-14zM850 880h11v5h-11zM1140 880h14v5h-14zM995 880h3v5h-3zM705 880h11v5h-11zM698 880h3v10h-3zM507 885h3v5h-3zM1147 885h7v5h-7zM903 885h21v5h-21zM981 885h17v5h-17zM708 885h8v5h-8zM1161 885h7v5h-7zM733 885h7v5h-7zM832 885h7v5h-7zM535 885h14v5h-14zM496 880h4v14h-4zM807 885h4v9h-4zM599 890h3v4h-3zM907 890h21v4h-21zM974 890h3v4h-3zM585 890h3v4h-3zM510 890h4v4h-4zM988 890h10v4h-10zM1161 890h11v4h-11zM733 890h11v4h-11zM850 885h7v14h-7zM765 890h7v9h-7zM1158 894h14v5h-14zM991 894h11v5h-11zM581 894h7v5h-7zM128 894h7v5h-7zM740 894h7v5h-7zM542 890h7v14h-7zM786 890h7v14h-7zM507 894h10v10h-10zM726 899h4v5h-4zM500 899h3v5h-3zM1161 899h11v5h-11zM984 899h18v5h-18zM556 899h14v5h-14zM850 899h11v5h-11zM528 899h7v5h-7zM128 899h14v10h-14zM921 899h7v10h-7zM535 904h7v5h-7zM988 904h14v5h-14zM800 904h4v5h-4zM723 904h7v5h-7zM1115 904h11v5h-11zM553 904h17v5h-17zM850 904h7v5h-7zM1030 904h4v5h-4zM496 904h7v5h-7zM747 904h7v9h-7zM606 904h3v9h-3zM528 904h4v9h-4zM1154 904h18v9h-18zM496 909h4v4h-4zM758 909h3v4h-3zM914 909h21v4h-21zM1119 909h7v4h-7zM998 909h4v4h-4zM1034 909h3v4h-3zM553 909h7v4h-7zM991 909h4v9h-4zM125 909h10v9h-10zM853 909h4v9h-4zM800 909h7v9h-7zM914 913h10v5h-10zM1151 913h17v5h-17zM1144 913h3v5h-3zM843 913h3v5h-3zM1126 913h10v5h-10zM928 913h7v5h-7zM549 913h11v5h-11zM815 913h7v10h-7zM592 913h3v10h-3zM542 918h7v5h-7zM1126 918h7v5h-7zM121 918h18v5h-18zM1115 918h7v10h-7zM917 918h14v10h-14zM1151 918h10v10h-10zM1013 923h7v5h-7zM75 923h4v5h-4zM592 923h10v5h-10zM121 923h14v5h-14zM620 923h7v5h-7zM436 923h28v5h-28zM567 923h7v10h-7zM953 923h3v10h-3zM1151 928h7v5h-7zM588 928h11v5h-11zM832 928h11v5h-11zM75 928h7v5h-7zM882 928h3v5h-3zM850 928h3v5h-3zM118 928h14v5h-14zM921 928h10v5h-10zM602 928h4v5h-4zM436 928h42v5h-42zM793 928h4v5h-4zM1119 928h3v5h-3zM1172 928h7v9h-7zM609 928h4v9h-4zM567 933h11v4h-11zM1154 933h7v4h-7zM910 933h18v4h-18zM832 933h14v4h-14zM89 933h4v4h-4zM432 933h46v4h-46zM79 933h3v4h-3zM121 933h7v9h-7zM832 937h18v5h-18zM907 937h10v5h-10zM924 937h4v5h-4zM1175 937h4v5h-4zM422 937h28v5h-28zM1030 937h4v5h-4zM457 937h21v5h-21zM1151 937h17v5h-17zM1020 937h3v5h-3zM86 937h7v5h-7zM114 937h4v5h-4zM1140 937h7v5h-7zM549 937h11v5h-11zM563 937h15v10h-15zM984 937h4v10h-4zM1126 942h3v5h-3zM471 942h7v5h-7zM422 942h10v5h-10zM443 942h7v5h-7zM595 942h7v5h-7zM889 942h3v5h-3zM903 942h11v5h-11zM1009 942h11v5h-11zM114 942h11v5h-11zM836 942h14v5h-14zM1140 942h32v5h-32zM457 942h11v5h-11zM553 942h7v5h-7zM1175 942h7v10h-7zM1023 942h11v10h-11zM111 947h10v5h-10zM595 947h14v5h-14zM411 947h18v5h-18zM556 947h4v5h-4zM970 947h7v5h-7zM1006 947h7v5h-7zM1144 947h28v5h-28zM457 947h7v5h-7zM836 947h7v5h-7zM963 952h7v4h-7zM450 952h28v4h-28zM1027 952h7v4h-7zM107 952h11v4h-11zM1133 952h3v4h-3zM415 952h14v4h-14zM1144 952h31v4h-31zM903 952h4v4h-4zM861 952h3v4h-3zM921 952h3v4h-3zM1179 952h3v4h-3zM440 952h3v4h-3zM991 952h4v9h-4zM1158 956h24v5h-24zM411 956h14v5h-14zM1016 956h4v5h-4zM1136 956h15v5h-15zM436 956h4v5h-4zM899 956h18v5h-18zM861 956h7v5h-7zM457 956h25v5h-25zM956 956h14v5h-14zM1006 952h3v14h-3zM104 956h10v10h-10zM747 961h7v5h-7zM730 961h3v5h-3zM415 961h7v5h-7zM595 961h7v5h-7zM638 961h7v5h-7zM454 961h21v5h-21zM786 961h7v5h-7zM899 961h22v5h-22zM1168 961h14v5h-14zM609 961h4v5h-4zM659 961h3v5h-3zM1027 961h3v5h-3zM620 961h7v5h-7zM1140 961h7v5h-7zM387 966h3v5h-3zM655 966h7v5h-7zM733 966h4v5h-4zM1020 966h14v5h-14zM638 966h3v5h-3zM436 966h4v5h-4zM903 966h18v5h-18zM96 966h8v5h-8zM450 966h11v5h-11zM790 966h7v5h-7zM588 966h39v5h-39zM751 966h3v5h-3zM1161 966h4v5h-4zM482 966h4v5h-4zM1172 966h7v9h-7zM404 971h11v4h-11zM454 971h3v4h-3zM436 971h11v4h-11zM991 971h4v4h-4zM585 971h24v4h-24zM645 971h3v4h-3zM418 971h4v4h-4zM482 971h7v4h-7zM1006 971h7v4h-7zM1020 971h3v4h-3zM620 971h21v4h-21zM659 971h3v4h-3zM574 971h4v4h-4zM461 971h14v4h-14zM896 971h28v4h-28zM383 971h7v9h-7zM790 971h14v9h-14zM684 971h3v9h-3zM96 975h4v5h-4zM620 975h32v5h-32zM730 975h3v5h-3zM1006 975h3v5h-3zM454 975h21v5h-21zM578 975h3v5h-3zM432 975h15v5h-15zM889 975h32v5h-32zM1119 975h17v5h-17zM86 975h7v5h-7zM355 975h17v5h-17zM588 975h18v5h-18zM411 975h14v10h-14zM379 980h25v5h-25zM362 980h10v5h-10zM454 980h3v5h-3zM291 980h4v5h-4zM567 980h7v5h-7zM616 980h36v5h-36zM899 980h18v5h-18zM86 980h14v5h-14zM581 980h25v5h-25zM464 980h14v5h-14zM998 980h8v10h-8zM1115 980h21v10h-21zM570 985h8v5h-8zM280 985h4v5h-4zM585 985h24v5h-24zM634 985h18v5h-18zM1172 985h3v5h-3zM737 985h3v5h-3zM613 985h11v5h-11zM404 985h25v5h-25zM878 985h4v5h-4zM291 985h7v5h-7zM889 980h7v15h-7zM468 985h10v10h-10zM776 985h3v10h-3zM638 990h17v5h-17zM1129 990h11v5h-11zM539 990h3v5h-3zM631 990h3v5h-3zM404 990h4v5h-4zM440 990h7v5h-7zM882 990h3v5h-3zM1115 990h11v5h-11zM871 990h7v5h-7zM995 990h7v5h-7zM574 990h21v5h-21zM599 990h25v5h-25zM454 990h7v5h-7zM1236 990h17v5h-17zM921 990h3v5h-3zM273 990h4v5h-4zM89 985h11v14h-11zM931 990h4v9h-4zM415 990h10v9h-10zM471 995h7v4h-7zM616 995h18v4h-18zM270 995h10v4h-10zM638 995h10v4h-10zM1115 995h25v4h-25zM882 995h10v4h-10zM896 995h7v4h-7zM450 995h14v4h-14zM868 995h10v4h-10zM570 995h43v4h-43zM429 995h18v4h-18zM539 995h17v4h-17zM917 995h11v9h-11zM652 995h3v9h-3zM641 999h4v5h-4zM355 999h3v5h-3zM263 999h14v5h-14zM1115 999h7v5h-7zM1129 999h15v5h-15zM471 999h4v5h-4zM1055 999h4v5h-4zM570 999h64v5h-64zM394 999h7v5h-7zM899 999h4v5h-4zM89 999h7v5h-7zM104 999h14v5h-14zM864 999h25v5h-25zM1236 995h14v14h-14zM418 999h50v10h-50zM539 1004h3v5h-3zM1115 1004h29v5h-29zM567 1004h18v5h-18zM362 1004h7v5h-7zM638 1004h7v5h-7zM1083 1004h4v5h-4zM938 1004h11v5h-11zM150 1004h14v5h-14zM546 1004h14v5h-14zM390 1004h14v5h-14zM588 1004h32v5h-32zM107 1004h14v5h-14zM1013 1004h3v5h-3zM256 1004h3v5h-3zM263 1004h10v5h-10zM924 1004h7v5h-7zM624 1004h7v10h-7zM864 1004h11v10h-11zM408 1004h3v10h-3zM878 1004h11v10h-11zM783 1009h3v5h-3zM464 1009h4v5h-4zM761 1009h15v5h-15zM638 1009h3v5h-3zM252 1009h18v5h-18zM111 1009h28v5h-28zM535 1009h50v5h-50zM514 1009h14v5h-14zM142 1009h25v5h-25zM998 1009h11v5h-11zM1126 1009h25v5h-25zM358 1009h11v5h-11zM418 1009h11v5h-11zM602 1009h11v5h-11zM917 1009h28v5h-28zM1236 1009h17v5h-17zM390 1009h11v5h-11zM588 1009h7v5h-7zM436 1009h21v5h-21zM1239 1014h14v4h-14zM164 1014h7v4h-7zM599 1014h3v4h-3zM436 1014h25v4h-25zM655 1014h4v4h-4zM524 1014h36v4h-36zM362 1014h7v4h-7zM563 1014h18v4h-18zM514 1014h7v4h-7zM227 1014h36v4h-36zM415 1014h14v4h-14zM694 1014h7v4h-7zM627 1014h4v4h-4zM758 1014h14v4h-14zM121 1014h32v4h-32zM882 1014h7v4h-7zM917 1014h21v4h-21zM705 1014h18v4h-18zM390 1014h4v4h-4zM868 1014h7v4h-7zM998 1014h8v4h-8zM348 1014h3v4h-3zM984 1014h4v4h-4zM903 1014h7v9h-7zM991 1014h4v9h-4zM454 1018h10v5h-10zM528 1018h32v5h-32zM687 1018h39v5h-39zM914 1018h21v5h-21zM638 1018h7v5h-7zM595 1018h4v5h-4zM609 1018h7v5h-7zM885 1018h7v5h-7zM652 1018h10v5h-10zM868 1018h3v5h-3zM125 1018h25v5h-25zM570 1018h4v5h-4zM224 1018h32v5h-32zM486 1018h3v10h-3zM411 1018h32v10h-32zM549 1023h4v5h-4zM203 1023h14v5h-14zM864 1023h11v5h-11zM652 1023h7v5h-7zM528 1023h18v5h-18zM687 1023h7v5h-7zM850 1023h7v5h-7zM167 1023h4v5h-4zM885 1023h14v5h-14zM185 1023h3v5h-3zM634 1023h4v5h-4zM192 1023h3v5h-3zM1002 1023h4v5h-4zM447 1023h24v5h-24zM224 1023h28v5h-28zM592 1023h7v5h-7zM761 1018h11v15h-11zM914 1023h10v10h-10zM609 1023h4v10h-4zM556 1023h7v10h-7zM875 1028h3v5h-3zM864 1028h4v5h-4zM655 1028h4v5h-4zM747 1028h4v5h-4zM486 1028h10v5h-10zM415 1028h14v5h-14zM524 1028h15v5h-15zM981 1028h7v5h-7zM687 1028h4v5h-4zM432 1028h8v5h-8zM542 1028h4v5h-4zM776 1028h3v5h-3zM401 1028h7v5h-7zM203 1028h17v5h-17zM447 1028h17v5h-17zM935 1028h3v5h-3zM998 1028h8v5h-8zM171 1028h10v5h-10zM570 1023h8v14h-8zM698 1023h28v14h-28zM468 1028h7v9h-7zM850 1028h3v9h-3zM885 1028h18v9h-18zM956 1028h7v9h-7zM1243 1033h7v4h-7zM800 1033h4v4h-4zM761 1033h8v4h-8zM528 1033h11v4h-11zM691 1033h3v4h-3zM401 1033h17v4h-17zM447 1033h7v4h-7zM977 1033h14v4h-14zM542 1033h18v4h-18zM478 1033h18v4h-18zM425 1033h11v4h-11zM37 1033h3v4h-3zM861 1033h7v4h-7zM677 1033h7v4h-7zM588 1028h11v14h-11zM776 1037h14v5h-14zM404 1037h4v5h-4zM716 1037h7v5h-7zM889 1037h10v5h-10zM981 1037h10v5h-10zM96 1037h15v5h-15zM425 1037h7v5h-7zM546 1037h14v5h-14zM482 1037h14v5h-14zM694 1037h11v5h-11zM853 1037h18v5h-18zM1236 1037h10v5h-10zM761 1037h11v5h-11zM793 1037h11v5h-11zM684 1037h7v5h-7zM1013 1037h3v5h-3zM528 1037h7v5h-7zM570 1037h4v5h-4zM1218 1042h7v5h-7zM471 1042h4v5h-4zM747 1042h4v5h-4zM730 1042h7v5h-7zM1002 1042h18v5h-18zM592 1042h3v5h-3zM684 1042h3v5h-3zM489 1042h7v5h-7zM853 1042h4v5h-4zM482 1042h4v5h-4zM892 1042h4v5h-4zM96 1042h18v5h-18zM793 1042h14v10h-14zM758 1042h21v10h-21zM861 1042h21v10h-21zM616 1047h4v5h-4zM1002 1047h7v5h-7zM645 1047h3v5h-3zM694 1047h4v5h-4zM652 1047h3v5h-3zM889 1047h18v5h-18zM100 1047h21v5h-21zM1016 1047h7v5h-7zM815 1047h3v10h-3zM500 1047h3v10h-3zM387 1052h3v5h-3zM648 1052h4v5h-4zM514 1052h3v5h-3zM111 1052h10v5h-10zM613 1052h3v5h-3zM793 1052h7v5h-7zM478 1052h11v5h-11zM1246 1052h4v5h-4zM751 1052h28v5h-28zM1016 1052h14v5h-14zM878 1052h7v9h-7zM747 1057h25v4h-25zM1016 1057h11v4h-11zM811 1057h7v4h-7zM786 1057h21v4h-21zM620 1057h4v4h-4zM553 1057h3v4h-3zM645 1057h3v4h-3zM677 1057h3v4h-3zM510 1057h4v4h-4zM776 1057h3v4h-3zM609 1057h4v4h-4zM889 1057h7v4h-7zM114 1057h4v4h-4zM72 1057h3v4h-3zM387 1057h7v9h-7zM40 1057h3v9h-3zM641 1061h4v5h-4zM47 1061h3v5h-3zM606 1061h3v5h-3zM779 1061h14v5h-14zM747 1061h4v5h-4zM443 1061h4v5h-4zM797 1061h21v5h-21zM758 1061h7v5h-7zM878 1061h18v5h-18zM1013 1061h14v5h-14zM680 1066h4v5h-4zM800 1066h11v5h-11zM638 1066h3v5h-3zM422 1066h3v5h-3zM655 1066h4v5h-4zM613 1066h3v5h-3zM37 1066h13v5h-13zM786 1066h7v5h-7zM602 1066h4v5h-4zM751 1066h3v5h-3zM574 1066h4v5h-4zM1016 1066h14v5h-14zM758 1066h11v10h-11zM606 1071h3v5h-3zM595 1071h7v5h-7zM779 1071h11v5h-11zM677 1071h3v5h-3zM418 1071h4v5h-4zM40 1071h10v5h-10zM570 1071h4v5h-4zM532 1071h3v5h-3zM1016 1071h7v5h-7zM878 1066h14v14h-14zM135 1071h4v9h-4zM673 1076h4v4h-4zM528 1076h4v4h-4zM698 1076h3v4h-3zM542 1076h4v4h-4zM776 1076h3v4h-3zM592 1076h3v4h-3zM567 1076h3v4h-3zM648 1076h7v4h-7zM40 1076h3v4h-3zM666 1076h4v4h-4zM79 1076h10v4h-10zM54 1076h7v9h-7zM634 1076h4v9h-4zM648 1080h11v5h-11zM588 1080h4v5h-4zM524 1080h4v5h-4zM107 1080h4v5h-4zM875 1080h14v5h-14zM694 1080h4v5h-4zM89 1080h7v5h-7zM662 1080h4v5h-4zM37 1080h6v10h-6zM1023 1085h7v5h-7zM652 1085h7v5h-7zM139 1085h3v5h-3zM691 1085h3v5h-3zM878 1085h7v5h-7zM698 1085h3v5h-3zM54 1085h11v5h-11zM535 1085h4v5h-4zM585 1085h3v5h-3zM609 1085h4v5h-4zM984 1085h11v5h-11zM482 1085h4v5h-4zM89 1085h4v5h-4zM560 1085h3v10h-3zM128 1090h4v5h-4zM75 1090h7v5h-7zM111 1090h3v5h-3zM521 1090h14v5h-14zM977 1090h21v5h-21zM50 1090h11v5h-11zM694 1090h4v5h-4zM1016 1090h14v5h-14zM1002 1085h11v15h-11zM507 1090h7v10h-7zM37 1090h10v10h-10zM93 1095h3v5h-3zM107 1095h11v5h-11zM517 1095h15v5h-15zM556 1095h4v5h-4zM977 1095h18v5h-18zM1020 1095h10v5h-10zM50 1095h15v5h-15zM139 1090h7v14h-7zM1016 1100h11v4h-11zM638 1100h3v4h-3zM797 1100h10v4h-10zM991 1100h4v4h-4zM37 1100h31v4h-31zM111 1100h7v4h-7zM82 1100h11v4h-11zM553 1100h3v4h-3zM836 1100h3v4h-3zM998 1100h15v4h-15zM510 1100h11v9h-11zM977 1100h7v9h-7zM40 1104h53v5h-53zM991 1104h32v5h-32zM362 1104h7v5h-7zM613 1104h3v5h-3zM528 1104h4v5h-4zM634 1104h11v5h-11zM772 1104h7v5h-7zM864 1104h7v5h-7zM114 1104h4v5h-4zM797 1104h18v5h-18zM843 1109h7v5h-7zM100 1109h4v5h-4zM627 1109h18v5h-18zM861 1109h10v5h-10zM974 1109h14v5h-14zM991 1109h22v5h-22zM793 1109h18v5h-18zM128 1109h7v5h-7zM769 1109h21v5h-21zM365 1109h11v5h-11zM43 1109h53v5h-53zM553 1109h3v10h-3zM673 1114h4v5h-4zM47 1114h60v5h-60zM631 1114h14v5h-14zM839 1114h11v5h-11zM995 1114h7v5h-7zM730 1114h7v5h-7zM517 1114h7v5h-7zM358 1114h4v5h-4zM772 1114h7v5h-7zM369 1114h7v5h-7zM861 1114h7v5h-7zM348 1104h3v19h-3zM765 1114h4v9h-4zM793 1114h14v9h-14zM387 1119h3v4h-3zM733 1119h4v4h-4zM549 1119h4v4h-4zM372 1119h11v4h-11zM631 1119h3v4h-3zM839 1119h4v4h-4zM43 1119h61v4h-61zM857 1119h7v4h-7zM670 1119h7v4h-7zM517 1119h11v4h-11zM744 1119h7v4h-7zM532 1119h3v4h-3zM355 1119h10v4h-10zM111 1119h10v9h-10zM825 1119h7v9h-7zM96 1123h11v5h-11zM387 1123h14v5h-14zM355 1123h14v5h-14zM333 1123h8v5h-8zM514 1123h3v5h-3zM631 1123h7v5h-7zM761 1123h8v5h-8zM47 1123h46v5h-46zM691 1123h3v5h-3zM528 1123h4v5h-4zM486 1123h3v5h-3zM132 1123h3v5h-3zM793 1123h25v5h-25zM666 1123h7v5h-7zM740 1123h14v5h-14zM620 1123h7v5h-7zM408 1123h7v10h-7zM740 1128h18v5h-18zM524 1128h4v5h-4zM43 1128h96v5h-96zM613 1128h21v5h-21zM765 1128h7v5h-7zM790 1128h25v5h-25zM836 1128h10v5h-10zM330 1128h11v5h-11zM482 1128h4v5h-4zM376 1123h7v15h-7zM358 1128h11v10h-11zM390 1128h7v10h-7zM825 1133h4v5h-4zM804 1133h7v5h-7zM86 1133h56v5h-56zM521 1133h3v5h-3zM691 1133h3v5h-3zM613 1133h14v5h-14zM769 1133h3v5h-3zM40 1133h35v5h-35zM836 1133h14v5h-14zM326 1133h15v5h-15zM489 1133h4v5h-4zM677 1133h3v9h-3zM726 1133h4v9h-4zM744 1133h10v9h-10zM822 1138h10v4h-10zM712 1138h7v4h-7zM772 1138h4v4h-4zM40 1138h32v4h-32zM606 1138h14v4h-14zM797 1138h3v4h-3zM93 1138h3v4h-3zM517 1138h4v4h-4zM326 1138h11v4h-11zM100 1138h46v4h-46zM387 1138h10v4h-10zM365 1138h4v9h-4zM379 1138h4v9h-4zM758 1138h3v9h-3zM496 1142h4v5h-4zM79 1142h7v5h-7zM747 1142h4v5h-4zM521 1142h3v5h-3zM37 1142h35v5h-35zM408 1142h10v5h-10zM818 1142h4v5h-4zM100 1142h42v5h-42zM609 1142h11v5h-11zM390 1142h11v5h-11zM666 1142h4v5h-4zM326 1142h15v5h-15zM769 1142h7v5h-7zM510 1142h4v10h-4zM793 1142h11v10h-11zM599 1147h3v5h-3zM411 1147h7v5h-7zM613 1147h7v5h-7zM390 1147h14v5h-14zM493 1147h3v5h-3zM694 1147h4v5h-4zM807 1147h8v5h-8zM517 1147h4v5h-4zM40 1147h28v5h-28zM96 1147h46v5h-46zM79 1147h10v5h-10zM765 1147h11v5h-11zM376 1147h7v10h-7zM330 1147h7v10h-7zM415 1152h3v5h-3zM96 1152h4v5h-4zM79 1152h14v5h-14zM37 1152h31v5h-31zM510 1152h7v5h-7zM528 1152h4v5h-4zM694 1152h7v5h-7zM811 1152h4v5h-4zM602 1152h4v5h-4zM397 1152h7v5h-7zM659 1152h3v5h-3zM751 1152h3v5h-3zM489 1152h4v5h-4zM769 1152h7v5h-7zM111 1152h35v10h-35zM79 1157h21v5h-21zM295 1157h7v5h-7zM708 1157h4v5h-4zM655 1157h4v5h-4zM691 1157h3v5h-3zM595 1157h11v5h-11zM486 1157h7v5h-7zM37 1157h28v5h-28zM510 1157h4v5h-4zM744 1157h10v5h-10zM567 1157h3v5h-3zM376 1157h3v5h-3zM496 1152h4v14h-4zM387 1157h17v9h-17zM107 1162h39v4h-39zM507 1162h3v4h-3zM588 1162h4v4h-4zM712 1162h7v4h-7zM75 1162h7v4h-7zM40 1162h18v4h-18zM627 1162h4v4h-4zM482 1162h7v4h-7zM652 1162h3v4h-3zM740 1162h14v4h-14zM295 1162h10v4h-10zM563 1162h4v9h-4zM86 1162h14v9h-14zM224 1166h7v5h-7zM716 1166h7v5h-7zM648 1166h4v5h-4zM383 1166h25v5h-25zM259 1166h7v5h-7zM595 1166h7v5h-7zM443 1166h4v5h-4zM43 1166h15v5h-15zM585 1166h3v5h-3zM468 1166h3v5h-3zM694 1166h4v5h-4zM478 1166h4v5h-4zM740 1166h7v5h-7zM241 1166h4v5h-4zM107 1166h28v5h-28zM79 1166h3v5h-3zM415 1157h7v19h-7zM581 1171h4v5h-4zM383 1171h7v5h-7zM252 1171h11v5h-11zM691 1171h3v5h-3zM726 1171h7v5h-7zM486 1171h3v5h-3zM401 1171h10v5h-10zM238 1171h7v5h-7zM645 1171h3v5h-3zM737 1171h3v5h-3zM560 1171h3v5h-3zM754 1171h4v5h-4zM114 1171h11v5h-11zM475 1171h3v5h-3zM79 1171h17v5h-17zM532 1171h3v5h-3zM43 1171h4v10h-4zM758 1176h3v5h-3zM471 1176h4v5h-4zM401 1176h17v5h-17zM383 1176h4v5h-4zM443 1176h4v5h-4zM687 1176h4v5h-4zM390 1176h7v5h-7zM574 1176h7v5h-7zM241 1176h25v5h-25zM157 1176h3v5h-3zM482 1176h4v5h-4zM556 1176h7v5h-7zM68 1176h21v5h-21zM181 1176h4v5h-4zM588 1171h4v14h-4zM40 1181h7v4h-7zM624 1181h7v4h-7zM411 1181h7v4h-7zM815 1181h7v4h-7zM383 1181h18v4h-18zM178 1181h7v4h-7zM249 1181h21v4h-21zM125 1181h3v4h-3zM65 1181h24v4h-24zM450 1181h4v4h-4zM153 1181h7v4h-7zM478 1181h4v4h-4zM684 1181h3v4h-3zM574 1181h11v4h-11zM471 1185h7v5h-7zM252 1185h18v5h-18zM578 1185h10v5h-10zM37 1185h6v5h-6zM411 1185h4v5h-4zM652 1185h3v5h-3zM797 1185h25v5h-25zM65 1185h35v5h-35zM387 1185h10v5h-10zM581 1190h4v5h-4zM468 1190h7v5h-7zM65 1190h14v5h-14zM252 1190h11v5h-11zM390 1190h21v5h-21zM517 1190h7v5h-7zM793 1190h32v5h-32zM89 1190h11v10h-11zM740 1190h7v10h-7zM514 1195h3v5h-3zM383 1195h25v5h-25zM638 1195h7v5h-7zM790 1195h39v5h-39zM146 1195h7v5h-7zM277 1195h3v5h-3zM560 1195h10v5h-10zM542 1195h4v5h-4zM500 1195h3v5h-3zM256 1195h3v5h-3zM464 1195h7v5h-7zM65 1195h10v9h-10zM164 1195h10v9h-10zM539 1200h3v4h-3zM570 1200h8v4h-8zM560 1200h7v4h-7zM638 1200h3v4h-3zM786 1200h39v4h-39zM150 1200h3v4h-3zM461 1200h3v4h-3zM510 1200h4v4h-4zM390 1200h18v4h-18zM86 1200h18v4h-18zM121 1200h4v4h-4zM457 1204h4v5h-4zM496 1204h4v5h-4zM783 1204h35v5h-35zM270 1204h7v5h-7zM532 1204h7v5h-7zM150 1204h21v5h-21zM61 1204h46v5h-46zM390 1204h14v5h-14zM634 1204h4v5h-4zM195 1204h8v5h-8zM440 1204h3v5h-3zM723 1204h7v10h-7zM68 1209h11v5h-11zM627 1209h7v5h-7zM779 1209h32v5h-32zM178 1209h7v5h-7zM82 1209h25v5h-25zM436 1209h4v5h-4zM199 1209h4v5h-4zM401 1209h3v5h-3zM493 1209h3v5h-3zM61 1209h4v5h-4zM164 1209h3v5h-3zM532 1209h3v5h-3zM662 1209h4v5h-4zM121 1204h7v15h-7zM259 1209h18v10h-18zM387 1214h3v5h-3zM178 1214h10v5h-10zM160 1214h7v5h-7zM528 1214h4v5h-4zM627 1214h4v5h-4zM790 1214h14v5h-14zM776 1214h10v5h-10zM249 1214h7v5h-7zM659 1214h3v5h-3zM86 1214h25v5h-25zM440 1214h3v5h-3zM489 1214h4v5h-4zM217 1214h3v10h-3zM146 1219h4v5h-4zM164 1219h7v5h-7zM252 1219h4v5h-4zM259 1219h14v5h-14zM779 1219h21v5h-21zM121 1219h4v5h-4zM174 1219h11v5h-11zM93 1219h18v9h-18zM394 1219h3v9h-3zM241 1219h4v9h-4zM270 1224h7v4h-7zM532 1224h7v4h-7zM471 1224h15v4h-15zM786 1224h14v4h-14zM443 1224h4v4h-4zM125 1224h3v4h-3zM432 1224h8v4h-8zM249 1224h14v4h-14zM171 1224h14v9h-14zM411 1228h7v5h-7zM82 1228h7v5h-7zM475 1228h11v5h-11zM429 1228h7v5h-7zM493 1228h3v5h-3zM500 1228h3v5h-3zM121 1228h7v5h-7zM93 1228h21v5h-21zM252 1228h28v5h-28zM68 1228h4v10h-4zM153 1228h7v10h-7zM429 1233h3v5h-3zM408 1233h7v5h-7zM252 1233h39v5h-39zM79 1233h49v5h-49zM489 1233h4v5h-4zM167 1233h11v10h-11zM546 1233h3v10h-3zM291 1238h4v5h-4zM475 1238h7v5h-7zM139 1238h3v5h-3zM79 1238h39v5h-39zM521 1238h3v5h-3zM443 1238h11v5h-11zM486 1238h3v5h-3zM411 1238h4v5h-4zM252 1238h35v5h-35zM153 1238h11v5h-11zM65 1238h7v9h-7zM454 1243h3v4h-3zM475 1243h14v4h-14zM429 1243h3v4h-3zM100 1243h4v4h-4zM245 1243h35v4h-35zM111 1243h7v4h-7zM401 1243h10v4h-10zM701 1243h32v4h-32zM443 1243h4v4h-4zM333 1243h11v4h-11zM153 1243h25v4h-25zM128 1243h14v4h-14zM79 1243h10v9h-10zM249 1247h31v5h-31zM125 1247h10v5h-10zM153 1247h28v5h-28zM351 1247h4v5h-4zM425 1247h7v5h-7zM705 1247h21v5h-21zM684 1247h10v5h-10zM337 1247h7v5h-7zM500 1247h7v5h-7zM397 1247h11v5h-11zM440 1247h3v5h-3zM510 1243h4v14h-4zM139 1247h3v10h-3zM450 1247h4v10h-4zM680 1252h18v5h-18zM673 1252h4v5h-4zM708 1252h18v5h-18zM79 1252h7v5h-7zM436 1252h11v5h-11zM185 1252h10v5h-10zM535 1252h4v5h-4zM153 1252h21v5h-21zM121 1252h14v5h-14zM61 1252h4v5h-4zM482 1252h4v5h-4zM496 1252h7v5h-7zM252 1252h28v5h-28zM397 1252h4v5h-4zM341 1252h3v10h-3zM252 1257h14v5h-14zM270 1257h10v5h-10zM150 1257h24v5h-24zM524 1257h4v5h-4zM135 1257h7v5h-7zM532 1257h7v5h-7zM677 1257h24v5h-24zM436 1257h4v5h-4zM556 1257h4v5h-4zM61 1257h7v5h-7zM708 1257h22v5h-22zM181 1257h14v5h-14zM121 1257h7v5h-7zM319 1257h4v5h-4zM72 1257h10v5h-10zM89 1257h4v5h-4zM507 1257h3v10h-3zM461 1257h3v10h-3zM259 1262h7v5h-7zM563 1262h4v5h-4zM61 1262h21v5h-21zM521 1262h3v5h-3zM188 1262h22v5h-22zM351 1262h4v5h-4zM135 1262h4v5h-4zM493 1262h3v5h-3zM245 1262h7v5h-7zM153 1262h18v5h-18zM86 1262h7v5h-7zM680 1262h7v5h-7zM181 1262h4v5h-4zM287 1267h11v4h-11zM217 1267h3v4h-3zM535 1267h4v4h-4zM65 1267h17v4h-17zM224 1267h3v4h-3zM157 1267h56v4h-56zM397 1267h7v4h-7zM89 1267h4v4h-4zM447 1267h3v9h-3zM348 1267h7v9h-7zM174 1271h53v5h-53zM726 1271h7v5h-7zM524 1271h8v5h-8zM157 1271h10v5h-10zM291 1271h7v5h-7zM397 1271h4v5h-4zM139 1271h3v10h-3zM723 1276h10v5h-10zM489 1276h4v5h-4zM178 1276h3v5h-3zM532 1276h7v5h-7zM351 1276h11v5h-11zM305 1276h14v5h-14zM521 1276h7v5h-7zM503 1276h4v5h-4zM185 1276h42v5h-42zM737 1276h3v5h-3zM478 1276h8v5h-8zM157 1276h7v5h-7zM546 1276h7v10h-7zM344 1281h14v5h-14zM160 1281h7v5h-7zM188 1281h36v5h-36zM719 1281h18v5h-18zM510 1281h7v5h-7zM139 1281h7v5h-7zM478 1281h11v5h-11zM532 1281h3v5h-3zM337 1281h4v5h-4zM425 1281h7v9h-7zM302 1281h28v9h-28zM181 1286h43v4h-43zM164 1286h7v4h-7zM542 1286h7v4h-7zM723 1286h14v4h-14zM475 1286h7v4h-7zM528 1286h4v4h-4zM142 1286h4v4h-4zM510 1286h4v4h-4zM670 1286h7v4h-7zM333 1286h32v4h-32zM648 1286h7v9h-7zM440 1290h7v5h-7zM486 1290h10v5h-10zM726 1290h7v5h-7zM167 1290h43v5h-43zM298 1290h32v5h-32zM677 1290h3v5h-3zM348 1290h17v5h-17zM475 1290h3v5h-3zM217 1290h7v5h-7zM539 1290h10v5h-10zM740 1286h7v14h-7zM422 1290h3v10h-3zM563 1295h7v5h-7zM171 1295h3v5h-3zM362 1295h3v5h-3zM192 1295h11v5h-11zM539 1295h7v5h-7zM411 1295h4v5h-4zM719 1295h4v5h-4zM185 1295h3v5h-3zM432 1295h8v5h-8zM478 1295h4v5h-4zM305 1295h25v5h-25zM348 1295h3v5h-3zM560 1300h7v5h-7zM719 1300h7v5h-7zM309 1300h3v5h-3zM341 1300h3v5h-3zM461 1300h3v5h-3zM553 1300h3v5h-3zM486 1300h7v5h-7zM316 1300h14v5h-14zM365 1300h7v5h-7zM733 1300h18v5h-18zM365 1305h4v4h-4zM457 1305h4v4h-4zM376 1305h7v4h-7zM546 1305h3v4h-3zM532 1305h7v4h-7zM486 1305h3v4h-3zM592 1305h3v4h-3zM556 1305h7v4h-7zM744 1305h7v4h-7zM723 1305h17v4h-17zM662 1305h4v4h-4zM397 1305h4v4h-4zM333 1305h8v9h-8zM524 1309h11v5h-11zM588 1309h4v5h-4zM344 1309h4v5h-4zM659 1309h11v5h-11zM578 1309h3v5h-3zM443 1309h4v5h-4zM631 1309h24v5h-24zM570 1309h4v5h-4zM553 1309h7v5h-7zM358 1305h4v14h-4zM726 1309h21v10h-21zM631 1314h31v5h-31zM549 1314h4v5h-4zM585 1314h3v5h-3zM524 1314h8v5h-8zM567 1314h11v5h-11zM376 1314h3v5h-3zM478 1314h4v5h-4zM341 1314h7v5h-7zM581 1319h4v5h-4zM323 1319h3v5h-3zM560 1319h14v5h-14zM415 1319h3v5h-3zM372 1319h4v5h-4zM800 1319h4v5h-4zM747 1319h4v5h-4zM634 1319h32v5h-32zM521 1319h3v5h-3zM333 1319h4v5h-4zM737 1319h7v5h-7zM475 1319h3v5h-3zM348 1319h10v5h-10zM471 1324h7v5h-7zM740 1324h11v5h-11zM348 1324h7v5h-7zM514 1324h10v5h-10zM330 1324h3v5h-3zM634 1324h39v5h-39zM578 1324h3v5h-3zM560 1324h10v5h-10zM450 1324h4v5h-4zM440 1324h3v5h-3zM800 1324h7v5h-7zM365 1329h4v4h-4zM468 1329h7v4h-7zM415 1329h7v4h-7zM804 1329h11v4h-11zM344 1329h4v4h-4zM436 1329h4v4h-4zM638 1329h32v4h-32zM510 1329h11v4h-11zM326 1329h4v4h-4zM408 1329h3v4h-3zM740 1329h14v4h-14zM624 1329h3v4h-3zM599 1329h17v4h-17zM556 1329h11v9h-11zM323 1333h3v5h-3zM404 1333h4v5h-4zM362 1333h3v5h-3zM638 1333h21v5h-21zM383 1333h7v5h-7zM510 1333h7v5h-7zM411 1333h11v5h-11zM807 1333h11v5h-11zM341 1333h3v5h-3zM599 1333h25v5h-25zM677 1333h3v5h-3zM542 1333h4v5h-4zM464 1333h7v5h-7zM740 1333h11v10h-11zM804 1338h14v5h-14zM641 1338h18v5h-18zM546 1338h3v5h-3zM411 1338h4v5h-4zM358 1338h4v5h-4zM510 1338h4v5h-4zM319 1338h4v5h-4zM677 1338h7v5h-7zM556 1338h7v5h-7zM624 1338h3v5h-3zM539 1343h3v5h-3zM507 1343h3v5h-3zM471 1343h4v5h-4zM747 1343h4v5h-4zM521 1343h3v5h-3zM634 1343h7v5h-7zM528 1343h4v5h-4zM645 1343h17v5h-17zM553 1343h7v5h-7zM599 1338h21v14h-21zM793 1343h25v9h-25zM503 1348h4v4h-4zM751 1348h3v4h-3zM652 1348h10v4h-10zM556 1348h4v4h-4zM493 1348h7v4h-7zM670 1343h14v14h-14zM631 1348h7v9h-7zM447 1352h3v5h-3zM457 1352h4v5h-4zM415 1352h3v5h-3zM464 1352h11v5h-11zM599 1352h3v5h-3zM606 1352h3v5h-3zM807 1352h11v5h-11zM535 1352h4v5h-4zM553 1352h3v5h-3zM790 1352h14v5h-14zM486 1352h7v5h-7zM358 1352h4v5h-4zM500 1352h3v5h-3zM648 1352h7v5h-7zM570 1352h4v5h-4zM337 1352h4v5h-4zM659 1352h7v5h-7zM443 1357h4v5h-4zM595 1357h7v5h-7zM811 1357h7v5h-7zM549 1357h4v5h-4zM429 1357h3v5h-3zM631 1357h3v5h-3zM468 1357h7v5h-7zM779 1357h25v5h-25zM482 1357h4v5h-4zM532 1357h3v5h-3zM563 1357h11v5h-11zM659 1357h14v5h-14zM641 1357h14v5h-14zM355 1357h7v5h-7zM411 1357h4v5h-4zM489 1357h11v10h-11zM365 1362h4v5h-4zM599 1362h7v5h-7zM425 1362h22v5h-22zM560 1362h14v5h-14zM772 1362h14v5h-14zM815 1362h3v5h-3zM372 1362h4v5h-4zM790 1362h10v5h-10zM464 1362h4v5h-4zM528 1362h4v5h-4zM680 1362h4v5h-4zM478 1362h4v5h-4zM638 1362h39v5h-39zM758 1362h7v5h-7zM415 1362h7v5h-7zM351 1362h7v5h-7zM631 1367h3v4h-3zM415 1367h3v4h-3zM655 1367h18v4h-18zM772 1367h4v4h-4zM638 1367h3v4h-3zM422 1367h3v4h-3zM358 1367h7v4h-7zM606 1367h7v4h-7zM351 1367h4v4h-4zM369 1367h3v4h-3zM645 1367h3v4h-3zM677 1367h3v4h-3zM524 1367h8v4h-8zM333 1367h4v4h-4zM457 1367h7v4h-7zM390 1367h4v4h-4zM758 1367h11v4h-11zM482 1367h4v4h-4zM556 1367h7v4h-7zM305 1367h4v4h-4zM500 1367h3v9h-3zM475 1367h3v9h-3zM457 1371h4v5h-4zM355 1371h14v5h-14zM330 1371h3v5h-3zM411 1371h7v5h-7zM429 1371h3v5h-3zM655 1371h25v5h-25zM344 1371h4v5h-4zM620 1371h4v5h-4zM521 1371h7v5h-7zM807 1371h4v5h-4zM383 1371h7v10h-7zM761 1371h8v10h-8zM539 1376h3v5h-3zM312 1376h4v5h-4zM507 1376h3v5h-3zM454 1376h3v5h-3zM333 1376h8v5h-8zM362 1376h3v5h-3zM514 1376h14v5h-14zM351 1376h4v5h-4zM461 1376h3v5h-3zM326 1376h4v5h-4zM425 1376h4v5h-4zM298 1376h4v5h-4zM489 1376h4v5h-4zM797 1376h14v10h-14zM503 1381h4v5h-4zM517 1381h7v5h-7zM535 1381h7v5h-7zM323 1381h3v5h-3zM457 1381h7v5h-7zM482 1381h14v5h-14zM358 1381h4v5h-4zM432 1381h4v5h-4zM408 1381h3v5h-3zM330 1381h3v5h-3zM383 1381h4v5h-4zM754 1381h11v10h-11zM401 1386h3v5h-3zM355 1386h3v5h-3zM769 1386h3v5h-3zM418 1386h4v5h-4zM482 1386h4v5h-4zM514 1386h7v5h-7zM454 1386h3v5h-3zM468 1386h3v5h-3zM532 1386h3v5h-3zM500 1386h3v5h-3zM305 1386h4v5h-4zM793 1386h18v9h-18zM751 1391h10v4h-10zM440 1391h17v4h-17zM765 1391h4v4h-4zM408 1391h7v4h-7zM478 1391h8v4h-8zM496 1391h4v4h-4zM302 1391h3v4h-3zM422 1391h3v4h-3zM291 1391h4v4h-4zM461 1391h7v4h-7zM351 1391h4v4h-4zM503 1391h4v9h-4zM443 1395h4v5h-4zM751 1395h7v5h-7zM574 1395h11v5h-11zM776 1395h35v5h-35zM404 1395h7v5h-7zM298 1395h4v5h-4zM348 1395h3v5h-3zM457 1395h11v5h-11zM397 1395h4v5h-4zM475 1395h7v5h-7zM489 1395h4v5h-4zM765 1395h7v10h-7zM387 1400h3v5h-3zM443 1400h7v5h-7zM804 1400h3v5h-3zM454 1400h10v5h-10zM574 1400h14v5h-14zM344 1400h4v5h-4zM606 1400h7v5h-7zM295 1400h7v5h-7zM401 1400h7v5h-7zM754 1400h7v5h-7zM521 1400h7v5h-7zM507 1400h7v5h-7zM793 1400h7v10h-7zM779 1400h7v10h-7zM280 1400h4v10h-4zM517 1405h25v5h-25zM578 1405h14v5h-14zM450 1405h11v5h-11zM429 1405h3v5h-3zM387 1405h17v5h-17zM758 1405h14v5h-14zM291 1405h14v5h-14zM595 1405h18v5h-18zM486 1405h3v5h-3zM341 1405h7v5h-7zM259 1405h4v5h-4zM496 1405h18v5h-18zM563 1405h4v5h-4zM493 1410h49v4h-49zM783 1410h7v4h-7zM581 1410h46v4h-46zM793 1410h11v4h-11zM447 1410h10v4h-10zM337 1410h7v4h-7zM287 1410h4v4h-4zM394 1410h7v9h-7zM556 1410h7v9h-7zM517 1414h22v5h-22zM440 1414h7v5h-7zM333 1414h8v5h-8zM362 1414h3v5h-3zM383 1414h7v5h-7zM546 1414h7v5h-7zM493 1414h3v5h-3zM408 1414h10v5h-10zM468 1414h3v5h-3zM609 1414h11v5h-11zM500 1414h14v5h-14zM581 1414h25v5h-25zM624 1414h3v5h-3zM263 1414h3v10h-3zM786 1414h4v10h-4zM443 1419h7v5h-7zM309 1419h3v5h-3zM517 1419h7v5h-7zM231 1419h3v5h-3zM404 1419h14v5h-14zM570 1419h36v5h-36zM765 1419h7v5h-7zM553 1419h3v5h-3zM238 1419h7v5h-7zM528 1419h11v5h-11zM390 1419h7v5h-7zM482 1419h4v5h-4zM609 1419h18v5h-18zM493 1419h14v5h-14zM333 1419h4v5h-4zM273 1419h4v5h-4zM765 1424h4v5h-4zM783 1424h3v5h-3zM319 1424h4v5h-4zM567 1424h60v5h-60zM270 1424h3v5h-3zM408 1424h3v5h-3zM309 1424h7v5h-7zM259 1424h7v5h-7zM238 1424h11v5h-11zM443 1424h4v9h-4zM500 1424h10v9h-10zM387 1429h3v4h-3zM549 1429h7v4h-7zM238 1429h7v4h-7zM256 1429h7v4h-7zM567 1429h11v4h-11zM309 1429h10v4h-10zM337 1429h4v4h-4zM429 1429h7v4h-7zM475 1429h7v4h-7zM581 1429h35v4h-35zM295 1429h3v4h-3zM489 1429h4v4h-4zM266 1429h4v9h-4zM761 1429h18v9h-18zM507 1433h10v5h-10zM330 1433h14v5h-14zM585 1433h31v5h-31zM415 1433h3v5h-3zM383 1433h11v5h-11zM245 1433h14v5h-14zM234 1433h4v5h-4zM432 1433h4v5h-4zM478 1433h4v5h-4zM309 1433h7v5h-7zM319 1433h4v5h-4zM549 1433h29v5h-29zM493 1433h3v10h-3zM528 1433h7v10h-7zM440 1433h3v10h-3zM365 1438h4v5h-4zM574 1438h42v5h-42zM556 1438h14v5h-14zM302 1438h7v5h-7zM312 1438h7v5h-7zM326 1438h7v5h-7zM270 1438h3v5h-3zM464 1438h4v5h-4zM507 1438h14v5h-14zM761 1438h15v5h-15zM379 1438h11v5h-11zM486 1438h3v5h-3zM337 1438h4v5h-4zM241 1438h18v10h-18zM425 1438h4v10h-4zM411 1438h4v10h-4zM341 1443h3v5h-3zM457 1443h4v5h-4zM560 1443h14v5h-14zM277 1443h3v5h-3zM302 1443h10v5h-10zM528 1443h11v5h-11zM326 1443h4v5h-4zM510 1443h4v5h-4zM436 1443h7v5h-7zM263 1443h7v5h-7zM581 1443h35v10h-35zM496 1448h57v5h-57zM263 1448h3v5h-3zM475 1448h3v5h-3zM482 1448h11v5h-11zM302 1448h7v5h-7zM432 1448h8v5h-8zM238 1448h11v5h-11zM567 1448h11v5h-11zM337 1448h4v5h-4zM273 1448h4v5h-4zM404 1448h4v9h-4zM415 1448h7v9h-7zM238 1453h3v4h-3zM302 1453h3v4h-3zM270 1453h3v4h-3zM475 1453h81v4h-81zM394 1453h3v4h-3zM457 1453h11v4h-11zM333 1453h4v4h-4zM429 1453h7v4h-7zM341 1457h3v5h-3zM457 1457h4v5h-4zM478 1457h82v5h-82zM425 1457h15v5h-15zM468 1457h7v5h-7zM280 1457h4v5h-4zM234 1457h4v5h-4zM298 1457h4v5h-4zM408 1457h3v5h-3zM157 1457h7v5h-7zM397 1457h4v5h-4zM563 1453h50v14h-50zM263 1457h7v10h-7zM408 1462h7v5h-7zM454 1462h7v5h-7zM429 1462h11v5h-11zM394 1462h3v5h-3zM422 1462h3v5h-3zM464 1462h92v5h-92zM150 1462h14v5h-14zM291 1462h4v5h-4zM337 1462h4v5h-4zM503 1467h53v5h-53zM563 1467h22v5h-22zM266 1467h4v5h-4zM358 1467h4v5h-4zM418 1467h4v5h-4zM450 1467h7v5h-7zM153 1467h7v5h-7zM461 1467h35v5h-35zM401 1467h7v5h-7zM595 1467h14v5h-14zM181 1467h4v5h-4zM425 1467h7v5h-7zM387 1467h3v9h-3zM436 1467h4v9h-4zM539 1472h46v4h-46zM150 1472h10v4h-10zM355 1472h3v4h-3zM422 1472h7v4h-7zM178 1472h3v4h-3zM411 1472h4v4h-4zM330 1472h3v4h-3zM521 1472h14v4h-14zM447 1472h7v4h-7zM503 1472h14v4h-14zM241 1472h4v4h-4zM287 1472h4v4h-4zM592 1472h14v9h-14zM263 1472h7v9h-7zM249 1476h3v5h-3zM609 1476h4v5h-4zM234 1476h11v5h-11zM521 1476h49v5h-49zM574 1476h11v5h-11zM174 1476h4v5h-4zM326 1476h4v5h-4zM418 1476h4v5h-4zM383 1476h4v5h-4zM503 1476h11v5h-11zM351 1476h4v5h-4zM464 1472h32v14h-32zM500 1481h17v5h-17zM323 1481h3v5h-3zM567 1481h18v5h-18zM188 1481h4v5h-4zM592 1481h10v5h-10zM249 1481h7v5h-7zM348 1481h3v5h-3zM524 1481h25v5h-25zM528 1486h21v5h-21zM408 1486h7v5h-7zM249 1486h14v5h-14zM266 1486h7v5h-7zM344 1486h4v5h-4zM280 1486h7v5h-7zM210 1486h3v5h-3zM563 1486h36v5h-36zM464 1486h53v5h-53zM319 1486h4v5h-4zM309 1491h3v5h-3zM631 1491h3v5h-3zM213 1491h18v5h-18zM464 1491h11v5h-11zM493 1491h24v5h-24zM549 1491h46v5h-46zM316 1491h3v5h-3zM408 1491h3v5h-3zM245 1491h4v5h-4zM341 1491h7v5h-7zM482 1491h7v9h-7zM284 1491h3v9h-3zM252 1491h18v9h-18zM447 1496h3v4h-3zM599 1496h3v4h-3zM372 1496h4v4h-4zM195 1496h4v4h-4zM631 1496h7v4h-7zM546 1496h46v4h-46zM277 1496h3v4h-3zM616 1496h8v4h-8zM337 1496h7v4h-7zM496 1496h25v4h-25zM213 1496h11v4h-11zM241 1496h4v4h-4zM397 1496h4v4h-4zM418 1491h7v14h-7zM309 1496h7v9h-7zM365 1500h4v5h-4zM280 1500h4v5h-4zM443 1500h14v5h-14zM167 1500h7v5h-7zM563 1500h25v5h-25zM234 1500h7v5h-7zM486 1500h3v5h-3zM620 1500h4v5h-4zM500 1500h21v5h-21zM408 1500h7v5h-7zM192 1500h7v5h-7zM337 1500h4v5h-4zM295 1500h3v5h-3zM213 1500h14v10h-14zM245 1500h7v10h-7zM631 1505h7v5h-7zM447 1505h7v5h-7zM390 1505h7v5h-7zM192 1505h3v5h-3zM153 1505h25v5h-25zM298 1505h4v5h-4zM496 1505h25v5h-25zM348 1505h3v5h-3zM546 1500h3v15h-3zM556 1505h32v10h-32zM464 1505h7v10h-7zM153 1510h18v5h-18zM524 1510h15v5h-15zM383 1510h18v5h-18zM496 1510h14v5h-14zM631 1510h3v5h-3zM280 1510h4v5h-4zM298 1510h7v5h-7zM199 1510h11v5h-11zM178 1510h3v5h-3zM213 1510h11v5h-11zM443 1510h11v5h-11zM185 1510h10v5h-10zM351 1510h4v9h-4zM273 1515h7v4h-7zM231 1515h3v4h-3zM471 1515h7v4h-7zM517 1515h25v4h-25zM415 1515h3v4h-3zM387 1515h14v4h-14zM157 1515h14v4h-14zM440 1515h7v4h-7zM291 1515h14v4h-14zM493 1515h14v4h-14zM592 1515h3v4h-3zM238 1515h11v4h-11zM369 1515h7v9h-7zM185 1515h28v9h-28zM401 1519h3v5h-3zM496 1519h11v5h-11zM277 1519h3v5h-3zM528 1519h14v5h-14zM514 1519h7v5h-7zM291 1519h11v5h-11zM164 1519h3v5h-3zM383 1519h4v5h-4zM333 1519h4v5h-4zM231 1519h28v5h-28zM574 1515h4v14h-4zM528 1524h18v5h-18zM510 1524h11v5h-11zM500 1524h7v5h-7zM220 1524h4v5h-4zM245 1524h14v5h-14zM181 1524h11v5h-11zM227 1524h14v5h-14zM277 1524h7v5h-7zM397 1524h7v5h-7zM365 1524h7v10h-7zM295 1524h10v10h-10zM171 1529h3v5h-3zM231 1529h3v5h-3zM355 1529h3v5h-3zM241 1529h18v5h-18zM387 1529h17v5h-17zM280 1529h4v5h-4zM436 1529h4v5h-4zM503 1529h39v5h-39zM213 1529h11v5h-11zM185 1529h10v5h-10zM203 1529h3v5h-3zM387 1534h3v4h-3zM167 1534h7v4h-7zM563 1534h4v4h-4zM302 1534h3v4h-3zM553 1534h3v4h-3zM185 1534h14v4h-14zM206 1534h4v4h-4zM280 1534h7v4h-7zM241 1534h11v4h-11zM153 1534h4v4h-4zM295 1534h3v4h-3zM227 1534h7v9h-7zM510 1534h25v9h-25zM302 1538h14v5h-14zM549 1538h4v5h-4zM394 1538h10v5h-10zM142 1538h4v5h-4zM203 1538h7v5h-7zM192 1538h3v5h-3zM489 1538h11v5h-11zM153 1538h7v5h-7zM245 1538h7v5h-7zM217 1538h3v5h-3zM270 1529h3v19h-3zM546 1543h14v5h-14zM142 1543h8v5h-8zM429 1543h3v5h-3zM295 1543h17v5h-17zM387 1543h14v5h-14zM493 1543h42v5h-42zM203 1543h10v5h-10zM454 1543h3v5h-3zM245 1543h4v5h-4zM231 1543h10v5h-10zM461 1543h7v5h-7z"/>
<g fill="none" stroke="#333333" stroke-linejoin="round" stroke-linecap="round" shape-rendering="geometricPrecision" clip-path="url(#panel)">
<clipPath id="panel"><rect x="37" y="315" width="1475" height="1233"/></clipPath>
<path stroke-width="4.0" d="M36.7 543.3L41.7 551.7L46.7 559.3L58.3 559.3L71.7 566.7L81.7 570.0L95.0 575.0L103.3 581.7L106.0 590.0L111.7 600.0L115.0 608.3L116.7 611.7L106.7 609.3L101.7 611.7L101.0 620.0L105.0 628.3L111.7 636.7L115.0 650.0L112.7 663.3L111.0 690.0L106.7 696.7L96.7 700.0L91.7 708.3L90.0 720.0L86.7 725.0L80.0 726.0L78.3 730.7L66.7 732.7L61.7 740.0L58.3 758.3L61.7 766.7L66.7 773.3L76.7 775.0L78.3 780.0L81.7 778.3L90.0 766.7L96.7 764.3L101.7 755.0L108.3 743.3L115.0 735.0L121.7 730.0L131.7 728.3L138.3 724.0L146.7 724.3L156.7 728.3L165.0 735.0L170.0 746.7L172.7 760.0L172.7 776.7L176.7 790.0L179.3 803.3L179.3 823.3L181.7 833.3L186.0 846.7L181.7 855.0L179.3 866.7L178.3 886.7L171.7 898.3L166.7 893.3L165.0 885.0L160.0 885.0L154.0 890.0L155.0 896.7L150.0 900.0L148.3 913.3L143.3 918.3L133.3 921.7L126.7 930.0L125.0 934.0"/>
<path stroke-width="4.0" d="M36.7 482.7L43.3 483.3L49.3 490.0L50.0 493.3L55.0 498.3L61.7 501.7L61.7 505.0L53.3 506.0L50.0 507.3L45.0 504.0L36.7 505.0"/>
<path stroke-width="4.0" d="M403.3 934.0L420.0 926.7L433.3 918.3L446.7 906.7L465.0 898.3L471.7 890.0L476.0 880.0L486.7 876.7L490.7 870.0L488.3 863.3L486.7 853.3L480.0 851.7L476.7 845.0L476.7 838.3L473.3 835.0L477.3 830.0L477.3 815.0L480.0 813.3L500.0 808.3L520.0 805.0L550.0 804.3L566.7 806.0L583.3 808.3L591.7 815.0L596.7 819.3L601.7 821.0L605.0 816.7L613.3 814.0L626.7 813.3L646.7 814.3L650.0 818.3L653.3 813.3L670.0 810.0L675.0 805.0L681.7 796.7L688.3 795.0L693.3 790.0L700.0 787.3"/>
<path stroke-width="4.0" d="M700.0 721.7L706.7 715.0L720.0 706.7L733.3 698.3L743.3 690.0L750.0 680.0L751.7 675.0L756.7 666.7L766.7 656.7L776.7 646.7L786.7 636.7L795.0 630.0L806.7 625.0L816.7 619.3L830.0 615.0L833.3 615.0L840.0 617.3L866.7 616.7L956.7 615.3L1113.3 614.3L1115.0 608.3L1120.7 593.3L1122.7 586.7L1133.3 581.7L1140.0 585.0L1150.0 581.7L1163.3 575.3L1165.0 583.3L1168.3 586.7L1171.7 583.3L1173.3 568.3L1181.7 568.3L1188.3 570.0L1189.3 566.7L1181.7 556.7L1183.3 550.0L1190.0 543.3L1200.0 536.7L1208.3 530.0L1209.3 521.7L1216.7 516.7L1219.3 508.3L1216.7 500.0L1220.0 486.7L1218.3 481.7L1225.0 463.3L1233.3 456.7L1238.3 446.7L1240.0 433.3L1243.3 418.3L1253.3 405.0L1266.7 387.3L1280.0 370.0L1293.3 351.7L1306.7 333.3L1311.7 331.7L1321.7 334.3L1321.7 350.0L1325.0 358.3L1333.3 362.7L1340.0 360.7L1350.0 356.7L1366.7 352.7L1378.3 351.7L1380.0 346.7L1390.0 345.0L1400.0 348.3"/>
<path stroke-width="4.0" d="M956.7 616.7L958.3 623.3L955.0 633.3L956.0 653.3L958.3 670.0L960.7 686.7L959.3 703.3L953.3 713.3L950.0 726.7L953.3 743.3L956.7 760.0L953.3 770.0L953.3 781.7L958.3 775.0L963.3 780.0L966.0 793.3L965.0 834.0"/>
<path stroke-width="4.0" d="M1113.3 615.0L1113.3 625.0L1108.3 636.7L1104.0 646.7L1108.3 658.3L1110.0 666.7L1105.0 676.7L1093.3 686.7L1080.0 693.3L1073.3 696.7L1068.3 710.0L1066.7 726.7L1060.0 743.3L1053.3 756.7L1045.0 770.0L1040.0 790.0L1036.7 810.0L1035.0 834.0"/>
<path stroke-width="4.0" d="M1151.7 580.0L1152.7 600.0L1154.0 666.7L1156.7 733.3L1159.3 800.0L1165.0 810.0L1173.3 820.0L1175.0 834.0"/>
<path stroke-width="4.0" d="M1190.0 834.0L1193.3 816.7L1200.0 806.7L1220.0 803.3L1223.3 780.0L1218.3 766.7L1226.7 758.3L1246.7 750.0L1253.3 765.0L1260.0 746.7L1280.0 740.0L1300.0 730.0L1306.7 736.7L1316.7 726.7L1323.3 706.7L1328.3 683.3L1340.0 668.3L1346.7 666.7L1345.0 680.0L1341.7 693.3L1353.3 698.3L1363.3 701.7L1366.7 686.7L1380.0 680.0L1400.0 676.7"/>
<path stroke-width="4.0" d="M700.0 721.7L710.0 725.0L720.0 731.7L713.3 736.7L716.7 743.3L710.0 748.3L715.0 766.7L715.0 781.7L710.0 788.3L700.0 787.3"/>
<path stroke-width="4.0" d="M1200.0 538.3L1208.3 530.0L1209.3 521.7L1216.7 516.7L1219.3 508.3L1216.7 500.0L1220.0 486.7L1218.3 481.7L1225.0 463.3L1233.3 456.7L1238.3 446.7L1240.0 433.3L1243.3 418.3L1253.3 405.0L1266.7 387.3L1280.0 370.0L1293.3 351.7L1306.7 333.3L1311.7 331.7L1321.7 334.3L1321.7 350.0L1325.0 358.3L1333.3 362.7L1340.0 360.7L1350.0 356.7L1366.7 352.7L1378.3 351.7L1380.0 346.7L1390.0 342.7L1396.7 345.0L1406.7 355.0L1416.7 365.0L1423.3 373.3L1430.0 378.3L1431.7 400.0L1431.7 516.7L1430.0 530.0L1433.3 538.3L1446.7 545.0L1458.3 548.3L1463.3 551.7L1463.3 558.3L1456.7 561.7L1460.0 573.3L1461.7 583.3L1460.0 586.7L1465.0 595.0L1476.7 595.0L1483.3 600.0L1490.0 606.7L1492.7 616.7L1491.7 626.7L1482.7 628.3L1483.3 631.7L1495.0 635.0L1496.7 640.0L1490.0 643.3L1488.3 650.0L1480.0 656.7L1473.3 658.3L1470.0 651.7L1463.3 655.0L1456.7 661.7L1450.0 660.0L1445.0 668.3L1433.3 670.0L1426.7 666.7L1420.0 680.0L1413.3 675.0L1410.0 686.7L1405.0 691.7L1401.7 680.0L1396.7 675.0L1386.7 673.3L1381.7 678.3L1373.3 676.7L1370.0 685.0L1361.7 688.3L1360.0 695.0L1365.0 698.3L1363.3 703.3L1355.0 700.0L1348.3 695.0L1341.7 693.3L1346.7 686.7L1351.7 685.0L1346.7 678.3L1345.0 668.3L1341.7 666.7L1338.3 678.3L1330.0 681.7L1326.7 688.3L1325.0 700.0L1320.0 713.3L1316.7 725.0L1306.7 730.0L1308.3 736.7L1305.0 740.0L1296.7 730.0L1290.0 731.7L1283.3 746.7L1280.0 740.0L1273.3 743.3L1260.0 748.3L1256.7 763.3L1253.3 765.0L1250.0 750.0L1240.0 751.7L1230.0 755.0L1223.3 761.7L1220.0 773.3L1224.0 781.7L1220.0 786.7L1215.0 790.0L1210.0 800.0L1203.3 808.3L1200.0 810.0"/>
<path stroke-width="4.0" d="M181.7 834.0L185.0 844.0L181.7 854.0L179.3 867.3L179.3 884.0L171.7 897.3L166.7 890.7L165.0 884.0L160.0 883.3L154.0 889.0L155.0 895.7L150.0 899.0L148.3 912.3L143.3 917.3L133.3 922.3L128.3 927.3L125.0 937.3L126.0 947.3L123.3 957.3L116.7 964.0L111.7 967.3L105.0 974.0L100.0 984.0L96.7 999.0L103.3 995.7L110.0 994.0L116.7 997.3L126.7 1000.7L133.3 1007.3L143.3 1014.0L150.0 1015.7L153.3 1009.0L156.7 1015.7L163.3 1015.7L156.7 1019.0L146.7 1020.7L140.0 1024.0L143.3 1027.3L153.3 1024.0L166.7 1022.3L173.3 1027.3L181.7 1032.3L190.0 1029.0L206.7 1024.0L220.0 1017.3L233.3 1019.0L246.7 1016.7L256.7 1010.7L266.7 1000.7L276.7 992.3L286.7 987.3L300.0 980.7L313.3 975.7L333.3 969.0L348.3 965.7L366.7 959.0L380.0 949.0L385.0 945.7L393.3 940.7L413.3 930.7L426.7 922.3L440.0 912.3L450.0 905.7L463.3 899.0L473.3 884.0L480.0 877.3L489.3 874.0L490.0 867.3L486.7 857.3L483.3 850.7L478.3 847.3L475.0 839.0L471.7 834.0"/>
<path stroke-width="4.0" d="M36.7 994.0L66.7 992.3L100.0 990.0"/>
<path stroke-width="4.0" d="M348.3 965.7L349.3 1034.0L350.0 1223.3L433.3 1222.3L700.0 1223.3"/>
<path stroke-width="4.0" d="M413.3 932.3L414.0 960.7L500.0 962.0L700.0 961.3"/>
<path stroke-width="4.0" d="M348.3 1119.0L340.0 1120.0L336.0 1125.7L340.0 1135.7L339.3 1150.7L333.3 1164.0L330.0 1177.3L325.0 1197.3L321.7 1210.7L320.0 1227.3L313.3 1237.3L300.0 1247.3L286.7 1262.3L276.7 1265.7L266.7 1260.7L260.0 1267.3L253.3 1274.0L246.7 1277.3L241.7 1290.7L238.3 1299.0L240.0 1310.7L243.3 1314.0L233.3 1319.0L230.0 1310.7L223.3 1304.0L216.7 1305.7L210.0 1317.3L208.3 1327.3L203.3 1334.0L205.0 1350.7L200.0 1357.3L196.7 1368.0"/>
<path stroke-width="4.0" d="M36.7 1327.3L50.0 1332.3L60.0 1330.7L73.3 1340.7L83.3 1347.3L90.0 1342.3L106.7 1345.7L113.3 1350.7L126.7 1349.0L133.3 1340.7L146.7 1335.7L150.0 1344.0L153.3 1354.0L163.3 1360.7L173.3 1368.0"/>
<path stroke-width="4.0" d="M436.7 1223.3L437.3 1284.0L446.7 1277.3L460.0 1267.3L473.3 1257.3L483.3 1250.7L493.3 1242.3L498.3 1235.7L500.0 1240.7L510.0 1247.3L520.0 1249.0L526.7 1240.7L533.3 1235.7L543.3 1230.7L550.0 1229.0L556.7 1234.0L566.7 1237.3L573.3 1239.0L576.7 1247.3L581.7 1250.7L583.3 1260.7L588.3 1270.7L596.7 1277.3L606.7 1282.3L601.7 1290.7L606.7 1297.3L616.7 1304.0L626.7 1309.0L640.0 1314.0L645.0 1324.0L643.3 1334.0L638.3 1344.0L630.0 1354.0L623.3 1368.0"/>
<path stroke-width="4.0" d="M588.3 1272.3L578.3 1291.3L533.3 1255.7L530.0 1267.3L526.7 1284.0L520.0 1294.0L506.7 1307.3L496.7 1317.3L490.0 1330.7L480.0 1325.7L473.3 1334.0L466.7 1354.0L460.0 1368.0"/>
<path stroke-width="2.5" d="M640.0 1310.7L653.3 1320.0L645.0 1327.3L635.0 1315.7L640.0 1310.7"/>
<path stroke-width="4.0" d="M700.0 961.3L788.3 961.3L793.3 970.7L803.3 977.3L810.0 987.3L813.3 1000.7L815.0 1010.7L821.7 1020.7L830.0 1025.7L838.3 1027.3L841.7 1034.0L833.3 1040.7L828.3 1050.7L823.3 1064.0L813.3 1070.7L806.7 1080.7L811.7 1090.7L806.7 1100.7L801.7 1110.7L801.7 1124.0L810.0 1130.7L815.0 1140.7L823.3 1150.7L831.7 1160.7L841.7 1174.0L833.3 1179.0L823.3 1182.3L833.3 1179.0"/>
<path stroke-width="4.0" d="M841.7 1034.0L866.7 1047.3L886.7 1060.7L911.7 1077.3L912.7 1090.7L906.7 1100.7L900.0 1110.7L896.7 1120.7"/>
<path stroke-width="4.0" d="M965.0 834.0L965.0 877.3L956.7 910.7L946.7 950.7L945.0 967.3L941.7 1007.3L940.0 1040.7L946.0 1052.3L926.7 1064.0L931.7 1075.7L946.7 1067.3L963.3 1060.7L980.0 1054.0L993.3 1044.0L996.7 1049.0L1013.3 1047.3L1033.3 1044.0L1040.0 1040.7L1046.7 1042.3L1066.7 1039.0L1085.0 1037.3L1100.0 1035.7L1116.7 1030.7L1120.0 1007.3L1126.7 1002.3L1131.7 1010.7L1130.0 1027.3L1140.0 1024.0L1148.3 1017.3L1160.0 1015.7L1173.3 1007.3L1181.7 994.0L1188.3 995.7L1186.7 1014.0L1206.7 1014.0L1220.0 1007.3L1233.3 1004.0L1243.3 1007.3L1246.7 990.7L1248.3 974.0L1243.3 960.7L1233.3 952.3L1225.0 950.7L1220.0 955.7L1226.7 962.3L1236.7 967.3L1240.0 977.3L1233.3 985.7L1223.3 990.7L1213.3 994.0L1203.3 990.7L1196.7 980.7L1193.3 967.3L1186.7 960.7L1183.3 947.3L1176.7 934.0L1166.7 930.7L1156.7 930.7L1153.3 920.7L1160.0 910.7L1170.0 907.3L1176.7 897.3L1180.0 884.0L1175.0 870.7L1170.0 860.7L1160.0 862.3L1146.7 867.3L1140.0 874.0L1133.3 882.3L1026.7 876.7L965.0 877.3"/>
<path stroke-width="4.0" d="M1035.0 834.0L1028.3 850.7L1026.7 867.3L1030.0 876.7"/>
<path stroke-width="4.0" d="M946.7 956.7L1006.7 958.0L1008.3 962.3L1011.7 957.3L1090.0 958.0L1125.0 958.0L1126.7 977.3L1133.3 990.7L1143.3 994.0L1146.7 1014.0L1150.0 1020.7"/>
<path stroke-width="4.0" d="M1090.0 958.0L1092.7 1027.3L1086.7 1034.0L1086.0 1042.3"/>
<path stroke-width="4.0" d="M910.0 1127.3L920.0 1120.7L933.3 1117.3L940.0 1112.3L946.7 1104.0L953.3 1097.3L966.7 1090.7L976.7 1087.3L986.7 1082.3L1000.0 1080.7L1013.3 1075.7L1023.3 1070.7L1033.3 1064.0L1043.3 1060.7L1050.0 1060.7L1046.7 1067.3L1033.3 1072.3L1026.7 1080.7L1020.0 1087.3L1028.3 1092.3L1033.3 1084.0L1046.7 1077.3L1060.0 1072.3L1073.3 1069.0L1083.3 1069.0L1080.0 1075.7L1066.7 1082.3L1053.3 1089.0L1040.0 1095.7L1026.7 1100.7L1013.3 1105.7L1000.0 1112.3L986.7 1117.3L970.0 1120.7L953.3 1122.3L933.3 1125.7L916.7 1130.0L910.0 1127.3"/>
<path stroke-width="5" d="M970.0 1120.7L993.3 1110.7L1016.7 1099.7"/>
<path stroke-width="4.0" d="M1171.7 1039.0L1180.0 1034.0L1190.0 1025.7L1200.0 1030.7L1205.0 1034.0L1193.3 1039.0L1180.0 1040.7L1171.7 1039.0"/>
<path stroke-width="4.0" d="M1223.3 1044.0L1233.3 1040.7L1240.0 1034.0L1246.7 1044.0L1236.7 1050.0L1223.3 1044.0"/>
<path stroke-width="5" d="M896.7 1120.7L900.0 1107.3L906.7 1097.3L910.0 1090.7"/>
<path stroke-width="4.0" d="M196.7 1368.0L200.0 1354.0L208.3 1352.3L205.0 1332.3L213.3 1315.7L220.0 1305.7L230.0 1309.0L233.3 1319.0L243.3 1314.0L238.3 1299.0L241.7 1290.7"/>
<path stroke-width="4.0" d="M36.7 1327.3L50.0 1332.3L60.0 1330.7L73.3 1340.7L83.3 1347.3L90.0 1342.3L106.7 1345.7L113.3 1351.7L126.7 1349.0L133.3 1340.7L146.7 1335.7L150.0 1345.7L153.3 1354.0L163.3 1360.7L173.3 1372.3L186.7 1370.7L196.7 1368.0"/>
<path stroke-width="4.0" d="M173.3 1374.0L175.0 1389.0L171.7 1405.7L180.0 1419.0L185.0 1432.3L193.3 1452.3L203.3 1465.7L208.3 1464.0L213.3 1474.0L226.7 1477.3L233.3 1499.0L246.7 1512.3L260.0 1514.0L270.0 1505.7L276.7 1500.7L286.7 1510.7L300.0 1507.3L313.3 1502.3L320.0 1492.3L330.0 1494.0L336.7 1489.0L350.0 1484.0L355.0 1487.3L366.7 1479.0L365.0 1472.3L376.7 1467.3L368.3 1457.3L376.7 1439.0L386.7 1425.7L396.7 1409.0L406.7 1392.3L415.0 1375.7L420.0 1359.0L425.0 1354.0L433.3 1362.3L436.7 1370.7L450.0 1374.0L460.0 1365.7L466.7 1352.3L473.3 1335.7L480.0 1325.7L488.3 1334.0L496.7 1322.3L506.7 1309.0L520.0 1295.7L526.7 1285.7L530.0 1269.0L533.3 1255.7"/>
<path stroke-width="4.0" d="M226.7 1477.3L213.3 1489.0L196.7 1505.7L180.0 1512.3L163.3 1524.0L156.7 1535.7L150.0 1548.0"/>
<path stroke-width="4.0" d="M500.0 1224.0L701.9 1224.0"/>
<path stroke-width="4.0" d="M753.1 1301.0L754.9 1326.2L758.7 1371.1L813.0 1371.6"/>
<path stroke-width="4.0" d="M795.3 1318.6L802.9 1328.7L810.4 1333.8L813.0 1341.3L811.7 1351.4L800.3 1354.0L800.3 1357.7L811.7 1357.7L814.2 1371.6L813.0 1384.2L807.9 1399.4L802.9 1414.5L795.3 1427.1L787.7 1439.8L777.6 1449.9L770.0 1457.4L765.0 1472.6L757.4 1482.7L749.9 1492.8L744.8 1507.9L739.8 1523.0L737.2 1525.6L733.5 1520.5L732.2 1507.9L736.0 1490.2L739.8 1475.1L744.8 1462.5L749.9 1449.9L757.4 1448.6L760.0 1439.8L756.2 1432.2L762.5 1427.1L775.1 1422.1L785.2 1420.8"/>
<path stroke-width="4.0" d="M676.7 1275.7L686.8 1283.3L696.9 1295.9L691.8 1313.6L686.8 1331.2L688.0 1351.4L694.3 1366.6L699.4 1381.7L691.8 1386.8L681.7 1376.7L674.1 1366.6L676.7 1374.1L686.8 1384.2L699.4 1394.3L704.4 1417.0L699.4 1412.0L691.8 1401.9L681.7 1407.0L671.6 1409.5L661.5 1396.9L651.4 1384.2L643.9 1371.6L641.3 1376.7L646.4 1386.8L656.5 1399.4L671.6 1409.5L684.2 1419.6L694.3 1424.6L707.0 1432.2L714.5 1437.2L712.0 1444.8L707.0 1447.3L704.4 1465.0L696.9 1463.7L686.8 1460.0L681.7 1449.9L671.6 1439.8L661.5 1427.1L654.0 1419.6L659.0 1432.2L666.6 1442.3L681.7 1462.5L691.8 1470.0L707.0 1473.8L696.9 1477.6L699.4 1482.7L709.5 1487.7L712.0 1500.3L701.9 1495.3L694.3 1500.3L699.4 1507.9L691.8 1509.2L681.7 1497.8L671.6 1485.2L664.0 1477.6L669.1 1490.2L681.7 1505.4L691.8 1509.2"/>
<path stroke-width="4.0" d="M737.2 1241.6L727.1 1245.4L722.1 1255.5L734.7 1263.1L722.1 1268.1L714.5 1278.2L712.0 1290.9L722.1 1295.9L717.0 1306.0L714.5 1318.6L717.0 1331.2L707.0 1336.3L712.0 1343.9L727.1 1356.5L712.0 1361.5L707.0 1371.6L714.5 1381.7L727.1 1394.3L739.8 1386.8L737.2 1399.4L749.9 1407.0L752.4 1417.0L742.3 1422.1L747.3 1432.2L757.4 1429.7L785.2 1420.8"/>
<path stroke-width="4.0" d="M628.7 1308.5L641.3 1308.5L654.0 1321.1L643.9 1328.7L640.1 1341.3L626.2 1354.0L619.9 1366.6L621.1 1379.2L626.2 1386.8L641.3 1376.7L643.9 1371.6"/>
<path stroke-width="4.0" d="M648.9 1510.4L659.0 1505.4L661.5 1513.0L676.7 1515.5L681.7 1525.6L701.9 1523.0L709.5 1530.6L696.9 1540.7L681.7 1533.1L674.1 1525.6L691.8 1548.3"/>
<path stroke-width="6" d="M797.8 1396.9L787.7 1437.2"/>
<path stroke-width="4.0" d="M801.4 1100.0L800.0 1108.6L800.7 1118.6L802.9 1125.7L810.0 1128.6L812.9 1137.1L815.7 1142.9L821.4 1145.7L825.7 1152.9L831.4 1161.4L837.1 1167.1L840.7 1172.9L842.9 1175.7L834.3 1177.9L825.7 1181.4L818.6 1187.1L812.9 1194.3L808.6 1200.0L805.7 1205.7L800.0 1208.6L791.4 1210.7L784.3 1212.9L777.1 1221.4L771.4 1230.0L767.9 1235.7L767.1 1244.3L768.6 1252.9L772.9 1261.4L780.0 1270.0L785.7 1280.0L785.7 1288.6L784.3 1297.1L788.6 1305.7L792.9 1314.3L800.0 1325.7L802.9 1331.4"/>
<path stroke-width="4.0" d="M771.4 1230.0L772.9 1238.6L775.0 1242.9L774.3 1250.0L777.1 1255.7L782.9 1261.4L787.1 1267.1L794.3 1272.9L800.0 1277.1L805.7 1284.3L808.6 1287.1L811.4 1283.6L818.6 1284.3L825.7 1287.1L828.6 1291.4L827.9 1300.0L824.3 1305.7L821.4 1311.4L822.1 1315.7L825.7 1316.4L831.4 1314.3L835.7 1308.6L838.6 1300.0L841.4 1292.9L845.7 1285.7L851.4 1277.1L858.6 1267.1L865.7 1261.4L871.4 1255.7L870.0 1250.0L870.0 1245.7L874.3 1247.1L878.6 1241.4L884.3 1235.7L888.6 1227.1L888.6 1217.1L892.9 1210.0L892.9 1200.0L891.4 1194.3L894.3 1188.6L898.6 1191.4L900.0 1200.0L900.0 1211.4L897.1 1218.6L894.3 1211.4L900.0 1191.4L902.9 1174.3L905.7 1160.0L907.1 1147.1L902.9 1138.6L901.4 1145.7L892.9 1142.9L885.7 1141.4L878.6 1134.3L884.3 1125.7L890.0 1118.6L897.1 1115.7L900.0 1108.6L904.3 1100.0"/>
<path stroke-width="4.0" d="M700.0 1223.1L752.9 1223.1L755.0 1217.1L760.0 1212.1L767.1 1209.7L774.3 1209.3L780.0 1211.4L784.3 1212.9"/>
<path stroke-width="4.0" d="M749.3 1225.7L751.4 1257.1L754.3 1300.0L757.1 1329.0"/>
</g></svg>
<div class="t" id="title">Neogalerucella calmariensis: Larvae relative pop. size 12/26/2022</div>
<div class="t" id="sub1">Maps and modeling 11/23/2021 by Oregon State University IPPC USPEST.ORG and</div>
<div class="t" id="sub2">USDA-APHIS-PPQ; climate data from OSU PRISM Climate Group</div>
<div class="t" id="lt">Relative pop. size</div>
<div class="sw" style="top:631px;background:#1a72cc"></div><div class="ll" style="top:631px">0-10</div>
<div class="sw" style="top:691px;background:#4b91a3"></div><div class="ll" style="top:691px">10-20</div>
<div class="sw" style="top:751px;background:#7db075"></div><div class="ll" style="top:751px">20-30</div>
<div class="sw" style="top:811px;background:#b1d145"></div><div class="ll" style="top:811px">30-40</div>
<div class="sw" style="top:871px;background:#e5ee15"></div><div class="ll" style="top:871px">40-50</div>
<div class="sw" style="top:931px;background:#f8e100"></div><div class="ll" style="top:931px">50-60</div>
<div class="sw" style="top:991px;background:#eeaa00"></div><div class="ll" style="top:991px">60-70</div>
<div class="sw" style="top:1051px;background:#e47300"></div><div class="ll" style="top:1051px">70-80</div>
<div class="sw" style="top:1111px;background:#d93700"></div><div class="ll" style="top:1111px">80-90</div>
<div class="sw" style="top:1171px;background:#cc0000"></div><div class="ll" style="top:1171px">90-100</div>
</body>
</html>
